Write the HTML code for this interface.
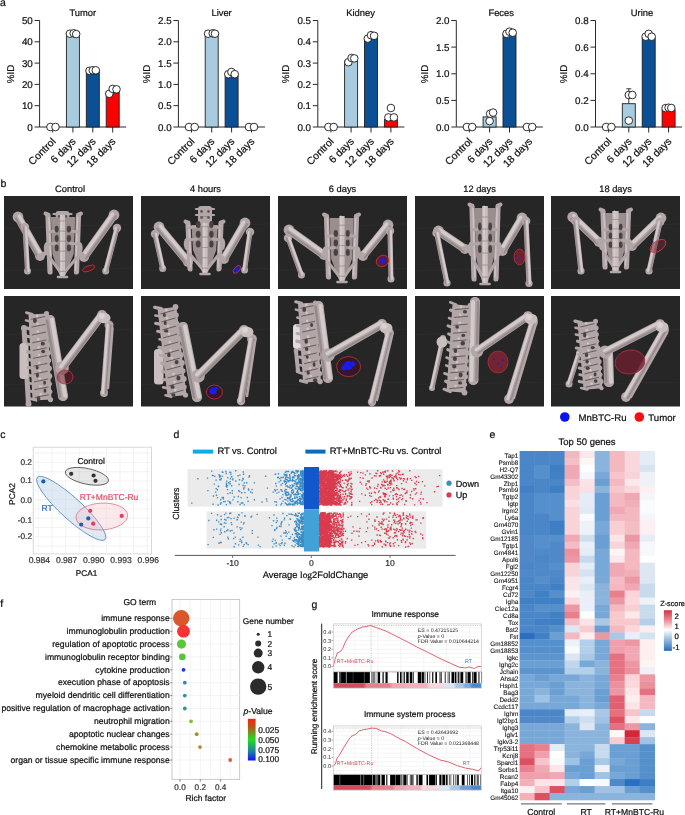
<!DOCTYPE html>
<html><head><meta charset="utf-8"><title>Figure</title>
<style>
html,body{margin:0;padding:0;background:#fff;width:685px;height:815px;overflow:hidden;}
svg{display:block;font-family:"Liberation Sans",sans-serif;will-change:transform;text-rendering:geometricPrecision;}
text{stroke:#111;stroke-width:0.22px;}
</style></head><body>
<svg width="685" height="815" viewBox="0 0 685 815" fill="#111">
<text x="0.0" y="6.2" font-size="10.5">a</text>
<text x="0.5" y="186.6" font-size="10.5">b</text>
<text x="0.3" y="438.2" font-size="10.5">c</text>
<text x="173.6" y="437.9" font-size="10.5">d</text>
<text x="489.5" y="438.4" font-size="10.5">e</text>
<text x="0.3" y="607.4" font-size="10.5">f</text>
<text x="311.6" y="607.7" font-size="10.5">g</text>
<text x="82.8" y="15.9" font-size="9.4" text-anchor="middle">Tumor</text>
<path d="M39.6 20.5V127.0H126.2" fill="none" stroke="#2a2a2a" stroke-width="1"/>
<path d="M34.6 127.0H39.6" stroke="#2a2a2a" stroke-width="1"/>
<text x="32.8" y="130.5" font-size="9.8" text-anchor="end">0</text>
<path d="M34.6 105.7H39.6" stroke="#2a2a2a" stroke-width="1"/>
<text x="32.8" y="109.2" font-size="9.8" text-anchor="end">10</text>
<path d="M34.6 84.4H39.6" stroke="#2a2a2a" stroke-width="1"/>
<text x="32.8" y="87.9" font-size="9.8" text-anchor="end">20</text>
<path d="M34.6 63.1H39.6" stroke="#2a2a2a" stroke-width="1"/>
<text x="32.8" y="66.6" font-size="9.8" text-anchor="end">30</text>
<path d="M34.6 41.8H39.6" stroke="#2a2a2a" stroke-width="1"/>
<text x="32.8" y="45.3" font-size="9.8" text-anchor="end">40</text>
<path d="M34.6 20.5H39.6" stroke="#2a2a2a" stroke-width="1"/>
<text x="32.8" y="24.0" font-size="9.8" text-anchor="end">50</text>
<text transform="translate(10.1,74.0) rotate(-90)" font-size="9.8" text-anchor="middle" y="3.5">%ID</text>
<path d="M52.7 127.0V132.5" stroke="#2a2a2a" stroke-width="1"/>
<circle cx="50.4" cy="127.0" r="3.8" fill="#fff" stroke="#1a1a1a" stroke-width="0.9"/>
<circle cx="55.5" cy="127.0" r="3.8" fill="#fff" stroke="#1a1a1a" stroke-width="0.9"/>
<text transform="translate(56.3,142.0) rotate(-45)" font-size="10.4" text-anchor="end">Control</text>
<path d="M72.9 127.0V132.5" stroke="#2a2a2a" stroke-width="1"/>
<rect x="66.4" y="33.3" width="13" height="93.7" fill="#a9cbe0" stroke="#222" stroke-width="0.9"/>
<circle cx="69.9" cy="33.7" r="3.8" fill="#fff" stroke="#1a1a1a" stroke-width="0.9"/>
<circle cx="73.7" cy="33.3" r="3.8" fill="#fff" stroke="#1a1a1a" stroke-width="0.9"/>
<circle cx="76.2" cy="34.1" r="3.8" fill="#fff" stroke="#1a1a1a" stroke-width="0.9"/>
<text transform="translate(76.5,142.0) rotate(-45)" font-size="10.4" text-anchor="end">6 days</text>
<path d="M92.8 127.0V132.5" stroke="#2a2a2a" stroke-width="1"/>
<rect x="86.3" y="70.6" width="13" height="56.4" fill="#0b4f95" stroke="#222" stroke-width="0.9"/>
<circle cx="89.5" cy="70.8" r="3.8" fill="#fff" stroke="#1a1a1a" stroke-width="0.9"/>
<circle cx="92.8" cy="70.3" r="3.8" fill="#fff" stroke="#1a1a1a" stroke-width="0.9"/>
<circle cx="95.8" cy="70.3" r="3.8" fill="#fff" stroke="#1a1a1a" stroke-width="0.9"/>
<text transform="translate(96.4,142.0) rotate(-45)" font-size="10.4" text-anchor="end">12 days</text>
<path d="M112.7 127.0V132.5" stroke="#2a2a2a" stroke-width="1"/>
<rect x="106.2" y="91.9" width="13" height="35.1" fill="#ff0000" stroke="#222" stroke-width="0.9"/>
<circle cx="109.3" cy="93.8" r="3.8" fill="#fff" stroke="#1a1a1a" stroke-width="0.9"/>
<circle cx="112.7" cy="88.9" r="3.8" fill="#fff" stroke="#1a1a1a" stroke-width="0.9"/>
<circle cx="116.5" cy="89.3" r="3.8" fill="#fff" stroke="#1a1a1a" stroke-width="0.9"/>
<text transform="translate(116.3,142.0) rotate(-45)" font-size="10.4" text-anchor="end">18 days</text>
<text x="221.6" y="15.9" font-size="9.4" text-anchor="middle">Liver</text>
<path d="M178.4 20.5V127.0H265.0" fill="none" stroke="#2a2a2a" stroke-width="1"/>
<path d="M173.4 127.0H178.4" stroke="#2a2a2a" stroke-width="1"/>
<text x="171.6" y="130.5" font-size="9.8" text-anchor="end">0.0</text>
<path d="M173.4 105.7H178.4" stroke="#2a2a2a" stroke-width="1"/>
<text x="171.6" y="109.2" font-size="9.8" text-anchor="end">0.5</text>
<path d="M173.4 84.4H178.4" stroke="#2a2a2a" stroke-width="1"/>
<text x="171.6" y="87.9" font-size="9.8" text-anchor="end">1.0</text>
<path d="M173.4 63.1H178.4" stroke="#2a2a2a" stroke-width="1"/>
<text x="171.6" y="66.6" font-size="9.8" text-anchor="end">1.5</text>
<path d="M173.4 41.8H178.4" stroke="#2a2a2a" stroke-width="1"/>
<text x="171.6" y="45.3" font-size="9.8" text-anchor="end">2.0</text>
<path d="M173.4 20.5H178.4" stroke="#2a2a2a" stroke-width="1"/>
<text x="171.6" y="24.0" font-size="9.8" text-anchor="end">2.5</text>
<text transform="translate(146.4,74.0) rotate(-90)" font-size="9.8" text-anchor="middle" y="3.5">%ID</text>
<path d="M191.5 127.0V132.5" stroke="#2a2a2a" stroke-width="1"/>
<circle cx="189.0" cy="127.0" r="3.8" fill="#fff" stroke="#1a1a1a" stroke-width="0.9"/>
<circle cx="194.7" cy="127.0" r="3.8" fill="#fff" stroke="#1a1a1a" stroke-width="0.9"/>
<text transform="translate(195.1,142.0) rotate(-45)" font-size="10.4" text-anchor="end">Control</text>
<path d="M211.7 127.0V132.5" stroke="#2a2a2a" stroke-width="1"/>
<rect x="205.2" y="33.3" width="13" height="93.7" fill="#a9cbe0" stroke="#222" stroke-width="0.9"/>
<circle cx="208.1" cy="33.7" r="3.8" fill="#fff" stroke="#1a1a1a" stroke-width="0.9"/>
<circle cx="212.7" cy="33.3" r="3.8" fill="#fff" stroke="#1a1a1a" stroke-width="0.9"/>
<circle cx="215.0" cy="33.7" r="3.8" fill="#fff" stroke="#1a1a1a" stroke-width="0.9"/>
<text transform="translate(215.3,142.0) rotate(-45)" font-size="10.4" text-anchor="end">6 days</text>
<path d="M231.6 127.0V132.5" stroke="#2a2a2a" stroke-width="1"/>
<rect x="225.1" y="75.9" width="13" height="51.1" fill="#0b4f95" stroke="#222" stroke-width="0.9"/>
<circle cx="228.3" cy="74.2" r="3.8" fill="#fff" stroke="#1a1a1a" stroke-width="0.9"/>
<circle cx="231.4" cy="72.0" r="3.8" fill="#fff" stroke="#1a1a1a" stroke-width="0.9"/>
<circle cx="234.7" cy="74.2" r="3.8" fill="#fff" stroke="#1a1a1a" stroke-width="0.9"/>
<text transform="translate(235.2,142.0) rotate(-45)" font-size="10.4" text-anchor="end">12 days</text>
<path d="M251.5 127.0V132.5" stroke="#2a2a2a" stroke-width="1"/>
<circle cx="249.0" cy="127.0" r="3.8" fill="#fff" stroke="#1a1a1a" stroke-width="0.9"/>
<circle cx="254.0" cy="127.0" r="3.8" fill="#fff" stroke="#1a1a1a" stroke-width="0.9"/>
<text transform="translate(255.1,142.0) rotate(-45)" font-size="10.4" text-anchor="end">18 days</text>
<text x="360.5" y="15.9" font-size="9.4" text-anchor="middle">Kidney</text>
<path d="M317.8 20.5V127.0H404.4" fill="none" stroke="#2a2a2a" stroke-width="1"/>
<path d="M312.8 127.0H317.8" stroke="#2a2a2a" stroke-width="1"/>
<text x="311.0" y="130.5" font-size="9.8" text-anchor="end">0.0</text>
<path d="M312.8 105.7H317.8" stroke="#2a2a2a" stroke-width="1"/>
<text x="311.0" y="109.2" font-size="9.8" text-anchor="end">0.1</text>
<path d="M312.8 84.4H317.8" stroke="#2a2a2a" stroke-width="1"/>
<text x="311.0" y="87.9" font-size="9.8" text-anchor="end">0.2</text>
<path d="M312.8 63.1H317.8" stroke="#2a2a2a" stroke-width="1"/>
<text x="311.0" y="66.6" font-size="9.8" text-anchor="end">0.3</text>
<path d="M312.8 41.8H317.8" stroke="#2a2a2a" stroke-width="1"/>
<text x="311.0" y="45.3" font-size="9.8" text-anchor="end">0.4</text>
<path d="M312.8 20.5H317.8" stroke="#2a2a2a" stroke-width="1"/>
<text x="311.0" y="24.0" font-size="9.8" text-anchor="end">0.5</text>
<text transform="translate(285.4,74.0) rotate(-90)" font-size="9.8" text-anchor="middle" y="3.5">%ID</text>
<path d="M330.9 127.0V132.5" stroke="#2a2a2a" stroke-width="1"/>
<circle cx="328.4" cy="127.0" r="3.8" fill="#fff" stroke="#1a1a1a" stroke-width="0.9"/>
<circle cx="333.7" cy="127.0" r="3.8" fill="#fff" stroke="#1a1a1a" stroke-width="0.9"/>
<text transform="translate(334.5,142.0) rotate(-45)" font-size="10.4" text-anchor="end">Control</text>
<path d="M351.1 127.0V132.5" stroke="#2a2a2a" stroke-width="1"/>
<rect x="344.6" y="61.0" width="13" height="66.0" fill="#a9cbe0" stroke="#222" stroke-width="0.9"/>
<circle cx="348.4" cy="62.2" r="3.8" fill="#fff" stroke="#1a1a1a" stroke-width="0.9"/>
<circle cx="351.6" cy="58.0" r="3.8" fill="#fff" stroke="#1a1a1a" stroke-width="0.9"/>
<circle cx="354.3" cy="58.4" r="3.8" fill="#fff" stroke="#1a1a1a" stroke-width="0.9"/>
<text transform="translate(354.7,142.0) rotate(-45)" font-size="10.4" text-anchor="end">6 days</text>
<path d="M371.0 127.0V132.5" stroke="#2a2a2a" stroke-width="1"/>
<rect x="364.5" y="37.5" width="13" height="89.5" fill="#0b4f95" stroke="#222" stroke-width="0.9"/>
<circle cx="367.8" cy="38.6" r="3.8" fill="#fff" stroke="#1a1a1a" stroke-width="0.9"/>
<circle cx="371.0" cy="35.2" r="3.8" fill="#fff" stroke="#1a1a1a" stroke-width="0.9"/>
<circle cx="374.1" cy="35.8" r="3.8" fill="#fff" stroke="#1a1a1a" stroke-width="0.9"/>
<text transform="translate(374.6,142.0) rotate(-45)" font-size="10.4" text-anchor="end">12 days</text>
<path d="M390.9 127.0V132.5" stroke="#2a2a2a" stroke-width="1"/>
<rect x="384.4" y="119.5" width="13" height="7.5" fill="#ff0000" stroke="#222" stroke-width="0.9"/>
<circle cx="390.9" cy="108.0" r="3.8" fill="#fff" stroke="#1a1a1a" stroke-width="0.9"/>
<circle cx="388.4" cy="117.4" r="3.8" fill="#fff" stroke="#1a1a1a" stroke-width="0.9"/>
<circle cx="393.9" cy="117.4" r="3.8" fill="#fff" stroke="#1a1a1a" stroke-width="0.9"/>
<text transform="translate(394.5,142.0) rotate(-45)" font-size="10.4" text-anchor="end">18 days</text>
<text x="501.2" y="15.9" font-size="9.4" text-anchor="middle">Feces</text>
<path d="M456.3 20.5V127.0H542.9" fill="none" stroke="#2a2a2a" stroke-width="1"/>
<path d="M451.3 127.0H456.3" stroke="#2a2a2a" stroke-width="1"/>
<text x="449.5" y="130.5" font-size="9.8" text-anchor="end">0.0</text>
<path d="M451.3 100.4H456.3" stroke="#2a2a2a" stroke-width="1"/>
<text x="449.5" y="103.9" font-size="9.8" text-anchor="end">0.5</text>
<path d="M451.3 73.8H456.3" stroke="#2a2a2a" stroke-width="1"/>
<text x="449.5" y="77.2" font-size="9.8" text-anchor="end">1.0</text>
<path d="M451.3 47.1H456.3" stroke="#2a2a2a" stroke-width="1"/>
<text x="449.5" y="50.6" font-size="9.8" text-anchor="end">1.5</text>
<path d="M451.3 20.5H456.3" stroke="#2a2a2a" stroke-width="1"/>
<text x="449.5" y="24.0" font-size="9.8" text-anchor="end">2.0</text>
<text transform="translate(424.6,74.0) rotate(-90)" font-size="9.8" text-anchor="middle" y="3.5">%ID</text>
<path d="M469.4 127.0V132.5" stroke="#2a2a2a" stroke-width="1"/>
<circle cx="466.9" cy="127.0" r="3.8" fill="#fff" stroke="#1a1a1a" stroke-width="0.9"/>
<circle cx="472.2" cy="127.0" r="3.8" fill="#fff" stroke="#1a1a1a" stroke-width="0.9"/>
<text transform="translate(473.0,142.0) rotate(-45)" font-size="10.4" text-anchor="end">Control</text>
<path d="M489.6 127.0V132.5" stroke="#2a2a2a" stroke-width="1"/>
<rect x="483.1" y="116.9" width="13" height="10.1" fill="#a9cbe0" stroke="#222" stroke-width="0.9"/>
<circle cx="489.6" cy="121.1" r="3.8" fill="#fff" stroke="#1a1a1a" stroke-width="0.9"/>
<circle cx="490.1" cy="113.7" r="3.8" fill="#fff" stroke="#1a1a1a" stroke-width="0.9"/>
<circle cx="493.1" cy="112.6" r="3.8" fill="#fff" stroke="#1a1a1a" stroke-width="0.9"/>
<text transform="translate(493.2,142.0) rotate(-45)" font-size="10.4" text-anchor="end">6 days</text>
<path d="M509.5 127.0V132.5" stroke="#2a2a2a" stroke-width="1"/>
<rect x="503.0" y="34.3" width="13" height="92.7" fill="#0b4f95" stroke="#222" stroke-width="0.9"/>
<circle cx="506.5" cy="33.8" r="3.8" fill="#fff" stroke="#1a1a1a" stroke-width="0.9"/>
<circle cx="509.5" cy="31.7" r="3.8" fill="#fff" stroke="#1a1a1a" stroke-width="0.9"/>
<circle cx="512.7" cy="32.7" r="3.8" fill="#fff" stroke="#1a1a1a" stroke-width="0.9"/>
<text transform="translate(513.1,142.0) rotate(-45)" font-size="10.4" text-anchor="end">12 days</text>
<path d="M529.4 127.0V132.5" stroke="#2a2a2a" stroke-width="1"/>
<circle cx="526.9" cy="127.0" r="3.8" fill="#fff" stroke="#1a1a1a" stroke-width="0.9"/>
<circle cx="532.2" cy="127.0" r="3.8" fill="#fff" stroke="#1a1a1a" stroke-width="0.9"/>
<text transform="translate(533.0,142.0) rotate(-45)" font-size="10.4" text-anchor="end">18 days</text>
<text x="642.0" y="15.9" font-size="9.4" text-anchor="middle">Urine</text>
<path d="M595.5 20.5V127.0H682.1" fill="none" stroke="#2a2a2a" stroke-width="1"/>
<path d="M590.5 127.0H595.5" stroke="#2a2a2a" stroke-width="1"/>
<text x="588.7" y="130.5" font-size="9.8" text-anchor="end">0.0</text>
<path d="M590.5 100.4H595.5" stroke="#2a2a2a" stroke-width="1"/>
<text x="588.7" y="103.9" font-size="9.8" text-anchor="end">0.2</text>
<path d="M590.5 73.8H595.5" stroke="#2a2a2a" stroke-width="1"/>
<text x="588.7" y="77.2" font-size="9.8" text-anchor="end">0.4</text>
<path d="M590.5 47.1H595.5" stroke="#2a2a2a" stroke-width="1"/>
<text x="588.7" y="50.6" font-size="9.8" text-anchor="end">0.6</text>
<path d="M590.5 20.5H595.5" stroke="#2a2a2a" stroke-width="1"/>
<text x="588.7" y="24.0" font-size="9.8" text-anchor="end">0.8</text>
<text transform="translate(563.4,74.0) rotate(-90)" font-size="9.8" text-anchor="middle" y="3.5">%ID</text>
<path d="M608.6 127.0V132.5" stroke="#2a2a2a" stroke-width="1"/>
<circle cx="606.1" cy="127.0" r="3.8" fill="#fff" stroke="#1a1a1a" stroke-width="0.9"/>
<circle cx="611.4" cy="127.0" r="3.8" fill="#fff" stroke="#1a1a1a" stroke-width="0.9"/>
<text transform="translate(612.2,142.0) rotate(-45)" font-size="10.4" text-anchor="end">Control</text>
<path d="M628.8 127.0V132.5" stroke="#2a2a2a" stroke-width="1"/>
<rect x="622.3" y="103.7" width="13" height="23.3" fill="#a9cbe0" stroke="#222" stroke-width="0.9"/>
<path d="M628.8 103.7V88.8M626.3 88.8H631.3" stroke="#222" stroke-width="0.9"/>
<circle cx="628.8" cy="120.6" r="3.8" fill="#fff" stroke="#1a1a1a" stroke-width="0.9"/>
<circle cx="628.8" cy="95.0" r="3.8" fill="#fff" stroke="#1a1a1a" stroke-width="0.9"/>
<circle cx="632.3" cy="95.0" r="3.8" fill="#fff" stroke="#1a1a1a" stroke-width="0.9"/>
<text transform="translate(632.4,142.0) rotate(-45)" font-size="10.4" text-anchor="end">6 days</text>
<path d="M648.7 127.0V132.5" stroke="#2a2a2a" stroke-width="1"/>
<rect x="642.2" y="37.8" width="13" height="89.2" fill="#0b4f95" stroke="#222" stroke-width="0.9"/>
<circle cx="645.7" cy="36.7" r="3.8" fill="#fff" stroke="#1a1a1a" stroke-width="0.9"/>
<circle cx="648.7" cy="33.8" r="3.8" fill="#fff" stroke="#1a1a1a" stroke-width="0.9"/>
<circle cx="651.7" cy="36.7" r="3.8" fill="#fff" stroke="#1a1a1a" stroke-width="0.9"/>
<text transform="translate(652.3,142.0) rotate(-45)" font-size="10.4" text-anchor="end">12 days</text>
<path d="M668.6 127.0V132.5" stroke="#2a2a2a" stroke-width="1"/>
<rect x="662.1" y="109.7" width="13" height="17.3" fill="#ff0000" stroke="#222" stroke-width="0.9"/>
<circle cx="665.6" cy="108.1" r="3.8" fill="#fff" stroke="#1a1a1a" stroke-width="0.9"/>
<circle cx="668.6" cy="107.7" r="3.8" fill="#fff" stroke="#1a1a1a" stroke-width="0.9"/>
<circle cx="671.3" cy="108.0" r="3.8" fill="#fff" stroke="#1a1a1a" stroke-width="0.9"/>
<text transform="translate(672.2,142.0) rotate(-45)" font-size="10.4" text-anchor="end">18 days</text>
<text x="70.1" y="191.8" font-size="9.3" text-anchor="middle">Control</text>
<text x="205.5" y="191.8" font-size="9.3" text-anchor="middle">4 hours</text>
<text x="342.5" y="191.8" font-size="9.3" text-anchor="middle">6 days</text>
<text x="479.5" y="191.8" font-size="9.3" text-anchor="middle">12 days</text>
<text x="615.5" y="191.8" font-size="9.3" text-anchor="middle">18 days</text>
<circle cx="564.8" cy="417" r="4.8" fill="#0a14f0"/>
<text x="578.5" y="420.6" font-size="9.6">MnBTC-Ru</text>
<circle cx="639.3" cy="417" r="4.8" fill="#f01010"/>
<text x="648.3" y="420.6" font-size="9.6">Tumor</text>
<defs><filter id="soft" x="-0.05" y="-0.05" width="1.1" height="1.1"><feGaussianBlur stdDeviation="0.35"/></filter></defs>
<svg x="4" y="196" width="129" height="93" overflow="hidden"><rect width="129" height="93" fill="#262626"/><path d="M0 32.5L129 27.9M0 74.4L129 72.5" stroke="#333" stroke-width="0.5"/><g filter="url(#soft)"><path d="M14.0 21.0L36.0 60.0" stroke="#b2a6a7" stroke-width="8.3" stroke-linecap="round"/><circle cx="14.0" cy="21.0" r="5.4" fill="#b2a6a7"/><circle cx="36.0" cy="60.0" r="5.0" fill="#b2a6a7"/><path d="M15.4 20.2L37.4 59.2" stroke="#e2dada" stroke-width="3.3" stroke-linecap="round" opacity="0.7"/><path d="M11.8 22.2L33.8 61.2" stroke="#857a7b" stroke-width="2.1" stroke-linecap="round" opacity="0.6"/><path d="M21.0 31.0L23.5 75.0" stroke="#b2a6a7" stroke-width="5.0" stroke-linecap="round"/><circle cx="21.0" cy="31.0" r="4.2" fill="#b2a6a7"/><circle cx="23.5" cy="75.0" r="3.5" fill="#b2a6a7"/><path d="M22.0 30.9L24.5 74.9" stroke="#e2dada" stroke-width="2.0" stroke-linecap="round" opacity="0.7"/><path d="M19.5 31.1L22.0 75.1" stroke="#857a7b" stroke-width="1.2" stroke-linecap="round" opacity="0.6"/><path d="M35.0 60.0L42.0 57.0" stroke="#b2a6a7" stroke-width="4.5" stroke-linecap="round"/><polygon points="46.9,21.0 71.3,21.0 69.7,57.9 61.5,79.0 55.5,79.0 48.4,57.9" fill="#9a8e8f"/><rect x="51.5" y="15.0" width="14" height="7.0" rx="3" fill="#b2a6a7"/><path d="M49.5 18.0L67.5 18.0" stroke="#b2a6a7" stroke-width="2.2" stroke-linecap="round"/><ellipse cx="55.0" cy="20.5" rx="1.3" ry="1.4" fill="#5e5456"/><ellipse cx="62.0" cy="20.5" rx="1.3" ry="1.4" fill="#5e5456"/><path d="M44.0 19.0L46.0 76.0" stroke="#b2a6a7" stroke-width="5.2" stroke-linecap="round"/><ellipse cx="42.8" cy="51.9" rx="3" ry="6.0" fill="#b2a6a7"/><path d="M45.0 21.0L47.0 74.0" stroke="#e2dada" stroke-width="1.5" stroke-linecap="round" opacity="0.55"/><path d="M44.0 19.0L41.5 17.5" stroke="#b2a6a7" stroke-width="4" stroke-linecap="round"/><path d="M51.2 35.1L44.0 36.1" stroke="#b2a6a7" stroke-width="3" stroke-linecap="round"/><path d="M51.2 47.2L44.0 48.2" stroke="#b2a6a7" stroke-width="3" stroke-linecap="round"/><ellipse cx="52.7" cy="33.1" rx="2.0" ry="3.4" fill="#4a4143"/><ellipse cx="52.7" cy="42.5" rx="2.0" ry="3.4" fill="#4a4143"/><ellipse cx="52.7" cy="51.9" rx="2.0" ry="3.4" fill="#4a4143"/><path d="M46.0 61.9L58.5 79.0" stroke="#b2a6a7" stroke-width="3" stroke-linecap="round"/><path d="M74.5 19.0L72.5 76.0" stroke="#b2a6a7" stroke-width="5.2" stroke-linecap="round"/><ellipse cx="75.7" cy="51.9" rx="3" ry="6.0" fill="#b2a6a7"/><path d="M73.5 21.0L71.5 74.0" stroke="#e2dada" stroke-width="1.5" stroke-linecap="round" opacity="0.55"/><path d="M74.5 19.0L77.0 17.5" stroke="#b2a6a7" stroke-width="4" stroke-linecap="round"/><path d="M66.5 35.1L74.5 36.1" stroke="#b2a6a7" stroke-width="3" stroke-linecap="round"/><path d="M66.5 47.2L74.5 48.2" stroke="#b2a6a7" stroke-width="3" stroke-linecap="round"/><ellipse cx="64.9" cy="33.1" rx="2.2" ry="3.4" fill="#4a4143"/><ellipse cx="64.9" cy="42.5" rx="2.2" ry="3.4" fill="#4a4143"/><ellipse cx="64.9" cy="51.9" rx="2.2" ry="3.4" fill="#4a4143"/><path d="M72.5 61.9L58.5 79.0" stroke="#b2a6a7" stroke-width="3" stroke-linecap="round"/><path d="M58.5 19.0L58.5 82.0" stroke="#c9bfbf" stroke-width="5.25" stroke-linecap="butt"/><path d="M57.5 19.0L57.5 80.0" stroke="#e2dada" stroke-width="1.4" stroke-linecap="round" opacity="0.55"/><path d="M55.9 25.0L61.1 25.0" stroke="#6e6466" stroke-width="0.8" stroke-linecap="round" opacity="0.6"/><path d="M55.9 35.1L61.1 35.1" stroke="#6e6466" stroke-width="0.8" stroke-linecap="round" opacity="0.6"/><path d="M55.9 45.2L61.1 45.2" stroke="#6e6466" stroke-width="0.8" stroke-linecap="round" opacity="0.6"/><path d="M55.9 55.2L61.1 55.2" stroke="#6e6466" stroke-width="0.8" stroke-linecap="round" opacity="0.6"/><path d="M55.9 65.2L61.1 65.2" stroke="#6e6466" stroke-width="0.8" stroke-linecap="round" opacity="0.6"/><path d="M55.9 75.3L61.1 75.3" stroke="#6e6466" stroke-width="0.8" stroke-linecap="round" opacity="0.6"/><path d="M54.0 81.0L63.0 81.0" stroke="#b2a6a7" stroke-width="2.6" stroke-linecap="round"/><path d="M110.0 19.0L80.0 61.0" stroke="#b2a6a7" stroke-width="8.3" stroke-linecap="round"/><circle cx="110.0" cy="19.0" r="5.4" fill="#b2a6a7"/><circle cx="80.0" cy="61.0" r="5.0" fill="#b2a6a7"/><path d="M108.6 18.0L78.6 60.0" stroke="#e2dada" stroke-width="3.3" stroke-linecap="round" opacity="0.7"/><path d="M112.0 20.4L82.0 62.4" stroke="#857a7b" stroke-width="2.1" stroke-linecap="round" opacity="0.6"/><path d="M113.0 32.0L101.7 75.0" stroke="#b2a6a7" stroke-width="5.0" stroke-linecap="round"/><circle cx="113.0" cy="32.0" r="4.2" fill="#b2a6a7"/><circle cx="101.7" cy="75.0" r="3.5" fill="#b2a6a7"/><path d="M112.0 31.7L100.7 74.7" stroke="#e2dada" stroke-width="2.0" stroke-linecap="round" opacity="0.7"/><path d="M114.5 32.4L103.2 75.4" stroke="#857a7b" stroke-width="1.2" stroke-linecap="round" opacity="0.6"/><path d="M80.0 60.0L75.0 57.0" stroke="#b2a6a7" stroke-width="4.5" stroke-linecap="round"/><ellipse cx="84.7" cy="72.5" rx="6.5" ry="2.6" transform="rotate(-20 84.7 72.5)" fill="#5a1a20" fill-opacity="0.7" stroke="#c83040" stroke-width="0.8"/></g></svg>
<svg x="4" y="296" width="129" height="110.5" overflow="hidden"><rect width="129" height="110.5" fill="#262626"/><path d="M0 38.7L129 33.1M0 88.4L129 86.2" stroke="#333" stroke-width="0.5"/><g filter="url(#soft)"><path d="M20.0 32.0L24.5 108.0" stroke="#b2a6a7" stroke-width="5" stroke-linecap="round"/><circle cx="20.0" cy="32.0" r="3.0" fill="#b2a6a7"/><circle cx="24.5" cy="108.0" r="3.0" fill="#b2a6a7"/><rect x="15.5" y="47" width="9" height="36" rx="3.5" fill="#c9bfbf"/><path d="M34.0 18.0L38.0 104.0" stroke="#b2a6a7" stroke-width="19" stroke-linecap="butt"/><path d="M28.3 18.3L22.4 16.6" stroke="#b2a6a7" stroke-width="2.7699551665480793" stroke-linecap="round"/><circle cx="42.5" cy="17.6" r="2.6" fill="#b2a6a7"/><path d="M28.7 26.1L22.0 24.3" stroke="#b2a6a7" stroke-width="2.4131679915548743" stroke-linecap="round"/><circle cx="42.9" cy="25.4" r="2.8" fill="#b2a6a7"/><path d="M29.0 33.9L23.1 32.2" stroke="#b2a6a7" stroke-width="3.3956448355104625" stroke-linecap="round"/><circle cx="43.3" cy="33.2" r="2.5" fill="#b2a6a7"/><path d="M29.4 41.7L22.3 40.0" stroke="#b2a6a7" stroke-width="3.039068140544162" stroke-linecap="round"/><circle cx="43.6" cy="41.1" r="2.2" fill="#b2a6a7"/><path d="M29.8 49.5L23.1 47.9" stroke="#b2a6a7" stroke-width="2.9231812103833015" stroke-linecap="round"/><circle cx="44.0" cy="48.9" r="2.7" fill="#b2a6a7"/><path d="M30.1 57.4L23.4 55.6" stroke="#b2a6a7" stroke-width="3.1582302462868173" stroke-linecap="round"/><circle cx="44.4" cy="56.7" r="2.6" fill="#b2a6a7"/><path d="M30.5 65.2L24.5 63.4" stroke="#b2a6a7" stroke-width="3.2655272369789454" stroke-linecap="round"/><circle cx="44.7" cy="64.5" r="2.5" fill="#b2a6a7"/><path d="M30.9 73.0L24.0 71.3" stroke="#b2a6a7" stroke-width="3.1141294836112023" stroke-linecap="round"/><circle cx="45.1" cy="72.3" r="2.9" fill="#b2a6a7"/><path d="M31.2 80.8L25.0 79.1" stroke="#b2a6a7" stroke-width="2.8446210560507605" stroke-linecap="round"/><circle cx="45.4" cy="80.1" r="2.9" fill="#b2a6a7"/><path d="M31.6 88.6L24.4 86.9" stroke="#b2a6a7" stroke-width="2.535968860200669" stroke-linecap="round"/><circle cx="45.8" cy="88.0" r="2.2" fill="#b2a6a7"/><path d="M31.9 96.4L24.6 94.7" stroke="#b2a6a7" stroke-width="3.0266482908668038" stroke-linecap="round"/><circle cx="46.2" cy="95.8" r="2.3" fill="#b2a6a7"/><path d="M32.3 104.3L25.9 102.5" stroke="#b2a6a7" stroke-width="2.75091048877018" stroke-linecap="round"/><circle cx="46.5" cy="103.6" r="2.6" fill="#b2a6a7"/><path d="M40.8 20.6L27.5 23.2" stroke="#4a4143" stroke-width="0.9" stroke-linecap="round" opacity="0.8"/><ellipse cx="30.9" cy="24.6" rx="1.9" ry="2.5" fill="#3e3537" opacity="0.9"/><circle cx="33.1" cy="20.0" r="1.3" fill="#e2dada" opacity="0.6"/><path d="M41.2 28.4L27.9 31.0" stroke="#4a4143" stroke-width="0.9" stroke-linecap="round" opacity="0.8"/><circle cx="33.5" cy="27.8" r="1.3" fill="#e2dada" opacity="0.6"/><path d="M41.6 36.2L28.3 38.9" stroke="#4a4143" stroke-width="0.9" stroke-linecap="round" opacity="0.8"/><circle cx="33.9" cy="35.6" r="1.3" fill="#e2dada" opacity="0.6"/><path d="M41.9 44.1L28.6 46.7" stroke="#4a4143" stroke-width="0.9" stroke-linecap="round" opacity="0.8"/><ellipse cx="38.8" cy="47.7" rx="2.0" ry="1.9" fill="#3e3537" opacity="0.9"/><circle cx="34.2" cy="43.4" r="1.3" fill="#e2dada" opacity="0.6"/><path d="M42.3 51.9L29.0 54.5" stroke="#4a4143" stroke-width="0.9" stroke-linecap="round" opacity="0.8"/><ellipse cx="39.2" cy="55.5" rx="2.0" ry="1.8" fill="#3e3537" opacity="0.9"/><circle cx="34.6" cy="51.2" r="1.3" fill="#e2dada" opacity="0.6"/><path d="M42.6 59.7L29.4 62.3" stroke="#4a4143" stroke-width="0.9" stroke-linecap="round" opacity="0.8"/><circle cx="35.0" cy="59.0" r="1.3" fill="#e2dada" opacity="0.6"/><path d="M43.0 67.5L29.7 70.1" stroke="#4a4143" stroke-width="0.9" stroke-linecap="round" opacity="0.8"/><ellipse cx="33.1" cy="71.5" rx="1.5" ry="2.1" fill="#3e3537" opacity="0.9"/><circle cx="35.3" cy="66.9" r="1.3" fill="#e2dada" opacity="0.6"/><path d="M43.4 75.3L30.1 77.9" stroke="#4a4143" stroke-width="0.9" stroke-linecap="round" opacity="0.8"/><ellipse cx="33.4" cy="79.3" rx="1.5" ry="2.4" fill="#3e3537" opacity="0.9"/><circle cx="35.7" cy="74.7" r="1.3" fill="#e2dada" opacity="0.6"/><path d="M43.7 83.1L30.4 85.8" stroke="#4a4143" stroke-width="0.9" stroke-linecap="round" opacity="0.8"/><ellipse cx="40.6" cy="86.8" rx="1.4" ry="2.0" fill="#3e3537" opacity="0.9"/><circle cx="36.0" cy="82.5" r="1.3" fill="#e2dada" opacity="0.6"/><path d="M44.1 91.0L30.8 93.6" stroke="#4a4143" stroke-width="0.9" stroke-linecap="round" opacity="0.8"/><ellipse cx="41.0" cy="94.6" rx="1.4" ry="2.2" fill="#3e3537" opacity="0.9"/><circle cx="36.4" cy="90.3" r="1.3" fill="#e2dada" opacity="0.6"/><path d="M44.5 98.8L31.2 101.4" stroke="#4a4143" stroke-width="0.9" stroke-linecap="round" opacity="0.8"/><ellipse cx="34.5" cy="102.7" rx="1.8" ry="2.5" fill="#3e3537" opacity="0.9"/><circle cx="36.8" cy="98.1" r="1.3" fill="#e2dada" opacity="0.6"/><path d="M46.0 24.0L59.0 100.0" stroke="#b2a6a7" stroke-width="10" stroke-linecap="round"/><circle cx="46.0" cy="24.0" r="5.0" fill="#b2a6a7"/><circle cx="59.0" cy="100.0" r="5.0" fill="#b2a6a7"/><path d="M48.0 23.7L61.0 99.7" stroke="#e2dada" stroke-width="4.0" stroke-linecap="round" opacity="0.7"/><path d="M43.0 24.5L56.0 100.5" stroke="#857a7b" stroke-width="2.5" stroke-linecap="round" opacity="0.6"/><path d="M98.0 19.0L58.0 72.0" stroke="#b2a6a7" stroke-width="8.5" stroke-linecap="round"/><circle cx="98.0" cy="19.0" r="5.1" fill="#b2a6a7"/><circle cx="58.0" cy="72.0" r="6.8" fill="#b2a6a7"/><path d="M96.6 18.0L56.6 71.0" stroke="#e2dada" stroke-width="3.4" stroke-linecap="round" opacity="0.7"/><path d="M100.0 20.5L60.0 73.5" stroke="#857a7b" stroke-width="2.1" stroke-linecap="round" opacity="0.6"/><path d="M105.0 29.0L100.0 97.0" stroke="#b2a6a7" stroke-width="6.5" stroke-linecap="round"/><circle cx="105.0" cy="29.0" r="4.5" fill="#b2a6a7"/><circle cx="100.0" cy="97.0" r="3.9" fill="#b2a6a7"/><path d="M103.7 28.9L98.7 96.9" stroke="#e2dada" stroke-width="2.6" stroke-linecap="round" opacity="0.7"/><path d="M106.9 29.1L101.9 97.1" stroke="#857a7b" stroke-width="1.6" stroke-linecap="round" opacity="0.6"/><path d="M108.5 32.0L104.0 92.0" stroke="#b2a6a7" stroke-width="2.5" stroke-linecap="round"/><ellipse cx="100" cy="22" rx="6.5" ry="5.2" fill="#c9bfbf"/><circle cx="98.0" cy="20.1" r="2.9" fill="#e2dada" opacity="0.7"/><ellipse cx="61" cy="81" rx="8" ry="7" transform="rotate(0 61 81)" fill="#6a1c26" fill-opacity="0.5" stroke="#c83040" stroke-width="0.8"/></g></svg>
<svg x="141" y="196" width="129" height="93" overflow="hidden"><rect width="129" height="93" fill="#262626"/><path d="M0 32.5L129 27.9M0 74.4L129 72.5" stroke="#333" stroke-width="0.5"/><g filter="url(#soft)"><path d="M18.0 31.0L47.0 66.0" stroke="#b2a6a7" stroke-width="8.3" stroke-linecap="round"/><circle cx="18.0" cy="31.0" r="5.4" fill="#b2a6a7"/><circle cx="47.0" cy="66.0" r="5.0" fill="#b2a6a7"/><path d="M19.3 29.9L48.3 64.9" stroke="#e2dada" stroke-width="3.3" stroke-linecap="round" opacity="0.7"/><path d="M16.1 32.6L45.1 67.6" stroke="#857a7b" stroke-width="2.1" stroke-linecap="round" opacity="0.6"/><path d="M14.0 38.0L21.7 72.5" stroke="#b2a6a7" stroke-width="5.0" stroke-linecap="round"/><circle cx="14.0" cy="38.0" r="4.2" fill="#b2a6a7"/><circle cx="21.7" cy="72.5" r="3.5" fill="#b2a6a7"/><path d="M15.0 37.8L22.7 72.3" stroke="#e2dada" stroke-width="2.0" stroke-linecap="round" opacity="0.7"/><path d="M12.5 38.3L20.2 72.8" stroke="#857a7b" stroke-width="1.2" stroke-linecap="round" opacity="0.6"/><path d="M46.0 66.0L51.0 63.0" stroke="#b2a6a7" stroke-width="4.5" stroke-linecap="round"/><polygon points="50.4,29.0 76.8,29.0 75.2,54.2 67.0,76.0 61.0,76.0 52.1,54.2" fill="#9a8e8f"/><rect x="57.0" y="10.0" width="14" height="20.0" rx="3" fill="#b2a6a7"/><path d="M55.0 13.0L73.0 13.0" stroke="#b2a6a7" stroke-width="2.2" stroke-linecap="round"/><ellipse cx="60.5" cy="15.5" rx="1.3" ry="1.4" fill="#5e5456"/><ellipse cx="67.5" cy="15.5" rx="1.3" ry="1.4" fill="#5e5456"/><path d="M55.0 19.0L73.0 19.0" stroke="#b2a6a7" stroke-width="2.2" stroke-linecap="round"/><ellipse cx="60.5" cy="21.5" rx="1.3" ry="1.4" fill="#5e5456"/><ellipse cx="67.5" cy="21.5" rx="1.3" ry="1.4" fill="#5e5456"/><path d="M47.0 27.0L49.0 73.0" stroke="#b2a6a7" stroke-width="5.2" stroke-linecap="round"/><ellipse cx="45.8" cy="48.0" rx="3" ry="6.2" fill="#b2a6a7"/><path d="M48.0 29.0L50.0 71.0" stroke="#e2dada" stroke-width="1.5" stroke-linecap="round" opacity="0.55"/><path d="M47.0 27.0L44.5 25.5" stroke="#b2a6a7" stroke-width="4" stroke-linecap="round"/><path d="M55.5 30.7L47.0 31.7" stroke="#b2a6a7" stroke-width="3" stroke-linecap="round"/><path d="M55.5 43.1L47.0 44.1" stroke="#b2a6a7" stroke-width="3" stroke-linecap="round"/><ellipse cx="57.2" cy="28.6" rx="2.4" ry="3.5" fill="#4a4143"/><ellipse cx="57.2" cy="38.3" rx="2.4" ry="3.5" fill="#4a4143"/><ellipse cx="57.2" cy="48.0" rx="2.4" ry="3.5" fill="#4a4143"/><path d="M49.0 58.3L64.0 76.0" stroke="#b2a6a7" stroke-width="3" stroke-linecap="round"/><path d="M80.0 27.0L78.0 73.0" stroke="#b2a6a7" stroke-width="5.2" stroke-linecap="round"/><ellipse cx="81.2" cy="48.0" rx="3" ry="6.2" fill="#b2a6a7"/><path d="M79.0 29.0L77.0 71.0" stroke="#e2dada" stroke-width="1.5" stroke-linecap="round" opacity="0.55"/><path d="M80.0 27.0L82.5 25.5" stroke="#b2a6a7" stroke-width="4" stroke-linecap="round"/><path d="M72.0 30.7L80.0 31.7" stroke="#b2a6a7" stroke-width="3" stroke-linecap="round"/><path d="M72.0 43.1L80.0 44.1" stroke="#b2a6a7" stroke-width="3" stroke-linecap="round"/><ellipse cx="70.4" cy="28.6" rx="2.2" ry="3.5" fill="#4a4143"/><ellipse cx="70.4" cy="38.3" rx="2.2" ry="3.5" fill="#4a4143"/><ellipse cx="70.4" cy="48.0" rx="2.2" ry="3.5" fill="#4a4143"/><path d="M78.0 58.3L64.0 76.0" stroke="#b2a6a7" stroke-width="3" stroke-linecap="round"/><path d="M64.0 27.0L64.0 79.0" stroke="#c9bfbf" stroke-width="5.25" stroke-linecap="butt"/><path d="M63.0 27.0L63.0 77.0" stroke="#e2dada" stroke-width="1.4" stroke-linecap="round" opacity="0.55"/><path d="M61.4 20.4L66.6 20.4" stroke="#6e6466" stroke-width="0.8" stroke-linecap="round" opacity="0.6"/><path d="M61.4 30.7L66.6 30.7" stroke="#6e6466" stroke-width="0.8" stroke-linecap="round" opacity="0.6"/><path d="M61.4 41.0L66.6 41.0" stroke="#6e6466" stroke-width="0.8" stroke-linecap="round" opacity="0.6"/><path d="M61.4 51.4L66.6 51.4" stroke="#6e6466" stroke-width="0.8" stroke-linecap="round" opacity="0.6"/><path d="M61.4 61.8L66.6 61.8" stroke="#6e6466" stroke-width="0.8" stroke-linecap="round" opacity="0.6"/><path d="M61.4 72.1L66.6 72.1" stroke="#6e6466" stroke-width="0.8" stroke-linecap="round" opacity="0.6"/><path d="M59.5 78.0L68.5 78.0" stroke="#b2a6a7" stroke-width="2.6" stroke-linecap="round"/><path d="M104.0 27.0L83.0 63.0" stroke="#b2a6a7" stroke-width="8.3" stroke-linecap="round"/><circle cx="104.0" cy="27.0" r="5.4" fill="#b2a6a7"/><circle cx="83.0" cy="63.0" r="5.0" fill="#b2a6a7"/><path d="M102.6 26.2L81.6 62.2" stroke="#e2dada" stroke-width="3.3" stroke-linecap="round" opacity="0.7"/><path d="M106.2 28.3L85.2 64.3" stroke="#857a7b" stroke-width="2.1" stroke-linecap="round" opacity="0.6"/><path d="M109.0 36.0L103.6 74.0" stroke="#b2a6a7" stroke-width="5.0" stroke-linecap="round"/><circle cx="109.0" cy="36.0" r="4.2" fill="#b2a6a7"/><circle cx="103.6" cy="74.0" r="3.5" fill="#b2a6a7"/><path d="M108.0 35.9L102.6 73.9" stroke="#e2dada" stroke-width="2.0" stroke-linecap="round" opacity="0.7"/><path d="M110.5 36.2L105.1 74.2" stroke="#857a7b" stroke-width="1.2" stroke-linecap="round" opacity="0.6"/><path d="M83.0 63.0L78.0 60.0" stroke="#b2a6a7" stroke-width="4.5" stroke-linecap="round"/><ellipse cx="96" cy="73.4" rx="4.8" ry="2.6" transform="rotate(-45 96 73.4)" fill="#2020c0" fill-opacity="0.9" stroke="#c83040" stroke-width="0.8"/></g></svg>
<svg x="141" y="296" width="129" height="110.5" overflow="hidden"><rect width="129" height="110.5" fill="#262626"/><path d="M0 38.7L129 33.1M0 88.4L129 86.2" stroke="#333" stroke-width="0.5"/><g filter="url(#soft)"><rect x="13" y="53" width="9.6" height="35.5" rx="3.5" fill="#c9bfbf"/><path d="M26.0 12.0L36.0 100.0" stroke="#b2a6a7" stroke-width="19" stroke-linecap="butt"/><path d="M20.3 12.6L13.6 11.4" stroke="#b2a6a7" stroke-width="3.1951935655656967" stroke-linecap="round"/><circle cx="34.5" cy="11.0" r="2.9" fill="#b2a6a7"/><path d="M21.2 20.6L14.3 19.5" stroke="#b2a6a7" stroke-width="2.4290052282836148" stroke-linecap="round"/><circle cx="35.4" cy="19.0" r="2.5" fill="#b2a6a7"/><path d="M22.2 28.6L14.8 27.4" stroke="#b2a6a7" stroke-width="3.300900491750623" stroke-linecap="round"/><circle cx="36.3" cy="27.0" r="2.1" fill="#b2a6a7"/><path d="M23.1 36.6L16.6 35.3" stroke="#b2a6a7" stroke-width="2.9437608592359306" stroke-linecap="round"/><circle cx="37.2" cy="35.0" r="2.6" fill="#b2a6a7"/><path d="M24.0 44.6L18.5 43.3" stroke="#b2a6a7" stroke-width="2.6794823660111105" stroke-linecap="round"/><circle cx="38.1" cy="43.0" r="2.9" fill="#b2a6a7"/><path d="M24.9 52.6L17.9 51.3" stroke="#b2a6a7" stroke-width="3.1971469914312043" stroke-linecap="round"/><circle cx="39.0" cy="51.0" r="2.1" fill="#b2a6a7"/><path d="M25.8 60.6L19.1 59.3" stroke="#b2a6a7" stroke-width="2.4017748622025348" stroke-linecap="round"/><circle cx="39.9" cy="59.0" r="2.9" fill="#b2a6a7"/><path d="M26.7 68.6L20.8 67.3" stroke="#b2a6a7" stroke-width="3.382421108825925" stroke-linecap="round"/><circle cx="40.9" cy="67.0" r="2.9" fill="#b2a6a7"/><path d="M27.6 76.6L21.5 75.5" stroke="#b2a6a7" stroke-width="2.9392234688708108" stroke-linecap="round"/><circle cx="41.8" cy="75.0" r="2.7" fill="#b2a6a7"/><path d="M28.5 84.6L22.6 83.5" stroke="#b2a6a7" stroke-width="3.090641941106908" stroke-linecap="round"/><circle cx="42.7" cy="83.0" r="3.0" fill="#b2a6a7"/><path d="M29.4 92.6L22.2 91.3" stroke="#b2a6a7" stroke-width="2.761189934722384" stroke-linecap="round"/><circle cx="43.6" cy="91.0" r="2.2" fill="#b2a6a7"/><path d="M30.3 100.6L24.6 99.3" stroke="#b2a6a7" stroke-width="2.701359100769462" stroke-linecap="round"/><circle cx="44.5" cy="99.0" r="2.6" fill="#b2a6a7"/><path d="M33.1 14.2L19.8 17.8" stroke="#4a4143" stroke-width="0.9" stroke-linecap="round" opacity="0.8"/><ellipse cx="23.3" cy="18.9" rx="1.5" ry="2.0" fill="#3e3537" opacity="0.9"/><circle cx="25.3" cy="14.1" r="1.3" fill="#e2dada" opacity="0.6"/><path d="M34.0 22.2L20.8 25.8" stroke="#4a4143" stroke-width="0.9" stroke-linecap="round" opacity="0.8"/><ellipse cx="24.2" cy="26.9" rx="1.5" ry="2.1" fill="#3e3537" opacity="0.9"/><circle cx="26.2" cy="22.1" r="1.3" fill="#e2dada" opacity="0.6"/><path d="M34.9 30.2L21.7 33.8" stroke="#4a4143" stroke-width="0.9" stroke-linecap="round" opacity="0.8"/><ellipse cx="25.2" cy="34.9" rx="2.2" ry="1.6" fill="#3e3537" opacity="0.9"/><circle cx="27.1" cy="30.1" r="1.3" fill="#e2dada" opacity="0.6"/><path d="M35.8 38.2L22.6 41.8" stroke="#4a4143" stroke-width="0.9" stroke-linecap="round" opacity="0.8"/><circle cx="28.0" cy="38.1" r="1.3" fill="#e2dada" opacity="0.6"/><path d="M36.7 46.2L23.5 49.8" stroke="#4a4143" stroke-width="0.9" stroke-linecap="round" opacity="0.8"/><circle cx="28.9" cy="46.1" r="1.3" fill="#e2dada" opacity="0.6"/><path d="M37.6 54.2L24.4 57.8" stroke="#4a4143" stroke-width="0.9" stroke-linecap="round" opacity="0.8"/><ellipse cx="27.9" cy="58.9" rx="1.7" ry="2.2" fill="#3e3537" opacity="0.9"/><circle cx="29.8" cy="54.1" r="1.3" fill="#e2dada" opacity="0.6"/><path d="M38.5 62.2L25.3 65.8" stroke="#4a4143" stroke-width="0.9" stroke-linecap="round" opacity="0.8"/><ellipse cx="35.6" cy="66.1" rx="2.0" ry="2.2" fill="#3e3537" opacity="0.9"/><circle cx="30.7" cy="62.1" r="1.3" fill="#e2dada" opacity="0.6"/><path d="M39.4 70.2L26.2 73.8" stroke="#4a4143" stroke-width="0.9" stroke-linecap="round" opacity="0.8"/><circle cx="31.6" cy="70.1" r="1.3" fill="#e2dada" opacity="0.6"/><path d="M40.3 78.2L27.1 81.8" stroke="#4a4143" stroke-width="0.9" stroke-linecap="round" opacity="0.8"/><ellipse cx="37.4" cy="82.1" rx="2.1" ry="2.5" fill="#3e3537" opacity="0.9"/><circle cx="32.6" cy="78.1" r="1.3" fill="#e2dada" opacity="0.6"/><path d="M41.2 86.2L28.0 89.8" stroke="#4a4143" stroke-width="0.9" stroke-linecap="round" opacity="0.8"/><ellipse cx="31.5" cy="90.9" rx="2.1" ry="1.9" fill="#3e3537" opacity="0.9"/><circle cx="33.5" cy="86.1" r="1.3" fill="#e2dada" opacity="0.6"/><path d="M42.2 94.2L28.9 97.8" stroke="#4a4143" stroke-width="0.9" stroke-linecap="round" opacity="0.8"/><ellipse cx="32.4" cy="98.9" rx="2.1" ry="1.6" fill="#3e3537" opacity="0.9"/><circle cx="34.4" cy="94.1" r="1.3" fill="#e2dada" opacity="0.6"/><path d="M42.0 31.0L56.0 101.0" stroke="#b2a6a7" stroke-width="10" stroke-linecap="round"/><circle cx="42.0" cy="31.0" r="5.0" fill="#b2a6a7"/><circle cx="56.0" cy="101.0" r="5.0" fill="#b2a6a7"/><path d="M44.0 30.6L58.0 100.6" stroke="#e2dada" stroke-width="4.0" stroke-linecap="round" opacity="0.7"/><path d="M39.1 31.6L53.1 101.6" stroke="#857a7b" stroke-width="2.5" stroke-linecap="round" opacity="0.6"/><path d="M103.0 34.0L57.0 80.0" stroke="#b2a6a7" stroke-width="8.5" stroke-linecap="round"/><circle cx="103.0" cy="34.0" r="5.1" fill="#b2a6a7"/><circle cx="57.0" cy="80.0" r="6.8" fill="#b2a6a7"/><path d="M101.8 32.8L55.8 78.8" stroke="#e2dada" stroke-width="3.4" stroke-linecap="round" opacity="0.7"/><path d="M104.8 35.8L58.8 81.8" stroke="#857a7b" stroke-width="2.1" stroke-linecap="round" opacity="0.6"/><path d="M111.0 43.0L100.0 105.0" stroke="#b2a6a7" stroke-width="7" stroke-linecap="round"/><circle cx="111.0" cy="43.0" r="4.9" fill="#b2a6a7"/><circle cx="100.0" cy="105.0" r="4.2" fill="#b2a6a7"/><path d="M109.6 42.8L98.6 104.8" stroke="#e2dada" stroke-width="2.8" stroke-linecap="round" opacity="0.7"/><path d="M113.1 43.4L102.1 105.4" stroke="#857a7b" stroke-width="1.8" stroke-linecap="round" opacity="0.6"/><path d="M114.0 46.0L106.0 100.0" stroke="#b2a6a7" stroke-width="2.5" stroke-linecap="round"/><ellipse cx="106" cy="36" rx="6.5" ry="5.2" fill="#c9bfbf"/><circle cx="104.0" cy="34.0" r="2.9" fill="#e2dada" opacity="0.7"/><ellipse cx="73.4" cy="96" rx="8" ry="7" transform="rotate(0 73.4 96)" fill="#3a1228" fill-opacity="0.7" stroke="#c83040" stroke-width="0.8"/><circle cx="72" cy="95" r="3.5" fill="#1a1ae6"/><circle cx="75" cy="92.5" r="2" fill="#1a1ae6"/></g></svg>
<svg x="278" y="196" width="129" height="93" overflow="hidden"><rect width="129" height="93" fill="#262626"/><path d="M0 32.5L129 27.9M0 74.4L129 72.5" stroke="#333" stroke-width="0.5"/><g filter="url(#soft)"><path d="M11.0 34.0L46.0 59.0" stroke="#b2a6a7" stroke-width="8.3" stroke-linecap="round"/><circle cx="11.0" cy="34.0" r="5.4" fill="#b2a6a7"/><circle cx="46.0" cy="59.0" r="5.0" fill="#b2a6a7"/><path d="M12.0 32.6L47.0 57.6" stroke="#e2dada" stroke-width="3.3" stroke-linecap="round" opacity="0.7"/><path d="M9.6 36.0L44.6 61.0" stroke="#857a7b" stroke-width="2.1" stroke-linecap="round" opacity="0.6"/><path d="M10.0 42.0L23.5 79.0" stroke="#b2a6a7" stroke-width="5.0" stroke-linecap="round"/><circle cx="10.0" cy="42.0" r="4.2" fill="#b2a6a7"/><circle cx="23.5" cy="79.0" r="3.5" fill="#b2a6a7"/><path d="M10.9 41.7L24.4 78.7" stroke="#e2dada" stroke-width="2.0" stroke-linecap="round" opacity="0.7"/><path d="M8.6 42.5L22.1 79.5" stroke="#857a7b" stroke-width="1.2" stroke-linecap="round" opacity="0.6"/><path d="M45.0 59.0L50.0 57.0" stroke="#b2a6a7" stroke-width="4.5" stroke-linecap="round"/><polygon points="51.6,22.0 75.6,22.0 74.2,62.5 67.0,84.0 61.0,84.0 53.1,62.5" fill="#9a8e8f"/><path d="M48.5 20.0L50.5 81.0" stroke="#b2a6a7" stroke-width="5.2" stroke-linecap="round"/><ellipse cx="47.3" cy="56.4" rx="3" ry="6.1" fill="#b2a6a7"/><path d="M49.5 22.0L51.5 79.0" stroke="#e2dada" stroke-width="1.5" stroke-linecap="round" opacity="0.55"/><path d="M48.5 20.0L46.0 18.5" stroke="#b2a6a7" stroke-width="4" stroke-linecap="round"/><path d="M56.2 39.4L48.5 40.4" stroke="#b2a6a7" stroke-width="3" stroke-linecap="round"/><path d="M56.2 51.6L48.5 52.6" stroke="#b2a6a7" stroke-width="3" stroke-linecap="round"/><ellipse cx="57.8" cy="37.4" rx="2.2" ry="3.4" fill="#4a4143"/><ellipse cx="57.8" cy="46.9" rx="2.2" ry="3.4" fill="#4a4143"/><ellipse cx="57.8" cy="56.4" rx="2.2" ry="3.4" fill="#4a4143"/><path d="M50.5 66.6L64.0 84.0" stroke="#b2a6a7" stroke-width="3" stroke-linecap="round"/><path d="M78.5 20.0L76.5 81.0" stroke="#b2a6a7" stroke-width="5.2" stroke-linecap="round"/><ellipse cx="79.7" cy="56.4" rx="3" ry="6.1" fill="#b2a6a7"/><path d="M77.5 22.0L75.5 79.0" stroke="#e2dada" stroke-width="1.5" stroke-linecap="round" opacity="0.55"/><path d="M78.5 20.0L81.0 18.5" stroke="#b2a6a7" stroke-width="4" stroke-linecap="round"/><path d="M71.2 39.4L78.5 40.4" stroke="#b2a6a7" stroke-width="3" stroke-linecap="round"/><path d="M71.2 51.6L78.5 52.6" stroke="#b2a6a7" stroke-width="3" stroke-linecap="round"/><ellipse cx="69.8" cy="37.4" rx="2.0" ry="3.4" fill="#4a4143"/><ellipse cx="69.8" cy="46.9" rx="2.0" ry="3.4" fill="#4a4143"/><ellipse cx="69.8" cy="56.4" rx="2.0" ry="3.4" fill="#4a4143"/><path d="M76.5 66.6L64.0 84.0" stroke="#b2a6a7" stroke-width="3" stroke-linecap="round"/><path d="M64.0 20.0L64.0 87.0" stroke="#c9bfbf" stroke-width="5.25" stroke-linecap="butt"/><path d="M63.0 20.0L63.0 85.0" stroke="#e2dada" stroke-width="1.4" stroke-linecap="round" opacity="0.55"/><path d="M61.4 29.2L66.6 29.2" stroke="#6e6466" stroke-width="0.8" stroke-linecap="round" opacity="0.6"/><path d="M61.4 39.4L66.6 39.4" stroke="#6e6466" stroke-width="0.8" stroke-linecap="round" opacity="0.6"/><path d="M61.4 49.6L66.6 49.6" stroke="#6e6466" stroke-width="0.8" stroke-linecap="round" opacity="0.6"/><path d="M61.4 59.8L66.6 59.8" stroke="#6e6466" stroke-width="0.8" stroke-linecap="round" opacity="0.6"/><path d="M61.4 70.0L66.6 70.0" stroke="#6e6466" stroke-width="0.8" stroke-linecap="round" opacity="0.6"/><path d="M61.4 80.2L66.6 80.2" stroke="#6e6466" stroke-width="0.8" stroke-linecap="round" opacity="0.6"/><path d="M59.5 86.0L68.5 86.0" stroke="#b2a6a7" stroke-width="2.6" stroke-linecap="round"/><path d="M110.0 29.0L85.0 60.0" stroke="#b2a6a7" stroke-width="8.3" stroke-linecap="round"/><circle cx="110.0" cy="29.0" r="5.4" fill="#b2a6a7"/><circle cx="85.0" cy="60.0" r="5.0" fill="#b2a6a7"/><path d="M108.7 28.0L83.7 59.0" stroke="#e2dada" stroke-width="3.3" stroke-linecap="round" opacity="0.7"/><path d="M111.9 30.6L86.9 61.6" stroke="#857a7b" stroke-width="2.1" stroke-linecap="round" opacity="0.6"/><path d="M112.0 35.0L113.0 83.0" stroke="#b2a6a7" stroke-width="5.0" stroke-linecap="round"/><circle cx="112.0" cy="35.0" r="4.2" fill="#b2a6a7"/><circle cx="113.0" cy="83.0" r="3.5" fill="#b2a6a7"/><path d="M113.0 35.0L114.0 83.0" stroke="#e2dada" stroke-width="2.0" stroke-linecap="round" opacity="0.7"/><path d="M110.5 35.0L111.5 83.0" stroke="#857a7b" stroke-width="1.2" stroke-linecap="round" opacity="0.6"/><path d="M85.0 59.0L79.0 57.0" stroke="#b2a6a7" stroke-width="4.5" stroke-linecap="round"/><ellipse cx="104.5" cy="65" rx="6.5" ry="5.5" transform="rotate(-30 104.5 65)" fill="#6a1c26" fill-opacity="0.85" stroke="#c83040" stroke-width="0.8"/><circle cx="105" cy="64.5" r="2.8" fill="#1a1ae6"/></g></svg>
<svg x="278" y="296" width="129" height="110.5" overflow="hidden"><rect width="129" height="110.5" fill="#262626"/><path d="M0 38.7L129 33.1M0 88.4L129 86.2" stroke="#333" stroke-width="0.5"/><g filter="url(#soft)"><rect x="15" y="28" width="9.5" height="25" rx="3.5" fill="#e2dada"/><path d="M18.0 55.0L20.0 75.0" stroke="#b2a6a7" stroke-width="4" stroke-linecap="round"/><circle cx="18.0" cy="55.0" r="2.4" fill="#b2a6a7"/><circle cx="20.0" cy="75.0" r="2.4" fill="#b2a6a7"/><path d="M29.0 7.0L34.0 86.0" stroke="#b2a6a7" stroke-width="18" stroke-linecap="butt"/><path d="M23.6 7.3L17.7 5.7" stroke="#b2a6a7" stroke-width="3.0509344730398538" stroke-linecap="round"/><circle cx="37.1" cy="6.5" r="2.1" fill="#b2a6a7"/><path d="M24.1 15.2L17.8 13.6" stroke="#b2a6a7" stroke-width="2.4579989247747065" stroke-linecap="round"/><circle cx="37.6" cy="14.4" r="2.5" fill="#b2a6a7"/><path d="M24.6 23.1L19.3 21.5" stroke="#b2a6a7" stroke-width="2.469855423574619" stroke-linecap="round"/><circle cx="38.1" cy="22.3" r="2.1" fill="#b2a6a7"/><path d="M25.1 31.0L19.0 29.5" stroke="#b2a6a7" stroke-width="2.5238019611496454" stroke-linecap="round"/><circle cx="38.6" cy="30.2" r="2.2" fill="#b2a6a7"/><path d="M25.6 38.9L19.1 37.4" stroke="#b2a6a7" stroke-width="2.9771029486174987" stroke-linecap="round"/><circle cx="39.1" cy="38.1" r="2.4" fill="#b2a6a7"/><path d="M26.1 46.8L18.9 45.2" stroke="#b2a6a7" stroke-width="3.2584684590486797" stroke-linecap="round"/><circle cx="39.6" cy="46.0" r="2.3" fill="#b2a6a7"/><path d="M26.6 54.7L21.1 53.1" stroke="#b2a6a7" stroke-width="2.708481824101934" stroke-linecap="round"/><circle cx="40.1" cy="53.9" r="2.8" fill="#b2a6a7"/><path d="M27.1 62.6L21.5 61.0" stroke="#b2a6a7" stroke-width="3.038913468926184" stroke-linecap="round"/><circle cx="40.6" cy="61.8" r="2.4" fill="#b2a6a7"/><path d="M27.6 70.5L21.3 68.9" stroke="#b2a6a7" stroke-width="2.4596011699662323" stroke-linecap="round"/><circle cx="41.1" cy="69.7" r="2.2" fill="#b2a6a7"/><path d="M28.1 78.4L21.5 76.8" stroke="#b2a6a7" stroke-width="2.7141471703767914" stroke-linecap="round"/><circle cx="41.6" cy="77.6" r="2.6" fill="#b2a6a7"/><path d="M28.6 86.3L22.5 84.7" stroke="#b2a6a7" stroke-width="3.194379481522491" stroke-linecap="round"/><circle cx="42.1" cy="85.5" r="2.7" fill="#b2a6a7"/><path d="M35.5 9.6L23.0 12.3" stroke="#4a4143" stroke-width="0.9" stroke-linecap="round" opacity="0.8"/><ellipse cx="26.2" cy="13.6" rx="1.8" ry="2.5" fill="#3e3537" opacity="0.9"/><circle cx="28.2" cy="9.0" r="1.3" fill="#e2dada" opacity="0.6"/><path d="M36.0 17.5L23.5 20.2" stroke="#4a4143" stroke-width="0.9" stroke-linecap="round" opacity="0.8"/><circle cx="28.7" cy="16.9" r="1.3" fill="#e2dada" opacity="0.6"/><path d="M36.5 25.4L24.0 28.1" stroke="#4a4143" stroke-width="0.9" stroke-linecap="round" opacity="0.8"/><ellipse cx="33.6" cy="29.0" rx="1.5" ry="2.0" fill="#3e3537" opacity="0.9"/><circle cx="29.2" cy="24.8" r="1.3" fill="#e2dada" opacity="0.6"/><path d="M37.0 33.3L24.5 36.0" stroke="#4a4143" stroke-width="0.9" stroke-linecap="round" opacity="0.8"/><circle cx="29.7" cy="32.7" r="1.3" fill="#e2dada" opacity="0.6"/><path d="M37.5 41.2L25.0 43.9" stroke="#4a4143" stroke-width="0.9" stroke-linecap="round" opacity="0.8"/><ellipse cx="28.2" cy="45.2" rx="1.7" ry="2.6" fill="#3e3537" opacity="0.9"/><circle cx="30.2" cy="40.6" r="1.3" fill="#e2dada" opacity="0.6"/><path d="M38.0 49.1L25.5 51.8" stroke="#4a4143" stroke-width="0.9" stroke-linecap="round" opacity="0.8"/><ellipse cx="28.7" cy="53.1" rx="1.7" ry="2.0" fill="#3e3537" opacity="0.9"/><circle cx="30.7" cy="48.5" r="1.3" fill="#e2dada" opacity="0.6"/><path d="M38.5 57.0L26.0 59.7" stroke="#4a4143" stroke-width="0.9" stroke-linecap="round" opacity="0.8"/><ellipse cx="29.2" cy="61.0" rx="1.5" ry="1.7" fill="#3e3537" opacity="0.9"/><circle cx="31.2" cy="56.4" r="1.3" fill="#e2dada" opacity="0.6"/><path d="M39.0 64.9L26.5 67.6" stroke="#4a4143" stroke-width="0.9" stroke-linecap="round" opacity="0.8"/><ellipse cx="36.1" cy="68.5" rx="1.4" ry="2.3" fill="#3e3537" opacity="0.9"/><circle cx="31.7" cy="64.3" r="1.3" fill="#e2dada" opacity="0.6"/><path d="M39.5 72.8L27.0 75.5" stroke="#4a4143" stroke-width="0.9" stroke-linecap="round" opacity="0.8"/><ellipse cx="30.2" cy="76.8" rx="1.6" ry="2.0" fill="#3e3537" opacity="0.9"/><circle cx="32.2" cy="72.2" r="1.3" fill="#e2dada" opacity="0.6"/><path d="M40.0 80.7L27.5 83.4" stroke="#4a4143" stroke-width="0.9" stroke-linecap="round" opacity="0.8"/><ellipse cx="37.1" cy="84.3" rx="2.2" ry="2.0" fill="#3e3537" opacity="0.9"/><circle cx="32.7" cy="80.1" r="1.3" fill="#e2dada" opacity="0.6"/><path d="M40.5 10.0L50.0 82.0" stroke="#b2a6a7" stroke-width="10" stroke-linecap="round"/><circle cx="40.5" cy="10.0" r="5.0" fill="#b2a6a7"/><circle cx="50.0" cy="82.0" r="5.0" fill="#b2a6a7"/><path d="M42.5 9.7L52.0 81.7" stroke="#e2dada" stroke-width="4.0" stroke-linecap="round" opacity="0.7"/><path d="M37.5 10.4L47.0 82.4" stroke="#857a7b" stroke-width="2.5" stroke-linecap="round" opacity="0.6"/><path d="M104.0 28.0L50.0 59.0" stroke="#b2a6a7" stroke-width="8.5" stroke-linecap="round"/><circle cx="104.0" cy="28.0" r="5.1" fill="#b2a6a7"/><circle cx="50.0" cy="59.0" r="6.8" fill="#b2a6a7"/><path d="M103.2 26.5L49.2 57.5" stroke="#e2dada" stroke-width="3.4" stroke-linecap="round" opacity="0.7"/><path d="M105.3 30.2L51.3 61.2" stroke="#857a7b" stroke-width="2.1" stroke-linecap="round" opacity="0.6"/><path d="M111.0 37.0L94.0 106.0" stroke="#b2a6a7" stroke-width="7" stroke-linecap="round"/><circle cx="111.0" cy="37.0" r="4.9" fill="#b2a6a7"/><circle cx="94.0" cy="106.0" r="4.2" fill="#b2a6a7"/><path d="M109.6 36.7L92.6 105.7" stroke="#e2dada" stroke-width="2.8" stroke-linecap="round" opacity="0.7"/><path d="M113.0 37.5L96.0 106.5" stroke="#857a7b" stroke-width="1.8" stroke-linecap="round" opacity="0.6"/><path d="M114.0 40.0L99.0 104.0" stroke="#b2a6a7" stroke-width="2.5" stroke-linecap="round"/><ellipse cx="108" cy="32" rx="6.5" ry="5.2" fill="#c9bfbf"/><circle cx="106.0" cy="30.1" r="2.9" fill="#e2dada" opacity="0.7"/><ellipse cx="70.6" cy="70.6" rx="12" ry="10" transform="rotate(0 70.6 70.6)" fill="#3a1228" fill-opacity="0.7" stroke="#c83040" stroke-width="0.8"/><circle cx="70" cy="69.5" r="4.5" fill="#1a1ae6"/><circle cx="65.5" cy="72" r="2.5" fill="#1a1ae6"/><circle cx="75" cy="68" r="2.5" fill="#1a1ae6"/></g></svg>
<svg x="415" y="196" width="129" height="93" overflow="hidden"><rect width="129" height="93" fill="#262626"/><path d="M0 32.5L129 27.9M0 74.4L129 72.5" stroke="#333" stroke-width="0.5"/><g filter="url(#soft)"><path d="M23.5 35.0L50.0 53.0" stroke="#b2a6a7" stroke-width="8.3" stroke-linecap="round"/><circle cx="23.5" cy="35.0" r="5.4" fill="#b2a6a7"/><circle cx="50.0" cy="53.0" r="5.0" fill="#b2a6a7"/><path d="M24.4 33.6L50.9 51.6" stroke="#e2dada" stroke-width="3.3" stroke-linecap="round" opacity="0.7"/><path d="M22.1 37.1L48.6 55.1" stroke="#857a7b" stroke-width="2.1" stroke-linecap="round" opacity="0.6"/><path d="M21.7 37.0L32.0 87.0" stroke="#b2a6a7" stroke-width="5.2" stroke-linecap="round"/><circle cx="21.7" cy="37.0" r="4.4" fill="#b2a6a7"/><circle cx="32.0" cy="87.0" r="3.6" fill="#b2a6a7"/><path d="M22.7 36.8L33.0 86.8" stroke="#e2dada" stroke-width="2.1" stroke-linecap="round" opacity="0.7"/><path d="M20.2 37.3L30.5 87.3" stroke="#857a7b" stroke-width="1.3" stroke-linecap="round" opacity="0.6"/><path d="M49.0 52.0L54.0 51.0" stroke="#b2a6a7" stroke-width="4.5" stroke-linecap="round"/><polygon points="59.6,12.0 80.4,12.0 79.1,60.2 73.0,86.0 67.0,86.0 60.9,60.2" fill="#9a8e8f"/><path d="M57.0 10.0L59.0 83.0" stroke="#b2a6a7" stroke-width="5.2" stroke-linecap="round"/><ellipse cx="55.8" cy="53.0" rx="3" ry="7.2" fill="#b2a6a7"/><path d="M58.0 12.0L60.0 81.0" stroke="#e2dada" stroke-width="1.5" stroke-linecap="round" opacity="0.55"/><path d="M57.0 10.0L54.5 8.5" stroke="#b2a6a7" stroke-width="4" stroke-linecap="round"/><path d="M63.5 33.0L57.0 34.0" stroke="#b2a6a7" stroke-width="3" stroke-linecap="round"/><path d="M63.5 47.4L57.0 48.4" stroke="#b2a6a7" stroke-width="3" stroke-linecap="round"/><ellipse cx="64.8" cy="30.6" rx="1.8" ry="4.0" fill="#4a4143"/><ellipse cx="64.8" cy="41.8" rx="1.8" ry="4.0" fill="#4a4143"/><ellipse cx="64.8" cy="53.0" rx="1.8" ry="4.0" fill="#4a4143"/><path d="M59.0 65.0L70.0 86.0" stroke="#b2a6a7" stroke-width="3" stroke-linecap="round"/><path d="M83.0 10.0L81.0 83.0" stroke="#b2a6a7" stroke-width="5.2" stroke-linecap="round"/><ellipse cx="84.2" cy="53.0" rx="3" ry="7.2" fill="#b2a6a7"/><path d="M82.0 12.0L80.0 81.0" stroke="#e2dada" stroke-width="1.5" stroke-linecap="round" opacity="0.55"/><path d="M83.0 10.0L85.5 8.5" stroke="#b2a6a7" stroke-width="4" stroke-linecap="round"/><path d="M76.5 33.0L83.0 34.0" stroke="#b2a6a7" stroke-width="3" stroke-linecap="round"/><path d="M76.5 47.4L83.0 48.4" stroke="#b2a6a7" stroke-width="3" stroke-linecap="round"/><ellipse cx="75.2" cy="30.6" rx="1.8" ry="4.0" fill="#4a4143"/><ellipse cx="75.2" cy="41.8" rx="1.8" ry="4.0" fill="#4a4143"/><ellipse cx="75.2" cy="53.0" rx="1.8" ry="4.0" fill="#4a4143"/><path d="M81.0 65.0L70.0 86.0" stroke="#b2a6a7" stroke-width="3" stroke-linecap="round"/><path d="M70.0 10.0L70.0 89.0" stroke="#c9bfbf" stroke-width="5.6" stroke-linecap="butt"/><path d="M69.0 10.0L69.0 87.0" stroke="#e2dada" stroke-width="1.4" stroke-linecap="round" opacity="0.55"/><path d="M67.2 21.0L72.8 21.0" stroke="#6e6466" stroke-width="0.8" stroke-linecap="round" opacity="0.6"/><path d="M67.2 33.0L72.8 33.0" stroke="#6e6466" stroke-width="0.8" stroke-linecap="round" opacity="0.6"/><path d="M67.2 45.0L72.8 45.0" stroke="#6e6466" stroke-width="0.8" stroke-linecap="round" opacity="0.6"/><path d="M67.2 57.0L72.8 57.0" stroke="#6e6466" stroke-width="0.8" stroke-linecap="round" opacity="0.6"/><path d="M67.2 69.0L72.8 69.0" stroke="#6e6466" stroke-width="0.8" stroke-linecap="round" opacity="0.6"/><path d="M67.2 81.0L72.8 81.0" stroke="#6e6466" stroke-width="0.8" stroke-linecap="round" opacity="0.6"/><path d="M65.5 88.0L74.5 88.0" stroke="#b2a6a7" stroke-width="2.6" stroke-linecap="round"/><path d="M107.0 22.0L87.5 55.0" stroke="#b2a6a7" stroke-width="8.3" stroke-linecap="round"/><circle cx="107.0" cy="22.0" r="5.4" fill="#b2a6a7"/><circle cx="87.5" cy="55.0" r="5.0" fill="#b2a6a7"/><path d="M105.6 21.2L86.1 54.2" stroke="#e2dada" stroke-width="3.3" stroke-linecap="round" opacity="0.7"/><path d="M109.1 23.3L89.6 56.3" stroke="#857a7b" stroke-width="2.1" stroke-linecap="round" opacity="0.6"/><path d="M111.0 25.0L114.0 87.5" stroke="#b2a6a7" stroke-width="5.2" stroke-linecap="round"/><circle cx="111.0" cy="25.0" r="4.4" fill="#b2a6a7"/><circle cx="114.0" cy="87.5" r="3.6" fill="#b2a6a7"/><path d="M112.0 25.0L115.0 87.5" stroke="#e2dada" stroke-width="2.1" stroke-linecap="round" opacity="0.7"/><path d="M109.4 25.1L112.4 87.6" stroke="#857a7b" stroke-width="1.3" stroke-linecap="round" opacity="0.6"/><path d="M87.5 54.0L84.0 52.0" stroke="#b2a6a7" stroke-width="4.5" stroke-linecap="round"/><ellipse cx="104.5" cy="61" rx="5.5" ry="8" transform="rotate(0 104.5 61)" fill="#7a2630" fill-opacity="0.85" stroke="#b83040" stroke-width="0.8"/><circle cx="100.5" cy="60" r="0.9" fill="#1a1ae6"/><circle cx="103" cy="64" r="0.9" fill="#1a1ae6"/><circle cx="106.5" cy="60" r="0.9" fill="#1a1ae6"/></g></svg>
<svg x="415" y="296" width="129" height="110.5" overflow="hidden"><rect width="129" height="110.5" fill="#262626"/><path d="M0 38.7L129 33.1M0 88.4L129 86.2" stroke="#333" stroke-width="0.5"/><g filter="url(#soft)"><path d="M28.0 42.0L17.0 92.0" stroke="#b2a6a7" stroke-width="5" stroke-linecap="round"/><circle cx="28.0" cy="42.0" r="3.0" fill="#b2a6a7"/><circle cx="17.0" cy="92.0" r="3.0" fill="#b2a6a7"/><path d="M27.0 41.8L16.0 91.8" stroke="#e2dada" stroke-width="2.0" stroke-linecap="round" opacity="0.7"/><path d="M29.5 42.3L18.5 92.3" stroke="#857a7b" stroke-width="1.2" stroke-linecap="round" opacity="0.6"/><circle cx="27" cy="46" r="5.5" fill="#c9bfbf"/><path d="M47.0 9.0L41.0 96.0" stroke="#b2a6a7" stroke-width="19" stroke-linecap="butt"/><path d="M41.3 8.6L35.2 6.2" stroke="#b2a6a7" stroke-width="2.538539412514455" stroke-linecap="round"/><circle cx="55.5" cy="9.6" r="2.9" fill="#b2a6a7"/><path d="M40.8 16.5L35.6 14.1" stroke="#b2a6a7" stroke-width="3.298297970031938" stroke-linecap="round"/><circle cx="55.0" cy="17.5" r="2.1" fill="#b2a6a7"/><path d="M40.2 24.4L34.0 22.0" stroke="#b2a6a7" stroke-width="2.4408957654848114" stroke-linecap="round"/><circle cx="54.4" cy="25.4" r="2.4" fill="#b2a6a7"/><path d="M39.7 32.3L33.1 29.9" stroke="#b2a6a7" stroke-width="3.125065368582209" stroke-linecap="round"/><circle cx="53.9" cy="33.3" r="2.2" fill="#b2a6a7"/><path d="M39.1 40.2L33.5 37.9" stroke="#b2a6a7" stroke-width="2.906269051668982" stroke-linecap="round"/><circle cx="53.3" cy="41.2" r="2.9" fill="#b2a6a7"/><path d="M38.6 48.2L32.3 45.7" stroke="#b2a6a7" stroke-width="2.783664844852648" stroke-linecap="round"/><circle cx="52.8" cy="49.1" r="2.7" fill="#b2a6a7"/><path d="M38.0 56.1L32.7 53.7" stroke="#b2a6a7" stroke-width="3.074236001255371" stroke-linecap="round"/><circle cx="52.3" cy="57.0" r="2.7" fill="#b2a6a7"/><path d="M37.5 64.0L31.5 61.6" stroke="#b2a6a7" stroke-width="2.6667335712267404" stroke-linecap="round"/><circle cx="51.7" cy="65.0" r="2.2" fill="#b2a6a7"/><path d="M36.9 71.9L31.2 69.4" stroke="#b2a6a7" stroke-width="2.5994832210898453" stroke-linecap="round"/><circle cx="51.2" cy="72.9" r="2.9" fill="#b2a6a7"/><path d="M36.4 79.8L29.5 77.4" stroke="#b2a6a7" stroke-width="2.7788164022997504" stroke-linecap="round"/><circle cx="50.6" cy="80.8" r="2.5" fill="#b2a6a7"/><path d="M35.9 87.7L30.7 85.3" stroke="#b2a6a7" stroke-width="3.306410625954953" stroke-linecap="round"/><circle cx="50.1" cy="88.7" r="2.1" fill="#b2a6a7"/><path d="M35.3 95.6L29.0 93.2" stroke="#b2a6a7" stroke-width="2.97870029805355" stroke-linecap="round"/><circle cx="49.5" cy="96.6" r="2.9" fill="#b2a6a7"/><path d="M53.4 12.4L40.1 13.5" stroke="#4a4143" stroke-width="0.9" stroke-linecap="round" opacity="0.8"/><ellipse cx="50.0" cy="15.7" rx="2.1" ry="1.7" fill="#3e3537" opacity="0.9"/><circle cx="45.9" cy="10.9" r="1.3" fill="#e2dada" opacity="0.6"/><path d="M52.8 20.3L39.5 21.4" stroke="#4a4143" stroke-width="0.9" stroke-linecap="round" opacity="0.8"/><circle cx="45.4" cy="18.8" r="1.3" fill="#e2dada" opacity="0.6"/><path d="M52.3 28.2L39.0 29.3" stroke="#4a4143" stroke-width="0.9" stroke-linecap="round" opacity="0.8"/><ellipse cx="42.1" cy="31.0" rx="1.8" ry="1.8" fill="#3e3537" opacity="0.9"/><circle cx="44.8" cy="26.7" r="1.3" fill="#e2dada" opacity="0.6"/><path d="M51.7 36.1L38.5 37.2" stroke="#4a4143" stroke-width="0.9" stroke-linecap="round" opacity="0.8"/><ellipse cx="48.3" cy="39.4" rx="1.9" ry="1.7" fill="#3e3537" opacity="0.9"/><circle cx="44.3" cy="34.6" r="1.3" fill="#e2dada" opacity="0.6"/><path d="M51.2 44.0L37.9 45.1" stroke="#4a4143" stroke-width="0.9" stroke-linecap="round" opacity="0.8"/><ellipse cx="47.8" cy="47.3" rx="2.2" ry="2.3" fill="#3e3537" opacity="0.9"/><circle cx="43.7" cy="42.5" r="1.3" fill="#e2dada" opacity="0.6"/><path d="M50.6 52.0L37.4 53.0" stroke="#4a4143" stroke-width="0.9" stroke-linecap="round" opacity="0.8"/><ellipse cx="40.4" cy="54.8" rx="1.8" ry="2.2" fill="#3e3537" opacity="0.9"/><circle cx="43.2" cy="50.4" r="1.3" fill="#e2dada" opacity="0.6"/><path d="M50.1 59.9L36.8 61.0" stroke="#4a4143" stroke-width="0.9" stroke-linecap="round" opacity="0.8"/><ellipse cx="39.9" cy="62.7" rx="2.0" ry="2.2" fill="#3e3537" opacity="0.9"/><circle cx="42.6" cy="58.3" r="1.3" fill="#e2dada" opacity="0.6"/><path d="M49.5 67.8L36.3 68.9" stroke="#4a4143" stroke-width="0.9" stroke-linecap="round" opacity="0.8"/><ellipse cx="39.3" cy="70.6" rx="2.2" ry="1.8" fill="#3e3537" opacity="0.9"/><circle cx="42.1" cy="66.3" r="1.3" fill="#e2dada" opacity="0.6"/><path d="M49.0 75.7L35.7 76.8" stroke="#4a4143" stroke-width="0.9" stroke-linecap="round" opacity="0.8"/><ellipse cx="45.6" cy="79.0" rx="2.0" ry="2.4" fill="#3e3537" opacity="0.9"/><circle cx="41.6" cy="74.2" r="1.3" fill="#e2dada" opacity="0.6"/><path d="M48.5 83.6L35.2 84.7" stroke="#4a4143" stroke-width="0.9" stroke-linecap="round" opacity="0.8"/><ellipse cx="45.1" cy="86.9" rx="2.1" ry="1.7" fill="#3e3537" opacity="0.9"/><circle cx="41.0" cy="82.1" r="1.3" fill="#e2dada" opacity="0.6"/><path d="M47.9 91.5L34.6 92.6" stroke="#4a4143" stroke-width="0.9" stroke-linecap="round" opacity="0.8"/><circle cx="40.5" cy="90.0" r="1.3" fill="#e2dada" opacity="0.6"/><path d="M60.0 6.0L58.4 84.0" stroke="#b2a6a7" stroke-width="10" stroke-linecap="round"/><circle cx="60.0" cy="6.0" r="5.0" fill="#b2a6a7"/><circle cx="58.4" cy="84.0" r="5.0" fill="#b2a6a7"/><path d="M58.0 6.0L56.4 84.0" stroke="#e2dada" stroke-width="4.0" stroke-linecap="round" opacity="0.7"/><path d="M63.0 6.1L61.4 84.1" stroke="#857a7b" stroke-width="2.5" stroke-linecap="round" opacity="0.6"/><path d="M113.0 20.0L62.0 55.0" stroke="#b2a6a7" stroke-width="8" stroke-linecap="round"/><circle cx="113.0" cy="20.0" r="4.8" fill="#b2a6a7"/><circle cx="62.0" cy="55.0" r="6.4" fill="#b2a6a7"/><path d="M112.1 18.7L61.1 53.7" stroke="#e2dada" stroke-width="3.2" stroke-linecap="round" opacity="0.7"/><path d="M114.4 22.0L63.4 57.0" stroke="#857a7b" stroke-width="2.0" stroke-linecap="round" opacity="0.6"/><path d="M118.0 26.0L94.0 103.0" stroke="#b2a6a7" stroke-width="7" stroke-linecap="round"/><circle cx="118.0" cy="26.0" r="4.9" fill="#b2a6a7"/><circle cx="94.0" cy="103.0" r="4.9" fill="#b2a6a7"/><path d="M116.7 25.6L92.7 102.6" stroke="#e2dada" stroke-width="2.8" stroke-linecap="round" opacity="0.7"/><path d="M120.0 26.6L96.0 103.6" stroke="#857a7b" stroke-width="1.8" stroke-linecap="round" opacity="0.6"/><path d="M121.0 28.0L99.0 102.0" stroke="#b2a6a7" stroke-width="2.5" stroke-linecap="round"/><ellipse cx="116" cy="23" rx="6.5" ry="5.2" fill="#c9bfbf"/><circle cx="114.0" cy="21.1" r="2.9" fill="#e2dada" opacity="0.7"/><ellipse cx="83" cy="66" rx="10" ry="11" transform="rotate(0 83 66)" fill="#7a2630" fill-opacity="0.9" stroke="#a83040" stroke-width="0.8"/><circle cx="79" cy="63" r="0.9" fill="#1a1ae6"/><circle cx="83" cy="68" r="0.9" fill="#1a1ae6"/><circle cx="88" cy="64" r="0.9" fill="#1a1ae6"/><circle cx="86" cy="71" r="0.8" fill="#1a1ae6"/></g></svg>
<svg x="551" y="196" width="129" height="93" overflow="hidden"><rect width="129" height="93" fill="#262626"/><path d="M0 32.5L129 27.9M0 74.4L129 72.5" stroke="#333" stroke-width="0.5"/><g filter="url(#soft)"><path d="M21.7 21.0L48.0 46.0" stroke="#b2a6a7" stroke-width="8.3" stroke-linecap="round"/><circle cx="21.7" cy="21.0" r="5.4" fill="#b2a6a7"/><circle cx="48.0" cy="46.0" r="5.0" fill="#b2a6a7"/><path d="M22.8 19.8L49.1 44.8" stroke="#e2dada" stroke-width="3.3" stroke-linecap="round" opacity="0.7"/><path d="M20.0 22.8L46.3 47.8" stroke="#857a7b" stroke-width="2.1" stroke-linecap="round" opacity="0.6"/><path d="M24.5 25.0L30.0 75.0" stroke="#b2a6a7" stroke-width="5.2" stroke-linecap="round"/><circle cx="24.5" cy="25.0" r="4.4" fill="#b2a6a7"/><circle cx="30.0" cy="75.0" r="3.6" fill="#b2a6a7"/><path d="M25.5 24.9L31.0 74.9" stroke="#e2dada" stroke-width="2.1" stroke-linecap="round" opacity="0.7"/><path d="M22.9 25.2L28.4 75.2" stroke="#857a7b" stroke-width="1.3" stroke-linecap="round" opacity="0.6"/><path d="M47.0 45.0L52.0 44.0" stroke="#b2a6a7" stroke-width="4.5" stroke-linecap="round"/><polygon points="54.5,17.0 74.9,17.0 73.6,54.3 67.5,74.0 61.5,74.0 55.8,54.3" fill="#9a8e8f"/><path d="M52.0 15.0L54.0 71.0" stroke="#b2a6a7" stroke-width="5.2" stroke-linecap="round"/><ellipse cx="50.8" cy="48.7" rx="3" ry="5.7" fill="#b2a6a7"/><path d="M53.0 17.0L55.0 69.0" stroke="#e2dada" stroke-width="1.5" stroke-linecap="round" opacity="0.55"/><path d="M52.0 15.0L49.5 13.5" stroke="#b2a6a7" stroke-width="4" stroke-linecap="round"/><path d="M58.2 32.9L52.0 33.9" stroke="#b2a6a7" stroke-width="3" stroke-linecap="round"/><path d="M58.2 44.2L52.0 45.2" stroke="#b2a6a7" stroke-width="3" stroke-linecap="round"/><ellipse cx="59.5" cy="31.0" rx="1.8" ry="3.2" fill="#4a4143"/><ellipse cx="59.5" cy="39.8" rx="1.8" ry="3.2" fill="#4a4143"/><ellipse cx="59.5" cy="48.7" rx="1.8" ry="3.2" fill="#4a4143"/><path d="M54.0 58.1L64.5 74.0" stroke="#b2a6a7" stroke-width="3" stroke-linecap="round"/><path d="M77.5 15.0L75.5 71.0" stroke="#b2a6a7" stroke-width="5.2" stroke-linecap="round"/><ellipse cx="78.7" cy="48.7" rx="3" ry="5.7" fill="#b2a6a7"/><path d="M76.5 17.0L74.5 69.0" stroke="#e2dada" stroke-width="1.5" stroke-linecap="round" opacity="0.55"/><path d="M77.5 15.0L80.0 13.5" stroke="#b2a6a7" stroke-width="4" stroke-linecap="round"/><path d="M71.0 32.9L77.5 33.9" stroke="#b2a6a7" stroke-width="3" stroke-linecap="round"/><path d="M71.0 44.2L77.5 45.2" stroke="#b2a6a7" stroke-width="3" stroke-linecap="round"/><ellipse cx="69.7" cy="31.0" rx="1.8" ry="3.2" fill="#4a4143"/><ellipse cx="69.7" cy="39.8" rx="1.8" ry="3.2" fill="#4a4143"/><ellipse cx="69.7" cy="48.7" rx="1.8" ry="3.2" fill="#4a4143"/><path d="M75.5 58.1L64.5 74.0" stroke="#b2a6a7" stroke-width="3" stroke-linecap="round"/><path d="M64.5 15.0L64.5 77.0" stroke="#c9bfbf" stroke-width="6.3" stroke-linecap="butt"/><path d="M63.5 15.0L63.5 75.0" stroke="#e2dada" stroke-width="1.4" stroke-linecap="round" opacity="0.55"/><path d="M61.4 23.4L67.7 23.4" stroke="#6e6466" stroke-width="0.8" stroke-linecap="round" opacity="0.6"/><path d="M61.4 32.9L67.7 32.9" stroke="#6e6466" stroke-width="0.8" stroke-linecap="round" opacity="0.6"/><path d="M61.4 42.4L67.7 42.4" stroke="#6e6466" stroke-width="0.8" stroke-linecap="round" opacity="0.6"/><path d="M61.4 51.8L67.7 51.8" stroke="#6e6466" stroke-width="0.8" stroke-linecap="round" opacity="0.6"/><path d="M61.4 61.2L67.7 61.2" stroke="#6e6466" stroke-width="0.8" stroke-linecap="round" opacity="0.6"/><path d="M61.4 70.7L67.7 70.7" stroke="#6e6466" stroke-width="0.8" stroke-linecap="round" opacity="0.6"/><path d="M60.0 76.0L69.0 76.0" stroke="#b2a6a7" stroke-width="2.6" stroke-linecap="round"/><path d="M110.0 22.0L81.0 50.0" stroke="#b2a6a7" stroke-width="8.3" stroke-linecap="round"/><circle cx="110.0" cy="22.0" r="5.4" fill="#b2a6a7"/><circle cx="81.0" cy="50.0" r="5.0" fill="#b2a6a7"/><path d="M108.8 20.8L79.8 48.8" stroke="#e2dada" stroke-width="3.3" stroke-linecap="round" opacity="0.7"/><path d="M111.7 23.8L82.7 51.8" stroke="#857a7b" stroke-width="2.1" stroke-linecap="round" opacity="0.6"/><path d="M109.0 26.0L98.0 75.0" stroke="#b2a6a7" stroke-width="5.2" stroke-linecap="round"/><circle cx="109.0" cy="26.0" r="4.4" fill="#b2a6a7"/><circle cx="98.0" cy="75.0" r="3.6" fill="#b2a6a7"/><path d="M108.0 25.8L97.0 74.8" stroke="#e2dada" stroke-width="2.1" stroke-linecap="round" opacity="0.7"/><path d="M110.5 26.3L99.5 75.3" stroke="#857a7b" stroke-width="1.3" stroke-linecap="round" opacity="0.6"/><path d="M81.0 49.0L77.0 47.0" stroke="#b2a6a7" stroke-width="4.5" stroke-linecap="round"/><ellipse cx="107" cy="50" rx="9" ry="5" transform="rotate(-35 107 50)" fill="#7a2630" fill-opacity="0.5" stroke="#c84050" stroke-width="0.8"/><circle cx="102" cy="46" r="0.7" fill="#1a1ae6"/></g></svg>
<svg x="551" y="296" width="129" height="110.5" overflow="hidden"><rect width="129" height="110.5" fill="#262626"/><path d="M0 38.7L129 33.1M0 88.4L129 86.2" stroke="#333" stroke-width="0.5"/><g filter="url(#soft)"><path d="M28.0 57.0L18.0 88.0" stroke="#b2a6a7" stroke-width="5" stroke-linecap="round"/><circle cx="28.0" cy="57.0" r="3.0" fill="#b2a6a7"/><circle cx="18.0" cy="88.0" r="3.5" fill="#b2a6a7"/><path d="M27.0 56.7L17.0 87.7" stroke="#e2dada" stroke-width="2.0" stroke-linecap="round" opacity="0.7"/><path d="M29.4 57.5L19.4 88.5" stroke="#857a7b" stroke-width="1.2" stroke-linecap="round" opacity="0.6"/><path d="M36.0 26.0L42.0 93.0" stroke="#b2a6a7" stroke-width="19" stroke-linecap="butt"/><path d="M30.3 26.5L24.0 25.1" stroke="#b2a6a7" stroke-width="3.3242105840237293" stroke-linecap="round"/><circle cx="44.5" cy="25.2" r="2.5" fill="#b2a6a7"/><path d="M30.9 33.2L24.5 31.8" stroke="#b2a6a7" stroke-width="2.5846603438548765" stroke-linecap="round"/><circle cx="45.1" cy="31.9" r="2.5" fill="#b2a6a7"/><path d="M31.5 39.9L24.8 38.5" stroke="#b2a6a7" stroke-width="2.4941234562292185" stroke-linecap="round"/><circle cx="45.7" cy="38.6" r="2.3" fill="#b2a6a7"/><path d="M32.1 46.6L26.5 45.2" stroke="#b2a6a7" stroke-width="3.093438482541239" stroke-linecap="round"/><circle cx="46.3" cy="45.3" r="2.0" fill="#b2a6a7"/><path d="M32.7 53.3L25.3 52.0" stroke="#b2a6a7" stroke-width="3.0539225335338402" stroke-linecap="round"/><circle cx="46.9" cy="52.0" r="2.6" fill="#b2a6a7"/><path d="M33.3 60.0L27.6 58.5" stroke="#b2a6a7" stroke-width="2.9283812661704784" stroke-linecap="round"/><circle cx="47.5" cy="58.7" r="2.1" fill="#b2a6a7"/><path d="M33.9 66.7L28.1 65.2" stroke="#b2a6a7" stroke-width="2.4300825892247886" stroke-linecap="round"/><circle cx="48.1" cy="65.4" r="2.5" fill="#b2a6a7"/><path d="M34.5 73.4L28.2 72.0" stroke="#b2a6a7" stroke-width="2.9191241147640765" stroke-linecap="round"/><circle cx="48.7" cy="72.1" r="2.6" fill="#b2a6a7"/><path d="M35.1 80.1L28.7 78.7" stroke="#b2a6a7" stroke-width="2.857329881599558" stroke-linecap="round"/><circle cx="49.3" cy="78.8" r="2.3" fill="#b2a6a7"/><path d="M35.7 86.8L28.3 85.5" stroke="#b2a6a7" stroke-width="3.240215549492862" stroke-linecap="round"/><circle cx="49.9" cy="85.5" r="2.7" fill="#b2a6a7"/><path d="M36.3 93.5L30.2 92.0" stroke="#b2a6a7" stroke-width="2.689039947314202" stroke-linecap="round"/><circle cx="50.5" cy="92.2" r="2.1" fill="#b2a6a7"/><path d="M42.9 27.8L29.7 30.9" stroke="#4a4143" stroke-width="0.9" stroke-linecap="round" opacity="0.8"/><circle cx="35.2" cy="27.4" r="1.3" fill="#e2dada" opacity="0.6"/><path d="M43.5 34.5L30.3 37.6" stroke="#4a4143" stroke-width="0.9" stroke-linecap="round" opacity="0.8"/><ellipse cx="33.7" cy="38.8" rx="1.7" ry="2.6" fill="#3e3537" opacity="0.9"/><circle cx="35.8" cy="34.1" r="1.3" fill="#e2dada" opacity="0.6"/><path d="M44.1 41.2L30.9 44.3" stroke="#4a4143" stroke-width="0.9" stroke-linecap="round" opacity="0.8"/><circle cx="36.4" cy="40.8" r="1.3" fill="#e2dada" opacity="0.6"/><path d="M44.7 47.9L31.5 51.0" stroke="#4a4143" stroke-width="0.9" stroke-linecap="round" opacity="0.8"/><ellipse cx="41.7" cy="51.6" rx="2.1" ry="1.7" fill="#3e3537" opacity="0.9"/><circle cx="37.0" cy="47.5" r="1.3" fill="#e2dada" opacity="0.6"/><path d="M45.3 54.6L32.1 57.7" stroke="#4a4143" stroke-width="0.9" stroke-linecap="round" opacity="0.8"/><ellipse cx="35.5" cy="58.9" rx="1.7" ry="2.2" fill="#3e3537" opacity="0.9"/><circle cx="37.6" cy="54.2" r="1.3" fill="#e2dada" opacity="0.6"/><path d="M45.9 61.3L32.7 64.4" stroke="#4a4143" stroke-width="0.9" stroke-linecap="round" opacity="0.8"/><ellipse cx="36.1" cy="65.6" rx="1.7" ry="1.9" fill="#3e3537" opacity="0.9"/><circle cx="38.2" cy="60.9" r="1.3" fill="#e2dada" opacity="0.6"/><path d="M46.5 68.0L33.3 71.1" stroke="#4a4143" stroke-width="0.9" stroke-linecap="round" opacity="0.8"/><ellipse cx="36.7" cy="72.3" rx="2.0" ry="1.7" fill="#3e3537" opacity="0.9"/><circle cx="38.8" cy="67.6" r="1.3" fill="#e2dada" opacity="0.6"/><path d="M47.1 74.7L33.9 77.8" stroke="#4a4143" stroke-width="0.9" stroke-linecap="round" opacity="0.8"/><ellipse cx="44.1" cy="78.4" rx="1.4" ry="2.1" fill="#3e3537" opacity="0.9"/><circle cx="39.4" cy="74.3" r="1.3" fill="#e2dada" opacity="0.6"/><path d="M47.7 81.4L34.5 84.5" stroke="#4a4143" stroke-width="0.9" stroke-linecap="round" opacity="0.8"/><ellipse cx="44.7" cy="85.1" rx="1.8" ry="1.8" fill="#3e3537" opacity="0.9"/><circle cx="40.0" cy="81.0" r="1.3" fill="#e2dada" opacity="0.6"/><path d="M48.3 88.1L35.1 91.2" stroke="#4a4143" stroke-width="0.9" stroke-linecap="round" opacity="0.8"/><circle cx="40.6" cy="87.7" r="1.3" fill="#e2dada" opacity="0.6"/><path d="M57.0 56.0L58.0 86.0" stroke="#b2a6a7" stroke-width="10" stroke-linecap="round"/><circle cx="57.0" cy="56.0" r="5.0" fill="#b2a6a7"/><circle cx="58.0" cy="86.0" r="5.0" fill="#b2a6a7"/><path d="M59.0 55.9L60.0 85.9" stroke="#e2dada" stroke-width="4.0" stroke-linecap="round" opacity="0.7"/><path d="M54.0 56.1L55.0 86.1" stroke="#857a7b" stroke-width="2.5" stroke-linecap="round" opacity="0.6"/><path d="M109.0 28.0L54.0 56.0" stroke="#b2a6a7" stroke-width="8" stroke-linecap="round"/><circle cx="109.0" cy="28.0" r="4.8" fill="#b2a6a7"/><circle cx="54.0" cy="56.0" r="6.4" fill="#b2a6a7"/><path d="M108.3 26.6L53.3 54.6" stroke="#e2dada" stroke-width="3.2" stroke-linecap="round" opacity="0.7"/><path d="M110.1 30.1L55.1 58.1" stroke="#857a7b" stroke-width="2.0" stroke-linecap="round" opacity="0.6"/><path d="M113.0 34.0L75.0 101.0" stroke="#b2a6a7" stroke-width="7" stroke-linecap="round"/><circle cx="113.0" cy="34.0" r="4.9" fill="#b2a6a7"/><circle cx="75.0" cy="101.0" r="4.9" fill="#b2a6a7"/><path d="M111.8 33.3L73.8 100.3" stroke="#e2dada" stroke-width="2.8" stroke-linecap="round" opacity="0.7"/><path d="M114.8 35.0L76.8 102.0" stroke="#857a7b" stroke-width="1.8" stroke-linecap="round" opacity="0.6"/><path d="M116.0 37.0L80.0 101.0" stroke="#b2a6a7" stroke-width="2.5" stroke-linecap="round"/><ellipse cx="111" cy="31" rx="6.5" ry="5.2" fill="#c9bfbf"/><circle cx="109.0" cy="29.1" r="2.9" fill="#e2dada" opacity="0.7"/><ellipse cx="79" cy="66" rx="15" ry="12" transform="rotate(-10 79 66)" fill="#6a2230" fill-opacity="0.85" stroke="#a83040" stroke-width="0.8"/><circle cx="67" cy="60" r="0.8" fill="#1a1ae6"/></g></svg>
<rect x="33.2" y="447.2" width="118.3" height="106.7" fill="#fff" stroke="#cfcfcf" stroke-width="0.8"/>
<path d="M38.4 447.2V553.9 M52.0 447.2V553.9 M65.6 447.2V553.9 M79.2 447.2V553.9 M92.8 447.2V553.9 M106.4 447.2V553.9 M120.0 447.2V553.9 M133.6 447.2V553.9 M147.2 447.2V553.9 M33.2 546.1H151.5 M33.2 536.8H151.5 M33.2 527.5H151.5 M33.2 518.2H151.5 M33.2 508.9H151.5 M33.2 499.6H151.5 M33.2 490.3H151.5 M33.2 481.0H151.5 M33.2 471.7H151.5 M33.2 462.4H151.5 M33.2 453.1H151.5" stroke="#ebebeb" stroke-width="0.6"/>
<text style="stroke:#333" x="39.4" y="563.0" font-size="8.55" text-anchor="middle" fill="#333">0.984</text>
<text style="stroke:#333" x="66.6" y="563.0" font-size="8.55" text-anchor="middle" fill="#333">0.987</text>
<text style="stroke:#333" x="93.8" y="563.0" font-size="8.55" text-anchor="middle" fill="#333">0.990</text>
<text style="stroke:#333" x="121.0" y="563.0" font-size="8.55" text-anchor="middle" fill="#333">0.993</text>
<text style="stroke:#333" x="148.2" y="563.0" font-size="8.55" text-anchor="middle" fill="#333">0.996</text>
<text style="stroke:#333" x="32.0" y="465.1" font-size="8.3" text-anchor="end" fill="#333">0.2</text>
<text style="stroke:#333" x="32.0" y="483.4" font-size="8.3" text-anchor="end" fill="#333">0.1</text>
<text style="stroke:#333" x="32.0" y="503.0" font-size="8.3" text-anchor="end" fill="#333">0.0</text>
<text style="stroke:#333" x="32.0" y="523.0" font-size="8.3" text-anchor="end" fill="#333">-0.1</text>
<text style="stroke:#333" x="32.0" y="539.4" font-size="8.3" text-anchor="end" fill="#333">-0.2</text>
<text x="86.5" y="575.9" font-size="8.2" text-anchor="middle">PCA1</text>
<text transform="translate(14.5,494) rotate(-90)" font-size="8.4" text-anchor="middle">PCA2</text>
<ellipse cx="86.9" cy="476.3" rx="22" ry="7.8" transform="rotate(12 86.9 476.3)" fill="#a8a8a8" fill-opacity="0.28" stroke="#333" stroke-width="0.7"/>
<ellipse cx="71.2" cy="508.4" rx="46" ry="10.6" transform="rotate(42.5 71.2 508.4)" fill="#b4cce8" fill-opacity="0.42" stroke="#3a78b8" stroke-width="0.7"/>
<ellipse cx="101.8" cy="516.5" rx="25.8" ry="13.4" transform="rotate(-3 101.8 516.5)" fill="#f6bcc6" fill-opacity="0.33" stroke="#e0607a" stroke-width="0.7"/>
<circle cx="71.2" cy="473.8" r="2.1" fill="#333"/>
<circle cx="93.6" cy="475.5" r="2.1" fill="#333"/>
<circle cx="95.5" cy="480.8" r="2.1" fill="#333"/>
<circle cx="43.3" cy="481.4" r="2.1" fill="#1d5fa8"/>
<circle cx="88.3" cy="518.4" r="2.1" fill="#1d5fa8"/>
<circle cx="81.2" cy="524.6" r="2.1" fill="#1d5fa8"/>
<circle cx="90.2" cy="510.8" r="2.1" fill="#e23e5c"/>
<circle cx="93.2" cy="523.7" r="2.1" fill="#e23e5c"/>
<circle cx="121.7" cy="515.9" r="2.1" fill="#e23e5c"/>
<text x="91.2" y="464.4" font-size="8.5" text-anchor="middle">Control</text>
<text style="stroke:#2f6db0" x="41.4" y="511.3" font-size="8.5" fill="#2f6db0">RT</text>
<text style="stroke:#e0506a" x="79.7" y="499.9" font-size="8.5" fill="#e0506a">RT+MnBTC-Ru</text>
<rect x="192.8" y="449.6" width="20.4" height="4" fill="#08aeea"/>
<text x="217.4" y="454.2" font-size="9.35">RT vs. Control</text>
<rect x="305.4" y="449.6" width="20.1" height="4" fill="#0a6cc0"/>
<text x="329.7" y="454.2" font-size="9.35">RT+MnBTC-Ru vs. Control</text>
<rect x="187.5" y="469.2" width="255.1" height="37.4" fill="#ebebeb"/>
<rect x="206.6" y="511.3" width="219.6" height="37.3" fill="#ebebeb"/>
<path d="M300.3 475.2h1.35v1.35h-1.35zM294.0 472.5h1.35v1.35h-1.35zM296.6 482.6h1.35v1.35h-1.35zM302.6 487.5h1.35v1.35h-1.35zM302.7 484.9h1.35v1.35h-1.35zM302.6 473.1h1.35v1.35h-1.35zM298.7 498.5h1.35v1.35h-1.35zM302.3 477.7h1.35v1.35h-1.35zM294.6 502.6h1.35v1.35h-1.35zM295.7 483.7h1.35v1.35h-1.35zM284.7 471.6h1.35v1.35h-1.35zM288.4 480.0h1.35v1.35h-1.35zM302.2 474.1h1.35v1.35h-1.35zM300.5 498.1h1.35v1.35h-1.35zM301.9 490.0h1.35v1.35h-1.35zM294.3 482.8h1.35v1.35h-1.35zM296.4 472.2h1.35v1.35h-1.35zM302.6 477.1h1.35v1.35h-1.35zM293.3 484.7h1.35v1.35h-1.35zM300.4 490.2h1.35v1.35h-1.35zM298.2 480.3h1.35v1.35h-1.35zM290.3 494.1h1.35v1.35h-1.35zM301.3 489.8h1.35v1.35h-1.35zM296.8 500.1h1.35v1.35h-1.35zM292.1 479.9h1.35v1.35h-1.35zM284.5 474.1h1.35v1.35h-1.35zM298.8 496.1h1.35v1.35h-1.35zM302.1 486.8h1.35v1.35h-1.35zM302.7 493.0h1.35v1.35h-1.35zM291.1 489.7h1.35v1.35h-1.35zM287.9 480.8h1.35v1.35h-1.35zM292.9 490.5h1.35v1.35h-1.35zM295.7 485.7h1.35v1.35h-1.35zM289.0 502.5h1.35v1.35h-1.35zM297.8 492.9h1.35v1.35h-1.35zM302.6 494.2h1.35v1.35h-1.35zM294.1 504.2h1.35v1.35h-1.35zM289.5 479.8h1.35v1.35h-1.35zM299.4 493.0h1.35v1.35h-1.35zM302.7 485.9h1.35v1.35h-1.35zM302.0 474.0h1.35v1.35h-1.35zM302.6 496.5h1.35v1.35h-1.35zM302.3 478.5h1.35v1.35h-1.35zM299.3 500.0h1.35v1.35h-1.35zM302.6 485.5h1.35v1.35h-1.35zM296.3 500.4h1.35v1.35h-1.35zM289.6 499.8h1.35v1.35h-1.35zM300.9 484.3h1.35v1.35h-1.35zM299.8 500.5h1.35v1.35h-1.35zM285.3 475.2h1.35v1.35h-1.35zM301.9 478.0h1.35v1.35h-1.35zM301.4 486.7h1.35v1.35h-1.35zM295.5 479.1h1.35v1.35h-1.35zM302.8 484.4h1.35v1.35h-1.35zM299.6 489.5h1.35v1.35h-1.35zM285.4 493.8h1.35v1.35h-1.35zM297.0 491.3h1.35v1.35h-1.35zM293.4 471.9h1.35v1.35h-1.35zM287.1 496.9h1.35v1.35h-1.35zM287.9 497.5h1.35v1.35h-1.35zM299.2 483.7h1.35v1.35h-1.35zM302.4 491.9h1.35v1.35h-1.35zM302.6 472.3h1.35v1.35h-1.35zM301.6 475.6h1.35v1.35h-1.35zM300.0 471.8h1.35v1.35h-1.35zM302.8 475.2h1.35v1.35h-1.35zM302.4 482.5h1.35v1.35h-1.35zM302.7 500.1h1.35v1.35h-1.35zM294.9 475.1h1.35v1.35h-1.35zM301.2 482.0h1.35v1.35h-1.35zM299.7 474.2h1.35v1.35h-1.35zM288.7 504.2h1.35v1.35h-1.35zM298.0 486.7h1.35v1.35h-1.35zM302.5 473.5h1.35v1.35h-1.35zM300.0 479.1h1.35v1.35h-1.35zM289.3 475.6h1.35v1.35h-1.35zM302.7 502.8h1.35v1.35h-1.35zM296.8 475.1h1.35v1.35h-1.35zM296.5 470.9h1.35v1.35h-1.35zM296.8 503.7h1.35v1.35h-1.35zM288.3 494.0h1.35v1.35h-1.35zM301.1 482.6h1.35v1.35h-1.35zM302.0 496.6h1.35v1.35h-1.35zM296.7 496.8h1.35v1.35h-1.35zM300.2 477.7h1.35v1.35h-1.35zM289.8 503.9h1.35v1.35h-1.35zM288.6 497.8h1.35v1.35h-1.35zM289.6 495.5h1.35v1.35h-1.35zM301.4 487.8h1.35v1.35h-1.35zM299.8 471.0h1.35v1.35h-1.35zM302.7 479.6h1.35v1.35h-1.35zM301.1 493.9h1.35v1.35h-1.35zM285.3 485.4h1.35v1.35h-1.35zM286.0 504.0h1.35v1.35h-1.35zM285.4 482.6h1.35v1.35h-1.35zM301.5 477.8h1.35v1.35h-1.35zM301.7 477.0h1.35v1.35h-1.35zM294.7 501.0h1.35v1.35h-1.35zM288.9 486.5h1.35v1.35h-1.35zM294.0 497.5h1.35v1.35h-1.35zM302.5 492.8h1.35v1.35h-1.35zM286.8 497.0h1.35v1.35h-1.35zM291.5 486.5h1.35v1.35h-1.35zM301.9 497.2h1.35v1.35h-1.35zM300.2 497.6h1.35v1.35h-1.35zM284.8 483.6h1.35v1.35h-1.35zM299.1 502.6h1.35v1.35h-1.35zM292.2 475.9h1.35v1.35h-1.35zM302.3 475.2h1.35v1.35h-1.35zM287.0 497.8h1.35v1.35h-1.35zM302.2 498.5h1.35v1.35h-1.35zM284.5 492.6h1.35v1.35h-1.35zM299.9 488.9h1.35v1.35h-1.35zM302.3 470.5h1.35v1.35h-1.35zM284.8 492.4h1.35v1.35h-1.35zM296.8 502.2h1.35v1.35h-1.35zM298.6 500.0h1.35v1.35h-1.35zM289.4 477.3h1.35v1.35h-1.35zM301.2 480.1h1.35v1.35h-1.35zM301.3 490.2h1.35v1.35h-1.35zM301.1 484.4h1.35v1.35h-1.35zM302.3 501.4h1.35v1.35h-1.35zM299.8 485.8h1.35v1.35h-1.35zM295.6 501.2h1.35v1.35h-1.35zM298.8 501.6h1.35v1.35h-1.35zM297.3 488.3h1.35v1.35h-1.35zM296.9 470.6h1.35v1.35h-1.35zM298.4 476.3h1.35v1.35h-1.35zM302.8 497.5h1.35v1.35h-1.35zM302.0 486.3h1.35v1.35h-1.35zM292.2 489.2h1.35v1.35h-1.35zM300.2 487.9h1.35v1.35h-1.35zM296.2 497.0h1.35v1.35h-1.35zM302.4 489.3h1.35v1.35h-1.35zM301.2 479.5h1.35v1.35h-1.35zM290.9 487.5h1.35v1.35h-1.35zM296.1 496.2h1.35v1.35h-1.35zM286.7 485.3h1.35v1.35h-1.35zM294.9 487.4h1.35v1.35h-1.35zM297.1 493.9h1.35v1.35h-1.35zM298.2 488.4h1.35v1.35h-1.35zM297.8 502.4h1.35v1.35h-1.35zM292.8 500.2h1.35v1.35h-1.35zM285.8 478.9h1.35v1.35h-1.35zM296.1 502.5h1.35v1.35h-1.35zM289.0 474.7h1.35v1.35h-1.35zM302.3 485.2h1.35v1.35h-1.35zM302.6 478.3h1.35v1.35h-1.35zM302.6 493.1h1.35v1.35h-1.35zM290.6 500.9h1.35v1.35h-1.35zM302.1 494.7h1.35v1.35h-1.35zM293.8 474.9h1.35v1.35h-1.35zM287.7 503.3h1.35v1.35h-1.35zM301.5 502.8h1.35v1.35h-1.35zM299.2 486.8h1.35v1.35h-1.35zM284.2 498.7h1.35v1.35h-1.35zM302.0 484.9h1.35v1.35h-1.35zM297.0 481.7h1.35v1.35h-1.35zM301.8 481.0h1.35v1.35h-1.35zM292.2 470.7h1.35v1.35h-1.35zM296.2 485.2h1.35v1.35h-1.35zM302.7 481.4h1.35v1.35h-1.35zM294.7 487.6h1.35v1.35h-1.35zM302.6 503.9h1.35v1.35h-1.35zM290.4 503.5h1.35v1.35h-1.35zM302.4 479.1h1.35v1.35h-1.35zM302.7 496.8h1.35v1.35h-1.35zM301.0 474.5h1.35v1.35h-1.35zM298.8 501.4h1.35v1.35h-1.35zM289.6 478.9h1.35v1.35h-1.35zM302.1 501.7h1.35v1.35h-1.35zM295.9 494.1h1.35v1.35h-1.35zM302.5 472.0h1.35v1.35h-1.35zM293.1 484.7h1.35v1.35h-1.35zM302.6 502.3h1.35v1.35h-1.35zM294.4 497.6h1.35v1.35h-1.35zM302.5 499.5h1.35v1.35h-1.35zM302.6 499.7h1.35v1.35h-1.35zM298.2 481.7h1.35v1.35h-1.35zM296.3 501.9h1.35v1.35h-1.35zM301.0 474.5h1.35v1.35h-1.35zM296.8 478.2h1.35v1.35h-1.35zM302.4 475.6h1.35v1.35h-1.35zM302.7 477.0h1.35v1.35h-1.35zM300.4 480.5h1.35v1.35h-1.35zM291.2 480.0h1.35v1.35h-1.35zM297.3 476.1h1.35v1.35h-1.35zM299.9 470.6h1.35v1.35h-1.35zM301.2 470.5h1.35v1.35h-1.35zM292.0 489.0h1.35v1.35h-1.35zM301.8 486.4h1.35v1.35h-1.35zM286.0 473.7h1.35v1.35h-1.35zM289.6 484.9h1.35v1.35h-1.35zM297.4 498.8h1.35v1.35h-1.35zM299.2 487.5h1.35v1.35h-1.35zM293.1 503.8h1.35v1.35h-1.35zM300.0 498.7h1.35v1.35h-1.35zM292.6 491.9h1.35v1.35h-1.35zM299.0 482.0h1.35v1.35h-1.35zM302.7 474.5h1.35v1.35h-1.35zM302.6 495.5h1.35v1.35h-1.35zM301.1 475.6h1.35v1.35h-1.35zM302.5 499.0h1.35v1.35h-1.35zM288.0 493.1h1.35v1.35h-1.35zM300.8 478.3h1.35v1.35h-1.35zM300.7 485.8h1.35v1.35h-1.35zM302.1 485.4h1.35v1.35h-1.35zM301.0 503.1h1.35v1.35h-1.35zM284.8 488.8h1.35v1.35h-1.35zM301.3 503.3h1.35v1.35h-1.35zM300.5 482.3h1.35v1.35h-1.35zM302.8 483.1h1.35v1.35h-1.35zM297.8 487.3h1.35v1.35h-1.35zM301.7 487.4h1.35v1.35h-1.35zM302.8 479.1h1.35v1.35h-1.35zM302.5 483.8h1.35v1.35h-1.35zM302.7 470.8h1.35v1.35h-1.35zM300.5 478.0h1.35v1.35h-1.35zM295.5 488.2h1.35v1.35h-1.35zM291.5 492.7h1.35v1.35h-1.35zM292.4 500.3h1.35v1.35h-1.35zM299.3 481.2h1.35v1.35h-1.35zM284.4 475.1h1.35v1.35h-1.35zM292.2 492.2h1.35v1.35h-1.35zM302.7 498.8h1.35v1.35h-1.35zM287.4 491.6h1.35v1.35h-1.35zM291.9 498.0h1.35v1.35h-1.35zM302.2 488.0h1.35v1.35h-1.35zM297.2 498.8h1.35v1.35h-1.35zM290.0 498.5h1.35v1.35h-1.35zM295.6 500.8h1.35v1.35h-1.35zM293.2 493.9h1.35v1.35h-1.35zM301.4 471.1h1.35v1.35h-1.35zM302.3 482.4h1.35v1.35h-1.35zM302.4 498.8h1.35v1.35h-1.35zM296.1 491.6h1.35v1.35h-1.35zM294.6 493.4h1.35v1.35h-1.35zM297.5 470.1h1.35v1.35h-1.35zM290.2 495.8h1.35v1.35h-1.35zM297.3 488.4h1.35v1.35h-1.35zM293.8 472.3h1.35v1.35h-1.35zM291.9 478.7h1.35v1.35h-1.35zM302.6 479.1h1.35v1.35h-1.35zM292.1 477.1h1.35v1.35h-1.35zM291.8 503.6h1.35v1.35h-1.35zM297.4 483.2h1.35v1.35h-1.35zM297.7 493.6h1.35v1.35h-1.35zM291.0 491.3h1.35v1.35h-1.35zM294.2 472.7h1.35v1.35h-1.35zM302.2 478.7h1.35v1.35h-1.35zM291.7 480.5h1.35v1.35h-1.35zM295.9 470.4h1.35v1.35h-1.35zM302.6 479.3h1.35v1.35h-1.35zM293.5 493.8h1.35v1.35h-1.35zM293.4 480.0h1.35v1.35h-1.35zM297.0 486.0h1.35v1.35h-1.35zM298.0 474.1h1.35v1.35h-1.35zM287.3 476.9h1.35v1.35h-1.35zM284.6 502.3h1.35v1.35h-1.35zM302.7 485.8h1.35v1.35h-1.35zM289.5 503.4h1.35v1.35h-1.35zM298.3 479.3h1.35v1.35h-1.35zM301.6 502.6h1.35v1.35h-1.35zM301.6 490.0h1.35v1.35h-1.35zM302.2 488.1h1.35v1.35h-1.35zM285.4 474.6h1.35v1.35h-1.35zM289.5 487.5h1.35v1.35h-1.35zM287.5 494.2h1.35v1.35h-1.35zM301.4 500.9h1.35v1.35h-1.35zM297.6 470.9h1.35v1.35h-1.35zM302.8 486.9h1.35v1.35h-1.35zM298.3 480.4h1.35v1.35h-1.35zM302.2 481.8h1.35v1.35h-1.35zM300.4 498.9h1.35v1.35h-1.35zM302.8 495.9h1.35v1.35h-1.35zM289.0 474.1h1.35v1.35h-1.35zM286.3 494.6h1.35v1.35h-1.35zM287.1 480.0h1.35v1.35h-1.35zM299.6 483.5h1.35v1.35h-1.35zM283.9 490.3h1.35v1.35h-1.35zM299.7 484.7h1.35v1.35h-1.35zM300.9 471.7h1.35v1.35h-1.35zM302.4 498.8h1.35v1.35h-1.35zM300.8 502.2h1.35v1.35h-1.35zM301.2 479.2h1.35v1.35h-1.35zM297.1 476.5h1.35v1.35h-1.35zM299.5 502.9h1.35v1.35h-1.35zM287.6 498.0h1.35v1.35h-1.35zM294.5 501.5h1.35v1.35h-1.35zM285.8 488.9h1.35v1.35h-1.35zM292.3 471.7h1.35v1.35h-1.35zM292.0 485.5h1.35v1.35h-1.35zM291.4 492.2h1.35v1.35h-1.35zM300.8 471.7h1.35v1.35h-1.35zM286.3 474.4h1.35v1.35h-1.35zM297.9 481.8h1.35v1.35h-1.35zM300.6 495.5h1.35v1.35h-1.35zM284.7 479.0h1.35v1.35h-1.35zM293.9 480.4h1.35v1.35h-1.35zM296.2 483.6h1.35v1.35h-1.35zM302.0 475.6h1.35v1.35h-1.35zM301.6 501.2h1.35v1.35h-1.35zM297.4 477.6h1.35v1.35h-1.35zM286.9 504.3h1.35v1.35h-1.35zM298.3 474.8h1.35v1.35h-1.35zM301.8 473.1h1.35v1.35h-1.35zM300.0 473.1h1.35v1.35h-1.35zM301.3 478.9h1.35v1.35h-1.35zM295.9 500.6h1.35v1.35h-1.35zM291.5 484.2h1.35v1.35h-1.35zM298.9 488.1h1.35v1.35h-1.35zM299.5 481.7h1.35v1.35h-1.35zM302.6 479.6h1.35v1.35h-1.35zM285.0 474.3h1.35v1.35h-1.35zM297.3 491.7h1.35v1.35h-1.35zM288.3 477.4h1.35v1.35h-1.35zM301.0 478.6h1.35v1.35h-1.35zM299.1 485.4h1.35v1.35h-1.35zM285.4 499.2h1.35v1.35h-1.35zM288.0 470.8h1.35v1.35h-1.35zM302.7 494.4h1.35v1.35h-1.35zM287.3 486.3h1.35v1.35h-1.35zM295.5 470.0h1.35v1.35h-1.35zM299.3 501.9h1.35v1.35h-1.35zM289.4 499.5h1.35v1.35h-1.35zM284.8 478.6h1.35v1.35h-1.35zM302.4 475.3h1.35v1.35h-1.35zM296.9 493.5h1.35v1.35h-1.35zM285.8 494.9h1.35v1.35h-1.35zM294.1 496.3h1.35v1.35h-1.35zM298.1 489.0h1.35v1.35h-1.35zM302.7 497.0h1.35v1.35h-1.35zM301.4 501.7h1.35v1.35h-1.35zM294.2 480.5h1.35v1.35h-1.35zM302.3 478.7h1.35v1.35h-1.35zM294.4 494.1h1.35v1.35h-1.35zM302.4 472.4h1.35v1.35h-1.35zM296.8 490.1h1.35v1.35h-1.35zM299.3 477.7h1.35v1.35h-1.35zM295.2 470.4h1.35v1.35h-1.35zM300.6 485.9h1.35v1.35h-1.35zM285.2 492.2h1.35v1.35h-1.35zM287.6 486.4h1.35v1.35h-1.35zM301.4 478.5h1.35v1.35h-1.35zM285.2 494.3h1.35v1.35h-1.35zM300.5 470.8h1.35v1.35h-1.35zM297.4 493.2h1.35v1.35h-1.35zM298.8 478.9h1.35v1.35h-1.35zM293.6 501.9h1.35v1.35h-1.35zM301.4 471.2h1.35v1.35h-1.35zM300.1 484.5h1.35v1.35h-1.35zM293.3 476.8h1.35v1.35h-1.35zM290.2 495.5h1.35v1.35h-1.35zM297.2 477.1h1.35v1.35h-1.35zM284.9 480.7h1.35v1.35h-1.35zM289.5 478.0h1.35v1.35h-1.35zM301.5 496.2h1.35v1.35h-1.35zM300.7 502.8h1.35v1.35h-1.35zM297.4 476.5h1.35v1.35h-1.35zM301.5 484.4h1.35v1.35h-1.35zM293.7 502.7h1.35v1.35h-1.35zM302.2 483.6h1.35v1.35h-1.35zM301.6 503.6h1.35v1.35h-1.35zM302.2 471.8h1.35v1.35h-1.35zM302.6 483.5h1.35v1.35h-1.35zM287.2 500.4h1.35v1.35h-1.35zM292.0 504.4h1.35v1.35h-1.35zM286.1 481.3h1.35v1.35h-1.35zM301.8 502.2h1.35v1.35h-1.35zM291.6 471.1h1.35v1.35h-1.35zM293.7 483.0h1.35v1.35h-1.35zM299.5 481.4h1.35v1.35h-1.35zM302.0 470.1h1.35v1.35h-1.35zM300.8 482.1h1.35v1.35h-1.35zM285.4 474.3h1.35v1.35h-1.35zM285.1 477.1h1.35v1.35h-1.35zM299.8 498.3h1.35v1.35h-1.35zM289.5 484.9h1.35v1.35h-1.35zM302.7 486.3h1.35v1.35h-1.35zM299.6 501.7h1.35v1.35h-1.35zM301.8 482.5h1.35v1.35h-1.35zM287.2 471.0h1.35v1.35h-1.35zM298.9 498.0h1.35v1.35h-1.35zM291.0 471.4h1.35v1.35h-1.35zM302.7 472.2h1.35v1.35h-1.35zM286.5 478.9h1.35v1.35h-1.35zM291.6 501.0h1.35v1.35h-1.35zM300.1 479.4h1.35v1.35h-1.35zM285.3 491.3h1.35v1.35h-1.35zM301.1 494.7h1.35v1.35h-1.35zM300.4 479.5h1.35v1.35h-1.35zM302.8 496.0h1.35v1.35h-1.35zM286.6 491.8h1.35v1.35h-1.35zM285.8 470.8h1.35v1.35h-1.35zM301.4 486.4h1.35v1.35h-1.35zM285.3 502.9h1.35v1.35h-1.35zM299.3 478.6h1.35v1.35h-1.35zM298.6 487.0h1.35v1.35h-1.35zM286.2 476.3h1.35v1.35h-1.35zM290.0 495.4h1.35v1.35h-1.35zM289.5 496.6h1.35v1.35h-1.35zM295.1 481.3h1.35v1.35h-1.35zM300.3 482.5h1.35v1.35h-1.35zM290.6 472.7h1.35v1.35h-1.35zM301.7 495.9h1.35v1.35h-1.35zM301.2 472.2h1.35v1.35h-1.35zM302.7 489.0h1.35v1.35h-1.35zM300.2 503.8h1.35v1.35h-1.35zM287.6 504.0h1.35v1.35h-1.35zM301.0 472.9h1.35v1.35h-1.35zM302.5 487.2h1.35v1.35h-1.35zM292.6 485.4h1.35v1.35h-1.35zM301.4 484.4h1.35v1.35h-1.35zM294.8 493.2h1.35v1.35h-1.35zM291.6 499.2h1.35v1.35h-1.35zM293.7 474.2h1.35v1.35h-1.35zM288.9 480.1h1.35v1.35h-1.35zM296.0 482.8h1.35v1.35h-1.35zM291.8 476.9h1.35v1.35h-1.35zM301.2 478.5h1.35v1.35h-1.35zM282.4 500.5h1.35v1.35h-1.35zM278.4 481.2h1.35v1.35h-1.35zM280.1 504.2h1.35v1.35h-1.35zM279.1 478.0h1.35v1.35h-1.35zM276.2 492.5h1.35v1.35h-1.35zM274.5 473.5h1.35v1.35h-1.35zM279.4 498.2h1.35v1.35h-1.35zM275.9 501.5h1.35v1.35h-1.35zM283.5 480.1h1.35v1.35h-1.35zM282.7 476.5h1.35v1.35h-1.35zM274.7 490.1h1.35v1.35h-1.35zM275.1 482.8h1.35v1.35h-1.35zM275.7 485.5h1.35v1.35h-1.35zM281.4 496.8h1.35v1.35h-1.35zM274.9 473.6h1.35v1.35h-1.35zM278.2 491.4h1.35v1.35h-1.35zM281.8 482.7h1.35v1.35h-1.35zM282.5 477.0h1.35v1.35h-1.35zM281.5 490.7h1.35v1.35h-1.35zM277.7 477.0h1.35v1.35h-1.35zM283.8 481.3h1.35v1.35h-1.35zM277.5 476.4h1.35v1.35h-1.35zM280.9 477.0h1.35v1.35h-1.35zM276.4 488.9h1.35v1.35h-1.35zM283.3 473.5h1.35v1.35h-1.35zM280.1 489.0h1.35v1.35h-1.35zM277.8 473.1h1.35v1.35h-1.35zM282.3 494.0h1.35v1.35h-1.35zM280.0 479.8h1.35v1.35h-1.35zM281.0 502.8h1.35v1.35h-1.35zM280.9 489.5h1.35v1.35h-1.35zM280.5 484.3h1.35v1.35h-1.35zM275.7 504.3h1.35v1.35h-1.35zM280.4 476.8h1.35v1.35h-1.35zM277.0 477.0h1.35v1.35h-1.35zM274.3 501.1h1.35v1.35h-1.35zM265.8 498.3h1.35v1.35h-1.35zM266.1 500.4h1.35v1.35h-1.35zM265.0 475.6h1.35v1.35h-1.35zM274.1 489.0h1.35v1.35h-1.35zM261.3 501.3h1.35v1.35h-1.35zM272.6 491.4h1.35v1.35h-1.35zM266.8 487.4h1.35v1.35h-1.35zM241.5 479.8h1.35v1.35h-1.35zM229.0 501.9h1.35v1.35h-1.35zM243.4 486.9h1.35v1.35h-1.35zM219.8 503.3h1.35v1.35h-1.35zM239.2 474.4h1.35v1.35h-1.35zM212.4 503.6h1.35v1.35h-1.35zM230.0 471.8h1.35v1.35h-1.35zM213.6 483.4h1.35v1.35h-1.35zM215.0 491.4h1.35v1.35h-1.35zM219.0 475.5h1.35v1.35h-1.35zM220.6 477.7h1.35v1.35h-1.35zM232.2 499.2h1.35v1.35h-1.35zM218.8 476.3h1.35v1.35h-1.35zM238.4 483.8h1.35v1.35h-1.35zM229.1 483.2h1.35v1.35h-1.35zM242.7 478.5h1.35v1.35h-1.35zM222.9 500.9h1.35v1.35h-1.35zM248.1 489.4h1.35v1.35h-1.35zM221.7 471.3h1.35v1.35h-1.35zM218.4 474.1h1.35v1.35h-1.35zM226.8 488.9h1.35v1.35h-1.35zM226.0 480.5h1.35v1.35h-1.35zM231.7 490.1h1.35v1.35h-1.35zM231.6 492.7h1.35v1.35h-1.35zM231.0 485.1h1.35v1.35h-1.35zM249.9 491.3h1.35v1.35h-1.35zM229.8 478.1h1.35v1.35h-1.35zM221.5 496.9h1.35v1.35h-1.35zM230.7 476.2h1.35v1.35h-1.35zM230.3 473.7h1.35v1.35h-1.35zM242.4 484.8h1.35v1.35h-1.35zM244.4 485.2h1.35v1.35h-1.35zM229.3 471.4h1.35v1.35h-1.35zM225.7 472.8h1.35v1.35h-1.35zM222.6 496.8h1.35v1.35h-1.35zM229.3 471.9h1.35v1.35h-1.35zM229.5 483.0h1.35v1.35h-1.35zM211.7 474.7h1.35v1.35h-1.35zM217.5 504.3h1.35v1.35h-1.35zM222.6 498.1h1.35v1.35h-1.35zM239.4 503.8h1.35v1.35h-1.35zM229.8 503.0h1.35v1.35h-1.35zM214.2 475.7h1.35v1.35h-1.35zM220.5 502.1h1.35v1.35h-1.35zM246.1 482.1h1.35v1.35h-1.35zM221.7 475.5h1.35v1.35h-1.35zM215.4 479.5h1.35v1.35h-1.35zM219.4 474.9h1.35v1.35h-1.35zM229.5 501.7h1.35v1.35h-1.35zM238.8 479.1h1.35v1.35h-1.35zM229.4 481.0h1.35v1.35h-1.35zM248.5 476.3h1.35v1.35h-1.35zM240.8 502.3h1.35v1.35h-1.35zM224.4 500.8h1.35v1.35h-1.35zM240.4 497.0h1.35v1.35h-1.35zM243.1 488.3h1.35v1.35h-1.35zM225.7 482.4h1.35v1.35h-1.35zM216.7 489.1h1.35v1.35h-1.35zM227.4 500.4h1.35v1.35h-1.35zM243.7 504.2h1.35v1.35h-1.35zM225.9 483.6h1.35v1.35h-1.35zM220.1 479.1h1.35v1.35h-1.35zM207.2 489.9h1.35v1.35h-1.35zM233.5 496.3h1.35v1.35h-1.35zM231.1 476.1h1.35v1.35h-1.35zM222.2 471.7h1.35v1.35h-1.35zM219.2 478.7h1.35v1.35h-1.35zM225.7 503.9h1.35v1.35h-1.35zM227.2 492.9h1.35v1.35h-1.35zM235.0 470.1h1.35v1.35h-1.35zM248.8 475.1h1.35v1.35h-1.35zM226.4 484.9h1.35v1.35h-1.35zM229.2 500.9h1.35v1.35h-1.35zM242.2 477.8h1.35v1.35h-1.35zM225.2 470.8h1.35v1.35h-1.35zM253.7 482.2h1.35v1.35h-1.35zM243.6 482.3h1.35v1.35h-1.35zM238.1 490.1h1.35v1.35h-1.35zM227.1 477.0h1.35v1.35h-1.35zM226.1 486.4h1.35v1.35h-1.35zM242.1 502.3h1.35v1.35h-1.35zM237.4 475.1h1.35v1.35h-1.35zM244.2 492.0h1.35v1.35h-1.35zM216.8 496.9h1.35v1.35h-1.35zM232.2 479.1h1.35v1.35h-1.35zM251.6 492.2h1.35v1.35h-1.35zM227.9 482.1h1.35v1.35h-1.35zM225.5 485.3h1.35v1.35h-1.35zM212.8 495.3h1.35v1.35h-1.35zM237.2 501.1h1.35v1.35h-1.35zM247.8 488.3h1.35v1.35h-1.35zM232.1 478.2h1.35v1.35h-1.35zM246.7 496.8h1.35v1.35h-1.35zM251.5 489.0h1.35v1.35h-1.35zM212.5 474.9h1.35v1.35h-1.35zM239.1 490.9h1.35v1.35h-1.35zM229.4 492.1h1.35v1.35h-1.35zM219.5 476.0h1.35v1.35h-1.35zM235.1 480.3h1.35v1.35h-1.35zM247.4 500.6h1.35v1.35h-1.35zM215.8 494.6h1.35v1.35h-1.35zM253.7 499.1h1.35v1.35h-1.35zM217.6 486.0h1.35v1.35h-1.35zM217.8 485.6h1.35v1.35h-1.35zM242.9 473.6h1.35v1.35h-1.35zM242.6 471.3h1.35v1.35h-1.35zM237.6 495.8h1.35v1.35h-1.35zM220.0 499.1h1.35v1.35h-1.35zM219.2 479.2h1.35v1.35h-1.35zM226.9 485.0h1.35v1.35h-1.35zM215.5 488.0h1.35v1.35h-1.35zM241.0 492.1h1.35v1.35h-1.35zM206.9 477.5h1.35v1.35h-1.35zM211.0 470.5h1.35v1.35h-1.35zM197.2 478.1h1.35v1.35h-1.35zM191.1 502.5h1.35v1.35h-1.35zM297.2 523.3h1.35v1.35h-1.35zM295.2 523.4h1.35v1.35h-1.35zM302.0 543.3h1.35v1.35h-1.35zM298.6 535.9h1.35v1.35h-1.35zM298.2 545.7h1.35v1.35h-1.35zM300.3 540.9h1.35v1.35h-1.35zM297.8 541.6h1.35v1.35h-1.35zM300.6 537.0h1.35v1.35h-1.35zM299.3 522.7h1.35v1.35h-1.35zM302.2 533.5h1.35v1.35h-1.35zM302.7 543.4h1.35v1.35h-1.35zM302.5 513.0h1.35v1.35h-1.35zM302.6 544.0h1.35v1.35h-1.35zM301.4 517.0h1.35v1.35h-1.35zM302.7 513.5h1.35v1.35h-1.35zM297.9 533.9h1.35v1.35h-1.35zM297.8 537.4h1.35v1.35h-1.35zM302.7 532.4h1.35v1.35h-1.35zM301.2 540.2h1.35v1.35h-1.35zM296.2 542.7h1.35v1.35h-1.35zM302.7 541.9h1.35v1.35h-1.35zM294.7 544.5h1.35v1.35h-1.35zM302.6 519.2h1.35v1.35h-1.35zM302.6 513.3h1.35v1.35h-1.35zM295.7 540.0h1.35v1.35h-1.35zM298.6 540.4h1.35v1.35h-1.35zM298.6 522.0h1.35v1.35h-1.35zM302.6 515.5h1.35v1.35h-1.35zM297.0 519.1h1.35v1.35h-1.35zM301.5 526.7h1.35v1.35h-1.35zM302.7 520.9h1.35v1.35h-1.35zM301.8 536.7h1.35v1.35h-1.35zM301.2 523.1h1.35v1.35h-1.35zM293.9 529.4h1.35v1.35h-1.35zM295.7 533.3h1.35v1.35h-1.35zM302.7 526.3h1.35v1.35h-1.35zM300.6 538.7h1.35v1.35h-1.35zM301.4 536.3h1.35v1.35h-1.35zM299.7 519.5h1.35v1.35h-1.35zM295.5 515.2h1.35v1.35h-1.35zM296.2 518.0h1.35v1.35h-1.35zM302.8 519.0h1.35v1.35h-1.35zM297.0 545.7h1.35v1.35h-1.35zM302.8 529.0h1.35v1.35h-1.35zM300.1 539.5h1.35v1.35h-1.35zM302.3 529.1h1.35v1.35h-1.35zM301.3 540.7h1.35v1.35h-1.35zM301.9 544.5h1.35v1.35h-1.35zM301.8 519.5h1.35v1.35h-1.35zM297.8 529.2h1.35v1.35h-1.35zM302.6 534.0h1.35v1.35h-1.35zM302.7 539.2h1.35v1.35h-1.35zM297.8 539.1h1.35v1.35h-1.35zM298.7 524.3h1.35v1.35h-1.35zM300.9 525.7h1.35v1.35h-1.35zM295.1 515.1h1.35v1.35h-1.35zM295.1 513.0h1.35v1.35h-1.35zM302.2 521.1h1.35v1.35h-1.35zM294.9 529.3h1.35v1.35h-1.35zM301.1 542.5h1.35v1.35h-1.35zM302.1 527.9h1.35v1.35h-1.35zM299.7 538.0h1.35v1.35h-1.35zM297.1 534.3h1.35v1.35h-1.35zM301.3 523.3h1.35v1.35h-1.35zM302.4 541.1h1.35v1.35h-1.35zM298.3 537.6h1.35v1.35h-1.35zM302.4 527.2h1.35v1.35h-1.35zM296.8 532.0h1.35v1.35h-1.35zM302.5 528.0h1.35v1.35h-1.35zM295.2 520.3h1.35v1.35h-1.35zM302.3 522.5h1.35v1.35h-1.35zM297.7 541.1h1.35v1.35h-1.35zM302.4 517.5h1.35v1.35h-1.35zM302.0 523.3h1.35v1.35h-1.35zM299.8 517.6h1.35v1.35h-1.35zM301.5 518.6h1.35v1.35h-1.35zM293.7 537.1h1.35v1.35h-1.35zM302.6 545.2h1.35v1.35h-1.35zM302.6 525.3h1.35v1.35h-1.35zM293.6 539.4h1.35v1.35h-1.35zM297.4 527.0h1.35v1.35h-1.35zM302.3 534.0h1.35v1.35h-1.35zM302.6 519.2h1.35v1.35h-1.35zM301.0 513.3h1.35v1.35h-1.35zM300.9 539.3h1.35v1.35h-1.35zM297.9 529.3h1.35v1.35h-1.35zM298.6 528.0h1.35v1.35h-1.35zM302.5 532.8h1.35v1.35h-1.35zM300.9 537.6h1.35v1.35h-1.35zM294.8 526.9h1.35v1.35h-1.35zM299.3 537.8h1.35v1.35h-1.35zM300.8 520.0h1.35v1.35h-1.35zM297.5 542.3h1.35v1.35h-1.35zM296.8 536.1h1.35v1.35h-1.35zM295.7 535.4h1.35v1.35h-1.35zM298.5 527.7h1.35v1.35h-1.35zM301.6 533.7h1.35v1.35h-1.35zM302.6 526.5h1.35v1.35h-1.35zM296.7 536.6h1.35v1.35h-1.35zM298.6 520.7h1.35v1.35h-1.35zM300.7 527.7h1.35v1.35h-1.35zM298.7 526.2h1.35v1.35h-1.35zM298.1 544.1h1.35v1.35h-1.35zM302.3 534.6h1.35v1.35h-1.35zM296.7 525.5h1.35v1.35h-1.35zM300.1 545.6h1.35v1.35h-1.35zM302.7 530.8h1.35v1.35h-1.35zM302.4 539.0h1.35v1.35h-1.35zM294.3 529.9h1.35v1.35h-1.35zM302.6 531.8h1.35v1.35h-1.35zM299.6 536.7h1.35v1.35h-1.35zM299.9 534.1h1.35v1.35h-1.35zM296.0 530.0h1.35v1.35h-1.35zM300.9 544.7h1.35v1.35h-1.35zM302.2 535.6h1.35v1.35h-1.35zM301.0 538.3h1.35v1.35h-1.35zM302.5 545.9h1.35v1.35h-1.35zM301.3 514.0h1.35v1.35h-1.35zM301.8 525.8h1.35v1.35h-1.35zM302.8 526.5h1.35v1.35h-1.35zM300.8 536.1h1.35v1.35h-1.35zM301.3 521.2h1.35v1.35h-1.35zM302.1 537.6h1.35v1.35h-1.35zM294.3 530.2h1.35v1.35h-1.35zM302.1 539.6h1.35v1.35h-1.35zM301.0 519.4h1.35v1.35h-1.35zM302.5 538.8h1.35v1.35h-1.35zM296.3 533.9h1.35v1.35h-1.35zM300.3 531.4h1.35v1.35h-1.35zM302.1 545.2h1.35v1.35h-1.35zM301.3 534.0h1.35v1.35h-1.35zM296.2 540.1h1.35v1.35h-1.35zM300.3 522.2h1.35v1.35h-1.35zM299.6 516.4h1.35v1.35h-1.35zM295.9 524.3h1.35v1.35h-1.35zM295.7 521.3h1.35v1.35h-1.35zM301.1 520.8h1.35v1.35h-1.35zM300.7 518.5h1.35v1.35h-1.35zM302.8 536.9h1.35v1.35h-1.35zM301.8 520.5h1.35v1.35h-1.35zM301.7 528.6h1.35v1.35h-1.35zM300.7 534.0h1.35v1.35h-1.35zM298.3 524.5h1.35v1.35h-1.35zM294.5 541.5h1.35v1.35h-1.35zM302.7 540.5h1.35v1.35h-1.35zM294.9 539.0h1.35v1.35h-1.35zM302.5 540.7h1.35v1.35h-1.35zM298.6 512.6h1.35v1.35h-1.35zM302.8 544.8h1.35v1.35h-1.35zM298.3 520.7h1.35v1.35h-1.35zM302.6 517.0h1.35v1.35h-1.35zM302.1 538.8h1.35v1.35h-1.35zM301.4 517.3h1.35v1.35h-1.35zM294.9 539.3h1.35v1.35h-1.35zM302.4 542.7h1.35v1.35h-1.35zM298.9 538.9h1.35v1.35h-1.35zM298.2 542.8h1.35v1.35h-1.35zM296.6 540.9h1.35v1.35h-1.35zM302.2 535.9h1.35v1.35h-1.35zM299.7 537.6h1.35v1.35h-1.35zM300.6 542.4h1.35v1.35h-1.35zM299.5 521.2h1.35v1.35h-1.35zM302.1 516.9h1.35v1.35h-1.35zM300.1 514.1h1.35v1.35h-1.35zM300.4 517.1h1.35v1.35h-1.35zM300.1 529.2h1.35v1.35h-1.35zM299.6 541.7h1.35v1.35h-1.35zM302.8 541.0h1.35v1.35h-1.35zM300.3 531.4h1.35v1.35h-1.35zM298.2 541.0h1.35v1.35h-1.35zM301.1 526.5h1.35v1.35h-1.35zM294.0 514.7h1.35v1.35h-1.35zM298.6 534.0h1.35v1.35h-1.35zM302.7 533.0h1.35v1.35h-1.35zM298.0 544.1h1.35v1.35h-1.35zM301.5 545.8h1.35v1.35h-1.35zM299.9 528.7h1.35v1.35h-1.35zM295.0 513.3h1.35v1.35h-1.35zM297.6 533.6h1.35v1.35h-1.35zM301.4 541.7h1.35v1.35h-1.35zM301.2 528.4h1.35v1.35h-1.35zM299.8 538.6h1.35v1.35h-1.35zM302.2 527.0h1.35v1.35h-1.35zM300.8 531.1h1.35v1.35h-1.35zM296.0 522.2h1.35v1.35h-1.35zM296.0 526.0h1.35v1.35h-1.35zM300.0 521.4h1.35v1.35h-1.35zM300.0 545.6h1.35v1.35h-1.35zM298.4 539.3h1.35v1.35h-1.35zM301.5 523.0h1.35v1.35h-1.35zM301.7 532.2h1.35v1.35h-1.35zM298.6 539.0h1.35v1.35h-1.35zM302.7 536.9h1.35v1.35h-1.35zM295.2 530.8h1.35v1.35h-1.35zM302.7 522.4h1.35v1.35h-1.35zM302.8 518.6h1.35v1.35h-1.35zM294.6 533.0h1.35v1.35h-1.35zM298.3 539.2h1.35v1.35h-1.35zM294.8 533.1h1.35v1.35h-1.35zM298.8 533.6h1.35v1.35h-1.35zM297.8 532.6h1.35v1.35h-1.35zM298.0 519.4h1.35v1.35h-1.35zM298.2 527.8h1.35v1.35h-1.35zM297.0 515.6h1.35v1.35h-1.35zM302.3 513.4h1.35v1.35h-1.35zM296.8 543.5h1.35v1.35h-1.35zM298.3 524.8h1.35v1.35h-1.35zM296.1 539.1h1.35v1.35h-1.35zM299.4 521.0h1.35v1.35h-1.35zM301.7 526.6h1.35v1.35h-1.35zM301.6 526.9h1.35v1.35h-1.35zM298.5 544.2h1.35v1.35h-1.35zM302.7 531.6h1.35v1.35h-1.35zM302.7 516.2h1.35v1.35h-1.35zM296.3 531.9h1.35v1.35h-1.35zM294.6 527.4h1.35v1.35h-1.35zM302.8 525.4h1.35v1.35h-1.35zM299.1 544.3h1.35v1.35h-1.35zM293.6 528.4h1.35v1.35h-1.35zM300.8 515.6h1.35v1.35h-1.35zM298.5 519.4h1.35v1.35h-1.35zM302.4 512.6h1.35v1.35h-1.35zM302.8 535.6h1.35v1.35h-1.35zM302.5 545.3h1.35v1.35h-1.35zM302.6 542.0h1.35v1.35h-1.35zM302.5 512.7h1.35v1.35h-1.35zM297.5 520.4h1.35v1.35h-1.35zM297.3 518.5h1.35v1.35h-1.35zM302.7 538.7h1.35v1.35h-1.35zM297.6 541.5h1.35v1.35h-1.35zM297.4 515.0h1.35v1.35h-1.35zM298.7 536.5h1.35v1.35h-1.35zM300.4 544.1h1.35v1.35h-1.35zM302.0 545.2h1.35v1.35h-1.35zM297.6 512.5h1.35v1.35h-1.35zM302.8 534.5h1.35v1.35h-1.35zM296.2 514.8h1.35v1.35h-1.35zM301.6 537.2h1.35v1.35h-1.35zM302.4 541.7h1.35v1.35h-1.35zM300.2 514.2h1.35v1.35h-1.35zM301.2 531.8h1.35v1.35h-1.35zM300.6 535.4h1.35v1.35h-1.35zM302.5 539.5h1.35v1.35h-1.35zM301.2 534.3h1.35v1.35h-1.35zM298.6 526.5h1.35v1.35h-1.35zM301.1 539.1h1.35v1.35h-1.35zM294.2 539.1h1.35v1.35h-1.35zM299.4 522.1h1.35v1.35h-1.35zM302.7 545.6h1.35v1.35h-1.35zM297.7 540.5h1.35v1.35h-1.35zM286.5 532.9h1.35v1.35h-1.35zM271.8 540.7h1.35v1.35h-1.35zM280.4 522.7h1.35v1.35h-1.35zM284.3 542.6h1.35v1.35h-1.35zM285.5 535.6h1.35v1.35h-1.35zM280.4 542.9h1.35v1.35h-1.35zM275.7 521.8h1.35v1.35h-1.35zM294.1 521.1h1.35v1.35h-1.35zM284.5 532.3h1.35v1.35h-1.35zM275.5 542.6h1.35v1.35h-1.35zM293.1 540.7h1.35v1.35h-1.35zM275.6 541.9h1.35v1.35h-1.35zM281.0 521.5h1.35v1.35h-1.35zM274.7 539.8h1.35v1.35h-1.35zM278.5 543.5h1.35v1.35h-1.35zM286.2 515.0h1.35v1.35h-1.35zM281.5 539.5h1.35v1.35h-1.35zM289.5 537.9h1.35v1.35h-1.35zM272.8 520.1h1.35v1.35h-1.35zM280.2 535.4h1.35v1.35h-1.35zM283.5 519.2h1.35v1.35h-1.35zM288.3 537.9h1.35v1.35h-1.35zM276.0 527.9h1.35v1.35h-1.35zM292.1 539.8h1.35v1.35h-1.35zM276.5 520.1h1.35v1.35h-1.35zM280.9 542.9h1.35v1.35h-1.35zM273.9 530.0h1.35v1.35h-1.35zM283.2 532.3h1.35v1.35h-1.35zM289.8 518.7h1.35v1.35h-1.35zM290.0 536.2h1.35v1.35h-1.35zM285.8 531.5h1.35v1.35h-1.35zM284.9 529.9h1.35v1.35h-1.35zM290.7 513.6h1.35v1.35h-1.35zM271.3 524.9h1.35v1.35h-1.35zM291.7 533.8h1.35v1.35h-1.35zM276.1 517.5h1.35v1.35h-1.35zM280.5 523.9h1.35v1.35h-1.35zM282.2 512.8h1.35v1.35h-1.35zM293.3 546.1h1.35v1.35h-1.35zM274.3 528.8h1.35v1.35h-1.35zM281.2 521.1h1.35v1.35h-1.35zM276.3 526.7h1.35v1.35h-1.35zM272.5 538.5h1.35v1.35h-1.35zM275.4 545.2h1.35v1.35h-1.35zM288.3 513.4h1.35v1.35h-1.35zM289.5 518.3h1.35v1.35h-1.35zM292.2 513.9h1.35v1.35h-1.35zM281.4 542.0h1.35v1.35h-1.35zM283.6 544.6h1.35v1.35h-1.35zM273.3 514.3h1.35v1.35h-1.35zM280.4 525.8h1.35v1.35h-1.35zM291.4 545.1h1.35v1.35h-1.35zM288.2 531.5h1.35v1.35h-1.35zM279.5 545.0h1.35v1.35h-1.35zM278.8 525.6h1.35v1.35h-1.35zM283.9 517.6h1.35v1.35h-1.35zM272.1 546.2h1.35v1.35h-1.35zM289.0 513.4h1.35v1.35h-1.35zM288.3 524.2h1.35v1.35h-1.35zM273.5 543.2h1.35v1.35h-1.35zM256.5 513.7h1.35v1.35h-1.35zM257.3 536.5h1.35v1.35h-1.35zM259.5 545.9h1.35v1.35h-1.35zM268.8 517.1h1.35v1.35h-1.35zM257.8 544.4h1.35v1.35h-1.35zM225.2 522.4h1.35v1.35h-1.35zM227.7 538.1h1.35v1.35h-1.35zM242.9 523.2h1.35v1.35h-1.35zM236.8 516.4h1.35v1.35h-1.35zM230.4 517.9h1.35v1.35h-1.35zM237.4 517.0h1.35v1.35h-1.35zM225.2 512.5h1.35v1.35h-1.35zM224.0 518.8h1.35v1.35h-1.35zM247.5 544.0h1.35v1.35h-1.35zM238.0 544.2h1.35v1.35h-1.35zM218.3 542.6h1.35v1.35h-1.35zM241.3 527.5h1.35v1.35h-1.35zM243.4 544.0h1.35v1.35h-1.35zM219.4 533.7h1.35v1.35h-1.35zM231.1 523.8h1.35v1.35h-1.35zM220.2 528.5h1.35v1.35h-1.35zM226.7 517.0h1.35v1.35h-1.35zM238.0 514.0h1.35v1.35h-1.35zM224.1 531.1h1.35v1.35h-1.35zM241.0 542.0h1.35v1.35h-1.35zM236.4 526.2h1.35v1.35h-1.35zM240.6 521.4h1.35v1.35h-1.35zM219.6 523.6h1.35v1.35h-1.35zM240.1 529.0h1.35v1.35h-1.35zM234.8 543.1h1.35v1.35h-1.35zM242.5 545.7h1.35v1.35h-1.35zM245.9 542.8h1.35v1.35h-1.35zM225.5 519.4h1.35v1.35h-1.35zM230.5 521.9h1.35v1.35h-1.35zM236.7 519.0h1.35v1.35h-1.35zM233.5 546.1h1.35v1.35h-1.35zM207.4 543.9h1.35v1.35h-1.35zM243.4 522.0h1.35v1.35h-1.35zM216.9 514.1h1.35v1.35h-1.35zM223.7 522.2h1.35v1.35h-1.35zM210.9 512.7h1.35v1.35h-1.35zM220.9 523.8h1.35v1.35h-1.35zM241.3 512.2h1.35v1.35h-1.35zM219.9 530.2h1.35v1.35h-1.35zM239.3 527.1h1.35v1.35h-1.35zM216.0 519.6h1.35v1.35h-1.35zM228.2 516.8h1.35v1.35h-1.35zM239.6 538.6h1.35v1.35h-1.35zM224.2 518.9h1.35v1.35h-1.35zM244.4 515.1h1.35v1.35h-1.35zM227.2 529.1h1.35v1.35h-1.35zM236.2 519.2h1.35v1.35h-1.35zM227.1 536.4h1.35v1.35h-1.35zM220.7 532.1h1.35v1.35h-1.35zM238.7 514.4h1.35v1.35h-1.35zM223.5 526.1h1.35v1.35h-1.35zM223.9 514.0h1.35v1.35h-1.35zM220.7 523.6h1.35v1.35h-1.35zM219.5 541.8h1.35v1.35h-1.35zM230.1 512.6h1.35v1.35h-1.35zM216.1 528.5h1.35v1.35h-1.35zM218.1 521.2h1.35v1.35h-1.35zM239.3 540.7h1.35v1.35h-1.35zM233.4 517.7h1.35v1.35h-1.35zM233.3 532.5h1.35v1.35h-1.35zM251.6 530.0h1.35v1.35h-1.35zM231.3 529.8h1.35v1.35h-1.35zM242.2 536.6h1.35v1.35h-1.35zM220.5 541.8h1.35v1.35h-1.35zM234.7 536.5h1.35v1.35h-1.35zM233.0 537.9h1.35v1.35h-1.35zM245.6 542.1h1.35v1.35h-1.35zM213.2 529.1h1.35v1.35h-1.35zM229.6 530.3h1.35v1.35h-1.35zM229.0 512.8h1.35v1.35h-1.35zM208.2 519.8h1.35v1.35h-1.35zM244.1 515.6h1.35v1.35h-1.35zM241.0 540.2h1.35v1.35h-1.35zM251.0 515.4h1.35v1.35h-1.35zM220.5 518.8h1.35v1.35h-1.35zM251.6 532.7h1.35v1.35h-1.35zM226.1 530.1h1.35v1.35h-1.35zM220.3 515.6h1.35v1.35h-1.35zM212.7 536.7h1.35v1.35h-1.35zM250.3 516.3h1.35v1.35h-1.35z" fill="#3b8cc6"/>
<path d="M325.3 487.3h1.35v1.35h-1.35zM322.3 474.2h1.35v1.35h-1.35zM324.1 474.7h1.35v1.35h-1.35zM326.6 499.7h1.35v1.35h-1.35zM320.5 489.7h1.35v1.35h-1.35zM328.8 475.7h1.35v1.35h-1.35zM329.9 502.3h1.35v1.35h-1.35zM323.8 484.5h1.35v1.35h-1.35zM330.1 488.1h1.35v1.35h-1.35zM323.9 502.4h1.35v1.35h-1.35zM329.2 481.7h1.35v1.35h-1.35zM321.8 481.5h1.35v1.35h-1.35zM324.5 503.8h1.35v1.35h-1.35zM329.6 501.4h1.35v1.35h-1.35zM329.7 499.2h1.35v1.35h-1.35zM319.2 487.8h1.35v1.35h-1.35zM331.7 502.2h1.35v1.35h-1.35zM321.9 484.5h1.35v1.35h-1.35zM327.2 482.6h1.35v1.35h-1.35zM325.8 472.4h1.35v1.35h-1.35zM324.5 487.4h1.35v1.35h-1.35zM318.8 474.8h1.35v1.35h-1.35zM331.9 496.8h1.35v1.35h-1.35zM331.4 491.8h1.35v1.35h-1.35zM329.6 500.5h1.35v1.35h-1.35zM330.7 471.2h1.35v1.35h-1.35zM327.3 479.2h1.35v1.35h-1.35zM327.8 479.4h1.35v1.35h-1.35zM326.0 501.8h1.35v1.35h-1.35zM327.1 478.6h1.35v1.35h-1.35zM325.7 484.9h1.35v1.35h-1.35zM331.6 479.9h1.35v1.35h-1.35zM322.7 492.3h1.35v1.35h-1.35zM320.2 490.5h1.35v1.35h-1.35zM331.7 487.7h1.35v1.35h-1.35zM322.2 486.1h1.35v1.35h-1.35zM325.8 475.1h1.35v1.35h-1.35zM320.2 474.5h1.35v1.35h-1.35zM322.5 484.0h1.35v1.35h-1.35zM322.5 478.4h1.35v1.35h-1.35zM319.7 488.8h1.35v1.35h-1.35zM330.1 491.0h1.35v1.35h-1.35zM326.3 492.4h1.35v1.35h-1.35zM321.3 494.5h1.35v1.35h-1.35zM324.8 488.9h1.35v1.35h-1.35zM326.9 486.2h1.35v1.35h-1.35zM322.8 478.3h1.35v1.35h-1.35zM321.5 487.7h1.35v1.35h-1.35zM323.8 490.2h1.35v1.35h-1.35zM318.7 482.1h1.35v1.35h-1.35zM330.4 478.2h1.35v1.35h-1.35zM326.2 486.9h1.35v1.35h-1.35zM322.4 504.0h1.35v1.35h-1.35zM322.6 496.6h1.35v1.35h-1.35zM320.7 472.3h1.35v1.35h-1.35zM330.5 485.2h1.35v1.35h-1.35zM319.3 483.4h1.35v1.35h-1.35zM324.6 495.3h1.35v1.35h-1.35zM320.0 477.8h1.35v1.35h-1.35zM331.7 495.4h1.35v1.35h-1.35zM320.6 481.6h1.35v1.35h-1.35zM323.3 493.3h1.35v1.35h-1.35zM327.0 499.3h1.35v1.35h-1.35zM329.8 487.8h1.35v1.35h-1.35zM328.7 495.6h1.35v1.35h-1.35zM329.0 486.4h1.35v1.35h-1.35zM329.3 494.4h1.35v1.35h-1.35zM331.1 474.4h1.35v1.35h-1.35zM330.5 470.1h1.35v1.35h-1.35zM329.0 490.2h1.35v1.35h-1.35zM325.4 503.2h1.35v1.35h-1.35zM326.4 484.4h1.35v1.35h-1.35zM329.3 500.1h1.35v1.35h-1.35zM326.9 483.1h1.35v1.35h-1.35zM324.7 485.8h1.35v1.35h-1.35zM328.5 480.1h1.35v1.35h-1.35zM323.9 489.1h1.35v1.35h-1.35zM323.8 481.1h1.35v1.35h-1.35zM329.3 499.3h1.35v1.35h-1.35zM325.4 485.3h1.35v1.35h-1.35zM321.0 480.5h1.35v1.35h-1.35zM320.5 489.8h1.35v1.35h-1.35zM326.5 473.0h1.35v1.35h-1.35zM331.2 481.2h1.35v1.35h-1.35zM330.1 498.9h1.35v1.35h-1.35zM331.7 477.0h1.35v1.35h-1.35zM324.4 501.4h1.35v1.35h-1.35zM318.6 471.6h1.35v1.35h-1.35zM326.3 487.1h1.35v1.35h-1.35zM331.2 496.6h1.35v1.35h-1.35zM325.9 504.4h1.35v1.35h-1.35zM325.6 487.8h1.35v1.35h-1.35zM327.9 483.4h1.35v1.35h-1.35zM323.4 490.5h1.35v1.35h-1.35zM323.3 502.7h1.35v1.35h-1.35zM327.8 488.1h1.35v1.35h-1.35zM319.9 482.9h1.35v1.35h-1.35zM324.0 489.3h1.35v1.35h-1.35zM326.4 500.3h1.35v1.35h-1.35zM331.8 486.8h1.35v1.35h-1.35zM324.6 491.5h1.35v1.35h-1.35zM332.2 481.8h1.35v1.35h-1.35zM325.8 498.1h1.35v1.35h-1.35zM320.8 481.0h1.35v1.35h-1.35zM332.0 498.5h1.35v1.35h-1.35zM325.6 473.8h1.35v1.35h-1.35zM330.8 493.8h1.35v1.35h-1.35zM329.8 504.1h1.35v1.35h-1.35zM330.7 484.5h1.35v1.35h-1.35zM320.6 480.0h1.35v1.35h-1.35zM325.5 487.4h1.35v1.35h-1.35zM321.1 476.3h1.35v1.35h-1.35zM327.2 490.8h1.35v1.35h-1.35zM323.4 504.2h1.35v1.35h-1.35zM327.3 471.5h1.35v1.35h-1.35zM324.2 497.1h1.35v1.35h-1.35zM322.7 493.8h1.35v1.35h-1.35zM318.5 480.5h1.35v1.35h-1.35zM330.1 490.2h1.35v1.35h-1.35zM327.7 476.8h1.35v1.35h-1.35zM325.4 489.1h1.35v1.35h-1.35zM322.2 492.3h1.35v1.35h-1.35zM325.8 504.4h1.35v1.35h-1.35zM326.4 484.2h1.35v1.35h-1.35zM320.2 475.4h1.35v1.35h-1.35zM329.0 473.7h1.35v1.35h-1.35zM319.9 475.9h1.35v1.35h-1.35zM325.7 498.4h1.35v1.35h-1.35zM326.9 497.8h1.35v1.35h-1.35zM319.4 470.4h1.35v1.35h-1.35zM329.1 481.1h1.35v1.35h-1.35zM328.3 482.2h1.35v1.35h-1.35zM320.8 479.2h1.35v1.35h-1.35zM319.9 501.1h1.35v1.35h-1.35zM326.5 482.0h1.35v1.35h-1.35zM324.7 483.3h1.35v1.35h-1.35zM319.2 500.7h1.35v1.35h-1.35zM326.5 503.1h1.35v1.35h-1.35zM324.5 491.4h1.35v1.35h-1.35zM321.9 471.5h1.35v1.35h-1.35zM331.3 499.4h1.35v1.35h-1.35zM322.8 501.0h1.35v1.35h-1.35zM329.7 480.5h1.35v1.35h-1.35zM326.8 503.1h1.35v1.35h-1.35zM325.3 502.7h1.35v1.35h-1.35zM321.8 483.4h1.35v1.35h-1.35zM328.4 477.6h1.35v1.35h-1.35zM322.8 500.2h1.35v1.35h-1.35zM325.2 497.3h1.35v1.35h-1.35zM321.8 476.0h1.35v1.35h-1.35zM323.4 476.4h1.35v1.35h-1.35zM331.9 480.0h1.35v1.35h-1.35zM326.2 474.0h1.35v1.35h-1.35zM325.8 483.3h1.35v1.35h-1.35zM324.0 472.3h1.35v1.35h-1.35zM320.2 498.4h1.35v1.35h-1.35zM323.3 478.4h1.35v1.35h-1.35zM321.1 479.8h1.35v1.35h-1.35zM321.8 471.2h1.35v1.35h-1.35zM327.6 481.8h1.35v1.35h-1.35zM320.6 494.3h1.35v1.35h-1.35zM319.8 479.3h1.35v1.35h-1.35zM330.0 474.4h1.35v1.35h-1.35zM324.6 498.8h1.35v1.35h-1.35zM329.6 475.5h1.35v1.35h-1.35zM323.4 494.9h1.35v1.35h-1.35zM323.7 503.0h1.35v1.35h-1.35zM321.4 502.8h1.35v1.35h-1.35zM325.4 477.8h1.35v1.35h-1.35zM324.7 474.5h1.35v1.35h-1.35zM328.2 479.0h1.35v1.35h-1.35zM330.9 490.2h1.35v1.35h-1.35zM323.6 478.5h1.35v1.35h-1.35zM326.9 477.3h1.35v1.35h-1.35zM330.5 474.2h1.35v1.35h-1.35zM325.6 488.7h1.35v1.35h-1.35zM322.2 496.6h1.35v1.35h-1.35zM323.8 492.7h1.35v1.35h-1.35zM326.3 480.7h1.35v1.35h-1.35zM323.9 473.0h1.35v1.35h-1.35zM320.9 499.3h1.35v1.35h-1.35zM322.9 492.8h1.35v1.35h-1.35zM320.0 489.4h1.35v1.35h-1.35zM323.5 487.2h1.35v1.35h-1.35zM322.6 472.3h1.35v1.35h-1.35zM322.8 477.8h1.35v1.35h-1.35zM320.2 494.7h1.35v1.35h-1.35zM322.4 483.9h1.35v1.35h-1.35zM331.0 496.7h1.35v1.35h-1.35zM330.7 499.7h1.35v1.35h-1.35zM320.3 479.5h1.35v1.35h-1.35zM318.9 493.4h1.35v1.35h-1.35zM327.6 482.1h1.35v1.35h-1.35zM324.2 492.7h1.35v1.35h-1.35zM328.1 478.6h1.35v1.35h-1.35zM330.2 482.1h1.35v1.35h-1.35zM327.2 476.3h1.35v1.35h-1.35zM320.1 501.4h1.35v1.35h-1.35zM328.6 494.5h1.35v1.35h-1.35zM319.1 471.4h1.35v1.35h-1.35zM320.7 476.8h1.35v1.35h-1.35zM322.7 483.1h1.35v1.35h-1.35zM319.0 480.7h1.35v1.35h-1.35zM327.3 476.2h1.35v1.35h-1.35zM330.1 489.6h1.35v1.35h-1.35zM328.4 478.8h1.35v1.35h-1.35zM324.5 493.6h1.35v1.35h-1.35zM323.3 470.0h1.35v1.35h-1.35zM330.0 496.7h1.35v1.35h-1.35zM322.4 471.5h1.35v1.35h-1.35zM330.3 490.9h1.35v1.35h-1.35zM319.1 478.4h1.35v1.35h-1.35zM320.0 497.3h1.35v1.35h-1.35zM321.4 501.5h1.35v1.35h-1.35zM328.8 473.0h1.35v1.35h-1.35zM328.1 483.6h1.35v1.35h-1.35zM328.8 498.6h1.35v1.35h-1.35zM322.4 473.1h1.35v1.35h-1.35zM331.5 484.6h1.35v1.35h-1.35zM331.3 493.8h1.35v1.35h-1.35zM328.7 498.6h1.35v1.35h-1.35zM327.1 485.6h1.35v1.35h-1.35zM319.2 494.1h1.35v1.35h-1.35zM324.4 487.6h1.35v1.35h-1.35zM331.3 474.4h1.35v1.35h-1.35zM329.0 471.5h1.35v1.35h-1.35zM328.2 497.8h1.35v1.35h-1.35zM322.1 488.8h1.35v1.35h-1.35zM331.8 492.0h1.35v1.35h-1.35zM326.0 478.6h1.35v1.35h-1.35zM319.3 482.3h1.35v1.35h-1.35zM324.2 476.9h1.35v1.35h-1.35zM322.8 474.7h1.35v1.35h-1.35zM328.2 493.1h1.35v1.35h-1.35zM321.8 478.3h1.35v1.35h-1.35zM325.6 485.3h1.35v1.35h-1.35zM331.4 482.1h1.35v1.35h-1.35zM322.6 500.5h1.35v1.35h-1.35zM320.4 489.4h1.35v1.35h-1.35zM323.1 498.1h1.35v1.35h-1.35zM326.0 496.2h1.35v1.35h-1.35zM320.8 493.0h1.35v1.35h-1.35zM326.7 485.9h1.35v1.35h-1.35zM329.0 498.6h1.35v1.35h-1.35zM320.1 480.0h1.35v1.35h-1.35zM323.5 477.1h1.35v1.35h-1.35zM319.3 479.7h1.35v1.35h-1.35zM321.2 494.2h1.35v1.35h-1.35zM324.7 473.9h1.35v1.35h-1.35zM323.0 486.1h1.35v1.35h-1.35zM323.5 475.8h1.35v1.35h-1.35zM319.5 470.4h1.35v1.35h-1.35zM332.2 495.9h1.35v1.35h-1.35zM319.7 494.7h1.35v1.35h-1.35zM332.0 489.4h1.35v1.35h-1.35zM320.0 486.8h1.35v1.35h-1.35zM324.5 476.5h1.35v1.35h-1.35zM326.0 470.3h1.35v1.35h-1.35zM331.2 492.2h1.35v1.35h-1.35zM327.1 502.2h1.35v1.35h-1.35zM327.5 478.7h1.35v1.35h-1.35zM321.9 474.8h1.35v1.35h-1.35zM318.9 496.7h1.35v1.35h-1.35zM330.1 480.2h1.35v1.35h-1.35zM321.1 492.0h1.35v1.35h-1.35zM330.1 501.9h1.35v1.35h-1.35zM320.8 497.0h1.35v1.35h-1.35zM329.9 495.6h1.35v1.35h-1.35zM323.0 476.4h1.35v1.35h-1.35zM329.9 481.0h1.35v1.35h-1.35zM323.6 489.0h1.35v1.35h-1.35zM323.6 498.6h1.35v1.35h-1.35zM321.8 471.4h1.35v1.35h-1.35zM326.3 491.6h1.35v1.35h-1.35zM329.8 494.3h1.35v1.35h-1.35zM331.0 502.6h1.35v1.35h-1.35zM325.3 487.2h1.35v1.35h-1.35zM320.7 480.3h1.35v1.35h-1.35zM326.5 472.8h1.35v1.35h-1.35zM328.0 475.6h1.35v1.35h-1.35zM324.6 503.4h1.35v1.35h-1.35zM319.7 471.4h1.35v1.35h-1.35zM324.5 476.6h1.35v1.35h-1.35zM328.5 470.1h1.35v1.35h-1.35zM330.1 499.5h1.35v1.35h-1.35zM329.3 484.7h1.35v1.35h-1.35zM322.4 492.8h1.35v1.35h-1.35zM325.6 484.5h1.35v1.35h-1.35zM323.2 485.1h1.35v1.35h-1.35zM327.7 498.5h1.35v1.35h-1.35zM330.9 475.7h1.35v1.35h-1.35zM322.6 485.3h1.35v1.35h-1.35zM326.3 482.0h1.35v1.35h-1.35zM321.2 472.9h1.35v1.35h-1.35zM323.0 485.9h1.35v1.35h-1.35zM331.9 501.3h1.35v1.35h-1.35zM330.4 503.6h1.35v1.35h-1.35zM331.7 491.4h1.35v1.35h-1.35zM329.7 472.1h1.35v1.35h-1.35zM327.8 491.0h1.35v1.35h-1.35zM322.6 489.7h1.35v1.35h-1.35zM331.6 486.6h1.35v1.35h-1.35zM327.4 480.3h1.35v1.35h-1.35zM323.2 500.5h1.35v1.35h-1.35zM318.9 476.5h1.35v1.35h-1.35zM327.8 485.4h1.35v1.35h-1.35zM319.7 492.8h1.35v1.35h-1.35zM323.6 490.0h1.35v1.35h-1.35zM324.2 488.3h1.35v1.35h-1.35zM326.3 483.7h1.35v1.35h-1.35zM320.1 476.2h1.35v1.35h-1.35zM330.8 488.9h1.35v1.35h-1.35zM320.0 499.7h1.35v1.35h-1.35zM322.0 473.3h1.35v1.35h-1.35zM325.8 478.7h1.35v1.35h-1.35zM325.2 489.1h1.35v1.35h-1.35zM321.6 489.7h1.35v1.35h-1.35zM320.1 487.7h1.35v1.35h-1.35zM326.6 472.8h1.35v1.35h-1.35zM324.1 472.5h1.35v1.35h-1.35zM324.5 499.7h1.35v1.35h-1.35zM326.1 494.6h1.35v1.35h-1.35zM328.9 473.9h1.35v1.35h-1.35zM332.1 494.9h1.35v1.35h-1.35zM319.9 498.6h1.35v1.35h-1.35zM323.9 475.9h1.35v1.35h-1.35zM331.7 489.4h1.35v1.35h-1.35zM329.2 474.7h1.35v1.35h-1.35zM329.2 472.0h1.35v1.35h-1.35zM321.8 482.8h1.35v1.35h-1.35zM318.7 490.5h1.35v1.35h-1.35zM321.4 480.3h1.35v1.35h-1.35zM328.2 484.7h1.35v1.35h-1.35zM330.7 491.4h1.35v1.35h-1.35zM330.5 489.4h1.35v1.35h-1.35zM331.1 500.0h1.35v1.35h-1.35zM320.8 495.7h1.35v1.35h-1.35zM323.2 496.3h1.35v1.35h-1.35zM327.9 498.4h1.35v1.35h-1.35zM320.2 482.9h1.35v1.35h-1.35zM328.6 502.7h1.35v1.35h-1.35zM328.4 471.5h1.35v1.35h-1.35zM326.8 473.4h1.35v1.35h-1.35zM326.1 497.7h1.35v1.35h-1.35zM320.1 501.9h1.35v1.35h-1.35zM327.8 478.8h1.35v1.35h-1.35zM321.2 485.4h1.35v1.35h-1.35zM330.0 490.0h1.35v1.35h-1.35zM320.1 470.7h1.35v1.35h-1.35zM320.0 497.6h1.35v1.35h-1.35zM321.0 489.1h1.35v1.35h-1.35zM322.5 493.7h1.35v1.35h-1.35zM323.7 475.0h1.35v1.35h-1.35zM330.6 488.5h1.35v1.35h-1.35zM328.0 497.8h1.35v1.35h-1.35zM331.6 470.5h1.35v1.35h-1.35zM323.2 475.2h1.35v1.35h-1.35zM325.4 500.1h1.35v1.35h-1.35zM329.5 471.2h1.35v1.35h-1.35zM321.0 498.2h1.35v1.35h-1.35zM327.9 483.5h1.35v1.35h-1.35zM325.0 475.5h1.35v1.35h-1.35zM330.1 483.6h1.35v1.35h-1.35zM330.5 491.0h1.35v1.35h-1.35zM319.5 481.3h1.35v1.35h-1.35zM321.5 500.8h1.35v1.35h-1.35zM326.6 471.5h1.35v1.35h-1.35zM320.8 482.4h1.35v1.35h-1.35zM324.9 489.9h1.35v1.35h-1.35zM323.8 482.2h1.35v1.35h-1.35zM318.6 490.0h1.35v1.35h-1.35zM323.1 470.7h1.35v1.35h-1.35zM324.8 504.0h1.35v1.35h-1.35zM319.1 475.0h1.35v1.35h-1.35zM327.7 479.4h1.35v1.35h-1.35zM322.3 487.2h1.35v1.35h-1.35zM322.1 489.6h1.35v1.35h-1.35zM325.8 503.0h1.35v1.35h-1.35zM332.2 471.2h1.35v1.35h-1.35zM326.2 496.6h1.35v1.35h-1.35zM330.5 496.7h1.35v1.35h-1.35zM327.2 491.9h1.35v1.35h-1.35zM323.5 479.7h1.35v1.35h-1.35zM329.4 500.1h1.35v1.35h-1.35zM331.4 493.5h1.35v1.35h-1.35zM322.7 496.3h1.35v1.35h-1.35zM328.7 487.5h1.35v1.35h-1.35zM327.2 482.1h1.35v1.35h-1.35zM326.1 484.0h1.35v1.35h-1.35zM319.3 481.6h1.35v1.35h-1.35zM322.9 504.1h1.35v1.35h-1.35zM325.1 482.7h1.35v1.35h-1.35zM321.8 478.1h1.35v1.35h-1.35zM323.3 474.7h1.35v1.35h-1.35zM318.6 500.0h1.35v1.35h-1.35zM324.7 485.3h1.35v1.35h-1.35zM326.3 480.4h1.35v1.35h-1.35zM320.8 472.3h1.35v1.35h-1.35zM322.6 480.6h1.35v1.35h-1.35zM328.5 489.0h1.35v1.35h-1.35zM331.4 481.7h1.35v1.35h-1.35zM331.2 490.1h1.35v1.35h-1.35zM319.6 476.2h1.35v1.35h-1.35zM326.5 504.0h1.35v1.35h-1.35zM323.4 496.7h1.35v1.35h-1.35zM324.4 499.9h1.35v1.35h-1.35zM319.4 486.7h1.35v1.35h-1.35zM330.9 479.5h1.35v1.35h-1.35zM322.0 470.8h1.35v1.35h-1.35zM320.8 479.2h1.35v1.35h-1.35zM328.2 477.5h1.35v1.35h-1.35zM324.0 476.9h1.35v1.35h-1.35zM326.8 499.8h1.35v1.35h-1.35zM327.4 476.8h1.35v1.35h-1.35zM328.6 503.2h1.35v1.35h-1.35zM326.8 472.7h1.35v1.35h-1.35zM329.6 500.2h1.35v1.35h-1.35zM323.2 474.7h1.35v1.35h-1.35zM321.1 488.5h1.35v1.35h-1.35zM330.6 492.0h1.35v1.35h-1.35zM331.2 477.3h1.35v1.35h-1.35zM323.0 495.8h1.35v1.35h-1.35zM327.4 484.0h1.35v1.35h-1.35zM327.8 481.6h1.35v1.35h-1.35zM319.3 484.3h1.35v1.35h-1.35zM319.1 491.6h1.35v1.35h-1.35zM323.1 487.0h1.35v1.35h-1.35zM326.7 478.9h1.35v1.35h-1.35zM324.9 470.5h1.35v1.35h-1.35zM331.2 489.4h1.35v1.35h-1.35zM332.1 471.9h1.35v1.35h-1.35zM327.0 494.9h1.35v1.35h-1.35zM323.0 473.2h1.35v1.35h-1.35zM320.6 474.9h1.35v1.35h-1.35zM329.1 473.1h1.35v1.35h-1.35zM329.7 484.6h1.35v1.35h-1.35zM325.9 490.3h1.35v1.35h-1.35zM326.1 492.6h1.35v1.35h-1.35zM326.8 481.4h1.35v1.35h-1.35zM328.7 478.9h1.35v1.35h-1.35zM328.3 496.3h1.35v1.35h-1.35zM329.2 480.7h1.35v1.35h-1.35zM329.1 503.7h1.35v1.35h-1.35zM324.7 479.6h1.35v1.35h-1.35zM325.7 502.4h1.35v1.35h-1.35zM320.3 470.3h1.35v1.35h-1.35zM325.0 492.6h1.35v1.35h-1.35zM329.2 482.5h1.35v1.35h-1.35zM332.1 477.9h1.35v1.35h-1.35zM328.9 473.1h1.35v1.35h-1.35zM318.9 474.6h1.35v1.35h-1.35zM319.3 487.3h1.35v1.35h-1.35zM326.1 476.3h1.35v1.35h-1.35zM331.4 482.6h1.35v1.35h-1.35zM320.6 476.1h1.35v1.35h-1.35zM328.7 501.7h1.35v1.35h-1.35zM320.7 471.0h1.35v1.35h-1.35zM329.2 478.4h1.35v1.35h-1.35zM332.0 487.2h1.35v1.35h-1.35zM327.3 481.9h1.35v1.35h-1.35zM329.5 485.9h1.35v1.35h-1.35zM323.0 501.1h1.35v1.35h-1.35zM320.0 495.3h1.35v1.35h-1.35zM319.4 492.2h1.35v1.35h-1.35zM324.0 499.8h1.35v1.35h-1.35zM319.3 489.4h1.35v1.35h-1.35zM324.1 501.7h1.35v1.35h-1.35zM331.5 491.6h1.35v1.35h-1.35zM321.6 478.7h1.35v1.35h-1.35zM322.1 484.9h1.35v1.35h-1.35zM321.7 477.0h1.35v1.35h-1.35zM329.0 492.1h1.35v1.35h-1.35zM322.6 504.3h1.35v1.35h-1.35zM321.5 489.6h1.35v1.35h-1.35zM320.7 499.7h1.35v1.35h-1.35zM330.5 479.2h1.35v1.35h-1.35zM328.8 498.3h1.35v1.35h-1.35zM322.4 481.4h1.35v1.35h-1.35zM325.2 500.7h1.35v1.35h-1.35zM320.7 493.5h1.35v1.35h-1.35zM326.7 485.6h1.35v1.35h-1.35zM326.5 500.4h1.35v1.35h-1.35zM321.4 500.4h1.35v1.35h-1.35zM323.5 496.9h1.35v1.35h-1.35zM330.4 476.3h1.35v1.35h-1.35zM330.4 504.3h1.35v1.35h-1.35zM322.6 470.8h1.35v1.35h-1.35zM320.0 503.6h1.35v1.35h-1.35zM318.6 501.4h1.35v1.35h-1.35zM320.6 495.4h1.35v1.35h-1.35zM319.8 475.8h1.35v1.35h-1.35zM327.9 473.1h1.35v1.35h-1.35zM323.2 501.6h1.35v1.35h-1.35zM328.4 500.4h1.35v1.35h-1.35zM332.0 471.1h1.35v1.35h-1.35zM321.7 497.3h1.35v1.35h-1.35zM328.0 471.3h1.35v1.35h-1.35zM325.4 478.0h1.35v1.35h-1.35zM324.4 473.6h1.35v1.35h-1.35zM318.8 504.1h1.35v1.35h-1.35zM322.9 500.3h1.35v1.35h-1.35zM320.2 486.8h1.35v1.35h-1.35zM320.4 484.8h1.35v1.35h-1.35zM321.0 493.6h1.35v1.35h-1.35zM320.5 495.4h1.35v1.35h-1.35zM325.4 473.9h1.35v1.35h-1.35zM323.4 487.1h1.35v1.35h-1.35zM331.1 482.0h1.35v1.35h-1.35zM321.5 503.3h1.35v1.35h-1.35zM330.7 495.2h1.35v1.35h-1.35zM322.3 476.1h1.35v1.35h-1.35zM322.1 472.4h1.35v1.35h-1.35zM319.1 487.5h1.35v1.35h-1.35zM324.1 489.2h1.35v1.35h-1.35zM323.5 470.4h1.35v1.35h-1.35zM328.0 492.5h1.35v1.35h-1.35zM326.0 488.9h1.35v1.35h-1.35zM328.0 503.8h1.35v1.35h-1.35zM330.5 494.7h1.35v1.35h-1.35zM324.0 481.0h1.35v1.35h-1.35zM324.3 503.5h1.35v1.35h-1.35zM323.8 483.3h1.35v1.35h-1.35zM324.1 474.9h1.35v1.35h-1.35zM332.2 470.2h1.35v1.35h-1.35zM326.9 501.9h1.35v1.35h-1.35zM322.0 491.0h1.35v1.35h-1.35zM323.7 478.3h1.35v1.35h-1.35zM321.2 474.0h1.35v1.35h-1.35zM330.1 497.0h1.35v1.35h-1.35zM331.0 471.7h1.35v1.35h-1.35zM328.1 481.2h1.35v1.35h-1.35zM327.4 488.9h1.35v1.35h-1.35zM322.8 503.5h1.35v1.35h-1.35zM318.5 495.7h1.35v1.35h-1.35zM330.2 487.6h1.35v1.35h-1.35zM326.7 504.3h1.35v1.35h-1.35zM321.7 491.7h1.35v1.35h-1.35zM328.7 483.1h1.35v1.35h-1.35zM328.3 483.6h1.35v1.35h-1.35zM325.7 491.1h1.35v1.35h-1.35zM327.8 481.1h1.35v1.35h-1.35zM327.2 488.7h1.35v1.35h-1.35zM321.6 491.1h1.35v1.35h-1.35zM322.1 501.3h1.35v1.35h-1.35zM325.0 494.9h1.35v1.35h-1.35zM325.7 486.4h1.35v1.35h-1.35zM321.5 474.9h1.35v1.35h-1.35zM331.3 488.2h1.35v1.35h-1.35zM325.7 488.2h1.35v1.35h-1.35zM329.7 478.2h1.35v1.35h-1.35zM320.9 498.3h1.35v1.35h-1.35zM324.8 492.1h1.35v1.35h-1.35zM329.9 500.8h1.35v1.35h-1.35zM330.4 471.5h1.35v1.35h-1.35zM323.7 498.7h1.35v1.35h-1.35zM329.8 474.2h1.35v1.35h-1.35zM320.6 478.7h1.35v1.35h-1.35zM319.9 482.3h1.35v1.35h-1.35zM329.6 488.0h1.35v1.35h-1.35zM324.7 473.0h1.35v1.35h-1.35zM323.9 504.3h1.35v1.35h-1.35zM328.1 485.5h1.35v1.35h-1.35zM325.1 497.5h1.35v1.35h-1.35zM328.9 475.2h1.35v1.35h-1.35zM327.9 482.6h1.35v1.35h-1.35zM325.7 478.2h1.35v1.35h-1.35zM323.6 481.7h1.35v1.35h-1.35zM323.7 470.6h1.35v1.35h-1.35zM321.3 489.7h1.35v1.35h-1.35zM319.3 476.1h1.35v1.35h-1.35zM328.4 479.5h1.35v1.35h-1.35zM323.0 478.3h1.35v1.35h-1.35zM330.0 473.1h1.35v1.35h-1.35zM327.3 499.6h1.35v1.35h-1.35zM321.3 484.6h1.35v1.35h-1.35zM329.4 491.3h1.35v1.35h-1.35zM323.6 471.5h1.35v1.35h-1.35zM324.6 482.6h1.35v1.35h-1.35zM328.3 480.2h1.35v1.35h-1.35zM324.1 492.3h1.35v1.35h-1.35zM329.7 482.1h1.35v1.35h-1.35zM323.8 489.9h1.35v1.35h-1.35zM331.2 476.6h1.35v1.35h-1.35zM331.9 494.5h1.35v1.35h-1.35zM323.6 492.9h1.35v1.35h-1.35zM323.0 472.4h1.35v1.35h-1.35zM328.9 483.1h1.35v1.35h-1.35zM325.7 487.1h1.35v1.35h-1.35zM330.9 496.1h1.35v1.35h-1.35zM318.8 490.4h1.35v1.35h-1.35zM324.9 485.9h1.35v1.35h-1.35zM330.1 484.3h1.35v1.35h-1.35zM325.0 500.7h1.35v1.35h-1.35zM324.6 486.9h1.35v1.35h-1.35zM325.5 498.4h1.35v1.35h-1.35zM327.7 495.5h1.35v1.35h-1.35zM324.0 471.4h1.35v1.35h-1.35zM327.9 489.1h1.35v1.35h-1.35zM329.1 496.5h1.35v1.35h-1.35zM320.1 477.6h1.35v1.35h-1.35zM319.6 498.2h1.35v1.35h-1.35zM319.9 473.0h1.35v1.35h-1.35zM328.9 489.4h1.35v1.35h-1.35zM319.3 493.5h1.35v1.35h-1.35zM328.3 486.6h1.35v1.35h-1.35zM319.2 493.8h1.35v1.35h-1.35zM324.3 490.1h1.35v1.35h-1.35zM332.2 498.1h1.35v1.35h-1.35zM330.5 475.0h1.35v1.35h-1.35zM323.1 487.9h1.35v1.35h-1.35zM318.6 504.1h1.35v1.35h-1.35zM322.3 479.0h1.35v1.35h-1.35zM322.8 478.8h1.35v1.35h-1.35zM330.3 489.1h1.35v1.35h-1.35zM325.5 484.5h1.35v1.35h-1.35zM319.2 480.5h1.35v1.35h-1.35zM330.4 497.6h1.35v1.35h-1.35zM330.3 478.9h1.35v1.35h-1.35zM321.3 471.8h1.35v1.35h-1.35zM325.9 482.9h1.35v1.35h-1.35zM324.9 486.8h1.35v1.35h-1.35zM326.5 482.6h1.35v1.35h-1.35zM329.5 476.9h1.35v1.35h-1.35zM331.2 489.2h1.35v1.35h-1.35zM319.2 480.8h1.35v1.35h-1.35zM325.8 484.1h1.35v1.35h-1.35zM326.3 481.1h1.35v1.35h-1.35zM322.3 497.4h1.35v1.35h-1.35zM322.5 494.5h1.35v1.35h-1.35zM329.5 490.4h1.35v1.35h-1.35zM324.8 502.2h1.35v1.35h-1.35zM324.6 500.2h1.35v1.35h-1.35zM319.3 484.9h1.35v1.35h-1.35zM327.3 471.7h1.35v1.35h-1.35zM330.4 472.5h1.35v1.35h-1.35zM326.7 476.2h1.35v1.35h-1.35zM331.2 489.3h1.35v1.35h-1.35zM329.5 487.2h1.35v1.35h-1.35zM327.8 493.3h1.35v1.35h-1.35zM322.6 477.3h1.35v1.35h-1.35zM330.0 475.0h1.35v1.35h-1.35zM331.1 477.1h1.35v1.35h-1.35zM319.9 473.3h1.35v1.35h-1.35zM329.3 502.8h1.35v1.35h-1.35zM324.2 492.7h1.35v1.35h-1.35zM322.0 501.2h1.35v1.35h-1.35zM327.9 475.3h1.35v1.35h-1.35zM319.3 494.0h1.35v1.35h-1.35zM319.1 498.8h1.35v1.35h-1.35zM322.5 478.0h1.35v1.35h-1.35zM326.5 481.0h1.35v1.35h-1.35zM326.2 475.3h1.35v1.35h-1.35zM331.1 481.2h1.35v1.35h-1.35zM330.1 475.2h1.35v1.35h-1.35zM329.5 503.8h1.35v1.35h-1.35zM323.9 471.1h1.35v1.35h-1.35zM323.7 492.1h1.35v1.35h-1.35zM321.6 488.8h1.35v1.35h-1.35zM319.8 486.0h1.35v1.35h-1.35zM328.5 484.8h1.35v1.35h-1.35zM327.8 473.9h1.35v1.35h-1.35zM329.9 474.2h1.35v1.35h-1.35zM331.2 504.3h1.35v1.35h-1.35zM331.4 488.1h1.35v1.35h-1.35zM322.5 482.0h1.35v1.35h-1.35zM328.8 487.1h1.35v1.35h-1.35zM331.3 473.2h1.35v1.35h-1.35zM325.2 499.8h1.35v1.35h-1.35zM326.7 488.6h1.35v1.35h-1.35zM319.7 474.8h1.35v1.35h-1.35zM322.2 500.8h1.35v1.35h-1.35zM330.1 477.8h1.35v1.35h-1.35zM331.2 471.1h1.35v1.35h-1.35zM326.7 503.3h1.35v1.35h-1.35zM323.2 502.5h1.35v1.35h-1.35zM327.5 471.7h1.35v1.35h-1.35zM323.1 485.5h1.35v1.35h-1.35zM321.9 495.6h1.35v1.35h-1.35zM321.0 497.1h1.35v1.35h-1.35zM322.6 472.4h1.35v1.35h-1.35zM326.2 473.3h1.35v1.35h-1.35zM326.1 497.1h1.35v1.35h-1.35zM326.7 485.9h1.35v1.35h-1.35zM319.0 487.7h1.35v1.35h-1.35zM319.8 492.3h1.35v1.35h-1.35zM320.3 489.9h1.35v1.35h-1.35zM323.4 482.9h1.35v1.35h-1.35zM327.6 475.6h1.35v1.35h-1.35zM320.8 502.4h1.35v1.35h-1.35zM323.1 499.0h1.35v1.35h-1.35zM330.5 486.5h1.35v1.35h-1.35zM320.5 473.2h1.35v1.35h-1.35zM330.6 474.0h1.35v1.35h-1.35zM325.3 488.5h1.35v1.35h-1.35zM320.1 486.1h1.35v1.35h-1.35zM320.8 488.4h1.35v1.35h-1.35zM325.5 482.6h1.35v1.35h-1.35zM321.2 483.9h1.35v1.35h-1.35zM321.3 474.4h1.35v1.35h-1.35zM321.8 500.0h1.35v1.35h-1.35zM325.4 500.7h1.35v1.35h-1.35zM318.7 502.5h1.35v1.35h-1.35zM325.2 497.3h1.35v1.35h-1.35zM326.4 493.7h1.35v1.35h-1.35zM321.7 495.8h1.35v1.35h-1.35zM320.6 479.1h1.35v1.35h-1.35zM318.9 483.5h1.35v1.35h-1.35zM325.6 480.1h1.35v1.35h-1.35zM330.8 472.9h1.35v1.35h-1.35zM326.5 478.1h1.35v1.35h-1.35zM326.7 497.0h1.35v1.35h-1.35zM328.3 472.1h1.35v1.35h-1.35zM321.9 490.6h1.35v1.35h-1.35zM332.0 471.4h1.35v1.35h-1.35zM327.0 493.8h1.35v1.35h-1.35zM329.7 481.8h1.35v1.35h-1.35zM329.7 485.9h1.35v1.35h-1.35zM331.2 470.4h1.35v1.35h-1.35zM331.4 484.2h1.35v1.35h-1.35zM324.1 473.0h1.35v1.35h-1.35zM321.9 495.3h1.35v1.35h-1.35zM327.8 475.2h1.35v1.35h-1.35zM323.2 474.8h1.35v1.35h-1.35zM321.2 477.6h1.35v1.35h-1.35zM323.1 503.6h1.35v1.35h-1.35zM332.2 497.3h1.35v1.35h-1.35zM325.1 487.1h1.35v1.35h-1.35zM329.2 501.3h1.35v1.35h-1.35zM328.8 491.9h1.35v1.35h-1.35zM321.2 491.5h1.35v1.35h-1.35zM330.1 497.1h1.35v1.35h-1.35zM319.8 494.7h1.35v1.35h-1.35zM323.3 475.6h1.35v1.35h-1.35zM331.8 493.2h1.35v1.35h-1.35zM328.8 474.6h1.35v1.35h-1.35zM329.9 502.3h1.35v1.35h-1.35zM331.0 495.7h1.35v1.35h-1.35zM330.0 497.6h1.35v1.35h-1.35zM326.6 485.0h1.35v1.35h-1.35zM329.9 497.0h1.35v1.35h-1.35zM330.5 480.3h1.35v1.35h-1.35zM331.7 488.3h1.35v1.35h-1.35zM331.5 474.0h1.35v1.35h-1.35zM331.8 497.1h1.35v1.35h-1.35zM322.0 498.9h1.35v1.35h-1.35zM321.7 476.8h1.35v1.35h-1.35zM324.8 478.2h1.35v1.35h-1.35zM325.3 501.3h1.35v1.35h-1.35zM327.9 494.5h1.35v1.35h-1.35zM323.9 497.0h1.35v1.35h-1.35zM329.4 493.5h1.35v1.35h-1.35zM331.5 498.4h1.35v1.35h-1.35zM324.1 473.0h1.35v1.35h-1.35zM327.5 498.8h1.35v1.35h-1.35zM323.2 490.5h1.35v1.35h-1.35zM330.0 497.3h1.35v1.35h-1.35zM318.6 486.8h1.35v1.35h-1.35zM318.7 473.8h1.35v1.35h-1.35zM329.7 484.4h1.35v1.35h-1.35zM326.8 485.8h1.35v1.35h-1.35zM323.1 477.4h1.35v1.35h-1.35zM323.4 499.1h1.35v1.35h-1.35zM327.0 480.1h1.35v1.35h-1.35zM319.7 479.3h1.35v1.35h-1.35zM328.2 485.2h1.35v1.35h-1.35zM327.6 497.8h1.35v1.35h-1.35zM320.2 493.5h1.35v1.35h-1.35zM319.1 498.4h1.35v1.35h-1.35zM321.0 479.4h1.35v1.35h-1.35zM331.7 482.5h1.35v1.35h-1.35zM321.6 500.7h1.35v1.35h-1.35zM326.9 500.8h1.35v1.35h-1.35zM323.9 487.2h1.35v1.35h-1.35zM331.7 487.5h1.35v1.35h-1.35zM332.1 476.5h1.35v1.35h-1.35zM329.9 475.6h1.35v1.35h-1.35zM325.8 470.0h1.35v1.35h-1.35zM320.9 502.6h1.35v1.35h-1.35zM324.8 497.9h1.35v1.35h-1.35zM321.9 482.1h1.35v1.35h-1.35zM319.9 489.0h1.35v1.35h-1.35zM330.4 487.7h1.35v1.35h-1.35zM323.7 502.0h1.35v1.35h-1.35zM330.8 493.0h1.35v1.35h-1.35zM319.5 491.5h1.35v1.35h-1.35zM324.6 503.0h1.35v1.35h-1.35zM323.5 492.8h1.35v1.35h-1.35zM327.2 482.9h1.35v1.35h-1.35zM325.7 493.3h1.35v1.35h-1.35zM331.0 487.2h1.35v1.35h-1.35zM323.5 503.6h1.35v1.35h-1.35zM319.3 498.8h1.35v1.35h-1.35zM327.9 489.2h1.35v1.35h-1.35zM324.7 495.9h1.35v1.35h-1.35zM330.8 495.1h1.35v1.35h-1.35zM328.8 471.2h1.35v1.35h-1.35zM323.0 474.7h1.35v1.35h-1.35zM331.6 500.7h1.35v1.35h-1.35zM320.5 490.2h1.35v1.35h-1.35zM326.4 471.6h1.35v1.35h-1.35zM323.9 495.7h1.35v1.35h-1.35zM327.3 479.7h1.35v1.35h-1.35zM329.0 480.0h1.35v1.35h-1.35zM326.0 484.5h1.35v1.35h-1.35zM332.0 492.4h1.35v1.35h-1.35zM329.6 493.3h1.35v1.35h-1.35zM323.7 503.2h1.35v1.35h-1.35zM328.3 493.8h1.35v1.35h-1.35zM322.3 475.6h1.35v1.35h-1.35zM326.4 498.5h1.35v1.35h-1.35zM329.4 482.0h1.35v1.35h-1.35zM320.4 487.8h1.35v1.35h-1.35zM330.6 475.6h1.35v1.35h-1.35zM328.7 475.9h1.35v1.35h-1.35zM322.8 471.8h1.35v1.35h-1.35zM322.6 483.2h1.35v1.35h-1.35zM331.8 503.1h1.35v1.35h-1.35zM321.1 480.7h1.35v1.35h-1.35zM331.5 476.8h1.35v1.35h-1.35zM322.9 485.1h1.35v1.35h-1.35zM320.0 479.0h1.35v1.35h-1.35zM323.9 483.3h1.35v1.35h-1.35zM331.8 479.2h1.35v1.35h-1.35zM321.3 501.3h1.35v1.35h-1.35zM324.7 498.8h1.35v1.35h-1.35zM327.3 496.8h1.35v1.35h-1.35zM322.8 475.2h1.35v1.35h-1.35zM328.9 486.2h1.35v1.35h-1.35zM326.2 493.1h1.35v1.35h-1.35zM328.9 479.5h1.35v1.35h-1.35zM323.5 501.6h1.35v1.35h-1.35zM325.8 479.9h1.35v1.35h-1.35zM327.2 478.9h1.35v1.35h-1.35zM329.1 471.4h1.35v1.35h-1.35zM329.9 489.5h1.35v1.35h-1.35zM323.4 502.4h1.35v1.35h-1.35zM322.2 478.4h1.35v1.35h-1.35zM319.5 488.9h1.35v1.35h-1.35zM328.9 493.4h1.35v1.35h-1.35zM324.2 497.8h1.35v1.35h-1.35zM320.0 480.6h1.35v1.35h-1.35zM327.4 503.3h1.35v1.35h-1.35zM327.2 493.8h1.35v1.35h-1.35zM329.2 483.6h1.35v1.35h-1.35zM331.4 495.6h1.35v1.35h-1.35zM323.2 483.5h1.35v1.35h-1.35zM329.6 482.0h1.35v1.35h-1.35zM321.1 500.0h1.35v1.35h-1.35zM325.8 488.0h1.35v1.35h-1.35zM327.7 501.1h1.35v1.35h-1.35zM320.3 481.7h1.35v1.35h-1.35zM319.4 484.2h1.35v1.35h-1.35zM325.4 499.3h1.35v1.35h-1.35zM327.7 489.9h1.35v1.35h-1.35zM324.1 489.8h1.35v1.35h-1.35zM322.3 499.1h1.35v1.35h-1.35zM329.4 498.9h1.35v1.35h-1.35zM320.6 493.1h1.35v1.35h-1.35zM328.9 487.2h1.35v1.35h-1.35zM330.9 501.0h1.35v1.35h-1.35zM328.7 498.3h1.35v1.35h-1.35zM327.4 500.3h1.35v1.35h-1.35zM320.3 494.3h1.35v1.35h-1.35zM328.2 491.1h1.35v1.35h-1.35zM322.3 472.3h1.35v1.35h-1.35zM326.8 498.4h1.35v1.35h-1.35zM322.3 477.3h1.35v1.35h-1.35zM321.6 473.2h1.35v1.35h-1.35zM327.8 503.6h1.35v1.35h-1.35zM329.5 482.4h1.35v1.35h-1.35zM328.1 472.5h1.35v1.35h-1.35zM330.0 481.2h1.35v1.35h-1.35zM318.5 491.7h1.35v1.35h-1.35zM320.4 479.5h1.35v1.35h-1.35zM319.3 485.4h1.35v1.35h-1.35zM326.1 497.8h1.35v1.35h-1.35zM319.0 498.5h1.35v1.35h-1.35zM320.0 477.7h1.35v1.35h-1.35zM327.2 481.7h1.35v1.35h-1.35zM323.1 489.6h1.35v1.35h-1.35zM321.5 497.3h1.35v1.35h-1.35zM321.4 498.9h1.35v1.35h-1.35zM329.6 488.5h1.35v1.35h-1.35zM318.9 496.8h1.35v1.35h-1.35zM318.9 487.4h1.35v1.35h-1.35zM324.3 472.2h1.35v1.35h-1.35zM327.2 495.0h1.35v1.35h-1.35zM326.6 483.8h1.35v1.35h-1.35zM325.5 490.3h1.35v1.35h-1.35zM321.6 499.9h1.35v1.35h-1.35zM332.2 497.7h1.35v1.35h-1.35zM331.7 481.3h1.35v1.35h-1.35zM332.1 472.5h1.35v1.35h-1.35zM325.1 474.6h1.35v1.35h-1.35zM324.7 493.5h1.35v1.35h-1.35zM328.3 485.7h1.35v1.35h-1.35zM323.2 476.5h1.35v1.35h-1.35zM324.0 479.7h1.35v1.35h-1.35zM321.2 495.4h1.35v1.35h-1.35zM325.6 485.1h1.35v1.35h-1.35zM321.2 494.2h1.35v1.35h-1.35zM321.2 479.2h1.35v1.35h-1.35zM326.2 494.2h1.35v1.35h-1.35zM331.9 495.8h1.35v1.35h-1.35zM331.6 501.7h1.35v1.35h-1.35zM328.4 494.8h1.35v1.35h-1.35zM319.4 477.1h1.35v1.35h-1.35zM318.7 499.7h1.35v1.35h-1.35zM328.4 491.7h1.35v1.35h-1.35zM322.1 482.2h1.35v1.35h-1.35zM320.7 491.8h1.35v1.35h-1.35zM332.1 480.5h1.35v1.35h-1.35zM319.1 476.0h1.35v1.35h-1.35zM323.4 501.0h1.35v1.35h-1.35zM329.6 485.7h1.35v1.35h-1.35zM319.9 473.7h1.35v1.35h-1.35zM320.6 496.8h1.35v1.35h-1.35zM325.0 504.1h1.35v1.35h-1.35zM331.1 497.4h1.35v1.35h-1.35zM325.1 498.3h1.35v1.35h-1.35zM320.3 473.8h1.35v1.35h-1.35zM326.3 487.5h1.35v1.35h-1.35zM321.4 478.7h1.35v1.35h-1.35zM318.8 501.3h1.35v1.35h-1.35zM328.3 502.6h1.35v1.35h-1.35zM332.0 485.0h1.35v1.35h-1.35zM328.6 483.2h1.35v1.35h-1.35zM329.7 499.0h1.35v1.35h-1.35zM320.3 470.4h1.35v1.35h-1.35zM321.4 490.2h1.35v1.35h-1.35zM323.7 470.3h1.35v1.35h-1.35zM329.9 497.1h1.35v1.35h-1.35zM324.9 471.5h1.35v1.35h-1.35zM330.7 488.4h1.35v1.35h-1.35zM319.5 481.1h1.35v1.35h-1.35zM327.1 500.5h1.35v1.35h-1.35zM325.2 492.0h1.35v1.35h-1.35zM321.3 478.4h1.35v1.35h-1.35zM331.0 483.2h1.35v1.35h-1.35zM319.9 490.4h1.35v1.35h-1.35zM320.2 476.9h1.35v1.35h-1.35zM324.8 490.2h1.35v1.35h-1.35zM327.3 494.4h1.35v1.35h-1.35zM324.5 472.3h1.35v1.35h-1.35zM328.5 471.9h1.35v1.35h-1.35zM325.0 483.8h1.35v1.35h-1.35zM327.8 494.6h1.35v1.35h-1.35zM321.8 492.4h1.35v1.35h-1.35zM328.0 486.3h1.35v1.35h-1.35zM320.4 501.3h1.35v1.35h-1.35zM326.7 472.2h1.35v1.35h-1.35zM321.8 504.0h1.35v1.35h-1.35zM321.6 483.5h1.35v1.35h-1.35zM329.3 498.4h1.35v1.35h-1.35zM327.2 495.5h1.35v1.35h-1.35zM319.0 473.2h1.35v1.35h-1.35zM331.9 497.7h1.35v1.35h-1.35zM319.0 471.7h1.35v1.35h-1.35zM321.8 502.1h1.35v1.35h-1.35zM321.5 493.1h1.35v1.35h-1.35zM331.3 492.0h1.35v1.35h-1.35zM331.2 479.1h1.35v1.35h-1.35zM320.6 470.6h1.35v1.35h-1.35zM328.9 473.6h1.35v1.35h-1.35zM331.9 494.5h1.35v1.35h-1.35zM321.1 497.8h1.35v1.35h-1.35zM320.7 487.6h1.35v1.35h-1.35zM320.0 497.1h1.35v1.35h-1.35zM330.7 501.6h1.35v1.35h-1.35zM318.5 499.3h1.35v1.35h-1.35zM326.2 498.3h1.35v1.35h-1.35zM325.4 491.4h1.35v1.35h-1.35zM326.7 497.5h1.35v1.35h-1.35zM319.6 471.9h1.35v1.35h-1.35zM326.0 480.0h1.35v1.35h-1.35zM324.0 470.3h1.35v1.35h-1.35zM328.8 470.8h1.35v1.35h-1.35zM329.9 498.0h1.35v1.35h-1.35zM324.8 474.2h1.35v1.35h-1.35zM327.4 477.1h1.35v1.35h-1.35zM324.4 473.8h1.35v1.35h-1.35zM331.9 488.8h1.35v1.35h-1.35zM323.4 473.2h1.35v1.35h-1.35zM328.6 499.3h1.35v1.35h-1.35zM330.2 473.5h1.35v1.35h-1.35zM323.6 480.4h1.35v1.35h-1.35zM329.0 475.1h1.35v1.35h-1.35zM326.8 503.7h1.35v1.35h-1.35zM329.1 470.2h1.35v1.35h-1.35zM319.5 473.9h1.35v1.35h-1.35zM328.0 490.6h1.35v1.35h-1.35zM325.7 485.7h1.35v1.35h-1.35zM324.1 491.0h1.35v1.35h-1.35zM327.4 501.6h1.35v1.35h-1.35zM328.6 497.4h1.35v1.35h-1.35zM331.1 498.8h1.35v1.35h-1.35zM328.4 471.1h1.35v1.35h-1.35zM327.9 499.3h1.35v1.35h-1.35zM324.4 500.3h1.35v1.35h-1.35zM321.0 502.5h1.35v1.35h-1.35zM324.6 494.3h1.35v1.35h-1.35zM322.0 480.4h1.35v1.35h-1.35zM323.3 481.2h1.35v1.35h-1.35zM319.8 485.3h1.35v1.35h-1.35zM332.0 492.5h1.35v1.35h-1.35zM331.3 496.3h1.35v1.35h-1.35zM330.0 504.3h1.35v1.35h-1.35zM328.9 479.4h1.35v1.35h-1.35zM321.9 484.2h1.35v1.35h-1.35zM318.8 478.0h1.35v1.35h-1.35zM330.7 501.7h1.35v1.35h-1.35zM323.0 496.5h1.35v1.35h-1.35zM329.2 500.7h1.35v1.35h-1.35zM329.4 488.3h1.35v1.35h-1.35zM319.9 498.4h1.35v1.35h-1.35zM322.8 491.6h1.35v1.35h-1.35zM323.6 488.5h1.35v1.35h-1.35zM331.8 475.6h1.35v1.35h-1.35zM325.8 492.4h1.35v1.35h-1.35zM325.9 502.3h1.35v1.35h-1.35zM324.1 501.5h1.35v1.35h-1.35zM328.0 503.3h1.35v1.35h-1.35zM319.7 477.3h1.35v1.35h-1.35zM322.5 501.2h1.35v1.35h-1.35zM318.7 479.0h1.35v1.35h-1.35zM328.4 504.1h1.35v1.35h-1.35zM320.9 485.1h1.35v1.35h-1.35zM328.0 493.8h1.35v1.35h-1.35zM328.8 495.9h1.35v1.35h-1.35zM321.9 478.9h1.35v1.35h-1.35zM318.9 493.8h1.35v1.35h-1.35zM321.4 478.9h1.35v1.35h-1.35zM331.8 492.2h1.35v1.35h-1.35zM326.6 492.6h1.35v1.35h-1.35zM326.7 493.9h1.35v1.35h-1.35zM322.7 472.2h1.35v1.35h-1.35zM319.4 470.5h1.35v1.35h-1.35zM323.5 474.9h1.35v1.35h-1.35zM320.0 487.0h1.35v1.35h-1.35zM331.8 493.7h1.35v1.35h-1.35zM322.3 496.5h1.35v1.35h-1.35zM320.9 473.4h1.35v1.35h-1.35zM322.7 484.1h1.35v1.35h-1.35zM328.0 485.3h1.35v1.35h-1.35zM328.5 473.3h1.35v1.35h-1.35zM331.3 481.8h1.35v1.35h-1.35zM330.0 471.1h1.35v1.35h-1.35zM329.9 477.8h1.35v1.35h-1.35zM330.3 497.7h1.35v1.35h-1.35zM327.7 479.6h1.35v1.35h-1.35zM318.6 476.5h1.35v1.35h-1.35zM331.0 475.4h1.35v1.35h-1.35zM327.6 490.2h1.35v1.35h-1.35zM327.6 476.2h1.35v1.35h-1.35zM320.5 473.3h1.35v1.35h-1.35zM332.0 483.2h1.35v1.35h-1.35zM327.5 489.6h1.35v1.35h-1.35zM321.6 472.2h1.35v1.35h-1.35zM318.7 499.4h1.35v1.35h-1.35zM320.3 503.2h1.35v1.35h-1.35zM323.5 494.9h1.35v1.35h-1.35zM320.4 497.1h1.35v1.35h-1.35zM322.0 482.6h1.35v1.35h-1.35zM325.7 473.8h1.35v1.35h-1.35zM321.9 497.4h1.35v1.35h-1.35zM322.4 483.1h1.35v1.35h-1.35zM329.0 477.7h1.35v1.35h-1.35zM321.2 477.5h1.35v1.35h-1.35zM323.8 482.6h1.35v1.35h-1.35zM327.3 486.3h1.35v1.35h-1.35zM330.5 471.7h1.35v1.35h-1.35zM327.6 498.8h1.35v1.35h-1.35zM321.7 471.0h1.35v1.35h-1.35zM324.5 474.0h1.35v1.35h-1.35zM324.8 494.5h1.35v1.35h-1.35zM319.8 474.1h1.35v1.35h-1.35zM325.1 476.0h1.35v1.35h-1.35zM321.7 485.2h1.35v1.35h-1.35zM320.1 472.3h1.35v1.35h-1.35zM323.5 486.2h1.35v1.35h-1.35zM331.4 489.1h1.35v1.35h-1.35zM319.5 477.7h1.35v1.35h-1.35zM328.7 489.4h1.35v1.35h-1.35zM330.5 503.2h1.35v1.35h-1.35zM330.3 473.8h1.35v1.35h-1.35zM331.5 488.1h1.35v1.35h-1.35zM321.8 475.9h1.35v1.35h-1.35zM330.4 477.3h1.35v1.35h-1.35zM319.6 479.1h1.35v1.35h-1.35zM331.2 485.9h1.35v1.35h-1.35zM328.6 472.6h1.35v1.35h-1.35zM324.7 480.9h1.35v1.35h-1.35zM321.3 492.8h1.35v1.35h-1.35zM323.5 474.1h1.35v1.35h-1.35zM332.0 486.6h1.35v1.35h-1.35zM321.0 470.4h1.35v1.35h-1.35zM327.5 487.7h1.35v1.35h-1.35zM318.8 486.2h1.35v1.35h-1.35zM328.7 488.5h1.35v1.35h-1.35zM321.7 487.2h1.35v1.35h-1.35zM335.6 492.4h1.35v1.35h-1.35zM332.5 497.7h1.35v1.35h-1.35zM339.7 495.5h1.35v1.35h-1.35zM338.5 482.7h1.35v1.35h-1.35zM339.1 476.3h1.35v1.35h-1.35zM332.8 490.6h1.35v1.35h-1.35zM339.1 472.8h1.35v1.35h-1.35zM332.8 471.2h1.35v1.35h-1.35zM334.1 474.8h1.35v1.35h-1.35zM332.7 495.8h1.35v1.35h-1.35zM335.4 502.4h1.35v1.35h-1.35zM333.9 493.4h1.35v1.35h-1.35zM332.3 502.7h1.35v1.35h-1.35zM332.9 486.4h1.35v1.35h-1.35zM334.7 502.7h1.35v1.35h-1.35zM334.6 504.2h1.35v1.35h-1.35zM335.8 477.5h1.35v1.35h-1.35zM338.2 477.0h1.35v1.35h-1.35zM340.5 485.7h1.35v1.35h-1.35zM332.8 503.1h1.35v1.35h-1.35zM333.3 484.0h1.35v1.35h-1.35zM333.5 493.0h1.35v1.35h-1.35zM332.3 482.9h1.35v1.35h-1.35zM332.6 498.5h1.35v1.35h-1.35zM332.3 490.9h1.35v1.35h-1.35zM333.0 485.6h1.35v1.35h-1.35zM335.2 494.5h1.35v1.35h-1.35zM332.5 478.3h1.35v1.35h-1.35zM332.5 503.1h1.35v1.35h-1.35zM332.5 474.7h1.35v1.35h-1.35zM334.8 490.0h1.35v1.35h-1.35zM338.9 472.0h1.35v1.35h-1.35zM332.9 475.8h1.35v1.35h-1.35zM335.4 485.6h1.35v1.35h-1.35zM333.9 500.6h1.35v1.35h-1.35zM336.2 499.6h1.35v1.35h-1.35zM339.9 479.3h1.35v1.35h-1.35zM339.7 484.0h1.35v1.35h-1.35zM332.3 501.5h1.35v1.35h-1.35zM332.4 470.6h1.35v1.35h-1.35zM333.2 480.0h1.35v1.35h-1.35zM340.0 500.0h1.35v1.35h-1.35zM334.0 488.2h1.35v1.35h-1.35zM338.4 497.8h1.35v1.35h-1.35zM336.1 487.7h1.35v1.35h-1.35zM332.4 478.4h1.35v1.35h-1.35zM336.2 490.2h1.35v1.35h-1.35zM337.8 501.0h1.35v1.35h-1.35zM340.0 476.6h1.35v1.35h-1.35zM332.3 500.9h1.35v1.35h-1.35zM335.3 476.3h1.35v1.35h-1.35zM336.5 478.8h1.35v1.35h-1.35zM332.9 482.6h1.35v1.35h-1.35zM334.8 493.3h1.35v1.35h-1.35zM332.3 495.5h1.35v1.35h-1.35zM335.8 486.2h1.35v1.35h-1.35zM336.3 497.5h1.35v1.35h-1.35zM332.3 486.4h1.35v1.35h-1.35zM336.4 494.4h1.35v1.35h-1.35zM336.0 476.2h1.35v1.35h-1.35zM339.9 497.1h1.35v1.35h-1.35zM332.9 484.8h1.35v1.35h-1.35zM339.9 477.1h1.35v1.35h-1.35zM333.9 503.1h1.35v1.35h-1.35zM339.1 478.0h1.35v1.35h-1.35zM337.0 482.4h1.35v1.35h-1.35zM336.2 496.4h1.35v1.35h-1.35zM332.5 477.7h1.35v1.35h-1.35zM332.8 479.2h1.35v1.35h-1.35zM332.3 474.7h1.35v1.35h-1.35zM333.9 484.5h1.35v1.35h-1.35zM332.4 490.1h1.35v1.35h-1.35zM339.7 489.9h1.35v1.35h-1.35zM333.6 494.3h1.35v1.35h-1.35zM334.1 476.0h1.35v1.35h-1.35zM334.5 470.6h1.35v1.35h-1.35zM336.4 475.5h1.35v1.35h-1.35zM333.6 503.2h1.35v1.35h-1.35zM337.4 498.8h1.35v1.35h-1.35zM336.0 491.9h1.35v1.35h-1.35zM336.7 503.3h1.35v1.35h-1.35zM332.7 496.4h1.35v1.35h-1.35zM333.2 478.8h1.35v1.35h-1.35zM338.1 490.7h1.35v1.35h-1.35zM338.4 500.1h1.35v1.35h-1.35zM335.5 476.8h1.35v1.35h-1.35zM332.3 488.4h1.35v1.35h-1.35zM336.9 479.4h1.35v1.35h-1.35zM332.3 470.2h1.35v1.35h-1.35zM332.6 494.0h1.35v1.35h-1.35zM332.3 477.9h1.35v1.35h-1.35zM333.0 494.5h1.35v1.35h-1.35zM340.3 470.7h1.35v1.35h-1.35zM332.4 502.2h1.35v1.35h-1.35zM340.1 475.1h1.35v1.35h-1.35zM333.4 488.0h1.35v1.35h-1.35zM333.3 484.4h1.35v1.35h-1.35zM334.5 478.9h1.35v1.35h-1.35zM332.3 472.9h1.35v1.35h-1.35zM332.6 473.1h1.35v1.35h-1.35zM335.8 494.0h1.35v1.35h-1.35zM333.0 497.3h1.35v1.35h-1.35zM336.9 481.8h1.35v1.35h-1.35zM334.6 476.5h1.35v1.35h-1.35zM339.5 489.3h1.35v1.35h-1.35zM332.3 475.3h1.35v1.35h-1.35zM336.5 483.3h1.35v1.35h-1.35zM336.8 477.9h1.35v1.35h-1.35zM337.8 497.6h1.35v1.35h-1.35zM332.4 490.2h1.35v1.35h-1.35zM332.7 494.4h1.35v1.35h-1.35zM337.8 497.3h1.35v1.35h-1.35zM332.9 473.2h1.35v1.35h-1.35zM336.2 489.5h1.35v1.35h-1.35zM332.5 476.6h1.35v1.35h-1.35zM335.4 473.7h1.35v1.35h-1.35zM335.9 478.3h1.35v1.35h-1.35zM333.0 484.6h1.35v1.35h-1.35zM334.9 495.0h1.35v1.35h-1.35zM332.3 495.0h1.35v1.35h-1.35zM332.8 480.0h1.35v1.35h-1.35zM336.0 493.8h1.35v1.35h-1.35zM335.7 501.1h1.35v1.35h-1.35zM332.7 480.7h1.35v1.35h-1.35zM336.2 479.0h1.35v1.35h-1.35zM332.6 477.8h1.35v1.35h-1.35zM337.4 498.5h1.35v1.35h-1.35zM336.8 503.0h1.35v1.35h-1.35zM337.7 480.7h1.35v1.35h-1.35zM333.3 494.8h1.35v1.35h-1.35zM332.3 491.0h1.35v1.35h-1.35zM332.4 471.7h1.35v1.35h-1.35zM334.8 475.2h1.35v1.35h-1.35zM339.5 500.2h1.35v1.35h-1.35zM334.3 476.8h1.35v1.35h-1.35zM332.4 487.5h1.35v1.35h-1.35zM334.8 482.5h1.35v1.35h-1.35zM336.8 488.2h1.35v1.35h-1.35zM337.5 473.7h1.35v1.35h-1.35zM332.3 483.3h1.35v1.35h-1.35zM334.5 478.7h1.35v1.35h-1.35zM336.3 477.6h1.35v1.35h-1.35zM333.3 486.4h1.35v1.35h-1.35zM336.8 496.5h1.35v1.35h-1.35zM333.7 485.4h1.35v1.35h-1.35zM339.5 502.2h1.35v1.35h-1.35zM335.7 473.6h1.35v1.35h-1.35zM334.3 491.9h1.35v1.35h-1.35zM333.1 471.3h1.35v1.35h-1.35zM340.3 501.3h1.35v1.35h-1.35zM332.5 486.0h1.35v1.35h-1.35zM335.8 480.3h1.35v1.35h-1.35zM332.3 495.9h1.35v1.35h-1.35zM337.4 485.1h1.35v1.35h-1.35zM332.4 483.6h1.35v1.35h-1.35zM332.4 503.2h1.35v1.35h-1.35zM332.3 479.9h1.35v1.35h-1.35zM337.4 474.7h1.35v1.35h-1.35zM332.4 472.4h1.35v1.35h-1.35zM332.6 488.3h1.35v1.35h-1.35zM338.2 475.8h1.35v1.35h-1.35zM332.6 496.4h1.35v1.35h-1.35zM334.0 481.6h1.35v1.35h-1.35zM332.5 478.4h1.35v1.35h-1.35zM340.1 474.0h1.35v1.35h-1.35zM333.0 495.5h1.35v1.35h-1.35zM339.0 501.2h1.35v1.35h-1.35zM334.4 502.9h1.35v1.35h-1.35zM335.6 479.9h1.35v1.35h-1.35zM334.4 494.7h1.35v1.35h-1.35zM337.0 474.5h1.35v1.35h-1.35zM332.7 503.0h1.35v1.35h-1.35zM332.4 498.0h1.35v1.35h-1.35zM333.4 478.5h1.35v1.35h-1.35zM333.0 486.2h1.35v1.35h-1.35zM340.4 475.1h1.35v1.35h-1.35zM338.5 481.1h1.35v1.35h-1.35zM332.6 495.7h1.35v1.35h-1.35zM333.5 476.5h1.35v1.35h-1.35zM334.0 498.3h1.35v1.35h-1.35zM338.6 489.8h1.35v1.35h-1.35zM332.3 496.3h1.35v1.35h-1.35zM335.6 501.0h1.35v1.35h-1.35zM339.8 481.3h1.35v1.35h-1.35zM338.4 498.2h1.35v1.35h-1.35zM333.0 482.6h1.35v1.35h-1.35zM333.7 482.2h1.35v1.35h-1.35zM333.7 473.8h1.35v1.35h-1.35zM332.8 501.3h1.35v1.35h-1.35zM333.9 491.9h1.35v1.35h-1.35zM338.9 496.0h1.35v1.35h-1.35zM332.9 501.7h1.35v1.35h-1.35zM337.8 504.1h1.35v1.35h-1.35zM336.9 496.0h1.35v1.35h-1.35zM338.0 478.7h1.35v1.35h-1.35zM336.1 483.1h1.35v1.35h-1.35zM338.3 474.6h1.35v1.35h-1.35zM335.0 481.6h1.35v1.35h-1.35zM338.1 481.9h1.35v1.35h-1.35zM338.4 499.2h1.35v1.35h-1.35zM338.8 474.8h1.35v1.35h-1.35zM339.6 495.6h1.35v1.35h-1.35zM336.4 492.5h1.35v1.35h-1.35zM332.3 500.0h1.35v1.35h-1.35zM335.1 485.7h1.35v1.35h-1.35zM333.4 497.0h1.35v1.35h-1.35zM337.6 500.0h1.35v1.35h-1.35zM332.8 481.7h1.35v1.35h-1.35zM332.9 473.5h1.35v1.35h-1.35zM333.4 470.9h1.35v1.35h-1.35zM337.8 477.8h1.35v1.35h-1.35zM332.3 472.3h1.35v1.35h-1.35zM337.1 476.8h1.35v1.35h-1.35zM334.3 483.8h1.35v1.35h-1.35zM337.8 502.9h1.35v1.35h-1.35zM333.3 491.8h1.35v1.35h-1.35zM339.0 486.2h1.35v1.35h-1.35zM339.1 495.3h1.35v1.35h-1.35zM333.3 500.1h1.35v1.35h-1.35zM335.3 473.6h1.35v1.35h-1.35zM335.4 498.6h1.35v1.35h-1.35zM334.8 486.7h1.35v1.35h-1.35zM334.0 500.3h1.35v1.35h-1.35zM336.2 477.2h1.35v1.35h-1.35zM333.6 482.5h1.35v1.35h-1.35zM339.9 494.0h1.35v1.35h-1.35zM332.5 501.5h1.35v1.35h-1.35zM332.3 490.4h1.35v1.35h-1.35zM334.1 494.7h1.35v1.35h-1.35zM334.1 473.2h1.35v1.35h-1.35zM334.8 498.3h1.35v1.35h-1.35zM337.7 482.3h1.35v1.35h-1.35zM332.8 495.7h1.35v1.35h-1.35zM337.8 477.5h1.35v1.35h-1.35zM338.9 504.2h1.35v1.35h-1.35zM334.1 483.1h1.35v1.35h-1.35zM336.7 502.0h1.35v1.35h-1.35zM332.7 480.4h1.35v1.35h-1.35zM333.4 495.2h1.35v1.35h-1.35zM332.7 488.8h1.35v1.35h-1.35zM334.6 493.0h1.35v1.35h-1.35zM332.5 503.0h1.35v1.35h-1.35zM340.5 489.3h1.35v1.35h-1.35zM337.7 476.3h1.35v1.35h-1.35zM339.2 489.0h1.35v1.35h-1.35zM337.3 499.9h1.35v1.35h-1.35zM333.6 501.8h1.35v1.35h-1.35zM332.8 470.8h1.35v1.35h-1.35zM334.7 501.0h1.35v1.35h-1.35zM339.1 502.9h1.35v1.35h-1.35zM334.7 502.1h1.35v1.35h-1.35zM335.2 474.9h1.35v1.35h-1.35zM335.9 497.7h1.35v1.35h-1.35zM334.0 490.7h1.35v1.35h-1.35zM333.0 479.5h1.35v1.35h-1.35zM334.0 487.7h1.35v1.35h-1.35zM334.4 473.2h1.35v1.35h-1.35zM332.3 481.7h1.35v1.35h-1.35zM336.8 495.8h1.35v1.35h-1.35zM332.9 478.8h1.35v1.35h-1.35zM334.8 476.0h1.35v1.35h-1.35zM335.6 501.1h1.35v1.35h-1.35zM332.7 490.2h1.35v1.35h-1.35zM336.9 495.8h1.35v1.35h-1.35zM336.8 494.5h1.35v1.35h-1.35zM333.1 498.9h1.35v1.35h-1.35zM339.5 471.8h1.35v1.35h-1.35zM339.7 485.2h1.35v1.35h-1.35zM332.4 472.4h1.35v1.35h-1.35zM337.8 493.3h1.35v1.35h-1.35zM332.5 485.8h1.35v1.35h-1.35zM336.0 504.4h1.35v1.35h-1.35zM333.4 496.4h1.35v1.35h-1.35zM332.9 476.9h1.35v1.35h-1.35zM332.6 484.1h1.35v1.35h-1.35zM335.7 480.4h1.35v1.35h-1.35zM332.6 477.5h1.35v1.35h-1.35zM332.4 476.7h1.35v1.35h-1.35zM333.3 487.4h1.35v1.35h-1.35zM332.7 486.5h1.35v1.35h-1.35zM334.2 503.5h1.35v1.35h-1.35zM334.5 502.5h1.35v1.35h-1.35zM334.4 476.8h1.35v1.35h-1.35zM335.5 475.0h1.35v1.35h-1.35zM332.6 472.5h1.35v1.35h-1.35zM336.6 503.3h1.35v1.35h-1.35zM333.9 482.2h1.35v1.35h-1.35zM334.0 482.1h1.35v1.35h-1.35zM336.5 483.5h1.35v1.35h-1.35zM332.5 499.8h1.35v1.35h-1.35zM335.3 470.2h1.35v1.35h-1.35zM338.4 495.1h1.35v1.35h-1.35zM333.5 491.7h1.35v1.35h-1.35zM339.4 483.8h1.35v1.35h-1.35zM334.1 480.3h1.35v1.35h-1.35zM335.1 492.8h1.35v1.35h-1.35zM337.0 502.7h1.35v1.35h-1.35zM332.5 482.6h1.35v1.35h-1.35zM338.5 497.3h1.35v1.35h-1.35zM335.5 493.3h1.35v1.35h-1.35zM333.5 502.5h1.35v1.35h-1.35zM335.1 483.9h1.35v1.35h-1.35zM332.7 474.0h1.35v1.35h-1.35zM339.1 497.6h1.35v1.35h-1.35zM332.3 481.1h1.35v1.35h-1.35zM334.5 487.1h1.35v1.35h-1.35zM333.6 500.8h1.35v1.35h-1.35zM333.5 488.3h1.35v1.35h-1.35zM339.5 492.0h1.35v1.35h-1.35zM334.4 481.5h1.35v1.35h-1.35zM333.8 491.0h1.35v1.35h-1.35zM337.6 479.0h1.35v1.35h-1.35zM333.7 483.4h1.35v1.35h-1.35zM333.6 501.5h1.35v1.35h-1.35zM335.0 479.5h1.35v1.35h-1.35zM333.4 498.3h1.35v1.35h-1.35zM332.6 493.8h1.35v1.35h-1.35zM332.3 476.7h1.35v1.35h-1.35zM332.3 497.8h1.35v1.35h-1.35zM332.5 477.9h1.35v1.35h-1.35zM332.3 479.1h1.35v1.35h-1.35zM337.0 494.8h1.35v1.35h-1.35zM339.2 502.6h1.35v1.35h-1.35zM335.1 501.8h1.35v1.35h-1.35zM332.4 501.9h1.35v1.35h-1.35zM334.1 476.6h1.35v1.35h-1.35zM337.2 499.6h1.35v1.35h-1.35zM333.8 473.2h1.35v1.35h-1.35zM338.7 496.0h1.35v1.35h-1.35zM335.5 503.7h1.35v1.35h-1.35zM332.3 471.9h1.35v1.35h-1.35zM332.5 470.8h1.35v1.35h-1.35zM336.7 491.7h1.35v1.35h-1.35zM332.4 475.6h1.35v1.35h-1.35zM332.6 491.0h1.35v1.35h-1.35zM336.3 503.4h1.35v1.35h-1.35zM333.6 503.7h1.35v1.35h-1.35zM334.1 483.5h1.35v1.35h-1.35zM333.0 478.0h1.35v1.35h-1.35zM340.2 504.3h1.35v1.35h-1.35zM336.7 476.0h1.35v1.35h-1.35zM332.6 475.2h1.35v1.35h-1.35zM333.5 495.4h1.35v1.35h-1.35zM332.3 488.3h1.35v1.35h-1.35zM336.4 471.2h1.35v1.35h-1.35zM334.1 497.2h1.35v1.35h-1.35zM335.3 485.6h1.35v1.35h-1.35zM338.9 490.7h1.35v1.35h-1.35zM333.4 483.6h1.35v1.35h-1.35zM339.7 499.6h1.35v1.35h-1.35zM350.6 489.3h1.35v1.35h-1.35zM342.1 476.0h1.35v1.35h-1.35zM344.8 493.8h1.35v1.35h-1.35zM340.6 497.6h1.35v1.35h-1.35zM349.2 487.7h1.35v1.35h-1.35zM340.6 497.5h1.35v1.35h-1.35zM345.1 493.1h1.35v1.35h-1.35zM346.8 495.1h1.35v1.35h-1.35zM345.0 503.1h1.35v1.35h-1.35zM351.1 502.0h1.35v1.35h-1.35zM347.3 480.9h1.35v1.35h-1.35zM344.7 479.3h1.35v1.35h-1.35zM350.5 497.3h1.35v1.35h-1.35zM349.2 498.3h1.35v1.35h-1.35zM351.4 493.7h1.35v1.35h-1.35zM344.0 496.1h1.35v1.35h-1.35zM343.4 491.0h1.35v1.35h-1.35zM342.3 499.5h1.35v1.35h-1.35zM345.9 479.5h1.35v1.35h-1.35zM350.7 472.9h1.35v1.35h-1.35zM350.8 496.1h1.35v1.35h-1.35zM342.2 496.2h1.35v1.35h-1.35zM346.8 501.3h1.35v1.35h-1.35zM347.0 484.7h1.35v1.35h-1.35zM350.8 473.0h1.35v1.35h-1.35zM349.1 473.5h1.35v1.35h-1.35zM343.6 473.9h1.35v1.35h-1.35zM350.1 485.2h1.35v1.35h-1.35zM348.5 478.8h1.35v1.35h-1.35zM348.6 492.3h1.35v1.35h-1.35zM341.6 487.0h1.35v1.35h-1.35zM348.5 477.4h1.35v1.35h-1.35zM347.7 479.6h1.35v1.35h-1.35zM344.6 501.7h1.35v1.35h-1.35zM350.9 504.4h1.35v1.35h-1.35zM345.2 489.7h1.35v1.35h-1.35zM349.4 496.1h1.35v1.35h-1.35zM345.6 499.8h1.35v1.35h-1.35zM345.0 502.7h1.35v1.35h-1.35zM345.7 474.1h1.35v1.35h-1.35zM348.8 475.0h1.35v1.35h-1.35zM348.0 471.8h1.35v1.35h-1.35zM351.4 488.6h1.35v1.35h-1.35zM348.7 474.5h1.35v1.35h-1.35zM347.5 483.0h1.35v1.35h-1.35zM343.3 498.1h1.35v1.35h-1.35zM340.9 486.5h1.35v1.35h-1.35zM341.5 499.3h1.35v1.35h-1.35zM350.4 471.2h1.35v1.35h-1.35zM345.6 486.2h1.35v1.35h-1.35zM348.4 495.1h1.35v1.35h-1.35zM344.3 502.1h1.35v1.35h-1.35zM342.6 474.7h1.35v1.35h-1.35zM349.5 474.1h1.35v1.35h-1.35zM342.6 487.2h1.35v1.35h-1.35zM344.2 475.6h1.35v1.35h-1.35zM350.8 486.3h1.35v1.35h-1.35zM349.2 478.6h1.35v1.35h-1.35zM350.6 477.6h1.35v1.35h-1.35zM350.5 491.1h1.35v1.35h-1.35zM351.2 496.6h1.35v1.35h-1.35zM347.5 488.4h1.35v1.35h-1.35zM349.9 485.3h1.35v1.35h-1.35zM341.6 501.5h1.35v1.35h-1.35zM349.4 493.5h1.35v1.35h-1.35zM348.7 478.0h1.35v1.35h-1.35zM345.6 498.3h1.35v1.35h-1.35zM351.1 501.8h1.35v1.35h-1.35zM342.3 493.6h1.35v1.35h-1.35zM346.6 484.0h1.35v1.35h-1.35zM342.4 474.7h1.35v1.35h-1.35zM345.7 487.0h1.35v1.35h-1.35zM343.5 482.7h1.35v1.35h-1.35zM346.6 496.2h1.35v1.35h-1.35zM347.0 475.6h1.35v1.35h-1.35zM350.3 482.7h1.35v1.35h-1.35zM351.1 503.8h1.35v1.35h-1.35zM342.1 490.1h1.35v1.35h-1.35zM351.2 483.3h1.35v1.35h-1.35zM346.6 480.8h1.35v1.35h-1.35zM340.8 477.0h1.35v1.35h-1.35zM341.9 479.8h1.35v1.35h-1.35zM347.5 489.4h1.35v1.35h-1.35zM351.0 493.6h1.35v1.35h-1.35zM344.5 502.7h1.35v1.35h-1.35zM347.5 488.7h1.35v1.35h-1.35zM350.0 493.1h1.35v1.35h-1.35zM344.5 490.8h1.35v1.35h-1.35zM343.8 503.4h1.35v1.35h-1.35zM343.2 503.5h1.35v1.35h-1.35zM366.6 470.3h1.35v1.35h-1.35zM391.3 477.1h1.35v1.35h-1.35zM389.6 474.1h1.35v1.35h-1.35zM404.5 493.0h1.35v1.35h-1.35zM396.6 501.9h1.35v1.35h-1.35zM420.3 493.4h1.35v1.35h-1.35zM397.9 470.1h1.35v1.35h-1.35zM365.0 484.7h1.35v1.35h-1.35zM415.9 480.8h1.35v1.35h-1.35zM391.8 470.3h1.35v1.35h-1.35zM386.2 501.1h1.35v1.35h-1.35zM392.7 498.4h1.35v1.35h-1.35zM359.6 477.0h1.35v1.35h-1.35zM375.1 498.7h1.35v1.35h-1.35zM369.9 502.1h1.35v1.35h-1.35zM379.8 500.3h1.35v1.35h-1.35zM389.9 481.1h1.35v1.35h-1.35zM415.6 484.0h1.35v1.35h-1.35zM397.2 472.3h1.35v1.35h-1.35zM404.1 503.8h1.35v1.35h-1.35zM370.6 495.7h1.35v1.35h-1.35zM380.0 475.1h1.35v1.35h-1.35zM384.1 492.8h1.35v1.35h-1.35zM413.9 504.2h1.35v1.35h-1.35zM420.7 491.5h1.35v1.35h-1.35zM395.3 475.6h1.35v1.35h-1.35zM398.5 489.0h1.35v1.35h-1.35zM383.9 501.0h1.35v1.35h-1.35zM379.2 474.9h1.35v1.35h-1.35zM373.8 475.1h1.35v1.35h-1.35zM392.6 497.6h1.35v1.35h-1.35zM373.9 487.3h1.35v1.35h-1.35zM392.1 489.3h1.35v1.35h-1.35zM386.1 488.7h1.35v1.35h-1.35zM360.1 472.0h1.35v1.35h-1.35zM386.5 478.2h1.35v1.35h-1.35zM400.0 478.3h1.35v1.35h-1.35zM403.7 478.3h1.35v1.35h-1.35zM369.1 486.4h1.35v1.35h-1.35zM385.1 481.6h1.35v1.35h-1.35zM400.5 477.7h1.35v1.35h-1.35zM396.0 498.8h1.35v1.35h-1.35zM387.6 487.3h1.35v1.35h-1.35zM410.9 490.8h1.35v1.35h-1.35zM375.2 472.4h1.35v1.35h-1.35zM368.3 481.4h1.35v1.35h-1.35zM368.8 492.4h1.35v1.35h-1.35zM386.5 480.6h1.35v1.35h-1.35zM389.8 502.3h1.35v1.35h-1.35zM378.7 475.3h1.35v1.35h-1.35zM381.6 481.2h1.35v1.35h-1.35zM409.7 494.3h1.35v1.35h-1.35zM386.7 475.7h1.35v1.35h-1.35zM364.6 474.2h1.35v1.35h-1.35zM405.2 492.3h1.35v1.35h-1.35zM373.7 491.5h1.35v1.35h-1.35zM366.0 487.5h1.35v1.35h-1.35zM382.9 473.5h1.35v1.35h-1.35zM399.3 494.7h1.35v1.35h-1.35zM389.7 475.8h1.35v1.35h-1.35zM396.0 484.9h1.35v1.35h-1.35zM395.6 473.2h1.35v1.35h-1.35zM409.1 470.1h1.35v1.35h-1.35zM377.5 483.7h1.35v1.35h-1.35zM376.2 473.0h1.35v1.35h-1.35zM396.7 504.2h1.35v1.35h-1.35zM382.9 479.2h1.35v1.35h-1.35zM396.0 477.7h1.35v1.35h-1.35zM385.6 493.7h1.35v1.35h-1.35zM386.8 475.4h1.35v1.35h-1.35zM367.2 488.7h1.35v1.35h-1.35zM419.9 501.7h1.35v1.35h-1.35zM369.7 487.3h1.35v1.35h-1.35zM388.9 476.7h1.35v1.35h-1.35zM396.0 487.1h1.35v1.35h-1.35zM402.8 480.1h1.35v1.35h-1.35zM411.9 498.1h1.35v1.35h-1.35zM388.4 474.9h1.35v1.35h-1.35zM388.7 474.4h1.35v1.35h-1.35zM396.7 494.0h1.35v1.35h-1.35zM392.2 503.6h1.35v1.35h-1.35zM364.6 494.6h1.35v1.35h-1.35zM402.4 473.9h1.35v1.35h-1.35zM382.3 471.9h1.35v1.35h-1.35zM392.4 494.9h1.35v1.35h-1.35zM383.5 494.0h1.35v1.35h-1.35zM384.2 494.5h1.35v1.35h-1.35zM380.3 503.7h1.35v1.35h-1.35zM387.1 470.1h1.35v1.35h-1.35zM369.1 495.0h1.35v1.35h-1.35zM406.3 491.9h1.35v1.35h-1.35zM373.7 500.0h1.35v1.35h-1.35zM398.1 474.0h1.35v1.35h-1.35zM384.8 493.1h1.35v1.35h-1.35zM356.9 471.5h1.35v1.35h-1.35zM383.7 500.1h1.35v1.35h-1.35zM421.7 481.0h1.35v1.35h-1.35zM409.6 497.1h1.35v1.35h-1.35zM406.3 490.3h1.35v1.35h-1.35zM416.0 492.2h1.35v1.35h-1.35zM413.3 489.5h1.35v1.35h-1.35zM376.1 487.9h1.35v1.35h-1.35zM388.7 481.6h1.35v1.35h-1.35zM384.5 487.6h1.35v1.35h-1.35zM392.6 477.7h1.35v1.35h-1.35zM380.3 487.3h1.35v1.35h-1.35zM389.5 484.4h1.35v1.35h-1.35zM395.7 476.4h1.35v1.35h-1.35zM390.5 479.5h1.35v1.35h-1.35zM400.7 494.2h1.35v1.35h-1.35zM401.3 487.8h1.35v1.35h-1.35zM378.9 501.9h1.35v1.35h-1.35zM389.7 482.9h1.35v1.35h-1.35zM380.9 483.8h1.35v1.35h-1.35zM397.7 498.2h1.35v1.35h-1.35zM388.7 495.2h1.35v1.35h-1.35zM377.0 485.6h1.35v1.35h-1.35zM383.9 480.6h1.35v1.35h-1.35zM383.9 496.0h1.35v1.35h-1.35zM398.9 477.1h1.35v1.35h-1.35zM378.1 497.0h1.35v1.35h-1.35zM395.3 493.3h1.35v1.35h-1.35zM394.5 493.9h1.35v1.35h-1.35zM380.1 472.1h1.35v1.35h-1.35zM384.0 471.1h1.35v1.35h-1.35zM415.0 488.1h1.35v1.35h-1.35zM396.0 503.3h1.35v1.35h-1.35zM402.6 477.9h1.35v1.35h-1.35zM383.0 473.7h1.35v1.35h-1.35zM402.1 495.4h1.35v1.35h-1.35zM388.9 482.7h1.35v1.35h-1.35zM379.9 486.8h1.35v1.35h-1.35zM397.9 500.8h1.35v1.35h-1.35zM405.3 499.9h1.35v1.35h-1.35zM387.1 484.5h1.35v1.35h-1.35zM382.0 503.6h1.35v1.35h-1.35zM375.4 475.4h1.35v1.35h-1.35zM380.5 501.8h1.35v1.35h-1.35zM405.5 481.4h1.35v1.35h-1.35zM405.5 500.7h1.35v1.35h-1.35zM386.6 476.6h1.35v1.35h-1.35zM400.9 482.9h1.35v1.35h-1.35zM371.2 501.1h1.35v1.35h-1.35zM387.1 483.7h1.35v1.35h-1.35zM392.9 478.8h1.35v1.35h-1.35zM361.0 483.4h1.35v1.35h-1.35zM384.8 470.4h1.35v1.35h-1.35zM384.4 496.2h1.35v1.35h-1.35zM382.8 493.4h1.35v1.35h-1.35zM394.1 476.5h1.35v1.35h-1.35zM361.1 493.2h1.35v1.35h-1.35zM393.5 480.1h1.35v1.35h-1.35zM376.3 499.5h1.35v1.35h-1.35zM409.7 478.0h1.35v1.35h-1.35zM392.5 489.8h1.35v1.35h-1.35zM382.3 471.3h1.35v1.35h-1.35zM382.5 492.2h1.35v1.35h-1.35zM393.1 487.6h1.35v1.35h-1.35zM371.4 477.3h1.35v1.35h-1.35zM381.9 484.3h1.35v1.35h-1.35zM384.1 501.1h1.35v1.35h-1.35zM371.0 504.0h1.35v1.35h-1.35zM378.5 499.5h1.35v1.35h-1.35zM378.6 490.2h1.35v1.35h-1.35zM384.7 471.3h1.35v1.35h-1.35zM402.1 497.9h1.35v1.35h-1.35zM379.9 496.7h1.35v1.35h-1.35zM388.6 504.0h1.35v1.35h-1.35zM365.6 483.1h1.35v1.35h-1.35zM377.8 491.5h1.35v1.35h-1.35zM401.1 499.0h1.35v1.35h-1.35zM391.1 483.3h1.35v1.35h-1.35zM402.3 473.6h1.35v1.35h-1.35zM379.4 495.9h1.35v1.35h-1.35zM387.1 504.2h1.35v1.35h-1.35zM369.0 485.9h1.35v1.35h-1.35zM377.0 470.1h1.35v1.35h-1.35zM369.2 473.1h1.35v1.35h-1.35zM384.3 484.9h1.35v1.35h-1.35zM389.6 480.0h1.35v1.35h-1.35zM397.4 487.8h1.35v1.35h-1.35zM418.0 475.8h1.35v1.35h-1.35zM389.7 487.0h1.35v1.35h-1.35zM384.4 499.7h1.35v1.35h-1.35zM376.8 500.2h1.35v1.35h-1.35zM383.9 481.6h1.35v1.35h-1.35zM393.7 489.4h1.35v1.35h-1.35zM380.6 472.9h1.35v1.35h-1.35zM414.1 482.7h1.35v1.35h-1.35zM370.8 492.6h1.35v1.35h-1.35zM390.5 481.3h1.35v1.35h-1.35zM382.6 499.1h1.35v1.35h-1.35zM383.1 484.4h1.35v1.35h-1.35zM414.3 482.4h1.35v1.35h-1.35zM385.7 475.6h1.35v1.35h-1.35zM395.6 492.9h1.35v1.35h-1.35zM387.4 484.0h1.35v1.35h-1.35zM378.1 497.2h1.35v1.35h-1.35zM387.8 498.7h1.35v1.35h-1.35zM384.6 495.3h1.35v1.35h-1.35zM362.4 477.6h1.35v1.35h-1.35zM414.8 493.5h1.35v1.35h-1.35zM396.2 487.1h1.35v1.35h-1.35zM388.3 476.8h1.35v1.35h-1.35zM374.7 492.2h1.35v1.35h-1.35zM397.0 478.9h1.35v1.35h-1.35zM394.9 474.7h1.35v1.35h-1.35zM393.6 475.9h1.35v1.35h-1.35zM389.7 480.8h1.35v1.35h-1.35zM391.2 474.6h1.35v1.35h-1.35zM390.2 491.2h1.35v1.35h-1.35zM366.9 480.6h1.35v1.35h-1.35zM403.2 488.8h1.35v1.35h-1.35zM399.1 496.9h1.35v1.35h-1.35zM396.1 477.7h1.35v1.35h-1.35zM387.4 498.6h1.35v1.35h-1.35zM395.8 495.9h1.35v1.35h-1.35zM382.2 485.4h1.35v1.35h-1.35zM422.7 498.3h1.35v1.35h-1.35zM401.5 473.7h1.35v1.35h-1.35zM398.8 471.1h1.35v1.35h-1.35zM420.3 503.5h1.35v1.35h-1.35zM406.6 479.2h1.35v1.35h-1.35zM414.4 476.1h1.35v1.35h-1.35zM413.2 487.9h1.35v1.35h-1.35zM358.9 500.7h1.35v1.35h-1.35zM387.3 498.6h1.35v1.35h-1.35zM403.9 488.4h1.35v1.35h-1.35zM415.5 477.0h1.35v1.35h-1.35zM418.0 481.7h1.35v1.35h-1.35zM359.6 481.6h1.35v1.35h-1.35zM362.3 472.5h1.35v1.35h-1.35zM399.6 474.2h1.35v1.35h-1.35zM368.5 480.1h1.35v1.35h-1.35zM376.5 501.7h1.35v1.35h-1.35zM418.4 500.0h1.35v1.35h-1.35zM424.1 485.2h1.35v1.35h-1.35zM411.1 479.7h1.35v1.35h-1.35zM419.8 497.9h1.35v1.35h-1.35zM406.8 477.8h1.35v1.35h-1.35zM426.3 501.9h1.35v1.35h-1.35zM433.9 491.1h1.35v1.35h-1.35zM439.0 474.9h1.35v1.35h-1.35zM436.3 486.0h1.35v1.35h-1.35zM437.7 485.7h1.35v1.35h-1.35zM320.5 545.0h1.35v1.35h-1.35zM321.4 537.7h1.35v1.35h-1.35zM327.0 520.6h1.35v1.35h-1.35zM325.6 525.7h1.35v1.35h-1.35zM320.8 519.6h1.35v1.35h-1.35zM328.3 524.7h1.35v1.35h-1.35zM323.7 529.3h1.35v1.35h-1.35zM318.8 538.0h1.35v1.35h-1.35zM326.1 542.2h1.35v1.35h-1.35zM322.1 519.3h1.35v1.35h-1.35zM322.0 537.3h1.35v1.35h-1.35zM325.2 526.0h1.35v1.35h-1.35zM323.9 517.4h1.35v1.35h-1.35zM327.9 528.3h1.35v1.35h-1.35zM323.7 539.1h1.35v1.35h-1.35zM320.5 536.9h1.35v1.35h-1.35zM322.1 540.0h1.35v1.35h-1.35zM319.5 521.6h1.35v1.35h-1.35zM325.0 528.7h1.35v1.35h-1.35zM322.4 532.0h1.35v1.35h-1.35zM320.7 527.1h1.35v1.35h-1.35zM318.5 539.5h1.35v1.35h-1.35zM321.1 540.6h1.35v1.35h-1.35zM324.1 532.8h1.35v1.35h-1.35zM324.9 516.4h1.35v1.35h-1.35zM326.4 522.1h1.35v1.35h-1.35zM327.3 539.1h1.35v1.35h-1.35zM325.4 540.1h1.35v1.35h-1.35zM323.0 535.2h1.35v1.35h-1.35zM328.2 518.6h1.35v1.35h-1.35zM319.5 526.3h1.35v1.35h-1.35zM323.7 517.2h1.35v1.35h-1.35zM320.8 541.9h1.35v1.35h-1.35zM322.5 517.2h1.35v1.35h-1.35zM320.4 531.9h1.35v1.35h-1.35zM320.4 528.4h1.35v1.35h-1.35zM324.0 527.2h1.35v1.35h-1.35zM323.6 540.8h1.35v1.35h-1.35zM318.7 544.0h1.35v1.35h-1.35zM320.5 513.4h1.35v1.35h-1.35zM326.3 531.7h1.35v1.35h-1.35zM324.0 519.6h1.35v1.35h-1.35zM326.5 522.6h1.35v1.35h-1.35zM325.9 519.9h1.35v1.35h-1.35zM324.4 534.4h1.35v1.35h-1.35zM322.3 528.6h1.35v1.35h-1.35zM319.2 534.2h1.35v1.35h-1.35zM325.6 517.4h1.35v1.35h-1.35zM324.1 537.3h1.35v1.35h-1.35zM319.5 540.9h1.35v1.35h-1.35zM327.4 513.8h1.35v1.35h-1.35zM321.0 515.0h1.35v1.35h-1.35zM321.1 515.1h1.35v1.35h-1.35zM323.5 520.7h1.35v1.35h-1.35zM321.6 528.0h1.35v1.35h-1.35zM322.3 539.2h1.35v1.35h-1.35zM325.9 516.0h1.35v1.35h-1.35zM320.8 512.4h1.35v1.35h-1.35zM321.9 515.8h1.35v1.35h-1.35zM325.6 538.9h1.35v1.35h-1.35zM328.7 519.3h1.35v1.35h-1.35zM318.9 538.1h1.35v1.35h-1.35zM322.7 544.1h1.35v1.35h-1.35zM322.5 522.8h1.35v1.35h-1.35zM319.2 544.7h1.35v1.35h-1.35zM323.7 527.2h1.35v1.35h-1.35zM323.0 538.5h1.35v1.35h-1.35zM327.0 528.5h1.35v1.35h-1.35zM320.3 526.1h1.35v1.35h-1.35zM327.6 526.1h1.35v1.35h-1.35zM325.3 531.3h1.35v1.35h-1.35zM323.2 531.8h1.35v1.35h-1.35zM321.0 531.2h1.35v1.35h-1.35zM327.3 514.8h1.35v1.35h-1.35zM322.3 542.3h1.35v1.35h-1.35zM328.5 512.6h1.35v1.35h-1.35zM324.9 533.8h1.35v1.35h-1.35zM327.1 528.2h1.35v1.35h-1.35zM319.8 522.4h1.35v1.35h-1.35zM325.8 537.1h1.35v1.35h-1.35zM320.6 534.2h1.35v1.35h-1.35zM325.2 534.7h1.35v1.35h-1.35zM318.7 527.3h1.35v1.35h-1.35zM321.8 532.6h1.35v1.35h-1.35zM321.9 516.5h1.35v1.35h-1.35zM325.4 522.0h1.35v1.35h-1.35zM326.6 522.6h1.35v1.35h-1.35zM324.1 539.9h1.35v1.35h-1.35zM319.7 537.2h1.35v1.35h-1.35zM319.2 544.3h1.35v1.35h-1.35zM318.8 537.0h1.35v1.35h-1.35zM322.3 518.3h1.35v1.35h-1.35zM322.5 529.3h1.35v1.35h-1.35zM322.7 516.3h1.35v1.35h-1.35zM323.8 522.4h1.35v1.35h-1.35zM328.4 525.3h1.35v1.35h-1.35zM322.9 519.9h1.35v1.35h-1.35zM328.4 523.2h1.35v1.35h-1.35zM325.1 540.7h1.35v1.35h-1.35zM322.5 538.0h1.35v1.35h-1.35zM321.3 515.9h1.35v1.35h-1.35zM318.9 527.5h1.35v1.35h-1.35zM327.4 519.1h1.35v1.35h-1.35zM323.0 538.3h1.35v1.35h-1.35zM321.3 517.3h1.35v1.35h-1.35zM323.8 526.7h1.35v1.35h-1.35zM328.1 542.9h1.35v1.35h-1.35zM320.9 531.4h1.35v1.35h-1.35zM322.8 513.3h1.35v1.35h-1.35zM323.0 543.6h1.35v1.35h-1.35zM321.6 532.2h1.35v1.35h-1.35zM325.8 514.3h1.35v1.35h-1.35zM327.9 515.9h1.35v1.35h-1.35zM321.6 536.7h1.35v1.35h-1.35zM318.7 525.0h1.35v1.35h-1.35zM319.8 528.4h1.35v1.35h-1.35zM318.7 517.3h1.35v1.35h-1.35zM320.8 514.9h1.35v1.35h-1.35zM319.4 518.8h1.35v1.35h-1.35zM323.8 516.8h1.35v1.35h-1.35zM326.9 526.4h1.35v1.35h-1.35zM321.1 520.4h1.35v1.35h-1.35zM327.1 513.7h1.35v1.35h-1.35zM326.1 515.5h1.35v1.35h-1.35zM328.2 526.1h1.35v1.35h-1.35zM324.6 541.8h1.35v1.35h-1.35zM319.5 514.3h1.35v1.35h-1.35zM325.6 532.3h1.35v1.35h-1.35zM325.9 521.6h1.35v1.35h-1.35zM323.6 518.5h1.35v1.35h-1.35zM323.0 521.8h1.35v1.35h-1.35zM324.5 522.4h1.35v1.35h-1.35zM321.3 534.2h1.35v1.35h-1.35zM319.4 539.6h1.35v1.35h-1.35zM323.6 520.0h1.35v1.35h-1.35zM319.7 529.6h1.35v1.35h-1.35zM323.7 536.8h1.35v1.35h-1.35zM322.3 526.3h1.35v1.35h-1.35zM327.6 521.5h1.35v1.35h-1.35zM328.5 542.8h1.35v1.35h-1.35zM328.6 544.5h1.35v1.35h-1.35zM321.1 540.1h1.35v1.35h-1.35zM324.8 519.1h1.35v1.35h-1.35zM328.7 534.3h1.35v1.35h-1.35zM326.8 531.3h1.35v1.35h-1.35zM319.3 541.8h1.35v1.35h-1.35zM320.3 521.0h1.35v1.35h-1.35zM324.8 518.8h1.35v1.35h-1.35zM323.2 536.6h1.35v1.35h-1.35zM319.5 534.8h1.35v1.35h-1.35zM319.6 528.4h1.35v1.35h-1.35zM325.1 535.7h1.35v1.35h-1.35zM318.9 518.7h1.35v1.35h-1.35zM328.3 525.5h1.35v1.35h-1.35zM322.8 525.0h1.35v1.35h-1.35zM325.6 537.5h1.35v1.35h-1.35zM325.1 525.9h1.35v1.35h-1.35zM324.3 529.8h1.35v1.35h-1.35zM320.4 544.7h1.35v1.35h-1.35zM328.4 538.8h1.35v1.35h-1.35zM328.6 528.1h1.35v1.35h-1.35zM327.1 520.4h1.35v1.35h-1.35zM326.1 536.7h1.35v1.35h-1.35zM328.1 540.7h1.35v1.35h-1.35zM327.5 521.3h1.35v1.35h-1.35zM326.6 528.4h1.35v1.35h-1.35zM321.7 524.8h1.35v1.35h-1.35zM326.7 541.0h1.35v1.35h-1.35zM327.1 535.1h1.35v1.35h-1.35zM320.2 517.4h1.35v1.35h-1.35zM324.3 519.4h1.35v1.35h-1.35zM321.9 515.6h1.35v1.35h-1.35zM320.1 536.7h1.35v1.35h-1.35zM320.8 541.2h1.35v1.35h-1.35zM321.9 541.3h1.35v1.35h-1.35zM321.6 521.3h1.35v1.35h-1.35zM322.5 512.5h1.35v1.35h-1.35zM323.0 525.1h1.35v1.35h-1.35zM318.6 541.7h1.35v1.35h-1.35zM322.3 512.1h1.35v1.35h-1.35zM328.3 519.9h1.35v1.35h-1.35zM321.1 512.9h1.35v1.35h-1.35zM319.5 536.5h1.35v1.35h-1.35zM324.4 529.4h1.35v1.35h-1.35zM321.0 521.9h1.35v1.35h-1.35zM328.4 524.9h1.35v1.35h-1.35zM328.6 542.6h1.35v1.35h-1.35zM319.8 541.2h1.35v1.35h-1.35zM318.7 536.5h1.35v1.35h-1.35zM326.8 536.0h1.35v1.35h-1.35zM324.1 540.0h1.35v1.35h-1.35zM320.1 530.6h1.35v1.35h-1.35zM321.2 525.8h1.35v1.35h-1.35zM320.5 536.4h1.35v1.35h-1.35zM324.4 538.9h1.35v1.35h-1.35zM324.9 532.7h1.35v1.35h-1.35zM327.9 540.0h1.35v1.35h-1.35zM324.3 523.3h1.35v1.35h-1.35zM328.0 524.8h1.35v1.35h-1.35zM319.5 523.5h1.35v1.35h-1.35zM325.7 544.1h1.35v1.35h-1.35zM325.1 534.9h1.35v1.35h-1.35zM328.1 538.8h1.35v1.35h-1.35zM323.1 528.0h1.35v1.35h-1.35zM326.3 523.0h1.35v1.35h-1.35zM319.6 533.4h1.35v1.35h-1.35zM326.8 520.6h1.35v1.35h-1.35zM325.5 542.8h1.35v1.35h-1.35zM319.8 516.8h1.35v1.35h-1.35zM323.5 523.6h1.35v1.35h-1.35zM328.2 546.3h1.35v1.35h-1.35zM323.1 539.3h1.35v1.35h-1.35zM325.0 518.1h1.35v1.35h-1.35zM328.4 518.1h1.35v1.35h-1.35zM319.3 527.6h1.35v1.35h-1.35zM318.7 528.6h1.35v1.35h-1.35zM322.7 544.9h1.35v1.35h-1.35zM322.7 541.3h1.35v1.35h-1.35zM326.5 532.2h1.35v1.35h-1.35zM320.9 522.6h1.35v1.35h-1.35zM323.5 525.7h1.35v1.35h-1.35zM325.1 529.5h1.35v1.35h-1.35zM321.8 532.9h1.35v1.35h-1.35zM328.7 519.1h1.35v1.35h-1.35zM321.9 512.5h1.35v1.35h-1.35zM319.5 514.0h1.35v1.35h-1.35zM322.8 540.8h1.35v1.35h-1.35zM325.6 545.3h1.35v1.35h-1.35zM327.1 532.2h1.35v1.35h-1.35zM324.4 512.5h1.35v1.35h-1.35zM322.4 521.1h1.35v1.35h-1.35zM324.8 514.3h1.35v1.35h-1.35zM324.0 525.0h1.35v1.35h-1.35zM323.5 526.0h1.35v1.35h-1.35zM319.5 537.2h1.35v1.35h-1.35zM326.7 532.6h1.35v1.35h-1.35zM319.7 532.7h1.35v1.35h-1.35zM327.4 546.0h1.35v1.35h-1.35zM326.3 513.7h1.35v1.35h-1.35zM327.5 534.9h1.35v1.35h-1.35zM321.3 543.7h1.35v1.35h-1.35zM326.9 542.8h1.35v1.35h-1.35zM321.0 531.9h1.35v1.35h-1.35zM322.4 522.3h1.35v1.35h-1.35zM326.3 533.3h1.35v1.35h-1.35zM321.9 530.8h1.35v1.35h-1.35zM328.0 531.6h1.35v1.35h-1.35zM327.8 531.5h1.35v1.35h-1.35zM328.6 513.1h1.35v1.35h-1.35zM323.2 531.1h1.35v1.35h-1.35zM325.9 545.4h1.35v1.35h-1.35zM324.9 528.5h1.35v1.35h-1.35zM325.0 530.4h1.35v1.35h-1.35zM325.7 544.6h1.35v1.35h-1.35zM318.6 523.1h1.35v1.35h-1.35zM327.5 514.1h1.35v1.35h-1.35zM326.6 513.2h1.35v1.35h-1.35zM325.1 539.6h1.35v1.35h-1.35zM320.9 525.2h1.35v1.35h-1.35zM320.8 536.3h1.35v1.35h-1.35zM323.9 532.9h1.35v1.35h-1.35zM321.8 532.3h1.35v1.35h-1.35zM328.3 538.9h1.35v1.35h-1.35zM328.2 520.6h1.35v1.35h-1.35zM323.8 525.3h1.35v1.35h-1.35zM322.0 539.7h1.35v1.35h-1.35zM320.3 531.3h1.35v1.35h-1.35zM326.4 544.2h1.35v1.35h-1.35zM318.7 521.4h1.35v1.35h-1.35zM323.5 544.3h1.35v1.35h-1.35zM320.2 541.0h1.35v1.35h-1.35zM322.6 530.9h1.35v1.35h-1.35zM328.0 514.3h1.35v1.35h-1.35zM321.9 517.5h1.35v1.35h-1.35zM319.9 522.5h1.35v1.35h-1.35zM325.7 532.0h1.35v1.35h-1.35zM319.7 539.6h1.35v1.35h-1.35zM323.7 517.0h1.35v1.35h-1.35zM326.9 540.3h1.35v1.35h-1.35zM320.7 544.4h1.35v1.35h-1.35zM326.8 520.0h1.35v1.35h-1.35zM318.5 541.9h1.35v1.35h-1.35zM326.9 515.5h1.35v1.35h-1.35zM326.3 538.7h1.35v1.35h-1.35zM325.0 540.7h1.35v1.35h-1.35zM328.6 523.4h1.35v1.35h-1.35zM327.0 543.7h1.35v1.35h-1.35zM321.7 535.6h1.35v1.35h-1.35zM325.5 541.3h1.35v1.35h-1.35zM324.3 521.6h1.35v1.35h-1.35zM321.1 530.7h1.35v1.35h-1.35zM319.9 541.6h1.35v1.35h-1.35zM327.6 520.4h1.35v1.35h-1.35zM325.6 535.2h1.35v1.35h-1.35zM319.7 538.8h1.35v1.35h-1.35zM326.3 522.6h1.35v1.35h-1.35zM319.5 521.8h1.35v1.35h-1.35zM326.4 528.1h1.35v1.35h-1.35zM326.8 517.6h1.35v1.35h-1.35zM319.6 524.1h1.35v1.35h-1.35zM327.5 517.7h1.35v1.35h-1.35zM319.2 538.0h1.35v1.35h-1.35zM319.4 535.0h1.35v1.35h-1.35zM319.3 520.6h1.35v1.35h-1.35zM325.3 542.1h1.35v1.35h-1.35zM322.7 527.5h1.35v1.35h-1.35zM318.8 523.8h1.35v1.35h-1.35zM321.0 539.2h1.35v1.35h-1.35zM325.8 539.0h1.35v1.35h-1.35zM323.9 536.1h1.35v1.35h-1.35zM319.8 525.3h1.35v1.35h-1.35zM321.5 521.8h1.35v1.35h-1.35zM326.1 519.5h1.35v1.35h-1.35zM321.8 521.8h1.35v1.35h-1.35zM327.3 534.0h1.35v1.35h-1.35zM323.4 525.1h1.35v1.35h-1.35zM327.9 544.4h1.35v1.35h-1.35zM323.1 531.6h1.35v1.35h-1.35zM327.3 520.9h1.35v1.35h-1.35zM321.1 515.6h1.35v1.35h-1.35zM323.6 538.5h1.35v1.35h-1.35zM320.1 527.0h1.35v1.35h-1.35zM328.6 528.6h1.35v1.35h-1.35zM322.4 540.9h1.35v1.35h-1.35zM327.6 525.0h1.35v1.35h-1.35zM319.8 534.0h1.35v1.35h-1.35zM326.1 543.8h1.35v1.35h-1.35zM325.2 522.7h1.35v1.35h-1.35zM323.8 522.0h1.35v1.35h-1.35zM323.1 528.2h1.35v1.35h-1.35zM327.8 543.2h1.35v1.35h-1.35zM328.0 528.5h1.35v1.35h-1.35zM328.4 516.9h1.35v1.35h-1.35zM327.9 534.1h1.35v1.35h-1.35zM327.4 526.3h1.35v1.35h-1.35zM328.6 513.0h1.35v1.35h-1.35zM327.2 540.2h1.35v1.35h-1.35zM322.3 540.6h1.35v1.35h-1.35zM320.7 537.9h1.35v1.35h-1.35zM323.3 526.2h1.35v1.35h-1.35zM320.5 539.6h1.35v1.35h-1.35zM326.0 515.2h1.35v1.35h-1.35zM328.5 519.7h1.35v1.35h-1.35zM322.3 526.3h1.35v1.35h-1.35zM324.4 542.7h1.35v1.35h-1.35zM328.2 533.9h1.35v1.35h-1.35zM322.2 515.8h1.35v1.35h-1.35zM319.2 529.9h1.35v1.35h-1.35zM324.5 527.5h1.35v1.35h-1.35zM328.5 526.3h1.35v1.35h-1.35zM322.1 526.5h1.35v1.35h-1.35zM320.3 544.4h1.35v1.35h-1.35zM324.5 530.7h1.35v1.35h-1.35zM322.9 520.7h1.35v1.35h-1.35zM321.7 529.1h1.35v1.35h-1.35zM323.1 545.7h1.35v1.35h-1.35zM324.3 519.2h1.35v1.35h-1.35zM319.0 517.6h1.35v1.35h-1.35zM322.0 539.0h1.35v1.35h-1.35zM327.6 520.2h1.35v1.35h-1.35zM326.5 527.3h1.35v1.35h-1.35zM324.0 530.4h1.35v1.35h-1.35zM318.9 514.4h1.35v1.35h-1.35zM325.3 535.8h1.35v1.35h-1.35zM322.4 543.7h1.35v1.35h-1.35zM326.9 522.5h1.35v1.35h-1.35zM319.2 531.1h1.35v1.35h-1.35zM325.2 519.8h1.35v1.35h-1.35zM318.9 528.8h1.35v1.35h-1.35zM318.8 537.4h1.35v1.35h-1.35zM324.9 521.7h1.35v1.35h-1.35zM323.1 520.1h1.35v1.35h-1.35zM320.4 518.3h1.35v1.35h-1.35zM326.8 527.7h1.35v1.35h-1.35zM325.8 524.0h1.35v1.35h-1.35zM326.7 532.6h1.35v1.35h-1.35zM325.2 525.6h1.35v1.35h-1.35zM324.2 518.6h1.35v1.35h-1.35zM328.5 535.2h1.35v1.35h-1.35zM323.9 534.0h1.35v1.35h-1.35zM319.5 523.6h1.35v1.35h-1.35zM320.9 541.1h1.35v1.35h-1.35zM318.6 527.4h1.35v1.35h-1.35zM327.4 539.0h1.35v1.35h-1.35zM325.8 522.5h1.35v1.35h-1.35zM320.9 536.3h1.35v1.35h-1.35zM321.6 536.9h1.35v1.35h-1.35zM322.1 538.2h1.35v1.35h-1.35zM324.4 540.1h1.35v1.35h-1.35zM328.6 525.1h1.35v1.35h-1.35zM328.6 512.4h1.35v1.35h-1.35zM327.5 513.1h1.35v1.35h-1.35zM324.1 525.4h1.35v1.35h-1.35zM326.4 522.9h1.35v1.35h-1.35zM320.6 539.0h1.35v1.35h-1.35zM324.1 538.1h1.35v1.35h-1.35zM323.5 513.4h1.35v1.35h-1.35zM326.4 519.6h1.35v1.35h-1.35zM323.3 512.1h1.35v1.35h-1.35zM321.1 535.0h1.35v1.35h-1.35zM326.3 534.0h1.35v1.35h-1.35zM323.0 537.3h1.35v1.35h-1.35zM325.3 519.2h1.35v1.35h-1.35zM324.0 532.6h1.35v1.35h-1.35zM326.0 518.9h1.35v1.35h-1.35zM321.7 523.9h1.35v1.35h-1.35zM319.5 524.1h1.35v1.35h-1.35zM326.0 531.9h1.35v1.35h-1.35zM320.3 537.2h1.35v1.35h-1.35zM319.7 537.9h1.35v1.35h-1.35zM320.0 515.4h1.35v1.35h-1.35zM321.1 529.8h1.35v1.35h-1.35zM321.3 542.5h1.35v1.35h-1.35zM328.1 521.8h1.35v1.35h-1.35zM326.2 536.0h1.35v1.35h-1.35zM324.2 520.9h1.35v1.35h-1.35zM328.2 545.0h1.35v1.35h-1.35zM318.6 523.4h1.35v1.35h-1.35zM321.8 518.9h1.35v1.35h-1.35zM322.9 543.0h1.35v1.35h-1.35zM318.7 540.8h1.35v1.35h-1.35zM321.7 512.6h1.35v1.35h-1.35zM327.7 521.5h1.35v1.35h-1.35zM320.7 516.1h1.35v1.35h-1.35zM322.3 516.2h1.35v1.35h-1.35zM320.3 520.7h1.35v1.35h-1.35zM324.4 527.4h1.35v1.35h-1.35zM321.6 530.2h1.35v1.35h-1.35zM326.4 537.0h1.35v1.35h-1.35zM322.0 543.6h1.35v1.35h-1.35zM326.6 531.4h1.35v1.35h-1.35zM323.4 523.4h1.35v1.35h-1.35zM319.9 542.5h1.35v1.35h-1.35zM324.7 515.5h1.35v1.35h-1.35zM328.0 542.6h1.35v1.35h-1.35zM318.8 536.2h1.35v1.35h-1.35zM320.9 530.5h1.35v1.35h-1.35zM327.0 524.1h1.35v1.35h-1.35zM323.6 535.0h1.35v1.35h-1.35zM320.5 533.6h1.35v1.35h-1.35zM322.8 545.8h1.35v1.35h-1.35zM320.4 536.5h1.35v1.35h-1.35zM318.9 521.5h1.35v1.35h-1.35zM319.7 517.2h1.35v1.35h-1.35zM323.9 518.1h1.35v1.35h-1.35zM326.6 515.4h1.35v1.35h-1.35zM324.9 541.7h1.35v1.35h-1.35zM319.8 519.6h1.35v1.35h-1.35zM326.3 528.3h1.35v1.35h-1.35zM328.0 523.7h1.35v1.35h-1.35zM322.6 545.0h1.35v1.35h-1.35zM322.0 545.3h1.35v1.35h-1.35zM327.6 519.0h1.35v1.35h-1.35zM324.1 544.4h1.35v1.35h-1.35zM319.7 541.3h1.35v1.35h-1.35zM326.4 537.8h1.35v1.35h-1.35zM324.6 515.5h1.35v1.35h-1.35zM328.3 515.6h1.35v1.35h-1.35zM326.5 536.9h1.35v1.35h-1.35zM321.7 535.6h1.35v1.35h-1.35zM322.7 537.9h1.35v1.35h-1.35zM318.9 544.2h1.35v1.35h-1.35zM322.4 539.7h1.35v1.35h-1.35zM323.3 540.0h1.35v1.35h-1.35zM321.6 530.8h1.35v1.35h-1.35zM318.8 528.9h1.35v1.35h-1.35zM319.3 541.6h1.35v1.35h-1.35zM325.4 526.7h1.35v1.35h-1.35zM328.5 544.6h1.35v1.35h-1.35zM328.3 514.9h1.35v1.35h-1.35zM325.7 537.1h1.35v1.35h-1.35zM324.7 512.6h1.35v1.35h-1.35zM327.9 527.2h1.35v1.35h-1.35zM324.6 540.1h1.35v1.35h-1.35zM321.3 513.1h1.35v1.35h-1.35zM327.9 521.4h1.35v1.35h-1.35zM318.9 516.8h1.35v1.35h-1.35zM328.7 537.5h1.35v1.35h-1.35zM320.6 517.1h1.35v1.35h-1.35zM327.7 534.9h1.35v1.35h-1.35zM324.5 516.6h1.35v1.35h-1.35zM322.7 544.6h1.35v1.35h-1.35zM318.5 526.5h1.35v1.35h-1.35zM319.1 546.4h1.35v1.35h-1.35zM319.6 544.9h1.35v1.35h-1.35zM327.1 537.2h1.35v1.35h-1.35zM318.9 536.0h1.35v1.35h-1.35zM323.5 529.0h1.35v1.35h-1.35zM320.0 529.7h1.35v1.35h-1.35zM326.7 516.6h1.35v1.35h-1.35zM327.5 526.5h1.35v1.35h-1.35zM321.2 520.3h1.35v1.35h-1.35zM323.2 534.3h1.35v1.35h-1.35zM324.3 542.7h1.35v1.35h-1.35zM323.7 529.7h1.35v1.35h-1.35zM328.6 519.5h1.35v1.35h-1.35zM318.7 523.4h1.35v1.35h-1.35zM321.7 516.4h1.35v1.35h-1.35zM322.8 513.3h1.35v1.35h-1.35zM327.9 528.7h1.35v1.35h-1.35zM327.5 536.1h1.35v1.35h-1.35zM326.0 538.2h1.35v1.35h-1.35zM321.6 537.1h1.35v1.35h-1.35zM320.6 531.2h1.35v1.35h-1.35zM324.6 538.7h1.35v1.35h-1.35zM320.2 523.9h1.35v1.35h-1.35zM326.9 539.7h1.35v1.35h-1.35zM328.5 516.2h1.35v1.35h-1.35zM320.6 515.8h1.35v1.35h-1.35zM325.9 537.7h1.35v1.35h-1.35zM325.1 538.9h1.35v1.35h-1.35zM323.8 531.4h1.35v1.35h-1.35zM327.9 534.4h1.35v1.35h-1.35zM325.2 532.3h1.35v1.35h-1.35zM323.5 538.1h1.35v1.35h-1.35zM324.4 516.5h1.35v1.35h-1.35zM322.9 526.6h1.35v1.35h-1.35zM322.9 531.4h1.35v1.35h-1.35zM322.2 525.5h1.35v1.35h-1.35zM322.9 524.9h1.35v1.35h-1.35zM328.4 515.2h1.35v1.35h-1.35zM318.7 536.9h1.35v1.35h-1.35zM322.5 527.5h1.35v1.35h-1.35zM324.5 524.7h1.35v1.35h-1.35zM320.9 512.6h1.35v1.35h-1.35zM327.4 544.4h1.35v1.35h-1.35zM321.4 528.1h1.35v1.35h-1.35zM321.8 514.1h1.35v1.35h-1.35zM327.6 540.8h1.35v1.35h-1.35zM321.0 520.9h1.35v1.35h-1.35zM325.6 539.5h1.35v1.35h-1.35zM323.3 525.4h1.35v1.35h-1.35zM320.9 539.5h1.35v1.35h-1.35zM327.3 541.6h1.35v1.35h-1.35zM319.7 532.5h1.35v1.35h-1.35zM328.6 536.7h1.35v1.35h-1.35zM323.2 517.1h1.35v1.35h-1.35zM319.1 537.2h1.35v1.35h-1.35zM319.2 539.9h1.35v1.35h-1.35zM325.3 528.4h1.35v1.35h-1.35zM327.6 544.1h1.35v1.35h-1.35zM324.8 515.5h1.35v1.35h-1.35zM324.5 526.6h1.35v1.35h-1.35zM321.0 544.0h1.35v1.35h-1.35zM326.0 516.3h1.35v1.35h-1.35zM320.8 523.9h1.35v1.35h-1.35zM324.4 523.3h1.35v1.35h-1.35zM323.0 540.0h1.35v1.35h-1.35zM320.4 536.8h1.35v1.35h-1.35zM321.9 544.5h1.35v1.35h-1.35zM328.2 523.3h1.35v1.35h-1.35zM324.7 515.9h1.35v1.35h-1.35zM322.7 533.5h1.35v1.35h-1.35zM325.0 523.9h1.35v1.35h-1.35zM318.8 516.4h1.35v1.35h-1.35zM324.2 518.0h1.35v1.35h-1.35zM321.6 533.3h1.35v1.35h-1.35zM327.7 529.8h1.35v1.35h-1.35zM321.1 532.2h1.35v1.35h-1.35zM321.3 539.0h1.35v1.35h-1.35zM320.1 521.1h1.35v1.35h-1.35zM323.0 543.3h1.35v1.35h-1.35zM320.2 518.7h1.35v1.35h-1.35zM319.8 519.4h1.35v1.35h-1.35zM321.9 525.7h1.35v1.35h-1.35zM326.3 526.0h1.35v1.35h-1.35zM323.4 525.7h1.35v1.35h-1.35zM326.4 543.1h1.35v1.35h-1.35zM322.8 543.7h1.35v1.35h-1.35zM321.1 545.7h1.35v1.35h-1.35zM323.9 535.5h1.35v1.35h-1.35zM322.4 521.4h1.35v1.35h-1.35zM319.9 542.5h1.35v1.35h-1.35zM322.2 536.1h1.35v1.35h-1.35zM323.2 530.2h1.35v1.35h-1.35zM320.6 518.2h1.35v1.35h-1.35zM321.9 535.5h1.35v1.35h-1.35zM324.1 512.2h1.35v1.35h-1.35zM325.8 527.0h1.35v1.35h-1.35zM319.2 521.0h1.35v1.35h-1.35zM320.7 540.4h1.35v1.35h-1.35zM324.1 523.3h1.35v1.35h-1.35zM321.0 522.1h1.35v1.35h-1.35zM321.4 524.0h1.35v1.35h-1.35zM326.6 539.2h1.35v1.35h-1.35zM325.6 542.5h1.35v1.35h-1.35zM325.2 516.0h1.35v1.35h-1.35zM319.0 517.7h1.35v1.35h-1.35zM321.1 530.2h1.35v1.35h-1.35zM326.9 532.2h1.35v1.35h-1.35zM322.9 520.4h1.35v1.35h-1.35zM328.5 538.0h1.35v1.35h-1.35zM322.0 513.7h1.35v1.35h-1.35zM328.5 520.9h1.35v1.35h-1.35zM327.2 516.1h1.35v1.35h-1.35zM325.2 524.3h1.35v1.35h-1.35zM327.6 522.3h1.35v1.35h-1.35zM319.5 518.9h1.35v1.35h-1.35zM326.7 545.7h1.35v1.35h-1.35zM325.1 535.5h1.35v1.35h-1.35zM321.4 521.5h1.35v1.35h-1.35zM319.4 545.9h1.35v1.35h-1.35zM318.9 533.1h1.35v1.35h-1.35zM322.1 518.5h1.35v1.35h-1.35zM323.0 544.1h1.35v1.35h-1.35zM321.0 517.8h1.35v1.35h-1.35zM324.9 534.7h1.35v1.35h-1.35zM323.7 518.3h1.35v1.35h-1.35zM327.4 515.9h1.35v1.35h-1.35zM320.3 520.4h1.35v1.35h-1.35zM323.8 528.5h1.35v1.35h-1.35zM324.2 537.1h1.35v1.35h-1.35zM327.6 528.2h1.35v1.35h-1.35zM318.9 540.6h1.35v1.35h-1.35zM318.7 523.0h1.35v1.35h-1.35zM320.0 532.8h1.35v1.35h-1.35zM326.5 516.5h1.35v1.35h-1.35zM321.5 541.3h1.35v1.35h-1.35zM325.5 515.8h1.35v1.35h-1.35zM325.5 539.4h1.35v1.35h-1.35zM322.7 517.4h1.35v1.35h-1.35zM325.2 523.1h1.35v1.35h-1.35zM319.9 517.8h1.35v1.35h-1.35zM322.6 516.5h1.35v1.35h-1.35zM322.4 531.0h1.35v1.35h-1.35zM324.1 526.0h1.35v1.35h-1.35zM326.7 515.1h1.35v1.35h-1.35zM321.9 544.2h1.35v1.35h-1.35zM327.3 543.7h1.35v1.35h-1.35zM326.3 530.5h1.35v1.35h-1.35zM326.6 531.8h1.35v1.35h-1.35zM319.7 520.9h1.35v1.35h-1.35zM319.5 542.2h1.35v1.35h-1.35zM321.8 526.1h1.35v1.35h-1.35zM324.0 515.6h1.35v1.35h-1.35zM325.7 539.4h1.35v1.35h-1.35zM326.6 542.4h1.35v1.35h-1.35zM321.7 517.1h1.35v1.35h-1.35zM326.3 535.9h1.35v1.35h-1.35zM322.3 523.9h1.35v1.35h-1.35zM320.1 540.7h1.35v1.35h-1.35zM323.2 540.0h1.35v1.35h-1.35zM322.0 523.1h1.35v1.35h-1.35zM323.7 537.7h1.35v1.35h-1.35zM327.5 524.2h1.35v1.35h-1.35zM325.6 526.0h1.35v1.35h-1.35zM327.3 538.2h1.35v1.35h-1.35zM324.2 524.6h1.35v1.35h-1.35zM321.3 542.5h1.35v1.35h-1.35zM326.7 522.6h1.35v1.35h-1.35zM319.4 518.8h1.35v1.35h-1.35zM328.4 513.4h1.35v1.35h-1.35zM326.8 530.3h1.35v1.35h-1.35zM324.2 530.6h1.35v1.35h-1.35zM322.7 531.2h1.35v1.35h-1.35zM319.4 543.7h1.35v1.35h-1.35zM319.5 516.9h1.35v1.35h-1.35zM325.4 534.1h1.35v1.35h-1.35zM326.7 535.9h1.35v1.35h-1.35zM328.0 513.9h1.35v1.35h-1.35zM318.6 520.2h1.35v1.35h-1.35zM326.5 517.3h1.35v1.35h-1.35zM323.9 538.6h1.35v1.35h-1.35zM320.1 530.2h1.35v1.35h-1.35zM327.7 537.8h1.35v1.35h-1.35zM322.6 528.6h1.35v1.35h-1.35zM321.3 545.1h1.35v1.35h-1.35zM326.5 535.5h1.35v1.35h-1.35zM321.6 537.2h1.35v1.35h-1.35zM323.5 539.5h1.35v1.35h-1.35zM322.2 542.4h1.35v1.35h-1.35zM325.5 527.6h1.35v1.35h-1.35zM324.3 539.7h1.35v1.35h-1.35zM323.9 545.1h1.35v1.35h-1.35zM318.6 542.9h1.35v1.35h-1.35zM325.8 528.9h1.35v1.35h-1.35zM327.2 517.2h1.35v1.35h-1.35zM321.9 536.6h1.35v1.35h-1.35zM326.9 524.9h1.35v1.35h-1.35zM328.7 534.4h1.35v1.35h-1.35zM319.0 516.3h1.35v1.35h-1.35zM319.3 531.7h1.35v1.35h-1.35zM321.8 521.1h1.35v1.35h-1.35zM323.1 514.8h1.35v1.35h-1.35zM327.8 540.9h1.35v1.35h-1.35zM324.2 527.4h1.35v1.35h-1.35zM321.7 532.8h1.35v1.35h-1.35zM322.0 545.6h1.35v1.35h-1.35zM328.3 537.1h1.35v1.35h-1.35zM326.9 514.7h1.35v1.35h-1.35zM319.8 524.0h1.35v1.35h-1.35zM319.8 526.6h1.35v1.35h-1.35zM328.6 540.8h1.35v1.35h-1.35zM328.3 519.7h1.35v1.35h-1.35zM320.8 512.9h1.35v1.35h-1.35zM321.3 514.0h1.35v1.35h-1.35zM323.9 522.4h1.35v1.35h-1.35zM325.4 531.4h1.35v1.35h-1.35zM324.6 522.4h1.35v1.35h-1.35zM326.0 535.8h1.35v1.35h-1.35zM325.8 528.3h1.35v1.35h-1.35zM323.2 521.9h1.35v1.35h-1.35zM318.9 528.1h1.35v1.35h-1.35zM324.8 518.5h1.35v1.35h-1.35zM327.3 542.3h1.35v1.35h-1.35zM327.2 540.1h1.35v1.35h-1.35zM323.5 518.1h1.35v1.35h-1.35zM321.3 537.4h1.35v1.35h-1.35zM328.6 515.9h1.35v1.35h-1.35zM318.6 524.2h1.35v1.35h-1.35zM322.1 532.6h1.35v1.35h-1.35zM319.6 541.1h1.35v1.35h-1.35zM322.0 543.3h1.35v1.35h-1.35zM321.9 522.6h1.35v1.35h-1.35zM320.3 545.3h1.35v1.35h-1.35zM324.5 540.5h1.35v1.35h-1.35zM319.1 530.7h1.35v1.35h-1.35zM326.0 545.9h1.35v1.35h-1.35zM328.1 515.7h1.35v1.35h-1.35zM322.3 546.4h1.35v1.35h-1.35zM324.0 545.0h1.35v1.35h-1.35zM321.1 513.0h1.35v1.35h-1.35zM328.2 521.2h1.35v1.35h-1.35zM324.2 524.5h1.35v1.35h-1.35zM324.4 544.2h1.35v1.35h-1.35zM328.2 542.2h1.35v1.35h-1.35zM321.1 540.3h1.35v1.35h-1.35zM318.7 526.4h1.35v1.35h-1.35zM328.2 520.8h1.35v1.35h-1.35zM322.3 532.1h1.35v1.35h-1.35zM320.9 536.4h1.35v1.35h-1.35zM325.2 515.4h1.35v1.35h-1.35zM327.9 514.6h1.35v1.35h-1.35zM325.6 524.1h1.35v1.35h-1.35zM320.0 514.8h1.35v1.35h-1.35zM328.7 539.6h1.35v1.35h-1.35zM323.2 539.4h1.35v1.35h-1.35zM328.4 543.9h1.35v1.35h-1.35zM323.9 521.5h1.35v1.35h-1.35zM323.8 545.8h1.35v1.35h-1.35zM326.0 535.1h1.35v1.35h-1.35zM327.1 526.1h1.35v1.35h-1.35zM324.2 541.3h1.35v1.35h-1.35zM320.5 541.6h1.35v1.35h-1.35zM318.7 530.5h1.35v1.35h-1.35zM324.4 517.1h1.35v1.35h-1.35zM327.9 527.2h1.35v1.35h-1.35zM320.4 526.2h1.35v1.35h-1.35zM324.5 526.8h1.35v1.35h-1.35zM318.5 515.3h1.35v1.35h-1.35zM325.8 516.6h1.35v1.35h-1.35zM321.1 539.8h1.35v1.35h-1.35zM327.3 542.4h1.35v1.35h-1.35zM320.3 512.3h1.35v1.35h-1.35zM326.2 532.7h1.35v1.35h-1.35zM322.2 512.7h1.35v1.35h-1.35zM322.9 520.2h1.35v1.35h-1.35zM324.5 545.8h1.35v1.35h-1.35zM320.6 514.7h1.35v1.35h-1.35zM325.6 515.8h1.35v1.35h-1.35zM320.8 527.2h1.35v1.35h-1.35zM328.6 523.2h1.35v1.35h-1.35zM321.7 528.4h1.35v1.35h-1.35zM320.2 525.9h1.35v1.35h-1.35zM325.7 523.2h1.35v1.35h-1.35zM326.6 518.4h1.35v1.35h-1.35zM319.5 533.6h1.35v1.35h-1.35zM323.1 543.6h1.35v1.35h-1.35zM319.6 537.7h1.35v1.35h-1.35zM325.3 524.8h1.35v1.35h-1.35zM319.8 533.1h1.35v1.35h-1.35zM326.3 528.3h1.35v1.35h-1.35zM323.3 535.7h1.35v1.35h-1.35zM324.7 526.6h1.35v1.35h-1.35zM320.4 528.0h1.35v1.35h-1.35zM324.1 542.9h1.35v1.35h-1.35zM328.7 531.2h1.35v1.35h-1.35zM321.9 519.8h1.35v1.35h-1.35zM324.9 537.5h1.35v1.35h-1.35zM321.0 535.8h1.35v1.35h-1.35zM328.7 525.5h1.35v1.35h-1.35zM328.1 527.1h1.35v1.35h-1.35zM325.2 541.9h1.35v1.35h-1.35zM320.6 524.0h1.35v1.35h-1.35zM328.6 514.3h1.35v1.35h-1.35zM321.6 528.5h1.35v1.35h-1.35zM326.1 533.8h1.35v1.35h-1.35zM328.0 535.1h1.35v1.35h-1.35zM318.5 514.6h1.35v1.35h-1.35zM318.9 526.9h1.35v1.35h-1.35zM318.8 530.2h1.35v1.35h-1.35zM325.0 519.0h1.35v1.35h-1.35zM327.3 526.3h1.35v1.35h-1.35zM328.3 524.4h1.35v1.35h-1.35zM324.8 530.7h1.35v1.35h-1.35zM321.2 538.9h1.35v1.35h-1.35zM318.5 520.7h1.35v1.35h-1.35zM321.8 542.4h1.35v1.35h-1.35zM323.6 513.4h1.35v1.35h-1.35zM321.6 533.0h1.35v1.35h-1.35zM326.8 515.8h1.35v1.35h-1.35zM326.5 525.5h1.35v1.35h-1.35zM323.9 526.6h1.35v1.35h-1.35zM323.0 546.1h1.35v1.35h-1.35zM327.9 543.6h1.35v1.35h-1.35zM326.0 536.2h1.35v1.35h-1.35zM319.9 513.3h1.35v1.35h-1.35zM327.0 535.2h1.35v1.35h-1.35zM324.9 522.8h1.35v1.35h-1.35zM321.2 543.7h1.35v1.35h-1.35zM323.9 512.8h1.35v1.35h-1.35zM322.0 524.1h1.35v1.35h-1.35zM319.2 545.7h1.35v1.35h-1.35zM327.7 540.1h1.35v1.35h-1.35zM318.5 526.4h1.35v1.35h-1.35zM319.6 537.0h1.35v1.35h-1.35zM326.8 539.2h1.35v1.35h-1.35zM326.6 516.3h1.35v1.35h-1.35zM318.6 515.3h1.35v1.35h-1.35zM327.1 540.6h1.35v1.35h-1.35zM323.8 520.2h1.35v1.35h-1.35zM327.3 516.2h1.35v1.35h-1.35zM321.8 512.2h1.35v1.35h-1.35zM328.6 526.4h1.35v1.35h-1.35zM326.4 539.6h1.35v1.35h-1.35zM324.4 546.0h1.35v1.35h-1.35zM326.4 543.9h1.35v1.35h-1.35zM328.4 514.9h1.35v1.35h-1.35zM326.2 519.9h1.35v1.35h-1.35zM321.8 523.8h1.35v1.35h-1.35zM328.6 514.2h1.35v1.35h-1.35zM322.9 516.5h1.35v1.35h-1.35zM328.7 529.1h1.35v1.35h-1.35zM325.7 530.0h1.35v1.35h-1.35zM326.3 523.7h1.35v1.35h-1.35zM322.7 537.7h1.35v1.35h-1.35zM325.7 542.6h1.35v1.35h-1.35zM321.7 541.2h1.35v1.35h-1.35zM326.0 531.8h1.35v1.35h-1.35zM322.7 531.6h1.35v1.35h-1.35zM319.3 515.4h1.35v1.35h-1.35zM321.7 516.3h1.35v1.35h-1.35zM319.0 536.7h1.35v1.35h-1.35zM326.0 533.3h1.35v1.35h-1.35zM320.6 536.9h1.35v1.35h-1.35zM326.9 533.4h1.35v1.35h-1.35zM320.8 531.5h1.35v1.35h-1.35zM322.5 521.3h1.35v1.35h-1.35zM320.0 541.8h1.35v1.35h-1.35zM325.0 544.1h1.35v1.35h-1.35zM320.3 521.2h1.35v1.35h-1.35zM323.7 514.1h1.35v1.35h-1.35zM321.6 530.7h1.35v1.35h-1.35zM323.4 543.3h1.35v1.35h-1.35zM324.4 534.0h1.35v1.35h-1.35zM324.5 539.1h1.35v1.35h-1.35zM322.2 512.1h1.35v1.35h-1.35zM328.5 539.3h1.35v1.35h-1.35zM319.8 515.9h1.35v1.35h-1.35zM320.8 534.7h1.35v1.35h-1.35zM319.8 512.8h1.35v1.35h-1.35zM323.6 512.3h1.35v1.35h-1.35zM321.1 525.2h1.35v1.35h-1.35zM320.6 512.2h1.35v1.35h-1.35zM321.2 520.5h1.35v1.35h-1.35zM321.8 526.3h1.35v1.35h-1.35zM322.2 523.2h1.35v1.35h-1.35zM318.7 540.9h1.35v1.35h-1.35zM326.0 529.0h1.35v1.35h-1.35zM318.5 520.1h1.35v1.35h-1.35zM327.7 527.8h1.35v1.35h-1.35zM320.6 540.3h1.35v1.35h-1.35zM327.6 516.3h1.35v1.35h-1.35zM323.6 531.4h1.35v1.35h-1.35zM319.7 523.1h1.35v1.35h-1.35zM324.8 535.2h1.35v1.35h-1.35zM324.9 533.4h1.35v1.35h-1.35zM322.4 514.5h1.35v1.35h-1.35zM318.7 540.9h1.35v1.35h-1.35zM327.3 543.2h1.35v1.35h-1.35zM319.3 538.5h1.35v1.35h-1.35zM320.3 524.0h1.35v1.35h-1.35zM320.5 541.6h1.35v1.35h-1.35zM326.9 540.7h1.35v1.35h-1.35zM322.4 544.3h1.35v1.35h-1.35zM321.2 531.8h1.35v1.35h-1.35zM325.4 520.1h1.35v1.35h-1.35zM322.4 515.5h1.35v1.35h-1.35zM326.6 518.4h1.35v1.35h-1.35zM319.9 521.6h1.35v1.35h-1.35zM325.0 534.0h1.35v1.35h-1.35zM323.9 541.4h1.35v1.35h-1.35zM326.2 519.3h1.35v1.35h-1.35zM324.0 517.9h1.35v1.35h-1.35zM321.0 517.1h1.35v1.35h-1.35zM319.3 524.1h1.35v1.35h-1.35zM327.6 534.6h1.35v1.35h-1.35zM319.4 519.6h1.35v1.35h-1.35zM324.5 530.3h1.35v1.35h-1.35zM318.8 515.3h1.35v1.35h-1.35zM333.8 532.8h1.35v1.35h-1.35zM328.9 538.6h1.35v1.35h-1.35zM329.8 532.3h1.35v1.35h-1.35zM333.2 523.8h1.35v1.35h-1.35zM341.6 525.7h1.35v1.35h-1.35zM331.7 530.7h1.35v1.35h-1.35zM339.1 546.0h1.35v1.35h-1.35zM337.6 530.6h1.35v1.35h-1.35zM336.5 534.0h1.35v1.35h-1.35zM341.9 545.4h1.35v1.35h-1.35zM337.4 519.5h1.35v1.35h-1.35zM333.9 527.2h1.35v1.35h-1.35zM329.7 538.9h1.35v1.35h-1.35zM329.7 536.5h1.35v1.35h-1.35zM332.6 526.8h1.35v1.35h-1.35zM336.3 537.0h1.35v1.35h-1.35zM342.6 546.4h1.35v1.35h-1.35zM338.2 521.2h1.35v1.35h-1.35zM335.6 529.1h1.35v1.35h-1.35zM341.4 527.5h1.35v1.35h-1.35zM330.9 513.0h1.35v1.35h-1.35zM332.4 530.4h1.35v1.35h-1.35zM330.4 515.7h1.35v1.35h-1.35zM332.6 514.5h1.35v1.35h-1.35zM329.3 527.4h1.35v1.35h-1.35zM330.8 529.3h1.35v1.35h-1.35zM333.2 525.4h1.35v1.35h-1.35zM329.1 512.7h1.35v1.35h-1.35zM333.7 545.4h1.35v1.35h-1.35zM330.2 524.2h1.35v1.35h-1.35zM330.5 537.6h1.35v1.35h-1.35zM332.7 539.4h1.35v1.35h-1.35zM328.7 516.7h1.35v1.35h-1.35zM329.6 524.8h1.35v1.35h-1.35zM331.4 525.3h1.35v1.35h-1.35zM342.0 527.2h1.35v1.35h-1.35zM334.0 545.2h1.35v1.35h-1.35zM335.1 532.5h1.35v1.35h-1.35zM338.8 523.6h1.35v1.35h-1.35zM328.8 545.0h1.35v1.35h-1.35zM333.3 532.1h1.35v1.35h-1.35zM328.8 537.7h1.35v1.35h-1.35zM331.1 534.2h1.35v1.35h-1.35zM330.2 543.6h1.35v1.35h-1.35zM331.1 521.6h1.35v1.35h-1.35zM340.3 519.7h1.35v1.35h-1.35zM330.1 528.8h1.35v1.35h-1.35zM342.4 516.1h1.35v1.35h-1.35zM329.6 539.4h1.35v1.35h-1.35zM328.9 526.3h1.35v1.35h-1.35zM337.8 536.6h1.35v1.35h-1.35zM338.1 516.1h1.35v1.35h-1.35zM340.2 524.4h1.35v1.35h-1.35zM338.5 528.3h1.35v1.35h-1.35zM340.2 528.5h1.35v1.35h-1.35zM330.0 517.3h1.35v1.35h-1.35zM332.7 513.8h1.35v1.35h-1.35zM329.3 542.1h1.35v1.35h-1.35zM333.9 541.7h1.35v1.35h-1.35zM329.2 528.6h1.35v1.35h-1.35zM332.3 515.8h1.35v1.35h-1.35zM330.0 543.8h1.35v1.35h-1.35zM336.6 529.6h1.35v1.35h-1.35zM334.5 541.7h1.35v1.35h-1.35zM341.7 532.5h1.35v1.35h-1.35zM328.8 542.0h1.35v1.35h-1.35zM329.3 520.3h1.35v1.35h-1.35zM329.1 529.7h1.35v1.35h-1.35zM334.1 527.9h1.35v1.35h-1.35zM332.4 516.9h1.35v1.35h-1.35zM336.5 530.6h1.35v1.35h-1.35zM330.4 540.7h1.35v1.35h-1.35zM341.4 543.8h1.35v1.35h-1.35zM342.5 514.5h1.35v1.35h-1.35zM331.3 527.6h1.35v1.35h-1.35zM330.0 537.6h1.35v1.35h-1.35zM340.6 516.9h1.35v1.35h-1.35zM332.9 545.3h1.35v1.35h-1.35zM340.2 527.6h1.35v1.35h-1.35zM329.0 527.8h1.35v1.35h-1.35zM333.1 539.1h1.35v1.35h-1.35zM329.4 521.7h1.35v1.35h-1.35zM342.5 512.5h1.35v1.35h-1.35zM334.6 515.4h1.35v1.35h-1.35zM337.2 526.6h1.35v1.35h-1.35zM341.0 519.8h1.35v1.35h-1.35zM339.9 519.9h1.35v1.35h-1.35zM328.8 515.1h1.35v1.35h-1.35zM328.9 525.4h1.35v1.35h-1.35zM342.2 524.3h1.35v1.35h-1.35zM336.5 513.3h1.35v1.35h-1.35zM333.0 530.6h1.35v1.35h-1.35zM328.9 532.0h1.35v1.35h-1.35zM332.0 523.3h1.35v1.35h-1.35zM338.9 535.8h1.35v1.35h-1.35zM329.0 515.7h1.35v1.35h-1.35zM328.8 521.1h1.35v1.35h-1.35zM335.0 545.4h1.35v1.35h-1.35zM342.1 541.8h1.35v1.35h-1.35zM329.1 539.3h1.35v1.35h-1.35zM337.4 528.3h1.35v1.35h-1.35zM342.8 532.7h1.35v1.35h-1.35zM329.0 519.5h1.35v1.35h-1.35zM329.1 533.1h1.35v1.35h-1.35zM334.8 541.6h1.35v1.35h-1.35zM328.7 512.4h1.35v1.35h-1.35zM342.2 521.1h1.35v1.35h-1.35zM330.0 541.9h1.35v1.35h-1.35zM329.0 539.3h1.35v1.35h-1.35zM340.4 531.4h1.35v1.35h-1.35zM334.5 512.3h1.35v1.35h-1.35zM334.5 533.2h1.35v1.35h-1.35zM337.6 529.9h1.35v1.35h-1.35zM329.0 519.7h1.35v1.35h-1.35zM335.3 514.8h1.35v1.35h-1.35zM329.0 520.7h1.35v1.35h-1.35zM338.1 530.9h1.35v1.35h-1.35zM330.9 545.2h1.35v1.35h-1.35zM334.1 520.3h1.35v1.35h-1.35zM333.8 541.5h1.35v1.35h-1.35zM331.1 527.0h1.35v1.35h-1.35zM334.0 546.0h1.35v1.35h-1.35zM335.0 518.3h1.35v1.35h-1.35zM334.1 523.1h1.35v1.35h-1.35zM332.4 536.6h1.35v1.35h-1.35zM328.7 529.5h1.35v1.35h-1.35zM330.5 532.7h1.35v1.35h-1.35zM338.7 528.2h1.35v1.35h-1.35zM334.9 522.0h1.35v1.35h-1.35zM329.9 529.6h1.35v1.35h-1.35zM333.3 519.8h1.35v1.35h-1.35zM337.5 529.3h1.35v1.35h-1.35zM330.9 520.8h1.35v1.35h-1.35zM339.0 543.1h1.35v1.35h-1.35zM341.4 520.6h1.35v1.35h-1.35zM328.8 533.8h1.35v1.35h-1.35zM328.7 541.5h1.35v1.35h-1.35zM335.8 523.7h1.35v1.35h-1.35zM332.0 535.6h1.35v1.35h-1.35zM329.3 524.6h1.35v1.35h-1.35zM337.9 535.5h1.35v1.35h-1.35zM334.1 515.6h1.35v1.35h-1.35zM329.6 520.9h1.35v1.35h-1.35zM328.8 534.1h1.35v1.35h-1.35zM333.9 543.8h1.35v1.35h-1.35zM333.6 543.6h1.35v1.35h-1.35zM332.3 529.9h1.35v1.35h-1.35zM330.2 528.0h1.35v1.35h-1.35zM341.3 528.9h1.35v1.35h-1.35zM328.7 524.2h1.35v1.35h-1.35zM329.5 533.5h1.35v1.35h-1.35zM332.9 528.4h1.35v1.35h-1.35zM341.1 538.3h1.35v1.35h-1.35zM328.9 513.2h1.35v1.35h-1.35zM336.2 532.6h1.35v1.35h-1.35zM335.3 529.3h1.35v1.35h-1.35zM328.8 527.6h1.35v1.35h-1.35zM339.0 532.8h1.35v1.35h-1.35zM328.8 516.4h1.35v1.35h-1.35zM340.6 530.8h1.35v1.35h-1.35zM329.3 536.4h1.35v1.35h-1.35zM341.0 541.8h1.35v1.35h-1.35zM335.2 539.8h1.35v1.35h-1.35zM328.9 528.0h1.35v1.35h-1.35zM338.4 523.8h1.35v1.35h-1.35zM329.2 541.8h1.35v1.35h-1.35zM336.3 512.4h1.35v1.35h-1.35zM328.8 531.2h1.35v1.35h-1.35zM341.7 533.3h1.35v1.35h-1.35zM339.9 515.7h1.35v1.35h-1.35zM334.0 518.3h1.35v1.35h-1.35zM330.7 517.2h1.35v1.35h-1.35zM332.3 513.7h1.35v1.35h-1.35zM335.4 534.3h1.35v1.35h-1.35zM340.6 538.5h1.35v1.35h-1.35zM328.9 541.9h1.35v1.35h-1.35zM333.4 544.3h1.35v1.35h-1.35zM332.7 514.9h1.35v1.35h-1.35zM336.3 518.1h1.35v1.35h-1.35zM342.5 530.6h1.35v1.35h-1.35zM340.5 529.0h1.35v1.35h-1.35zM330.6 534.8h1.35v1.35h-1.35zM336.4 527.9h1.35v1.35h-1.35zM330.1 526.5h1.35v1.35h-1.35zM336.5 519.9h1.35v1.35h-1.35zM329.2 528.7h1.35v1.35h-1.35zM335.4 514.4h1.35v1.35h-1.35zM330.1 545.5h1.35v1.35h-1.35zM330.0 538.6h1.35v1.35h-1.35zM330.4 515.0h1.35v1.35h-1.35zM332.6 542.0h1.35v1.35h-1.35zM337.7 513.8h1.35v1.35h-1.35zM336.2 533.4h1.35v1.35h-1.35zM332.5 534.9h1.35v1.35h-1.35zM333.1 518.4h1.35v1.35h-1.35zM336.1 516.5h1.35v1.35h-1.35zM330.4 541.4h1.35v1.35h-1.35zM333.8 529.7h1.35v1.35h-1.35zM336.4 529.0h1.35v1.35h-1.35zM331.3 531.1h1.35v1.35h-1.35zM328.7 524.2h1.35v1.35h-1.35zM328.8 546.3h1.35v1.35h-1.35zM340.6 534.6h1.35v1.35h-1.35zM329.2 541.5h1.35v1.35h-1.35zM330.2 539.7h1.35v1.35h-1.35zM335.3 532.9h1.35v1.35h-1.35zM337.0 521.3h1.35v1.35h-1.35zM338.9 530.7h1.35v1.35h-1.35zM337.3 540.9h1.35v1.35h-1.35zM329.9 526.2h1.35v1.35h-1.35zM331.0 514.7h1.35v1.35h-1.35zM339.9 535.7h1.35v1.35h-1.35zM332.6 530.8h1.35v1.35h-1.35zM340.0 514.5h1.35v1.35h-1.35zM331.0 535.7h1.35v1.35h-1.35zM333.3 529.2h1.35v1.35h-1.35zM330.0 519.8h1.35v1.35h-1.35zM335.6 523.8h1.35v1.35h-1.35zM341.3 543.1h1.35v1.35h-1.35zM342.1 521.6h1.35v1.35h-1.35zM333.0 515.7h1.35v1.35h-1.35zM331.0 514.7h1.35v1.35h-1.35zM332.8 545.0h1.35v1.35h-1.35zM337.4 524.6h1.35v1.35h-1.35zM330.1 544.1h1.35v1.35h-1.35zM328.8 541.1h1.35v1.35h-1.35zM339.4 514.5h1.35v1.35h-1.35zM341.7 534.3h1.35v1.35h-1.35zM331.3 526.7h1.35v1.35h-1.35zM334.5 530.2h1.35v1.35h-1.35zM339.7 542.9h1.35v1.35h-1.35zM330.6 512.4h1.35v1.35h-1.35zM337.8 534.3h1.35v1.35h-1.35zM335.3 514.7h1.35v1.35h-1.35zM328.9 543.0h1.35v1.35h-1.35zM331.0 528.3h1.35v1.35h-1.35zM342.2 518.8h1.35v1.35h-1.35zM335.0 514.2h1.35v1.35h-1.35zM333.7 537.5h1.35v1.35h-1.35zM329.2 538.2h1.35v1.35h-1.35zM342.1 540.5h1.35v1.35h-1.35zM338.0 544.6h1.35v1.35h-1.35zM336.5 530.9h1.35v1.35h-1.35zM338.7 539.8h1.35v1.35h-1.35zM334.9 535.1h1.35v1.35h-1.35zM329.4 523.7h1.35v1.35h-1.35zM330.6 541.6h1.35v1.35h-1.35zM337.8 522.1h1.35v1.35h-1.35zM342.7 514.1h1.35v1.35h-1.35zM328.8 523.4h1.35v1.35h-1.35zM328.9 544.7h1.35v1.35h-1.35zM331.0 525.4h1.35v1.35h-1.35zM339.4 530.4h1.35v1.35h-1.35zM334.9 527.2h1.35v1.35h-1.35zM332.2 545.0h1.35v1.35h-1.35zM330.1 530.1h1.35v1.35h-1.35zM332.5 516.9h1.35v1.35h-1.35zM329.2 529.5h1.35v1.35h-1.35zM338.2 526.9h1.35v1.35h-1.35zM328.8 544.2h1.35v1.35h-1.35zM329.1 542.5h1.35v1.35h-1.35zM328.8 534.4h1.35v1.35h-1.35zM329.2 521.0h1.35v1.35h-1.35zM331.7 538.0h1.35v1.35h-1.35zM331.9 526.5h1.35v1.35h-1.35zM331.5 530.0h1.35v1.35h-1.35zM330.2 544.8h1.35v1.35h-1.35zM329.4 516.7h1.35v1.35h-1.35zM333.5 524.2h1.35v1.35h-1.35zM336.6 513.5h1.35v1.35h-1.35zM335.7 524.6h1.35v1.35h-1.35zM341.1 522.4h1.35v1.35h-1.35zM331.9 523.0h1.35v1.35h-1.35zM333.3 521.8h1.35v1.35h-1.35zM335.6 526.2h1.35v1.35h-1.35zM336.3 522.1h1.35v1.35h-1.35zM332.2 531.2h1.35v1.35h-1.35zM336.5 534.5h1.35v1.35h-1.35zM331.8 515.1h1.35v1.35h-1.35zM329.0 517.1h1.35v1.35h-1.35zM329.4 518.4h1.35v1.35h-1.35zM335.5 523.8h1.35v1.35h-1.35zM340.6 520.1h1.35v1.35h-1.35zM329.9 518.4h1.35v1.35h-1.35zM329.2 535.5h1.35v1.35h-1.35zM334.0 520.7h1.35v1.35h-1.35zM338.4 535.3h1.35v1.35h-1.35zM331.8 533.0h1.35v1.35h-1.35zM335.4 527.2h1.35v1.35h-1.35zM328.9 524.6h1.35v1.35h-1.35zM341.5 524.9h1.35v1.35h-1.35zM335.1 515.1h1.35v1.35h-1.35zM337.7 541.8h1.35v1.35h-1.35zM331.1 524.9h1.35v1.35h-1.35zM333.0 520.8h1.35v1.35h-1.35zM329.6 516.5h1.35v1.35h-1.35zM335.9 529.6h1.35v1.35h-1.35zM341.8 545.2h1.35v1.35h-1.35zM339.8 544.5h1.35v1.35h-1.35zM339.0 512.9h1.35v1.35h-1.35zM329.1 545.6h1.35v1.35h-1.35zM339.8 533.3h1.35v1.35h-1.35zM334.7 527.1h1.35v1.35h-1.35zM331.8 517.1h1.35v1.35h-1.35zM333.5 521.5h1.35v1.35h-1.35zM329.0 542.0h1.35v1.35h-1.35zM334.0 542.2h1.35v1.35h-1.35zM330.3 531.9h1.35v1.35h-1.35zM330.1 540.6h1.35v1.35h-1.35zM329.6 534.3h1.35v1.35h-1.35zM333.6 523.3h1.35v1.35h-1.35zM328.9 528.8h1.35v1.35h-1.35zM333.1 540.2h1.35v1.35h-1.35zM329.5 518.5h1.35v1.35h-1.35zM330.4 539.7h1.35v1.35h-1.35zM329.7 533.9h1.35v1.35h-1.35zM328.8 514.9h1.35v1.35h-1.35zM336.3 529.2h1.35v1.35h-1.35zM329.0 528.3h1.35v1.35h-1.35zM341.4 525.5h1.35v1.35h-1.35zM333.7 526.5h1.35v1.35h-1.35zM332.9 513.6h1.35v1.35h-1.35zM340.0 532.0h1.35v1.35h-1.35zM330.8 521.9h1.35v1.35h-1.35zM329.4 544.2h1.35v1.35h-1.35zM339.1 525.1h1.35v1.35h-1.35zM334.4 531.1h1.35v1.35h-1.35zM329.5 513.2h1.35v1.35h-1.35zM336.9 517.7h1.35v1.35h-1.35zM333.8 512.7h1.35v1.35h-1.35zM328.7 517.7h1.35v1.35h-1.35zM335.3 533.1h1.35v1.35h-1.35zM342.7 534.8h1.35v1.35h-1.35zM333.1 512.6h1.35v1.35h-1.35zM341.8 528.9h1.35v1.35h-1.35zM339.5 513.5h1.35v1.35h-1.35zM339.0 528.4h1.35v1.35h-1.35zM329.6 526.0h1.35v1.35h-1.35zM328.9 532.1h1.35v1.35h-1.35zM329.6 536.2h1.35v1.35h-1.35zM329.3 535.8h1.35v1.35h-1.35zM334.7 536.5h1.35v1.35h-1.35zM341.7 522.2h1.35v1.35h-1.35zM335.9 525.7h1.35v1.35h-1.35zM340.3 540.4h1.35v1.35h-1.35zM337.4 532.7h1.35v1.35h-1.35zM330.0 543.3h1.35v1.35h-1.35zM342.1 544.7h1.35v1.35h-1.35zM330.7 540.3h1.35v1.35h-1.35zM335.8 540.9h1.35v1.35h-1.35zM359.3 527.7h1.35v1.35h-1.35zM351.0 539.4h1.35v1.35h-1.35zM356.3 530.6h1.35v1.35h-1.35zM360.8 513.2h1.35v1.35h-1.35zM343.2 528.1h1.35v1.35h-1.35zM344.9 541.0h1.35v1.35h-1.35zM344.7 542.4h1.35v1.35h-1.35zM347.5 516.7h1.35v1.35h-1.35zM358.3 535.4h1.35v1.35h-1.35zM351.3 532.6h1.35v1.35h-1.35zM354.2 544.7h1.35v1.35h-1.35zM353.3 530.6h1.35v1.35h-1.35zM352.3 526.2h1.35v1.35h-1.35zM357.0 515.9h1.35v1.35h-1.35zM357.1 544.0h1.35v1.35h-1.35zM358.5 530.8h1.35v1.35h-1.35zM350.1 515.5h1.35v1.35h-1.35zM344.8 530.6h1.35v1.35h-1.35zM360.9 541.9h1.35v1.35h-1.35zM346.6 537.8h1.35v1.35h-1.35zM405.1 528.6h1.35v1.35h-1.35zM407.8 518.5h1.35v1.35h-1.35zM388.2 529.8h1.35v1.35h-1.35zM401.6 527.5h1.35v1.35h-1.35zM386.9 541.9h1.35v1.35h-1.35zM390.2 526.5h1.35v1.35h-1.35zM383.6 528.7h1.35v1.35h-1.35zM400.7 524.5h1.35v1.35h-1.35zM399.0 529.0h1.35v1.35h-1.35zM368.0 545.2h1.35v1.35h-1.35zM386.4 530.8h1.35v1.35h-1.35zM415.3 519.2h1.35v1.35h-1.35zM374.2 519.2h1.35v1.35h-1.35zM380.1 541.3h1.35v1.35h-1.35zM394.2 513.5h1.35v1.35h-1.35zM385.7 529.7h1.35v1.35h-1.35zM381.2 522.6h1.35v1.35h-1.35zM410.7 527.4h1.35v1.35h-1.35zM384.0 532.6h1.35v1.35h-1.35zM377.7 530.0h1.35v1.35h-1.35zM398.5 515.1h1.35v1.35h-1.35zM395.2 522.7h1.35v1.35h-1.35zM402.3 533.3h1.35v1.35h-1.35zM411.1 533.0h1.35v1.35h-1.35zM381.7 518.5h1.35v1.35h-1.35zM400.6 539.9h1.35v1.35h-1.35zM374.1 526.4h1.35v1.35h-1.35zM386.1 528.2h1.35v1.35h-1.35zM408.6 531.3h1.35v1.35h-1.35zM402.3 538.4h1.35v1.35h-1.35zM385.9 533.4h1.35v1.35h-1.35zM389.6 528.4h1.35v1.35h-1.35zM394.6 535.0h1.35v1.35h-1.35zM380.9 540.9h1.35v1.35h-1.35zM380.5 522.9h1.35v1.35h-1.35zM407.3 545.9h1.35v1.35h-1.35zM389.3 544.8h1.35v1.35h-1.35zM371.6 544.9h1.35v1.35h-1.35zM382.6 513.3h1.35v1.35h-1.35zM403.0 517.6h1.35v1.35h-1.35zM402.6 512.3h1.35v1.35h-1.35zM378.4 524.4h1.35v1.35h-1.35zM375.8 528.3h1.35v1.35h-1.35zM388.6 537.5h1.35v1.35h-1.35zM393.4 545.3h1.35v1.35h-1.35zM407.0 518.0h1.35v1.35h-1.35zM411.6 542.8h1.35v1.35h-1.35zM395.7 530.2h1.35v1.35h-1.35zM381.0 523.1h1.35v1.35h-1.35zM383.5 518.8h1.35v1.35h-1.35zM397.3 523.2h1.35v1.35h-1.35zM403.3 531.8h1.35v1.35h-1.35zM406.1 515.1h1.35v1.35h-1.35zM407.2 529.5h1.35v1.35h-1.35zM398.0 520.3h1.35v1.35h-1.35zM400.3 526.0h1.35v1.35h-1.35zM401.3 532.2h1.35v1.35h-1.35zM379.4 522.4h1.35v1.35h-1.35zM402.6 512.6h1.35v1.35h-1.35zM398.0 530.8h1.35v1.35h-1.35zM401.1 523.4h1.35v1.35h-1.35zM392.9 528.5h1.35v1.35h-1.35zM402.5 514.6h1.35v1.35h-1.35zM394.0 521.0h1.35v1.35h-1.35zM396.5 521.0h1.35v1.35h-1.35zM382.8 520.1h1.35v1.35h-1.35zM410.1 524.6h1.35v1.35h-1.35zM409.1 537.4h1.35v1.35h-1.35zM385.6 531.1h1.35v1.35h-1.35zM367.4 544.1h1.35v1.35h-1.35zM397.9 516.0h1.35v1.35h-1.35zM394.2 529.1h1.35v1.35h-1.35zM399.4 522.0h1.35v1.35h-1.35zM411.1 533.5h1.35v1.35h-1.35zM374.9 540.2h1.35v1.35h-1.35zM409.4 522.6h1.35v1.35h-1.35zM400.9 541.6h1.35v1.35h-1.35zM409.2 514.5h1.35v1.35h-1.35zM406.6 520.6h1.35v1.35h-1.35zM404.9 535.7h1.35v1.35h-1.35zM392.6 543.1h1.35v1.35h-1.35zM404.9 546.3h1.35v1.35h-1.35zM415.2 531.8h1.35v1.35h-1.35zM401.9 535.1h1.35v1.35h-1.35zM390.5 529.2h1.35v1.35h-1.35zM393.9 519.5h1.35v1.35h-1.35zM385.2 541.1h1.35v1.35h-1.35zM407.1 536.1h1.35v1.35h-1.35zM400.0 529.6h1.35v1.35h-1.35zM396.0 535.0h1.35v1.35h-1.35zM367.0 527.3h1.35v1.35h-1.35zM416.5 519.2h1.35v1.35h-1.35zM392.7 514.8h1.35v1.35h-1.35zM385.0 540.4h1.35v1.35h-1.35zM371.1 539.5h1.35v1.35h-1.35zM404.7 541.9h1.35v1.35h-1.35zM385.1 544.1h1.35v1.35h-1.35zM389.5 527.6h1.35v1.35h-1.35zM414.4 530.8h1.35v1.35h-1.35zM399.7 515.9h1.35v1.35h-1.35zM366.3 521.2h1.35v1.35h-1.35zM377.3 540.4h1.35v1.35h-1.35zM384.8 545.0h1.35v1.35h-1.35zM399.7 518.7h1.35v1.35h-1.35zM400.9 523.0h1.35v1.35h-1.35zM394.5 514.7h1.35v1.35h-1.35zM406.4 539.1h1.35v1.35h-1.35zM396.2 535.8h1.35v1.35h-1.35zM388.3 516.5h1.35v1.35h-1.35zM387.8 537.5h1.35v1.35h-1.35zM395.6 516.7h1.35v1.35h-1.35zM384.4 528.4h1.35v1.35h-1.35zM368.5 513.6h1.35v1.35h-1.35zM392.1 516.7h1.35v1.35h-1.35zM409.7 516.5h1.35v1.35h-1.35zM402.5 539.4h1.35v1.35h-1.35zM387.4 530.7h1.35v1.35h-1.35zM420.1 533.3h1.35v1.35h-1.35zM390.0 545.6h1.35v1.35h-1.35zM385.2 544.9h1.35v1.35h-1.35zM387.2 526.6h1.35v1.35h-1.35zM387.4 534.5h1.35v1.35h-1.35zM409.3 535.8h1.35v1.35h-1.35zM381.6 546.1h1.35v1.35h-1.35zM401.4 529.5h1.35v1.35h-1.35zM407.3 515.8h1.35v1.35h-1.35zM396.8 539.1h1.35v1.35h-1.35zM403.7 535.2h1.35v1.35h-1.35zM374.1 528.5h1.35v1.35h-1.35zM385.6 533.0h1.35v1.35h-1.35zM390.3 527.8h1.35v1.35h-1.35zM394.8 532.3h1.35v1.35h-1.35zM409.8 521.8h1.35v1.35h-1.35zM385.8 518.4h1.35v1.35h-1.35zM377.7 541.3h1.35v1.35h-1.35zM411.8 516.4h1.35v1.35h-1.35zM389.1 543.2h1.35v1.35h-1.35zM408.1 545.7h1.35v1.35h-1.35zM420.2 522.5h1.35v1.35h-1.35zM374.4 520.7h1.35v1.35h-1.35zM393.7 512.6h1.35v1.35h-1.35zM384.9 528.3h1.35v1.35h-1.35zM399.8 517.4h1.35v1.35h-1.35zM378.4 523.4h1.35v1.35h-1.35zM376.3 516.3h1.35v1.35h-1.35zM377.1 539.6h1.35v1.35h-1.35zM409.1 513.6h1.35v1.35h-1.35zM405.0 541.1h1.35v1.35h-1.35zM398.6 522.4h1.35v1.35h-1.35zM405.8 514.9h1.35v1.35h-1.35zM372.6 544.9h1.35v1.35h-1.35zM383.5 543.5h1.35v1.35h-1.35zM402.7 513.7h1.35v1.35h-1.35zM376.5 534.3h1.35v1.35h-1.35zM379.7 535.0h1.35v1.35h-1.35zM399.4 520.1h1.35v1.35h-1.35zM392.9 519.4h1.35v1.35h-1.35zM408.6 533.8h1.35v1.35h-1.35zM400.1 533.5h1.35v1.35h-1.35zM373.9 542.5h1.35v1.35h-1.35zM403.8 529.8h1.35v1.35h-1.35zM396.5 529.0h1.35v1.35h-1.35zM402.8 530.4h1.35v1.35h-1.35zM385.9 529.8h1.35v1.35h-1.35zM383.2 512.3h1.35v1.35h-1.35zM394.3 542.0h1.35v1.35h-1.35zM401.3 519.3h1.35v1.35h-1.35zM393.9 532.1h1.35v1.35h-1.35zM396.2 527.9h1.35v1.35h-1.35zM393.9 535.7h1.35v1.35h-1.35zM409.2 529.8h1.35v1.35h-1.35zM404.0 535.5h1.35v1.35h-1.35zM378.2 521.0h1.35v1.35h-1.35zM387.3 524.3h1.35v1.35h-1.35zM393.4 522.2h1.35v1.35h-1.35zM422.0 537.3h1.35v1.35h-1.35zM389.5 536.1h1.35v1.35h-1.35zM412.2 517.6h1.35v1.35h-1.35zM397.9 545.0h1.35v1.35h-1.35zM389.6 542.2h1.35v1.35h-1.35zM405.0 523.1h1.35v1.35h-1.35zM379.6 539.8h1.35v1.35h-1.35zM391.0 524.1h1.35v1.35h-1.35zM392.5 537.1h1.35v1.35h-1.35zM410.0 543.6h1.35v1.35h-1.35zM403.2 518.1h1.35v1.35h-1.35zM389.4 512.3h1.35v1.35h-1.35zM382.5 523.8h1.35v1.35h-1.35zM381.4 528.5h1.35v1.35h-1.35zM378.9 534.5h1.35v1.35h-1.35zM388.3 520.6h1.35v1.35h-1.35zM404.9 523.4h1.35v1.35h-1.35zM364.8 540.9h1.35v1.35h-1.35zM409.1 542.3h1.35v1.35h-1.35zM381.2 521.2h1.35v1.35h-1.35zM405.6 517.1h1.35v1.35h-1.35zM421.9 534.5h1.35v1.35h-1.35zM396.6 513.9h1.35v1.35h-1.35zM380.5 526.6h1.35v1.35h-1.35zM422.8 517.1h1.35v1.35h-1.35zM399.2 514.8h1.35v1.35h-1.35zM422.2 537.8h1.35v1.35h-1.35zM412.6 537.8h1.35v1.35h-1.35zM374.2 520.4h1.35v1.35h-1.35zM365.7 531.0h1.35v1.35h-1.35zM368.3 518.6h1.35v1.35h-1.35zM373.9 543.7h1.35v1.35h-1.35zM411.2 521.9h1.35v1.35h-1.35zM422.2 517.6h1.35v1.35h-1.35zM371.9 525.2h1.35v1.35h-1.35zM412.2 515.5h1.35v1.35h-1.35zM411.2 530.8h1.35v1.35h-1.35zM411.7 523.7h1.35v1.35h-1.35zM365.9 515.5h1.35v1.35h-1.35zM407.2 529.5h1.35v1.35h-1.35z" fill="#d93a4e"/>
<rect x="304" y="467" width="15" height="42.4" fill="#1258cc"/>
<rect x="304" y="509.4" width="15" height="42.1" fill="#42a2d8"/>
<path d="M174.7 555.4H455.6" stroke="#555" stroke-width="1"/>
<path d="M232.6 555.4V558" stroke="#555" stroke-width="0.8"/>
<text style="stroke:#333" x="232.6" y="566.3" font-size="8.6" text-anchor="middle" fill="#333">-10</text>
<path d="M311.3 555.4V558" stroke="#555" stroke-width="0.8"/>
<text style="stroke:#333" x="311.3" y="566.3" font-size="8.6" text-anchor="middle" fill="#333">0</text>
<path d="M390.0 555.4V558" stroke="#555" stroke-width="0.8"/>
<text style="stroke:#333" x="390.0" y="566.3" font-size="8.6" text-anchor="middle" fill="#333">10</text>
<text x="262.7" y="578.1" font-size="9.4">Average <tspan font-family="Liberation Serif">log</tspan>2FoldChange</text>
<text transform="translate(179.4,503.7) rotate(-90)" font-size="8.8" text-anchor="middle">Clusters</text>
<circle cx="449" cy="483.2" r="2.6" fill="#3b8cc6"/>
<text x="455.8" y="486.7" font-size="9.1">Down</text>
<circle cx="449" cy="494.9" r="2.6" fill="#d93a4e"/>
<text x="455.8" y="497.8" font-size="9.1">Up</text>
<rect x="519.60" y="451.00" width="15.31" height="7.28" fill="#4a86c8"/>
<rect x="534.61" y="451.00" width="15.31" height="7.28" fill="#4a86c8"/>
<rect x="549.62" y="451.00" width="15.31" height="7.28" fill="#4a86c8"/>
<rect x="564.63" y="451.00" width="15.31" height="7.28" fill="#f2b8c0"/>
<rect x="579.64" y="451.00" width="15.31" height="7.28" fill="#fbe8ea"/>
<rect x="594.65" y="451.00" width="15.31" height="7.28" fill="#8ab4dc"/>
<rect x="609.66" y="451.00" width="15.31" height="7.28" fill="#f3b8c0"/>
<rect x="624.67" y="451.00" width="15.31" height="7.28" fill="#f8d8dc"/>
<rect x="639.68" y="451.00" width="15.31" height="7.28" fill="#e4ecf6"/>
<rect x="519.60" y="457.98" width="15.31" height="7.28" fill="#4a86c8"/>
<rect x="534.61" y="457.98" width="15.31" height="7.28" fill="#4a86c8"/>
<rect x="549.62" y="457.98" width="15.31" height="7.28" fill="#4a86c8"/>
<rect x="564.63" y="457.98" width="15.31" height="7.28" fill="#f4c0c6"/>
<rect x="579.64" y="457.98" width="15.31" height="7.28" fill="#fdf6f6"/>
<rect x="594.65" y="457.98" width="15.31" height="7.28" fill="#8ab4dc"/>
<rect x="609.66" y="457.98" width="15.31" height="7.28" fill="#f3b8c0"/>
<rect x="624.67" y="457.98" width="15.31" height="7.28" fill="#f8d8dc"/>
<rect x="639.68" y="457.98" width="15.31" height="7.28" fill="#e4ecf6"/>
<rect x="519.60" y="464.96" width="15.31" height="7.28" fill="#4a86c8"/>
<rect x="534.61" y="464.96" width="15.31" height="7.28" fill="#5590cc"/>
<rect x="549.62" y="464.96" width="15.31" height="7.28" fill="#3e7fc4"/>
<rect x="564.63" y="464.96" width="15.31" height="7.28" fill="#f0a8b4"/>
<rect x="579.64" y="464.96" width="15.31" height="7.28" fill="#ffffff"/>
<rect x="594.65" y="464.96" width="15.31" height="7.28" fill="#8ab4dc"/>
<rect x="609.66" y="464.96" width="15.31" height="7.28" fill="#f3b8c0"/>
<rect x="624.67" y="464.96" width="15.31" height="7.28" fill="#f8d8dc"/>
<rect x="639.68" y="464.96" width="15.31" height="7.28" fill="#d8e4f2"/>
<rect x="519.60" y="471.94" width="15.31" height="7.28" fill="#4a86c8"/>
<rect x="534.61" y="471.94" width="15.31" height="7.28" fill="#5590cc"/>
<rect x="549.62" y="471.94" width="15.31" height="7.28" fill="#4080c4"/>
<rect x="564.63" y="471.94" width="15.31" height="7.28" fill="#f0a8b4"/>
<rect x="579.64" y="471.94" width="15.31" height="7.28" fill="#f4f8fc"/>
<rect x="594.65" y="471.94" width="15.31" height="7.28" fill="#78a8d8"/>
<rect x="609.66" y="471.94" width="15.31" height="7.28" fill="#f6c4ca"/>
<rect x="624.67" y="471.94" width="15.31" height="7.28" fill="#f8d4d8"/>
<rect x="639.68" y="471.94" width="15.31" height="7.28" fill="#eef2f8"/>
<rect x="519.60" y="478.92" width="15.31" height="7.28" fill="#4a86c8"/>
<rect x="534.61" y="478.92" width="15.31" height="7.28" fill="#4a86c8"/>
<rect x="549.62" y="478.92" width="15.31" height="7.28" fill="#4a86c8"/>
<rect x="564.63" y="478.92" width="15.31" height="7.28" fill="#f4bcc4"/>
<rect x="579.64" y="478.92" width="15.31" height="7.28" fill="#fbe4e8"/>
<rect x="594.65" y="478.92" width="15.31" height="7.28" fill="#6a9fd4"/>
<rect x="609.66" y="478.92" width="15.31" height="7.28" fill="#f3b8c0"/>
<rect x="624.67" y="478.92" width="15.31" height="7.28" fill="#fbe8ea"/>
<rect x="639.68" y="478.92" width="15.31" height="7.28" fill="#eef2f8"/>
<rect x="519.60" y="485.90" width="15.31" height="7.28" fill="#4080c4"/>
<rect x="534.61" y="485.90" width="15.31" height="7.28" fill="#4a86c8"/>
<rect x="549.62" y="485.90" width="15.31" height="7.28" fill="#3e7fc4"/>
<rect x="564.63" y="485.90" width="15.31" height="7.28" fill="#f8d4d8"/>
<rect x="579.64" y="485.90" width="15.31" height="7.28" fill="#fae0e4"/>
<rect x="594.65" y="485.90" width="15.31" height="7.28" fill="#8ab4dc"/>
<rect x="609.66" y="485.90" width="15.31" height="7.28" fill="#f6c8cc"/>
<rect x="624.67" y="485.90" width="15.31" height="7.28" fill="#f8d8dc"/>
<rect x="639.68" y="485.90" width="15.31" height="7.28" fill="#fdf0f2"/>
<rect x="519.60" y="492.88" width="15.31" height="7.28" fill="#4a86c8"/>
<rect x="534.61" y="492.88" width="15.31" height="7.28" fill="#5590cc"/>
<rect x="549.62" y="492.88" width="15.31" height="7.28" fill="#5590cc"/>
<rect x="564.63" y="492.88" width="15.31" height="7.28" fill="#f8d4d8"/>
<rect x="579.64" y="492.88" width="15.31" height="7.28" fill="#e4ecf6"/>
<rect x="594.65" y="492.88" width="15.31" height="7.28" fill="#6a9fd4"/>
<rect x="609.66" y="492.88" width="15.31" height="7.28" fill="#f3b8c0"/>
<rect x="624.67" y="492.88" width="15.31" height="7.28" fill="#f0a8b4"/>
<rect x="639.68" y="492.88" width="15.31" height="7.28" fill="#f4f6fb"/>
<rect x="519.60" y="499.86" width="15.31" height="7.28" fill="#4a86c8"/>
<rect x="534.61" y="499.86" width="15.31" height="7.28" fill="#5590cc"/>
<rect x="549.62" y="499.86" width="15.31" height="7.28" fill="#5590cc"/>
<rect x="564.63" y="499.86" width="15.31" height="7.28" fill="#fae0e4"/>
<rect x="579.64" y="499.86" width="15.31" height="7.28" fill="#e4ecf6"/>
<rect x="594.65" y="499.86" width="15.31" height="7.28" fill="#6a9fd4"/>
<rect x="609.66" y="499.86" width="15.31" height="7.28" fill="#f3b8c0"/>
<rect x="624.67" y="499.86" width="15.31" height="7.28" fill="#f0b0b8"/>
<rect x="639.68" y="499.86" width="15.31" height="7.28" fill="#fafbfd"/>
<rect x="519.60" y="506.84" width="15.31" height="7.28" fill="#4a86c8"/>
<rect x="534.61" y="506.84" width="15.31" height="7.28" fill="#5590cc"/>
<rect x="549.62" y="506.84" width="15.31" height="7.28" fill="#5590cc"/>
<rect x="564.63" y="506.84" width="15.31" height="7.28" fill="#f8d4d8"/>
<rect x="579.64" y="506.84" width="15.31" height="7.28" fill="#e0eaf5"/>
<rect x="594.65" y="506.84" width="15.31" height="7.28" fill="#6a9fd4"/>
<rect x="609.66" y="506.84" width="15.31" height="7.28" fill="#f0a8b4"/>
<rect x="624.67" y="506.84" width="15.31" height="7.28" fill="#f3b8c0"/>
<rect x="639.68" y="506.84" width="15.31" height="7.28" fill="#fafbfd"/>
<rect x="519.60" y="513.82" width="15.31" height="7.28" fill="#4a86c8"/>
<rect x="534.61" y="513.82" width="15.31" height="7.28" fill="#4a86c8"/>
<rect x="549.62" y="513.82" width="15.31" height="7.28" fill="#5590cc"/>
<rect x="564.63" y="513.82" width="15.31" height="7.28" fill="#f8d4d8"/>
<rect x="579.64" y="513.82" width="15.31" height="7.28" fill="#f8fafd"/>
<rect x="594.65" y="513.82" width="15.31" height="7.28" fill="#6a9fd4"/>
<rect x="609.66" y="513.82" width="15.31" height="7.28" fill="#f3b8c0"/>
<rect x="624.67" y="513.82" width="15.31" height="7.28" fill="#f3b8c0"/>
<rect x="639.68" y="513.82" width="15.31" height="7.28" fill="#f4f6fb"/>
<rect x="519.60" y="520.80" width="15.31" height="7.28" fill="#4a86c8"/>
<rect x="534.61" y="520.80" width="15.31" height="7.28" fill="#4a86c8"/>
<rect x="549.62" y="520.80" width="15.31" height="7.28" fill="#3e7fc4"/>
<rect x="564.63" y="520.80" width="15.31" height="7.28" fill="#f8d4d8"/>
<rect x="579.64" y="520.80" width="15.31" height="7.28" fill="#eef2f8"/>
<rect x="594.65" y="520.80" width="15.31" height="7.28" fill="#78a8d8"/>
<rect x="609.66" y="520.80" width="15.31" height="7.28" fill="#f8d0d4"/>
<rect x="624.67" y="520.80" width="15.31" height="7.28" fill="#f4bcc4"/>
<rect x="639.68" y="520.80" width="15.31" height="7.28" fill="#fdf0f2"/>
<rect x="519.60" y="527.78" width="15.31" height="7.28" fill="#4a86c8"/>
<rect x="534.61" y="527.78" width="15.31" height="7.28" fill="#4a86c8"/>
<rect x="549.62" y="527.78" width="15.31" height="7.28" fill="#3e7fc4"/>
<rect x="564.63" y="527.78" width="15.31" height="7.28" fill="#f8d4d8"/>
<rect x="579.64" y="527.78" width="15.31" height="7.28" fill="#eef2f8"/>
<rect x="594.65" y="527.78" width="15.31" height="7.28" fill="#78a8d8"/>
<rect x="609.66" y="527.78" width="15.31" height="7.28" fill="#f8d0d4"/>
<rect x="624.67" y="527.78" width="15.31" height="7.28" fill="#f4bcc4"/>
<rect x="639.68" y="527.78" width="15.31" height="7.28" fill="#fdf0f2"/>
<rect x="519.60" y="534.76" width="15.31" height="7.28" fill="#5088c8"/>
<rect x="534.61" y="534.76" width="15.31" height="7.28" fill="#5590cc"/>
<rect x="549.62" y="534.76" width="15.31" height="7.28" fill="#5590cc"/>
<rect x="564.63" y="534.76" width="15.31" height="7.28" fill="#f0a8b4"/>
<rect x="579.64" y="534.76" width="15.31" height="7.28" fill="#d0dff0"/>
<rect x="594.65" y="534.76" width="15.31" height="7.28" fill="#6a9fd4"/>
<rect x="609.66" y="534.76" width="15.31" height="7.28" fill="#fbe4e8"/>
<rect x="624.67" y="534.76" width="15.31" height="7.28" fill="#ec98a4"/>
<rect x="639.68" y="534.76" width="15.31" height="7.28" fill="#e8eef7"/>
<rect x="519.60" y="541.74" width="15.31" height="7.28" fill="#5088c8"/>
<rect x="534.61" y="541.74" width="15.31" height="7.28" fill="#5590cc"/>
<rect x="549.62" y="541.74" width="15.31" height="7.28" fill="#5088c8"/>
<rect x="564.63" y="541.74" width="15.31" height="7.28" fill="#f4bcc4"/>
<rect x="579.64" y="541.74" width="15.31" height="7.28" fill="#e8eff8"/>
<rect x="594.65" y="541.74" width="15.31" height="7.28" fill="#6a9fd4"/>
<rect x="609.66" y="541.74" width="15.31" height="7.28" fill="#f8d4d8"/>
<rect x="624.67" y="541.74" width="15.31" height="7.28" fill="#f0a8b4"/>
<rect x="639.68" y="541.74" width="15.31" height="7.28" fill="#f6f8fc"/>
<rect x="519.60" y="548.72" width="15.31" height="7.28" fill="#5088c8"/>
<rect x="534.61" y="548.72" width="15.31" height="7.28" fill="#5088c8"/>
<rect x="549.62" y="548.72" width="15.31" height="7.28" fill="#5088c8"/>
<rect x="564.63" y="548.72" width="15.31" height="7.28" fill="#ec909c"/>
<rect x="579.64" y="548.72" width="15.31" height="7.28" fill="#e4ecf6"/>
<rect x="594.65" y="548.72" width="15.31" height="7.28" fill="#78a8d8"/>
<rect x="609.66" y="548.72" width="15.31" height="7.28" fill="#fdf4f4"/>
<rect x="624.67" y="548.72" width="15.31" height="7.28" fill="#f4b8c0"/>
<rect x="639.68" y="548.72" width="15.31" height="7.28" fill="#f6f8fc"/>
<rect x="519.60" y="555.70" width="15.31" height="7.28" fill="#5088c8"/>
<rect x="534.61" y="555.70" width="15.31" height="7.28" fill="#4a86c8"/>
<rect x="549.62" y="555.70" width="15.31" height="7.28" fill="#5088c8"/>
<rect x="564.63" y="555.70" width="15.31" height="7.28" fill="#ec98a4"/>
<rect x="579.64" y="555.70" width="15.31" height="7.28" fill="#c8daee"/>
<rect x="594.65" y="555.70" width="15.31" height="7.28" fill="#78a8d8"/>
<rect x="609.66" y="555.70" width="15.31" height="7.28" fill="#fbe8ea"/>
<rect x="624.67" y="555.70" width="15.31" height="7.28" fill="#f4b8c0"/>
<rect x="639.68" y="555.70" width="15.31" height="7.28" fill="#ffffff"/>
<rect x="519.60" y="562.68" width="15.31" height="7.28" fill="#4a86c8"/>
<rect x="534.61" y="562.68" width="15.31" height="7.28" fill="#5088c8"/>
<rect x="549.62" y="562.68" width="15.31" height="7.28" fill="#5590cc"/>
<rect x="564.63" y="562.68" width="15.31" height="7.28" fill="#f8d4d8"/>
<rect x="579.64" y="562.68" width="15.31" height="7.28" fill="#e4ecf6"/>
<rect x="594.65" y="562.68" width="15.31" height="7.28" fill="#78a8d8"/>
<rect x="609.66" y="562.68" width="15.31" height="7.28" fill="#f0a8b4"/>
<rect x="624.67" y="562.68" width="15.31" height="7.28" fill="#f4b8c0"/>
<rect x="639.68" y="562.68" width="15.31" height="7.28" fill="#dde7f3"/>
<rect x="519.60" y="569.66" width="15.31" height="7.28" fill="#5088c8"/>
<rect x="534.61" y="569.66" width="15.31" height="7.28" fill="#5088c8"/>
<rect x="549.62" y="569.66" width="15.31" height="7.28" fill="#5088c8"/>
<rect x="564.63" y="569.66" width="15.31" height="7.28" fill="#f8d4d8"/>
<rect x="579.64" y="569.66" width="15.31" height="7.28" fill="#d4e2f1"/>
<rect x="594.65" y="569.66" width="15.31" height="7.28" fill="#78a8d8"/>
<rect x="609.66" y="569.66" width="15.31" height="7.28" fill="#f0a8b4"/>
<rect x="624.67" y="569.66" width="15.31" height="7.28" fill="#f0b0b8"/>
<rect x="639.68" y="569.66" width="15.31" height="7.28" fill="#dde7f3"/>
<rect x="519.60" y="576.64" width="15.31" height="7.28" fill="#4a86c8"/>
<rect x="534.61" y="576.64" width="15.31" height="7.28" fill="#5590cc"/>
<rect x="549.62" y="576.64" width="15.31" height="7.28" fill="#4a86c8"/>
<rect x="564.63" y="576.64" width="15.31" height="7.28" fill="#fbe4e8"/>
<rect x="579.64" y="576.64" width="15.31" height="7.28" fill="#e8eff8"/>
<rect x="594.65" y="576.64" width="15.31" height="7.28" fill="#78a8d8"/>
<rect x="609.66" y="576.64" width="15.31" height="7.28" fill="#f4bcc4"/>
<rect x="624.67" y="576.64" width="15.31" height="7.28" fill="#ec98a4"/>
<rect x="639.68" y="576.64" width="15.31" height="7.28" fill="#dde7f3"/>
<rect x="519.60" y="583.62" width="15.31" height="7.28" fill="#4a86c8"/>
<rect x="534.61" y="583.62" width="15.31" height="7.28" fill="#4a86c8"/>
<rect x="549.62" y="583.62" width="15.31" height="7.28" fill="#4080c4"/>
<rect x="564.63" y="583.62" width="15.31" height="7.28" fill="#fbe4e8"/>
<rect x="579.64" y="583.62" width="15.31" height="7.28" fill="#dde7f3"/>
<rect x="594.65" y="583.62" width="15.31" height="7.28" fill="#8ab4dc"/>
<rect x="609.66" y="583.62" width="15.31" height="7.28" fill="#f4b8c0"/>
<rect x="624.67" y="583.62" width="15.31" height="7.28" fill="#f0a8b4"/>
<rect x="639.68" y="583.62" width="15.31" height="7.28" fill="#c8daee"/>
<rect x="519.60" y="590.60" width="15.31" height="7.28" fill="#5088c8"/>
<rect x="534.61" y="590.60" width="15.31" height="7.28" fill="#4080c4"/>
<rect x="549.62" y="590.60" width="15.31" height="7.28" fill="#5590cc"/>
<rect x="564.63" y="590.60" width="15.31" height="7.28" fill="#fdf0f2"/>
<rect x="579.64" y="590.60" width="15.31" height="7.28" fill="#e8eff8"/>
<rect x="594.65" y="590.60" width="15.31" height="7.28" fill="#8ab4dc"/>
<rect x="609.66" y="590.60" width="15.31" height="7.28" fill="#e8808c"/>
<rect x="624.67" y="590.60" width="15.31" height="7.28" fill="#fad4d8"/>
<rect x="639.68" y="590.60" width="15.31" height="7.28" fill="#c8daee"/>
<rect x="519.60" y="597.58" width="15.31" height="7.28" fill="#4080c4"/>
<rect x="534.61" y="597.58" width="15.31" height="7.28" fill="#4080c4"/>
<rect x="549.62" y="597.58" width="15.31" height="7.28" fill="#4080c4"/>
<rect x="564.63" y="597.58" width="15.31" height="7.28" fill="#fad8dc"/>
<rect x="579.64" y="597.58" width="15.31" height="7.28" fill="#e8eff8"/>
<rect x="594.65" y="597.58" width="15.31" height="7.28" fill="#8ab4dc"/>
<rect x="609.66" y="597.58" width="15.31" height="7.28" fill="#ec98a4"/>
<rect x="624.67" y="597.58" width="15.31" height="7.28" fill="#fad8dc"/>
<rect x="639.68" y="597.58" width="15.31" height="7.28" fill="#eef2f8"/>
<rect x="519.60" y="604.56" width="15.31" height="7.28" fill="#4a86c8"/>
<rect x="534.61" y="604.56" width="15.31" height="7.28" fill="#5590cc"/>
<rect x="549.62" y="604.56" width="15.31" height="7.28" fill="#5590cc"/>
<rect x="564.63" y="604.56" width="15.31" height="7.28" fill="#ec98a4"/>
<rect x="579.64" y="604.56" width="15.31" height="7.28" fill="#e8eff8"/>
<rect x="594.65" y="604.56" width="15.31" height="7.28" fill="#78a8d8"/>
<rect x="609.66" y="604.56" width="15.31" height="7.28" fill="#f4b8c0"/>
<rect x="624.67" y="604.56" width="15.31" height="7.28" fill="#f8d0d4"/>
<rect x="639.68" y="604.56" width="15.31" height="7.28" fill="#c8daee"/>
<rect x="519.60" y="611.54" width="15.31" height="7.28" fill="#4a86c8"/>
<rect x="534.61" y="611.54" width="15.31" height="7.28" fill="#4a86c8"/>
<rect x="549.62" y="611.54" width="15.31" height="7.28" fill="#4080c4"/>
<rect x="564.63" y="611.54" width="15.31" height="7.28" fill="#e8808c"/>
<rect x="579.64" y="611.54" width="15.31" height="7.28" fill="#ffffff"/>
<rect x="594.65" y="611.54" width="15.31" height="7.28" fill="#78a8d8"/>
<rect x="609.66" y="611.54" width="15.31" height="7.28" fill="#f8c8cc"/>
<rect x="624.67" y="611.54" width="15.31" height="7.28" fill="#fbe8ea"/>
<rect x="639.68" y="611.54" width="15.31" height="7.28" fill="#c8daee"/>
<rect x="519.60" y="618.52" width="15.31" height="7.28" fill="#4a86c8"/>
<rect x="534.61" y="618.52" width="15.31" height="7.28" fill="#4080c4"/>
<rect x="549.62" y="618.52" width="15.31" height="7.28" fill="#3e7fc4"/>
<rect x="564.63" y="618.52" width="15.31" height="7.28" fill="#f4bcc4"/>
<rect x="579.64" y="618.52" width="15.31" height="7.28" fill="#fbe4e8"/>
<rect x="594.65" y="618.52" width="15.31" height="7.28" fill="#a8c8e6"/>
<rect x="609.66" y="618.52" width="15.31" height="7.28" fill="#f8c8cc"/>
<rect x="624.67" y="618.52" width="15.31" height="7.28" fill="#f8c8cc"/>
<rect x="639.68" y="618.52" width="15.31" height="7.28" fill="#b4cfea"/>
<rect x="519.60" y="625.50" width="15.31" height="7.28" fill="#4a86c8"/>
<rect x="534.61" y="625.50" width="15.31" height="7.28" fill="#4a86c8"/>
<rect x="549.62" y="625.50" width="15.31" height="7.28" fill="#5590cc"/>
<rect x="564.63" y="625.50" width="15.31" height="7.28" fill="#dde7f3"/>
<rect x="579.64" y="625.50" width="15.31" height="7.28" fill="#f8ccd0"/>
<rect x="594.65" y="625.50" width="15.31" height="7.28" fill="#6a9fd4"/>
<rect x="609.66" y="625.50" width="15.31" height="7.28" fill="#f4b8c0"/>
<rect x="624.67" y="625.50" width="15.31" height="7.28" fill="#fad8dc"/>
<rect x="639.68" y="625.50" width="15.31" height="7.28" fill="#fbeef0"/>
<rect x="519.60" y="632.48" width="15.31" height="7.28" fill="#2a6fc0"/>
<rect x="534.61" y="632.48" width="15.31" height="7.28" fill="#4080c4"/>
<rect x="549.62" y="632.48" width="15.31" height="7.28" fill="#6a9fd4"/>
<rect x="564.63" y="632.48" width="15.31" height="7.28" fill="#f4b8c0"/>
<rect x="579.64" y="632.48" width="15.31" height="7.28" fill="#fdeef0"/>
<rect x="594.65" y="632.48" width="15.31" height="7.28" fill="#ec98a4"/>
<rect x="609.66" y="632.48" width="15.31" height="7.28" fill="#a8c8e6"/>
<rect x="624.67" y="632.48" width="15.31" height="7.28" fill="#e8eff8"/>
<rect x="639.68" y="632.48" width="15.31" height="7.28" fill="#d4e2f1"/>
<rect x="519.60" y="639.46" width="15.31" height="7.28" fill="#5590cc"/>
<rect x="534.61" y="639.46" width="15.31" height="7.28" fill="#5590cc"/>
<rect x="549.62" y="639.46" width="15.31" height="7.28" fill="#5590cc"/>
<rect x="564.63" y="639.46" width="15.31" height="7.28" fill="#eef2f8"/>
<rect x="579.64" y="639.46" width="15.31" height="7.28" fill="#b4cfea"/>
<rect x="594.65" y="639.46" width="15.31" height="7.28" fill="#78a8d8"/>
<rect x="609.66" y="639.46" width="15.31" height="7.28" fill="#f0a0ac"/>
<rect x="624.67" y="639.46" width="15.31" height="7.28" fill="#ec98a4"/>
<rect x="639.68" y="639.46" width="15.31" height="7.28" fill="#fdeef0"/>
<rect x="519.60" y="646.44" width="15.31" height="7.28" fill="#5590cc"/>
<rect x="534.61" y="646.44" width="15.31" height="7.28" fill="#5590cc"/>
<rect x="549.62" y="646.44" width="15.31" height="7.28" fill="#5590cc"/>
<rect x="564.63" y="646.44" width="15.31" height="7.28" fill="#f8fafd"/>
<rect x="579.64" y="646.44" width="15.31" height="7.28" fill="#b4cfea"/>
<rect x="594.65" y="646.44" width="15.31" height="7.28" fill="#78a8d8"/>
<rect x="609.66" y="646.44" width="15.31" height="7.28" fill="#f0a0ac"/>
<rect x="624.67" y="646.44" width="15.31" height="7.28" fill="#f0a8b4"/>
<rect x="639.68" y="646.44" width="15.31" height="7.28" fill="#fdeef0"/>
<rect x="519.60" y="653.42" width="15.31" height="7.28" fill="#5c94ce"/>
<rect x="534.61" y="653.42" width="15.31" height="7.28" fill="#5c94ce"/>
<rect x="549.62" y="653.42" width="15.31" height="7.28" fill="#5c94ce"/>
<rect x="564.63" y="653.42" width="15.31" height="7.28" fill="#dde7f3"/>
<rect x="579.64" y="653.42" width="15.31" height="7.28" fill="#a8c8e6"/>
<rect x="594.65" y="653.42" width="15.31" height="7.28" fill="#78a8d8"/>
<rect x="609.66" y="653.42" width="15.31" height="7.28" fill="#e47080"/>
<rect x="624.67" y="653.42" width="15.31" height="7.28" fill="#f0a8b4"/>
<rect x="639.68" y="653.42" width="15.31" height="7.28" fill="#fdeef0"/>
<rect x="519.60" y="660.40" width="15.31" height="7.28" fill="#6a9fd4"/>
<rect x="534.61" y="660.40" width="15.31" height="7.28" fill="#6a9fd4"/>
<rect x="549.62" y="660.40" width="15.31" height="7.28" fill="#6a9fd4"/>
<rect x="564.63" y="660.40" width="15.31" height="7.28" fill="#c0d6ec"/>
<rect x="579.64" y="660.40" width="15.31" height="7.28" fill="#78a8d8"/>
<rect x="594.65" y="660.40" width="15.31" height="7.28" fill="#8ab4dc"/>
<rect x="609.66" y="660.40" width="15.31" height="7.28" fill="#e47080"/>
<rect x="624.67" y="660.40" width="15.31" height="7.28" fill="#ec98a4"/>
<rect x="639.68" y="660.40" width="15.31" height="7.28" fill="#fdf4f4"/>
<rect x="519.60" y="667.38" width="15.31" height="7.28" fill="#5c94ce"/>
<rect x="534.61" y="667.38" width="15.31" height="7.28" fill="#5c94ce"/>
<rect x="549.62" y="667.38" width="15.31" height="7.28" fill="#5c94ce"/>
<rect x="564.63" y="667.38" width="15.31" height="7.28" fill="#b4cfea"/>
<rect x="579.64" y="667.38" width="15.31" height="7.28" fill="#b4cfea"/>
<rect x="594.65" y="667.38" width="15.31" height="7.28" fill="#8ab4dc"/>
<rect x="609.66" y="667.38" width="15.31" height="7.28" fill="#e47080"/>
<rect x="624.67" y="667.38" width="15.31" height="7.28" fill="#ec909c"/>
<rect x="639.68" y="667.38" width="15.31" height="7.28" fill="#eef2f8"/>
<rect x="519.60" y="674.36" width="15.31" height="7.28" fill="#78a8d8"/>
<rect x="534.61" y="674.36" width="15.31" height="7.28" fill="#6a9fd4"/>
<rect x="549.62" y="674.36" width="15.31" height="7.28" fill="#78a8d8"/>
<rect x="564.63" y="674.36" width="15.31" height="7.28" fill="#78a8d8"/>
<rect x="579.64" y="674.36" width="15.31" height="7.28" fill="#8ab4dc"/>
<rect x="594.65" y="674.36" width="15.31" height="7.28" fill="#78a8d8"/>
<rect x="609.66" y="674.36" width="15.31" height="7.28" fill="#e88090"/>
<rect x="624.67" y="674.36" width="15.31" height="7.28" fill="#fad4d8"/>
<rect x="639.68" y="674.36" width="15.31" height="7.28" fill="#ec98a4"/>
<rect x="519.60" y="681.34" width="15.31" height="7.28" fill="#78a8d8"/>
<rect x="534.61" y="681.34" width="15.31" height="7.28" fill="#78a8d8"/>
<rect x="549.62" y="681.34" width="15.31" height="7.28" fill="#6a9fd4"/>
<rect x="564.63" y="681.34" width="15.31" height="7.28" fill="#8ab4dc"/>
<rect x="579.64" y="681.34" width="15.31" height="7.28" fill="#8ab4dc"/>
<rect x="594.65" y="681.34" width="15.31" height="7.28" fill="#78a8d8"/>
<rect x="609.66" y="681.34" width="15.31" height="7.28" fill="#ec909c"/>
<rect x="624.67" y="681.34" width="15.31" height="7.28" fill="#fad8dc"/>
<rect x="639.68" y="681.34" width="15.31" height="7.28" fill="#ec909c"/>
<rect x="519.60" y="688.32" width="15.31" height="7.28" fill="#78a8d8"/>
<rect x="534.61" y="688.32" width="15.31" height="7.28" fill="#8ab4dc"/>
<rect x="549.62" y="688.32" width="15.31" height="7.28" fill="#6a9fd4"/>
<rect x="564.63" y="688.32" width="15.31" height="7.28" fill="#8ab4dc"/>
<rect x="579.64" y="688.32" width="15.31" height="7.28" fill="#8ab4dc"/>
<rect x="594.65" y="688.32" width="15.31" height="7.28" fill="#6a9fd4"/>
<rect x="609.66" y="688.32" width="15.31" height="7.28" fill="#ec98a4"/>
<rect x="624.67" y="688.32" width="15.31" height="7.28" fill="#fce4e8"/>
<rect x="639.68" y="688.32" width="15.31" height="7.28" fill="#e47080"/>
<rect x="519.60" y="695.30" width="15.31" height="7.28" fill="#78a8d8"/>
<rect x="534.61" y="695.30" width="15.31" height="7.28" fill="#a0c2e4"/>
<rect x="549.62" y="695.30" width="15.31" height="7.28" fill="#78a8d8"/>
<rect x="564.63" y="695.30" width="15.31" height="7.28" fill="#78a8d8"/>
<rect x="579.64" y="695.30" width="15.31" height="7.28" fill="#8ab4dc"/>
<rect x="594.65" y="695.30" width="15.31" height="7.28" fill="#6a9fd4"/>
<rect x="609.66" y="695.30" width="15.31" height="7.28" fill="#e06070"/>
<rect x="624.67" y="695.30" width="15.31" height="7.28" fill="#fdeef0"/>
<rect x="639.68" y="695.30" width="15.31" height="7.28" fill="#f4b8c0"/>
<rect x="519.60" y="702.28" width="15.31" height="7.28" fill="#78a8d8"/>
<rect x="534.61" y="702.28" width="15.31" height="7.28" fill="#78a8d8"/>
<rect x="549.62" y="702.28" width="15.31" height="7.28" fill="#78a8d8"/>
<rect x="564.63" y="702.28" width="15.31" height="7.28" fill="#78a8d8"/>
<rect x="579.64" y="702.28" width="15.31" height="7.28" fill="#8ab4dc"/>
<rect x="594.65" y="702.28" width="15.31" height="7.28" fill="#78a8d8"/>
<rect x="609.66" y="702.28" width="15.31" height="7.28" fill="#e06070"/>
<rect x="624.67" y="702.28" width="15.31" height="7.28" fill="#fbe4e8"/>
<rect x="639.68" y="702.28" width="15.31" height="7.28" fill="#f4b8c0"/>
<rect x="519.60" y="709.26" width="15.31" height="7.28" fill="#4a86c8"/>
<rect x="534.61" y="709.26" width="15.31" height="7.28" fill="#4a86c8"/>
<rect x="549.62" y="709.26" width="15.31" height="7.28" fill="#4a86c8"/>
<rect x="564.63" y="709.26" width="15.31" height="7.28" fill="#e4ecf6"/>
<rect x="579.64" y="709.26" width="15.31" height="7.28" fill="#e8eff8"/>
<rect x="594.65" y="709.26" width="15.31" height="7.28" fill="#a8c8e6"/>
<rect x="609.66" y="709.26" width="15.31" height="7.28" fill="#e47080"/>
<rect x="624.67" y="709.26" width="15.31" height="7.28" fill="#f6c4ca"/>
<rect x="639.68" y="709.26" width="15.31" height="7.28" fill="#c8daee"/>
<rect x="519.60" y="716.24" width="15.31" height="7.28" fill="#5088c8"/>
<rect x="534.61" y="716.24" width="15.31" height="7.28" fill="#5088c8"/>
<rect x="549.62" y="716.24" width="15.31" height="7.28" fill="#5088c8"/>
<rect x="564.63" y="716.24" width="15.31" height="7.28" fill="#b4cfea"/>
<rect x="579.64" y="716.24" width="15.31" height="7.28" fill="#d0dff0"/>
<rect x="594.65" y="716.24" width="15.31" height="7.28" fill="#a0c2e4"/>
<rect x="609.66" y="716.24" width="15.31" height="7.28" fill="#e05060"/>
<rect x="624.67" y="716.24" width="15.31" height="7.28" fill="#fbe8ea"/>
<rect x="639.68" y="716.24" width="15.31" height="7.28" fill="#ffffff"/>
<rect x="519.60" y="723.22" width="15.31" height="7.28" fill="#78a8d8"/>
<rect x="534.61" y="723.22" width="15.31" height="7.28" fill="#78a8d8"/>
<rect x="549.62" y="723.22" width="15.31" height="7.28" fill="#78a8d8"/>
<rect x="564.63" y="723.22" width="15.31" height="7.28" fill="#8ab4dc"/>
<rect x="579.64" y="723.22" width="15.31" height="7.28" fill="#dde7f3"/>
<rect x="594.65" y="723.22" width="15.31" height="7.28" fill="#8ab4dc"/>
<rect x="609.66" y="723.22" width="15.31" height="7.28" fill="#e47080"/>
<rect x="624.67" y="723.22" width="15.31" height="7.28" fill="#ec98a4"/>
<rect x="639.68" y="723.22" width="15.31" height="7.28" fill="#8ab4dc"/>
<rect x="519.60" y="730.20" width="15.31" height="7.28" fill="#78a8d8"/>
<rect x="534.61" y="730.20" width="15.31" height="7.28" fill="#78a8d8"/>
<rect x="549.62" y="730.20" width="15.31" height="7.28" fill="#78a8d8"/>
<rect x="564.63" y="730.20" width="15.31" height="7.28" fill="#8ab4dc"/>
<rect x="579.64" y="730.20" width="15.31" height="7.28" fill="#8ab4dc"/>
<rect x="594.65" y="730.20" width="15.31" height="7.28" fill="#8ab4dc"/>
<rect x="609.66" y="730.20" width="15.31" height="7.28" fill="#fdf8f8"/>
<rect x="624.67" y="730.20" width="15.31" height="7.28" fill="#d42838"/>
<rect x="639.68" y="730.20" width="15.31" height="7.28" fill="#dde7f3"/>
<rect x="519.60" y="737.18" width="15.31" height="7.28" fill="#78a8d8"/>
<rect x="534.61" y="737.18" width="15.31" height="7.28" fill="#78a8d8"/>
<rect x="549.62" y="737.18" width="15.31" height="7.28" fill="#78a8d8"/>
<rect x="564.63" y="737.18" width="15.31" height="7.28" fill="#8ab4dc"/>
<rect x="579.64" y="737.18" width="15.31" height="7.28" fill="#8ab4dc"/>
<rect x="594.65" y="737.18" width="15.31" height="7.28" fill="#8ab4dc"/>
<rect x="609.66" y="737.18" width="15.31" height="7.28" fill="#f8ccd0"/>
<rect x="624.67" y="737.18" width="15.31" height="7.28" fill="#d84050"/>
<rect x="639.68" y="737.18" width="15.31" height="7.28" fill="#a0c2e4"/>
<rect x="519.60" y="744.16" width="15.31" height="7.28" fill="#e47080"/>
<rect x="534.61" y="744.16" width="15.31" height="7.28" fill="#e88090"/>
<rect x="549.62" y="744.16" width="15.31" height="7.28" fill="#e4ecf6"/>
<rect x="564.63" y="744.16" width="15.31" height="7.28" fill="#8ab4dc"/>
<rect x="579.64" y="744.16" width="15.31" height="7.28" fill="#8ab4dc"/>
<rect x="594.65" y="744.16" width="15.31" height="7.28" fill="#c8daee"/>
<rect x="609.66" y="744.16" width="15.31" height="7.28" fill="#6a9fd4"/>
<rect x="624.67" y="744.16" width="15.31" height="7.28" fill="#6a9fd4"/>
<rect x="639.68" y="744.16" width="15.31" height="7.28" fill="#5590cc"/>
<rect x="519.60" y="751.14" width="15.31" height="7.28" fill="#e47080"/>
<rect x="534.61" y="751.14" width="15.31" height="7.28" fill="#f0a0ac"/>
<rect x="549.62" y="751.14" width="15.31" height="7.28" fill="#ffffff"/>
<rect x="564.63" y="751.14" width="15.31" height="7.28" fill="#8ab4dc"/>
<rect x="579.64" y="751.14" width="15.31" height="7.28" fill="#78a8d8"/>
<rect x="594.65" y="751.14" width="15.31" height="7.28" fill="#c8daee"/>
<rect x="609.66" y="751.14" width="15.31" height="7.28" fill="#6a9fd4"/>
<rect x="624.67" y="751.14" width="15.31" height="7.28" fill="#6a9fd4"/>
<rect x="639.68" y="751.14" width="15.31" height="7.28" fill="#5590cc"/>
<rect x="519.60" y="758.12" width="15.31" height="7.28" fill="#dc5060"/>
<rect x="534.61" y="758.12" width="15.31" height="7.28" fill="#f6c4ca"/>
<rect x="549.62" y="758.12" width="15.31" height="7.28" fill="#f8fafd"/>
<rect x="564.63" y="758.12" width="15.31" height="7.28" fill="#a0c2e4"/>
<rect x="579.64" y="758.12" width="15.31" height="7.28" fill="#6a9fd4"/>
<rect x="594.65" y="758.12" width="15.31" height="7.28" fill="#a8c8e6"/>
<rect x="609.66" y="758.12" width="15.31" height="7.28" fill="#78a8d8"/>
<rect x="624.67" y="758.12" width="15.31" height="7.28" fill="#6a9fd4"/>
<rect x="639.68" y="758.12" width="15.31" height="7.28" fill="#5590cc"/>
<rect x="519.60" y="765.10" width="15.31" height="7.28" fill="#e88090"/>
<rect x="534.61" y="765.10" width="15.31" height="7.28" fill="#f0a8b4"/>
<rect x="549.62" y="765.10" width="15.31" height="7.28" fill="#fce4e8"/>
<rect x="564.63" y="765.10" width="15.31" height="7.28" fill="#6a9fd4"/>
<rect x="579.64" y="765.10" width="15.31" height="7.28" fill="#6a9fd4"/>
<rect x="594.65" y="765.10" width="15.31" height="7.28" fill="#eef2f8"/>
<rect x="609.66" y="765.10" width="15.31" height="7.28" fill="#6a9fd4"/>
<rect x="624.67" y="765.10" width="15.31" height="7.28" fill="#6a9fd4"/>
<rect x="639.68" y="765.10" width="15.31" height="7.28" fill="#5590cc"/>
<rect x="519.60" y="772.08" width="15.31" height="7.28" fill="#f0a0ac"/>
<rect x="534.61" y="772.08" width="15.31" height="7.28" fill="#f0a0ac"/>
<rect x="549.62" y="772.08" width="15.31" height="7.28" fill="#f0a8b4"/>
<rect x="564.63" y="772.08" width="15.31" height="7.28" fill="#78a8d8"/>
<rect x="579.64" y="772.08" width="15.31" height="7.28" fill="#6a9fd4"/>
<rect x="594.65" y="772.08" width="15.31" height="7.28" fill="#a0c2e4"/>
<rect x="609.66" y="772.08" width="15.31" height="7.28" fill="#78a8d8"/>
<rect x="624.67" y="772.08" width="15.31" height="7.28" fill="#6a9fd4"/>
<rect x="639.68" y="772.08" width="15.31" height="7.28" fill="#5590cc"/>
<rect x="519.60" y="779.06" width="15.31" height="7.28" fill="#f4b0b8"/>
<rect x="534.61" y="779.06" width="15.31" height="7.28" fill="#fce4e8"/>
<rect x="549.62" y="779.06" width="15.31" height="7.28" fill="#fce4e8"/>
<rect x="564.63" y="779.06" width="15.31" height="7.28" fill="#b4cfea"/>
<rect x="579.64" y="779.06" width="15.31" height="7.28" fill="#ffffff"/>
<rect x="594.65" y="779.06" width="15.31" height="7.28" fill="#fdf8fa"/>
<rect x="609.66" y="779.06" width="15.31" height="7.28" fill="#5088c8"/>
<rect x="624.67" y="779.06" width="15.31" height="7.28" fill="#2a70c0"/>
<rect x="639.68" y="779.06" width="15.31" height="7.28" fill="#3e7fc4"/>
<rect x="519.60" y="786.04" width="15.31" height="7.28" fill="#fdf0f2"/>
<rect x="534.61" y="786.04" width="15.31" height="7.28" fill="#f6c4ca"/>
<rect x="549.62" y="786.04" width="15.31" height="7.28" fill="#dc5060"/>
<rect x="564.63" y="786.04" width="15.31" height="7.28" fill="#78a8d8"/>
<rect x="579.64" y="786.04" width="15.31" height="7.28" fill="#6a9fd4"/>
<rect x="594.65" y="786.04" width="15.31" height="7.28" fill="#a0c2e4"/>
<rect x="609.66" y="786.04" width="15.31" height="7.28" fill="#a0c2e4"/>
<rect x="624.67" y="786.04" width="15.31" height="7.28" fill="#6a9fd4"/>
<rect x="639.68" y="786.04" width="15.31" height="7.28" fill="#5590cc"/>
<rect x="519.60" y="793.02" width="15.31" height="7.28" fill="#f4b0b8"/>
<rect x="534.61" y="793.02" width="15.31" height="7.28" fill="#dc5060"/>
<rect x="549.62" y="793.02" width="15.31" height="7.28" fill="#8ab4dc"/>
<rect x="564.63" y="793.02" width="15.31" height="7.28" fill="#8ab4dc"/>
<rect x="579.64" y="793.02" width="15.31" height="7.28" fill="#8ab4dc"/>
<rect x="594.65" y="793.02" width="15.31" height="7.28" fill="#8ab4dc"/>
<rect x="609.66" y="793.02" width="15.31" height="7.28" fill="#8ab4dc"/>
<rect x="624.67" y="793.02" width="15.31" height="7.28" fill="#8ab4dc"/>
<rect x="639.68" y="793.02" width="15.31" height="7.28" fill="#8ab4dc"/>
<text style="stroke-width:0.1px" x="518.3" y="457.59" font-size="6.4" text-anchor="end" class="g">Tap1</text>
<text style="stroke-width:0.1px" x="518.3" y="464.57" font-size="6.4" text-anchor="end" class="g">Psmb8</text>
<text style="stroke-width:0.1px" x="518.3" y="471.55" font-size="6.4" text-anchor="end" class="g">H2-Q7</text>
<text style="stroke-width:0.1px" x="518.3" y="478.53" font-size="6.4" text-anchor="end" class="g">Gm43302</text>
<text style="stroke-width:0.1px" x="518.3" y="485.51" font-size="6.4" text-anchor="end" class="g">Zbp1</text>
<text style="stroke-width:0.1px" x="518.3" y="492.49" font-size="6.4" text-anchor="end" class="g">Psmb9</text>
<text style="stroke-width:0.1px" x="518.3" y="499.47" font-size="6.4" text-anchor="end" class="g">Tgtp2</text>
<text style="stroke-width:0.1px" x="518.3" y="506.45" font-size="6.4" text-anchor="end" class="g">Igtp</text>
<text style="stroke-width:0.1px" x="518.3" y="513.43" font-size="6.4" text-anchor="end" class="g">Irgm2</text>
<text style="stroke-width:0.1px" x="518.3" y="520.41" font-size="6.4" text-anchor="end" class="g">Ly6a</text>
<text style="stroke-width:0.1px" x="518.3" y="527.39" font-size="6.4" text-anchor="end" class="g">Gm4070</text>
<text style="stroke-width:0.1px" x="518.3" y="534.37" font-size="6.4" text-anchor="end" class="g">Gvin1</text>
<text style="stroke-width:0.1px" x="518.3" y="541.35" font-size="6.4" text-anchor="end" class="g">Gm12185</text>
<text style="stroke-width:0.1px" x="518.3" y="548.33" font-size="6.4" text-anchor="end" class="g">Tgtp1</text>
<text style="stroke-width:0.1px" x="518.3" y="555.31" font-size="6.4" text-anchor="end" class="g">Gm4841</text>
<text style="stroke-width:0.1px" x="518.3" y="562.29" font-size="6.4" text-anchor="end" class="g">Apol6</text>
<text style="stroke-width:0.1px" x="518.3" y="569.27" font-size="6.4" text-anchor="end" class="g">Fgl2</text>
<text style="stroke-width:0.1px" x="518.3" y="576.25" font-size="6.4" text-anchor="end" class="g">Gm12250</text>
<text style="stroke-width:0.1px" x="518.3" y="583.23" font-size="6.4" text-anchor="end" class="g">Gm4951</text>
<text style="stroke-width:0.1px" x="518.3" y="590.21" font-size="6.4" text-anchor="end" class="g">Fcgr4</text>
<text style="stroke-width:0.1px" x="518.3" y="597.19" font-size="6.4" text-anchor="end" class="g">Cd72</text>
<text style="stroke-width:0.1px" x="518.3" y="604.17" font-size="6.4" text-anchor="end" class="g">Igha</text>
<text style="stroke-width:0.1px" x="518.3" y="611.15" font-size="6.4" text-anchor="end" class="g">Clec12a</text>
<text style="stroke-width:0.1px" x="518.3" y="618.13" font-size="6.4" text-anchor="end" class="g">Cd8a</text>
<text style="stroke-width:0.1px" x="518.3" y="625.11" font-size="6.4" text-anchor="end" class="g">Tox</text>
<text style="stroke-width:0.1px" x="518.3" y="632.09" font-size="6.4" text-anchor="end" class="g">Bst2</text>
<text style="stroke-width:0.1px" x="518.3" y="639.07" font-size="6.4" text-anchor="end" class="g">Fst</text>
<text style="stroke-width:0.1px" x="518.3" y="646.05" font-size="6.4" text-anchor="end" class="g">Gm18852</text>
<text style="stroke-width:0.1px" x="518.3" y="653.03" font-size="6.4" text-anchor="end" class="g">Gm18853</text>
<text style="stroke-width:0.1px" x="518.3" y="660.01" font-size="6.4" text-anchor="end" class="g">Igkc</text>
<text style="stroke-width:0.1px" x="518.3" y="666.99" font-size="6.4" text-anchor="end" class="g">Ighg2c</text>
<text style="stroke-width:0.1px" x="518.3" y="673.97" font-size="6.4" text-anchor="end" class="g">Jchain</text>
<text style="stroke-width:0.1px" x="518.3" y="680.95" font-size="6.4" text-anchor="end" class="g">Ahsa2</text>
<text style="stroke-width:0.1px" x="518.3" y="687.93" font-size="6.4" text-anchor="end" class="g">Hsph1</text>
<text style="stroke-width:0.1px" x="518.3" y="694.91" font-size="6.4" text-anchor="end" class="g">Bag3</text>
<text style="stroke-width:0.1px" x="518.3" y="701.89" font-size="6.4" text-anchor="end" class="g">Dedd2</text>
<text style="stroke-width:0.1px" x="518.3" y="708.87" font-size="6.4" text-anchor="end" class="g">Ccdc117</text>
<text style="stroke-width:0.1px" x="518.3" y="715.85" font-size="6.4" text-anchor="end" class="g">Ighm</text>
<text style="stroke-width:0.1px" x="518.3" y="722.83" font-size="6.4" text-anchor="end" class="g">Igf2bp1</text>
<text style="stroke-width:0.1px" x="518.3" y="729.81" font-size="6.4" text-anchor="end" class="g">Ighg3</text>
<text style="stroke-width:0.1px" x="518.3" y="736.79" font-size="6.4" text-anchor="end" class="g">Iglv1</text>
<text style="stroke-width:0.1px" x="518.3" y="743.77" font-size="6.4" text-anchor="end" class="g">Igkv3-2</text>
<text style="stroke-width:0.1px" x="518.3" y="750.75" font-size="6.4" text-anchor="end" class="g">Trp53i11</text>
<text style="stroke-width:0.1px" x="518.3" y="757.73" font-size="6.4" text-anchor="end" class="g">Kcnj8</text>
<text style="stroke-width:0.1px" x="518.3" y="764.71" font-size="6.4" text-anchor="end" class="g">Sparcl1</text>
<text style="stroke-width:0.1px" x="518.3" y="771.69" font-size="6.4" text-anchor="end" class="g">Sorbs1</text>
<text style="stroke-width:0.1px" x="518.3" y="778.67" font-size="6.4" text-anchor="end" class="g">Rcan2</text>
<text style="stroke-width:0.1px" x="518.3" y="785.65" font-size="6.4" text-anchor="end" class="g">Fabp4</text>
<text style="stroke-width:0.1px" x="518.3" y="792.63" font-size="6.4" text-anchor="end" class="g">Itga10</text>
<text style="stroke-width:0.1px" x="518.3" y="799.61" font-size="6.4" text-anchor="end" class="g">Gm45062</text>
<text x="587" y="445.2" font-size="9.5" text-anchor="middle">Top 50 genes</text>
<path d="M521 803.8H561.8M566.8 803.8H605.4M611.8 803.8H652.4" stroke="#777" stroke-width="1.2"/>
<text x="541.2" y="814.6" font-size="8.7" text-anchor="middle">Control</text>
<text x="586.1" y="814.6" font-size="8.7" text-anchor="middle">RT</text>
<text x="634.4" y="814.6" font-size="8.6" text-anchor="middle">RT+MnBTC-Ru</text>
<defs><linearGradient id="zs" x1="0" y1="0" x2="0" y2="1"><stop offset="0" stop-color="#d6303e"/><stop offset="0.25" stop-color="#ec8c98"/><stop offset="0.48" stop-color="#ffffff"/><stop offset="0.75" stop-color="#8ab4dc"/><stop offset="1" stop-color="#2a6ebb"/></linearGradient></defs>
<rect x="663.9" y="610.2" width="8" height="40.7" fill="url(#zs)"/>
<text x="660.2" y="606.2" font-size="7.3">Z-score</text>
<text x="674.4" y="618.7" font-size="7.8">2</text>
<text x="674.4" y="628.8" font-size="7.8">1</text>
<text x="674.4" y="639.3" font-size="7.8">0</text>
<text x="672.6" y="649.7" font-size="7.8">-1</text>
<rect x="172.0" y="599.5" width="67.7" height="179.8" fill="#fff" stroke="#bdbdbd" stroke-width="0.8"/>
<path d="M180.0 599.5V779.3 M190.2 599.5V779.3 M200.3 599.5V779.3 M210.4 599.5V779.3 M220.6 599.5V779.3 M230.8 599.5V779.3 M172.0 618.3H239.7 M172.0 631.2H239.7 M172.0 644.1H239.7 M172.0 656.9H239.7 M172.0 669.8H239.7 M172.0 682.7H239.7 M172.0 695.6H239.7 M172.0 708.5H239.7 M172.0 721.3H239.7 M172.0 734.2H239.7 M172.0 747.1H239.7 M172.0 760.0H239.7" stroke="#ececec" stroke-width="0.6"/>
<text x="169.7" y="621.0" font-size="8.65" text-anchor="end">immune response</text>
<path d="M170.3 618.3H172.3" stroke="#555" stroke-width="0.7"/>
<text x="169.7" y="633.9" font-size="8.65" text-anchor="end">immunoglobulin production</text>
<path d="M170.3 631.2H172.3" stroke="#555" stroke-width="0.7"/>
<text x="169.7" y="646.8" font-size="8.65" text-anchor="end">regulation of apoptotic process</text>
<path d="M170.3 644.1H172.3" stroke="#555" stroke-width="0.7"/>
<text x="169.7" y="659.6" font-size="8.65" text-anchor="end">immunoglobulin receptor binding</text>
<path d="M170.3 656.9H172.3" stroke="#555" stroke-width="0.7"/>
<text x="169.7" y="672.5" font-size="8.65" text-anchor="end">cytokine production</text>
<path d="M170.3 669.8H172.3" stroke="#555" stroke-width="0.7"/>
<text x="169.7" y="685.4" font-size="8.65" text-anchor="end">execution phase of apoptosis</text>
<path d="M170.3 682.7H172.3" stroke="#555" stroke-width="0.7"/>
<text x="169.7" y="698.3" font-size="8.65" text-anchor="end">myeloid dendritic cell differentiation</text>
<path d="M170.3 695.6H172.3" stroke="#555" stroke-width="0.7"/>
<text x="169.7" y="711.2" font-size="8.65" text-anchor="end">positive regulation of macrophage activation</text>
<path d="M170.3 708.5H172.3" stroke="#555" stroke-width="0.7"/>
<text x="169.7" y="724.0" font-size="8.65" text-anchor="end">neutrophil migration</text>
<path d="M170.3 721.3H172.3" stroke="#555" stroke-width="0.7"/>
<text x="169.7" y="736.9" font-size="8.65" text-anchor="end">apoptotic nuclear changes</text>
<path d="M170.3 734.2H172.3" stroke="#555" stroke-width="0.7"/>
<text x="169.7" y="749.8" font-size="8.65" text-anchor="end">chemokine metabolic process</text>
<path d="M170.3 747.1H172.3" stroke="#555" stroke-width="0.7"/>
<text x="169.7" y="762.7" font-size="8.65" text-anchor="end">organ or tissue specific immune response</text>
<path d="M170.3 760.0H172.3" stroke="#555" stroke-width="0.7"/>
<circle cx="181.2" cy="618.3" r="8.2" fill="#d9572a"/>
<circle cx="183.5" cy="631.2" r="6.4" fill="#f23532"/>
<circle cx="181.5" cy="644.1" r="4.6" fill="#5cc63a"/>
<circle cx="182.3" cy="656.9" r="3.3" fill="#58c43a"/>
<circle cx="183.5" cy="669.8" r="1.9" fill="#2231ee"/>
<circle cx="184.8" cy="682.7" r="1.9" fill="#3d7fb5"/>
<circle cx="184.8" cy="695.6" r="1.9" fill="#2b9898"/>
<circle cx="184.8" cy="708.5" r="1.9" fill="#2b9898"/>
<circle cx="191.0" cy="721.3" r="1.9" fill="#84c033"/>
<circle cx="196.7" cy="734.2" r="1.9" fill="#b08a2e"/>
<circle cx="200.0" cy="747.1" r="1.9" fill="#c0802e"/>
<circle cx="230.2" cy="760.0" r="1.9" fill="#e0583a"/>
<path d="M180.0 779.3V781.8" stroke="#555" stroke-width="0.7"/>
<text style="stroke:#333" x="180.0" y="790.3" font-size="8.2" text-anchor="middle" fill="#333">0.0</text>
<path d="M200.3 779.3V781.8" stroke="#555" stroke-width="0.7"/>
<text style="stroke:#333" x="200.3" y="790.3" font-size="8.2" text-anchor="middle" fill="#333">0.2</text>
<path d="M220.6 779.3V781.8" stroke="#555" stroke-width="0.7"/>
<text style="stroke:#333" x="220.6" y="790.3" font-size="8.2" text-anchor="middle" fill="#333">0.4</text>
<text x="205.8" y="800.6" font-size="8.5" text-anchor="middle">Rich factor</text>
<text x="139.8" y="605.3" font-size="8.5" text-anchor="middle">GO term</text>
<text x="242.8" y="624.0" font-size="8.35">Gene number</text>
<circle cx="258.2" cy="634.3" r="1.5" fill="#2b2b2b"/>
<text x="267.5" y="637.3" font-size="8.4">1</text>
<circle cx="258.2" cy="643.6" r="3.0" fill="#2b2b2b"/>
<text x="267.5" y="646.6" font-size="8.4">2</text>
<circle cx="258.2" cy="653.1" r="4.5" fill="#2b2b2b"/>
<text x="267.5" y="656.1" font-size="8.4">3</text>
<circle cx="258.2" cy="667.3" r="6.2" fill="#2b2b2b"/>
<text x="267.5" y="670.3" font-size="8.4">4</text>
<circle cx="258.2" cy="686.6" r="8.2" fill="#2b2b2b"/>
<text x="267.5" y="689.6" font-size="8.4">5</text>
<text x="243.5" y="714" font-size="8.6"><tspan font-style="italic">p</tspan>-Value</text>
<defs><linearGradient id="pv" x1="0" y1="0" x2="0" y2="1"><stop offset="0" stop-color="#ff2010"/><stop offset="0.2" stop-color="#b05a18"/><stop offset="0.5" stop-color="#22dd22"/><stop offset="0.8" stop-color="#1a7aa8"/><stop offset="1" stop-color="#1010ff"/></linearGradient></defs>
<rect x="247.9" y="718.8" width="7.7" height="41.7" fill="url(#pv)"/>
<text x="258.2" y="732.8" font-size="8.4">0.025</text>
<text x="258.2" y="742.9" font-size="8.4">0.050</text>
<text x="258.2" y="752.7" font-size="8.4">0.075</text>
<text x="258.2" y="762.2" font-size="8.4">0.100</text>
<defs><filter id="bcb" x="-0.01" y="0" width="1.02" height="1"><feGaussianBlur stdDeviation="0.35 0"/></filter></defs>
<path d="M333.3 670.7H481.3 M333.3 666.4H481.3 M333.3 662.1H481.3 M333.3 657.8H481.3 M333.3 653.5H481.3 M333.3 649.2H481.3 M333.3 644.9H481.3 M333.3 640.6H481.3 M333.3 636.3H481.3 M333.3 632.0H481.3 M333.3 627.7H481.3 M354.9 623.9V672.1 M377.9 623.9V672.1 M400.8 623.9V672.1 M423.8 623.9V672.1 M446.7 623.9V672.1 M469.7 623.9V672.1" stroke="#efefef" stroke-width="0.6"/>
<path d="M371.1 623.9V672.1" stroke="#aaa" stroke-width="0.6" stroke-dasharray="1.2 1.2"/>
<path d="M333.3 625.5H481.3" stroke="#aaa" stroke-width="0.6" stroke-dasharray="1.2 1.2"/>
<path d="M331.5 666.4H333.3" stroke="#444" stroke-width="0.5"/>
<text style="stroke-width:0" x="331.1" y="668.4" font-size="5.6" text-anchor="end" fill="#333">0.0</text>
<path d="M331.5 657.8H333.3" stroke="#444" stroke-width="0.5"/>
<text style="stroke-width:0" x="331.1" y="659.8" font-size="5.6" text-anchor="end" fill="#333">0.1</text>
<path d="M331.5 649.2H333.3" stroke="#444" stroke-width="0.5"/>
<text style="stroke-width:0" x="331.1" y="651.2" font-size="5.6" text-anchor="end" fill="#333">0.2</text>
<path d="M331.5 640.6H333.3" stroke="#444" stroke-width="0.5"/>
<text style="stroke-width:0" x="331.1" y="642.6" font-size="5.6" text-anchor="end" fill="#333">0.3</text>
<path d="M331.5 632.0H333.3" stroke="#444" stroke-width="0.5"/>
<text style="stroke-width:0" x="331.1" y="634.0" font-size="5.6" text-anchor="end" fill="#333">0.4</text>
<rect x="333.3" y="672.1" width="148.0" height="11.1" fill="#fff"/>
<path d="M333.30 672.1h1.00v11.10h-1.00zM334.30 672.1h1.12v11.10h-1.12zM335.41 672.1h1.52v11.10h-1.52zM336.93 672.1h1.01v11.10h-1.01zM337.94 672.1h1.06v11.10h-1.06zM339.00 672.1h1.15v11.10h-1.15zM340.15 672.1h0.70v11.10h-0.70zM340.85 672.1h1.06v11.10h-1.06zM341.91 672.1h1.19v11.10h-1.19zM343.11 672.1h1.37v11.10h-1.37zM344.48 672.1h0.60v11.10h-0.60zM345.08 672.1h0.83v11.10h-0.83zM346.52 672.1h1.39v11.10h-1.39zM347.91 672.1h1.26v11.10h-1.26zM349.17 672.1h0.55v11.10h-0.55zM349.71 672.1h1.58v11.10h-1.58zM351.30 672.1h1.56v11.10h-1.56zM352.86 672.1h1.22v11.10h-1.22zM354.08 672.1h1.18v11.10h-1.18zM355.25 672.1h0.67v11.10h-0.67zM355.93 672.1h0.52v11.10h-0.52zM356.44 672.1h1.08v11.10h-1.08zM357.52 672.1h0.57v11.10h-0.57zM358.09 672.1h0.71v11.10h-0.71zM358.80 672.1h0.77v11.10h-0.77zM359.56 672.1h0.53v11.10h-0.53zM360.10 672.1h1.01v11.10h-1.01zM361.11 672.1h0.98v11.10h-0.98zM362.09 672.1h1.43v11.10h-1.43zM363.52 672.1h1.07v11.10h-1.07zM364.59 672.1h1.20v11.10h-1.20zM365.79 672.1h1.05v11.10h-1.05zM366.84 672.1h1.23v11.10h-1.23zM368.07 672.1h1.00v11.10h-1.00zM369.08 672.1h0.81v11.10h-0.81zM371.48 672.1h1.60v11.10h-1.60zM373.07 672.1h1.42v11.10h-1.42zM375.78 672.1h0.85v11.10h-0.85zM376.62 672.1h0.75v11.10h-0.75zM377.38 672.1h0.82v11.10h-0.82zM378.20 672.1h0.58v11.10h-0.58zM378.77 672.1h1.34v11.10h-1.34zM382.49 672.1h0.93v11.10h-0.93zM383.41 672.1h1.55v11.10h-1.55zM384.97 672.1h1.43v11.10h-1.43zM386.40 672.1h0.50v11.10h-0.50zM386.90 672.1h0.73v11.10h-0.73zM391.94 672.1h0.50v11.10h-0.50zM392.44 672.1h0.86v11.10h-0.86zM393.30 672.1h0.96v11.10h-0.96zM394.26 672.1h0.63v11.10h-0.63zM394.88 672.1h0.51v11.10h-0.51zM395.39 672.1h0.67v11.10h-0.67zM397.13 672.1h0.94v11.10h-0.94zM398.07 672.1h0.53v11.10h-0.53zM399.73 672.1h0.49v11.10h-0.49zM400.21 672.1h0.97v11.10h-0.97zM401.18 672.1h0.57v11.10h-0.57zM402.56 672.1h0.74v11.10h-0.74zM403.88 672.1h0.93v11.10h-0.93zM404.80 672.1h0.54v11.10h-0.54zM406.21 672.1h0.53v11.10h-0.53zM406.73 672.1h0.72v11.10h-0.72zM407.46 672.1h0.59v11.10h-0.59zM408.04 672.1h0.63v11.10h-0.63zM409.75 672.1h0.97v11.10h-0.97zM410.72 672.1h0.65v11.10h-0.65zM411.37 672.1h1.03v11.10h-1.03zM412.98 672.1h0.71v11.10h-0.71zM417.76 672.1h0.62v11.10h-0.62zM418.38 672.1h0.95v11.10h-0.95zM419.33 672.1h0.66v11.10h-0.66zM419.99 672.1h0.64v11.10h-0.64zM420.63 672.1h0.50v11.10h-0.50zM421.64 672.1h0.83v11.10h-0.83zM422.47 672.1h0.61v11.10h-0.61zM423.08 672.1h0.84v11.10h-0.84zM424.61 672.1h0.74v11.10h-0.74zM427.19 672.1h0.82v11.10h-0.82zM429.60 672.1h0.55v11.10h-0.55zM432.17 672.1h0.61v11.10h-0.61zM432.78 672.1h0.57v11.10h-0.57zM435.35 672.1h0.58v11.10h-0.58zM435.93 672.1h1.07v11.10h-1.07zM439.58 672.1h0.52v11.10h-0.52zM440.58 672.1h1.08v11.10h-1.08zM444.77 672.1h0.84v11.10h-0.84zM447.73 672.1h0.49v11.10h-0.49zM448.82 672.1h0.81v11.10h-0.81zM451.49 672.1h0.63v11.10h-0.63zM452.12 672.1h1.05v11.10h-1.05zM453.17 672.1h0.58v11.10h-0.58zM453.75 672.1h0.46v11.10h-0.46zM454.83 672.1h0.74v11.10h-0.74zM455.57 672.1h0.49v11.10h-0.49zM456.63 672.1h0.69v11.10h-0.69zM458.14 672.1h0.54v11.10h-0.54zM458.67 672.1h0.69v11.10h-0.69zM460.39 672.1h1.09v11.10h-1.09zM461.48 672.1h0.88v11.10h-0.88zM462.35 672.1h0.90v11.10h-0.90zM465.56 672.1h1.04v11.10h-1.04zM467.51 672.1h1.08v11.10h-1.08zM468.58 672.1h0.46v11.10h-0.46zM469.05 672.1h0.86v11.10h-0.86zM469.91 672.1h0.76v11.10h-0.76zM472.25 672.1h1.10v11.10h-1.10zM473.85 672.1h0.80v11.10h-0.80zM474.66 672.1h0.93v11.10h-0.93zM475.59 672.1h1.04v11.10h-1.04zM478.46 672.1h0.97v11.10h-0.97zM481.15 672.1h0.90v11.10h-0.90z" fill="#000" filter="url(#bcb)"/>
<rect x="337.6" y="672.1" width="1.7" height="11.1" fill="#fff"/>
<rect x="340.5" y="672.1" width="0.6" height="11.1" fill="#888"/>
<rect x="346.4" y="672.1" width="0.5" height="11.1" fill="#666"/>
<rect x="352.8" y="672.1" width="0.5" height="11.1" fill="#555"/>
<rect x="363.9" y="672.1" width="0.6" height="11.1" fill="#777"/>
<rect x="371.5" y="672.1" width="2.3" height="11.1" fill="#999"/>
<rect x="376" y="672.1" width="1.8" height="11.1" fill="#ccc"/>
<rect x="383.7" y="672.1" width="1.8" height="11.1" fill="#fff"/>
<rect x="388.4" y="672.1" width="1.2" height="11.1" fill="#eee"/>
<rect x="391.3" y="672.1" width="5.3" height="11.1" fill="#fff"/>
<rect x="398.9" y="672.1" width="1.1" height="11.1" fill="#fff"/>
<rect x="401.8" y="672.1" width="0.6" height="11.1" fill="#fff"/>
<rect x="404.8" y="672.1" width="1.1" height="11.1" fill="#fff"/>
<defs><linearGradient id="cb11" x1="0" y1="0" x2="1" y2="0"><stop offset="0.010" stop-color="#d24b5b"/><stop offset="0.204" stop-color="#d24b5b"/><stop offset="0.224" stop-color="#e2808d"/><stop offset="0.380" stop-color="#e2808d"/><stop offset="0.400" stop-color="#eea8b2"/><stop offset="0.474" stop-color="#eea8b2"/><stop offset="0.495" stop-color="#efb2bb"/><stop offset="0.630" stop-color="#efb2bb"/><stop offset="0.650" stop-color="#f6d8dd"/><stop offset="0.745" stop-color="#f6d8dd"/><stop offset="0.765" stop-color="#dce6f2"/><stop offset="0.812" stop-color="#dce6f2"/><stop offset="0.832" stop-color="#aac6e6"/><stop offset="0.873" stop-color="#aac6e6"/><stop offset="0.893" stop-color="#7ca8d8"/><stop offset="0.920" stop-color="#7ca8d8"/><stop offset="0.941" stop-color="#4a86c8"/><stop offset="0.990" stop-color="#4a86c8"/></linearGradient></defs>
<rect x="333.3" y="683.2" width="148.0" height="4.9" fill="url(#cb11)"/>
<polyline points="333.3,666.4 335.3,658.5 337.6,652.6 339.3,652.1 341.1,650.9 342.8,648.3 345.2,642.3 348.1,637.2 352.2,632.0 356.9,629.4 362.1,627.0 365.0,626.8 370.3,625.5 376.7,627.7 386.0,631.1 395.4,635.8 405.0,640.6 416.7,646.9 428.4,652.6 440.0,658.5 451.7,663.8 459.3,667.3 465.7,667.9 469.2,667.0 474.5,668.5 478.0,666.4 481.3,666.6" fill="none" stroke="#e0505e" stroke-width="0.9" stroke-linejoin="round"/>
<rect x="333.3" y="623.9" width="148.0" height="64.2" fill="none" stroke="#c8c8c8" stroke-width="0.7"/>
<path d="M333.3 671.8000000000001H481.3" stroke="#999" stroke-width="0.6"/>
<text x="405.3" y="616.8" font-size="8.45" text-anchor="middle">Immune response</text>
<text style="stroke-width:0" x="417.8" y="631.7" font-size="5.2" fill="#222">ES = 0.47215125</text>
<text style="stroke-width:0" x="417.8" y="637.6" font-size="5.2" fill="#222"><tspan font-style="italic">p</tspan>-Value = 0</text>
<text style="stroke-width:0" x="417.8" y="643.4" font-size="5.2" fill="#222">FDR Value = 0.010644214</text>
<text style="stroke-width:0" x="336.8" y="663.4" font-size="5.3" fill="#d84050">RT+MnBTC-Ru</text>
<text style="stroke-width:0" x="465.1" y="663.4" font-size="5.3" fill="#3c78c0">RT</text>
<path d="M333.3 770.5H481.3 M333.3 766.1H481.3 M333.3 761.8H481.3 M333.3 757.4H481.3 M333.3 753.1H481.3 M333.3 748.7H481.3 M333.3 744.4H481.3 M333.3 740.0H481.3 M333.3 735.6H481.3 M333.3 731.3H481.3 M333.3 727.0H481.3 M354.9 725.9V774.7 M377.9 725.9V774.7 M400.8 725.9V774.7 M423.8 725.9V774.7 M446.7 725.9V774.7 M469.7 725.9V774.7" stroke="#efefef" stroke-width="0.6"/>
<path d="M371.5 725.9V774.7" stroke="#aaa" stroke-width="0.6" stroke-dasharray="1.2 1.2"/>
<path d="M333.3 728.1H481.3" stroke="#aaa" stroke-width="0.6" stroke-dasharray="1.2 1.2"/>
<path d="M331.5 766.1H333.3" stroke="#444" stroke-width="0.5"/>
<text style="stroke-width:0" x="331.1" y="768.1" font-size="5.6" text-anchor="end" fill="#333">0.0</text>
<path d="M331.5 757.4H333.3" stroke="#444" stroke-width="0.5"/>
<text style="stroke-width:0" x="331.1" y="759.4" font-size="5.6" text-anchor="end" fill="#333">0.1</text>
<path d="M331.5 748.7H333.3" stroke="#444" stroke-width="0.5"/>
<text style="stroke-width:0" x="331.1" y="750.7" font-size="5.6" text-anchor="end" fill="#333">0.2</text>
<path d="M331.5 740.0H333.3" stroke="#444" stroke-width="0.5"/>
<text style="stroke-width:0" x="331.1" y="742.0" font-size="5.6" text-anchor="end" fill="#333">0.3</text>
<path d="M331.5 731.3H333.3" stroke="#444" stroke-width="0.5"/>
<text style="stroke-width:0" x="331.1" y="733.3" font-size="5.6" text-anchor="end" fill="#333">0.4</text>
<rect x="333.3" y="774.7" width="148.0" height="10.7" fill="#fff"/>
<path d="M333.30 774.7h1.52v10.70h-1.52zM334.82 774.7h1.54v10.70h-1.54zM336.36 774.7h1.48v10.70h-1.48zM337.84 774.7h0.59v10.70h-0.59zM338.43 774.7h1.15v10.70h-1.15zM339.59 774.7h0.97v10.70h-0.97zM340.55 774.7h1.08v10.70h-1.08zM341.63 774.7h0.64v10.70h-0.64zM342.28 774.7h0.71v10.70h-0.71zM342.99 774.7h0.99v10.70h-0.99zM343.98 774.7h0.74v10.70h-0.74zM344.72 774.7h1.00v10.70h-1.00zM345.72 774.7h0.53v10.70h-0.53zM346.25 774.7h0.59v10.70h-0.59zM346.84 774.7h1.28v10.70h-1.28zM348.12 774.7h0.96v10.70h-0.96zM349.09 774.7h1.06v10.70h-1.06zM350.15 774.7h1.31v10.70h-1.31zM351.46 774.7h0.89v10.70h-0.89zM352.35 774.7h0.56v10.70h-0.56zM352.92 774.7h1.36v10.70h-1.36zM354.28 774.7h1.15v10.70h-1.15zM355.43 774.7h1.22v10.70h-1.22zM356.65 774.7h1.18v10.70h-1.18zM357.83 774.7h1.57v10.70h-1.57zM359.40 774.7h0.90v10.70h-0.90zM360.30 774.7h1.34v10.70h-1.34zM361.64 774.7h0.91v10.70h-0.91zM362.54 774.7h1.13v10.70h-1.13zM363.67 774.7h1.23v10.70h-1.23zM364.90 774.7h0.85v10.70h-0.85zM365.74 774.7h0.59v10.70h-0.59zM366.34 774.7h1.02v10.70h-1.02zM367.36 774.7h1.29v10.70h-1.29zM368.65 774.7h1.15v10.70h-1.15zM369.80 774.7h0.99v10.70h-0.99zM370.79 774.7h1.21v10.70h-1.21zM372.00 774.7h0.70v10.70h-0.70zM372.70 774.7h0.70v10.70h-0.70zM373.39 774.7h0.86v10.70h-0.86zM374.25 774.7h1.40v10.70h-1.40zM376.36 774.7h0.63v10.70h-0.63zM376.99 774.7h0.61v10.70h-0.61zM377.60 774.7h0.54v10.70h-0.54zM378.14 774.7h0.80v10.70h-0.80zM378.94 774.7h1.13v10.70h-1.13zM381.48 774.7h0.86v10.70h-0.86zM382.34 774.7h0.91v10.70h-0.91zM383.25 774.7h0.82v10.70h-0.82zM384.06 774.7h0.84v10.70h-0.84zM386.25 774.7h1.10v10.70h-1.10zM390.12 774.7h0.91v10.70h-0.91zM391.03 774.7h0.99v10.70h-0.99zM392.02 774.7h0.60v10.70h-0.60zM392.63 774.7h0.80v10.70h-0.80zM393.43 774.7h1.05v10.70h-1.05zM394.48 774.7h0.84v10.70h-0.84zM395.31 774.7h1.06v10.70h-1.06zM396.38 774.7h0.56v10.70h-0.56zM396.94 774.7h1.08v10.70h-1.08zM398.02 774.7h0.49v10.70h-0.49zM398.51 774.7h0.72v10.70h-0.72zM399.23 774.7h0.47v10.70h-0.47zM399.69 774.7h0.98v10.70h-0.98zM400.67 774.7h0.90v10.70h-0.90zM402.65 774.7h0.97v10.70h-0.97zM403.62 774.7h1.07v10.70h-1.07zM404.69 774.7h0.80v10.70h-0.80zM405.49 774.7h1.09v10.70h-1.09zM407.52 774.7h0.67v10.70h-0.67zM408.19 774.7h1.08v10.70h-1.08zM409.97 774.7h0.58v10.70h-0.58zM411.04 774.7h0.75v10.70h-0.75zM412.38 774.7h1.06v10.70h-1.06zM416.40 774.7h0.56v10.70h-0.56zM416.96 774.7h0.80v10.70h-0.80zM418.74 774.7h0.61v10.70h-0.61zM419.36 774.7h0.72v10.70h-0.72zM420.08 774.7h1.04v10.70h-1.04zM421.12 774.7h0.74v10.70h-0.74zM421.86 774.7h0.67v10.70h-0.67zM426.47 774.7h0.72v10.70h-0.72zM427.19 774.7h0.90v10.70h-0.90zM429.08 774.7h0.87v10.70h-0.87zM429.94 774.7h0.60v10.70h-0.60zM430.55 774.7h0.64v10.70h-0.64zM431.19 774.7h0.72v10.70h-0.72zM431.90 774.7h0.95v10.70h-0.95zM432.86 774.7h0.81v10.70h-0.81zM433.67 774.7h0.81v10.70h-0.81zM434.48 774.7h0.99v10.70h-0.99zM435.98 774.7h0.86v10.70h-0.86zM439.32 774.7h0.61v10.70h-0.61zM439.93 774.7h1.07v10.70h-1.07zM441.00 774.7h0.50v10.70h-0.50zM442.31 774.7h0.80v10.70h-0.80zM443.11 774.7h0.60v10.70h-0.60zM443.72 774.7h0.81v10.70h-0.81zM444.53 774.7h0.76v10.70h-0.76zM446.03 774.7h0.92v10.70h-0.92zM447.40 774.7h0.70v10.70h-0.70zM449.06 774.7h0.54v10.70h-0.54zM450.61 774.7h0.58v10.70h-0.58zM453.39 774.7h0.72v10.70h-0.72zM455.52 774.7h0.76v10.70h-0.76zM457.18 774.7h0.80v10.70h-0.80zM457.98 774.7h0.81v10.70h-0.81zM461.77 774.7h1.02v10.70h-1.02zM462.79 774.7h1.01v10.70h-1.01zM463.80 774.7h0.77v10.70h-0.77zM467.26 774.7h0.64v10.70h-0.64zM469.24 774.7h0.65v10.70h-0.65zM470.96 774.7h0.67v10.70h-0.67zM471.63 774.7h0.70v10.70h-0.70zM472.33 774.7h0.72v10.70h-0.72zM474.03 774.7h0.76v10.70h-0.76zM475.60 774.7h0.62v10.70h-0.62zM477.36 774.7h0.59v10.70h-0.59zM477.95 774.7h0.62v10.70h-0.62zM480.35 774.7h0.52v10.70h-0.52z" fill="#000" filter="url(#bcb)"/>
<rect x="339.3" y="774.7" width="1.0" height="10.7" fill="#555"/>
<rect x="360.5" y="774.7" width="0.6" height="10.7" fill="#bbb"/>
<rect x="363.5" y="774.7" width="0.6" height="10.7" fill="#999"/>
<rect x="372" y="774.7" width="0.6" height="10.7" fill="#ccc"/>
<rect x="377.5" y="774.7" width="0.6" height="10.7" fill="#aaa"/>
<rect x="380.3" y="774.7" width="0.6" height="10.7" fill="#888"/>
<rect x="395.5" y="774.7" width="0.5" height="10.7" fill="#aaa"/>
<rect x="400.2" y="774.7" width="0.5" height="10.7" fill="#eee"/>
<rect x="403.5" y="774.7" width="0.6" height="10.7" fill="#999"/>
<rect x="408" y="774.7" width="1.5" height="10.7" fill="#fff"/>
<rect x="424" y="774.7" width="1.0" height="10.7" fill="#eee"/>
<defs><linearGradient id="cb23" x1="0" y1="0" x2="1" y2="0"><stop offset="0.010" stop-color="#d24b5b"/><stop offset="0.245" stop-color="#d24b5b"/><stop offset="0.265" stop-color="#e2808d"/><stop offset="0.400" stop-color="#e2808d"/><stop offset="0.420" stop-color="#eca4ae"/><stop offset="0.474" stop-color="#eca4ae"/><stop offset="0.495" stop-color="#efb0ba"/><stop offset="0.582" stop-color="#efb0ba"/><stop offset="0.603" stop-color="#f6d8dd"/><stop offset="0.704" stop-color="#f6d8dd"/><stop offset="0.724" stop-color="#dce6f2"/><stop offset="0.778" stop-color="#dce6f2"/><stop offset="0.799" stop-color="#aac6e6"/><stop offset="0.846" stop-color="#aac6e6"/><stop offset="0.866" stop-color="#6f9ed4"/><stop offset="0.920" stop-color="#6f9ed4"/><stop offset="0.941" stop-color="#4a86c8"/><stop offset="0.990" stop-color="#4a86c8"/></linearGradient></defs>
<rect x="333.3" y="785.4" width="148.0" height="4.7" fill="url(#cb23)"/>
<polyline points="333.3,766.1 335.3,764.0 337.0,758.3 339.3,755.2 344.0,747.0 348.7,739.6 351.0,736.5 355.7,734.3 359.2,730.9 363.9,729.6 367.4,729.1 371.5,728.1 376.1,728.4 381.4,730.9 384.9,731.6 390.7,733.7 400.1,739.0 405.0,741.3 416.7,748.4 428.4,754.7 440.0,760.0 448.2,761.8 457.6,765.8 465.7,768.1 472.7,769.3 478.6,770.9 481.3,767.5" fill="none" stroke="#e0505e" stroke-width="0.9" stroke-linejoin="round"/>
<rect x="333.3" y="725.9" width="148.0" height="64.2" fill="none" stroke="#c8c8c8" stroke-width="0.7"/>
<path d="M333.3 774.4000000000001H481.3" stroke="#999" stroke-width="0.6"/>
<text x="409.7" y="717.2" font-size="8.45" text-anchor="middle">Immune system process</text>
<text style="stroke-width:0" x="417.8" y="733.7" font-size="5.2" fill="#222">ES = 0.43643692</text>
<text style="stroke-width:0" x="417.8" y="739.6" font-size="5.2" fill="#222"><tspan font-style="italic">p</tspan>-Value = 0</text>
<text style="stroke-width:0" x="417.8" y="745.4" font-size="5.2" fill="#222">FDR Value = 0.021368448</text>
<text style="stroke-width:0" x="336.8" y="764.6" font-size="5.3" fill="#d84050">RT+MnBTC-Ru</text>
<text style="stroke-width:0" x="462.8" y="764.6" font-size="5.3" fill="#3c78c0">RT</text>
<path d="M321.7 623.6V789" stroke="#222" stroke-width="1"/>
<text transform="translate(317.4,706.4) rotate(-90)" font-size="8.2" text-anchor="middle">Running enrichment score</text>
</svg>
</body></html>
